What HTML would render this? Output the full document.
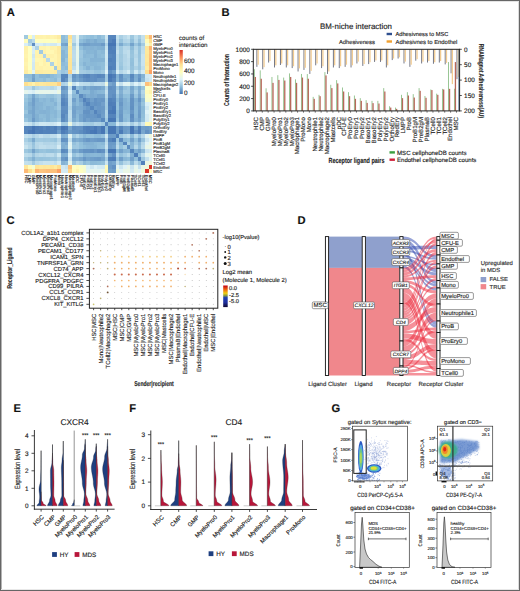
<!DOCTYPE html>
<html><head><meta charset="utf-8"><style>
html,body{margin:0;padding:0;background:#fff;}
svg{display:block;font-family:"Liberation Sans",sans-serif;text-rendering:geometricPrecision;}
text{stroke:#222;stroke-width:0.14px;}
</style></head><body>
<svg width="520" height="591" viewBox="0 0 520 591">
<rect x="0" y="0" width="520" height="591" fill="#fff"/>
<g shape-rendering="crispEdges">
<rect x="24.40" y="34.60" width="3.70" height="4.01" fill="#a0c9e0" />
<rect x="28.05" y="34.60" width="3.70" height="4.01" fill="#fffcba" />
<rect x="31.70" y="34.60" width="3.70" height="4.01" fill="#d8eef5" />
<rect x="35.35" y="34.60" width="3.70" height="4.01" fill="#fff1a9" />
<rect x="39.01" y="34.60" width="3.70" height="4.01" fill="#fff2ab" />
<rect x="42.66" y="34.60" width="3.70" height="4.01" fill="#fff4ae" />
<rect x="46.31" y="34.60" width="3.70" height="4.01" fill="#fff1aa" />
<rect x="49.96" y="34.60" width="3.70" height="4.01" fill="#fff4ae" />
<rect x="53.61" y="34.60" width="3.70" height="4.01" fill="#fff1ab" />
<rect x="57.26" y="34.60" width="3.70" height="4.01" fill="#feeca2" />
<rect x="60.91" y="34.60" width="3.70" height="4.01" fill="#8ebcda" />
<rect x="64.57" y="34.60" width="3.70" height="4.01" fill="#9ac5de" />
<rect x="68.22" y="34.60" width="3.70" height="4.01" fill="#fedf90" />
<rect x="71.87" y="34.60" width="3.70" height="4.01" fill="#beddec" />
<rect x="75.52" y="34.60" width="3.70" height="4.01" fill="#e6f5ed" />
<rect x="79.17" y="34.60" width="3.70" height="4.01" fill="#a3cbe2" />
<rect x="82.82" y="34.60" width="3.70" height="4.01" fill="#99c5de" />
<rect x="86.47" y="34.60" width="3.70" height="4.01" fill="#93c0dc" />
<rect x="90.13" y="34.60" width="3.70" height="4.01" fill="#90bedb" />
<rect x="93.78" y="34.60" width="3.70" height="4.01" fill="#9ac5de" />
<rect x="97.43" y="34.60" width="3.70" height="4.01" fill="#8bb9d8" />
<rect x="101.08" y="34.60" width="3.70" height="4.01" fill="#98c4de" />
<rect x="104.73" y="34.60" width="3.70" height="4.01" fill="#d0e8f2" />
<rect x="108.38" y="34.60" width="3.70" height="4.01" fill="#5686bd" />
<rect x="112.03" y="34.60" width="3.70" height="4.01" fill="#5685bd" />
<rect x="115.69" y="34.60" width="3.70" height="4.01" fill="#c4e1ee" />
<rect x="119.34" y="34.60" width="3.70" height="4.01" fill="#a9cfe4" />
<rect x="122.99" y="34.60" width="3.70" height="4.01" fill="#b9d9ea" />
<rect x="126.64" y="34.60" width="3.70" height="4.01" fill="#c6e2ee" />
<rect x="130.29" y="34.60" width="3.70" height="4.01" fill="#9dc7df" />
<rect x="133.94" y="34.60" width="3.70" height="4.01" fill="#bcdceb" />
<rect x="137.59" y="34.60" width="3.70" height="4.01" fill="#a5cce2" />
<rect x="141.25" y="34.60" width="3.70" height="4.01" fill="#c3e0ed" />
<rect x="144.90" y="34.60" width="3.70" height="4.01" fill="#fee79b" />
<rect x="148.55" y="34.60" width="3.70" height="4.01" fill="#fdb976" />
<rect x="24.40" y="38.56" width="3.70" height="4.01" fill="#fffcba" />
<rect x="28.05" y="38.56" width="3.70" height="4.01" fill="#a5cce2" />
<rect x="31.70" y="38.56" width="3.70" height="4.01" fill="#badaea" />
<rect x="35.35" y="38.56" width="3.70" height="4.01" fill="#fefec2" />
<rect x="39.01" y="38.56" width="3.70" height="4.01" fill="#fdfec4" />
<rect x="42.66" y="38.56" width="3.70" height="4.01" fill="#fffebe" />
<rect x="46.31" y="38.56" width="3.70" height="4.01" fill="#ffffbf" />
<rect x="49.96" y="38.56" width="3.70" height="4.01" fill="#fcfec4" />
<rect x="53.61" y="38.56" width="3.70" height="4.01" fill="#feffc0" />
<rect x="57.26" y="38.56" width="3.70" height="4.01" fill="#fff8b4" />
<rect x="60.91" y="38.56" width="3.70" height="4.01" fill="#8dbbd9" />
<rect x="64.57" y="38.56" width="3.70" height="4.01" fill="#90beda" />
<rect x="68.22" y="38.56" width="3.70" height="4.01" fill="#fee99e" />
<rect x="71.87" y="38.56" width="3.70" height="4.01" fill="#bedceb" />
<rect x="75.52" y="38.56" width="3.70" height="4.01" fill="#dff2f7" />
<rect x="79.17" y="38.56" width="3.70" height="4.01" fill="#91bfdb" />
<rect x="82.82" y="38.56" width="3.70" height="4.01" fill="#88b6d6" />
<rect x="86.47" y="38.56" width="3.70" height="4.01" fill="#7eadd1" />
<rect x="90.13" y="38.56" width="3.70" height="4.01" fill="#84b2d4" />
<rect x="93.78" y="38.56" width="3.70" height="4.01" fill="#7cabd0" />
<rect x="97.43" y="38.56" width="3.70" height="4.01" fill="#86b5d6" />
<rect x="101.08" y="38.56" width="3.70" height="4.01" fill="#88b6d6" />
<rect x="104.73" y="38.56" width="3.70" height="4.01" fill="#c6e2ee" />
<rect x="108.38" y="38.56" width="3.70" height="4.01" fill="#5483bb" />
<rect x="112.03" y="38.56" width="3.70" height="4.01" fill="#4b7ab7" />
<rect x="115.69" y="38.56" width="3.70" height="4.01" fill="#bcdbeb" />
<rect x="119.34" y="38.56" width="3.70" height="4.01" fill="#97c3dd" />
<rect x="122.99" y="38.56" width="3.70" height="4.01" fill="#b1d4e7" />
<rect x="126.64" y="38.56" width="3.70" height="4.01" fill="#b5d7e8" />
<rect x="130.29" y="38.56" width="3.70" height="4.01" fill="#92bfdb" />
<rect x="133.94" y="38.56" width="3.70" height="4.01" fill="#b7d8e9" />
<rect x="137.59" y="38.56" width="3.70" height="4.01" fill="#95c1dc" />
<rect x="141.25" y="38.56" width="3.70" height="4.01" fill="#beddec" />
<rect x="144.90" y="38.56" width="3.70" height="4.01" fill="#fffbb9" />
<rect x="148.55" y="38.56" width="3.70" height="4.01" fill="#fedf8f" />
<rect x="24.40" y="42.52" width="3.70" height="4.01" fill="#d8eef5" />
<rect x="28.05" y="42.52" width="3.70" height="4.01" fill="#badaea" />
<rect x="31.70" y="42.52" width="3.70" height="4.01" fill="#608fc2" />
<rect x="35.35" y="42.52" width="3.70" height="4.01" fill="#d4ebf4" />
<rect x="39.01" y="42.52" width="3.70" height="4.01" fill="#d9eef5" />
<rect x="42.66" y="42.52" width="3.70" height="4.01" fill="#cee7f1" />
<rect x="46.31" y="42.52" width="3.70" height="4.01" fill="#d5ecf4" />
<rect x="49.96" y="42.52" width="3.70" height="4.01" fill="#d1e9f2" />
<rect x="53.61" y="42.52" width="3.70" height="4.01" fill="#d0e8f2" />
<rect x="57.26" y="42.52" width="3.70" height="4.01" fill="#e1f4f5" />
<rect x="60.91" y="42.52" width="3.70" height="4.01" fill="#77a6ce" />
<rect x="64.57" y="42.52" width="3.70" height="4.01" fill="#72a1cb" />
<rect x="68.22" y="42.52" width="3.70" height="4.01" fill="#fff2ab" />
<rect x="71.87" y="42.52" width="3.70" height="4.01" fill="#9fc8e0" />
<rect x="75.52" y="42.52" width="3.70" height="4.01" fill="#d6edf4" />
<rect x="79.17" y="42.52" width="3.70" height="4.01" fill="#77a6ce" />
<rect x="82.82" y="42.52" width="3.70" height="4.01" fill="#6f9eca" />
<rect x="86.47" y="42.52" width="3.70" height="4.01" fill="#719fca" />
<rect x="90.13" y="42.52" width="3.70" height="4.01" fill="#76a5cd" />
<rect x="93.78" y="42.52" width="3.70" height="4.01" fill="#75a4cd" />
<rect x="97.43" y="42.52" width="3.70" height="4.01" fill="#76a4cd" />
<rect x="101.08" y="42.52" width="3.70" height="4.01" fill="#6c9bc8" />
<rect x="104.73" y="42.52" width="3.70" height="4.01" fill="#aed2e6" />
<rect x="108.38" y="42.52" width="3.70" height="4.01" fill="#4575b4" />
<rect x="112.03" y="42.52" width="3.70" height="4.01" fill="#4575b4" />
<rect x="115.69" y="42.52" width="3.70" height="4.01" fill="#abd0e5" />
<rect x="119.34" y="42.52" width="3.70" height="4.01" fill="#7baad0" />
<rect x="122.99" y="42.52" width="3.70" height="4.01" fill="#96c2dd" />
<rect x="126.64" y="42.52" width="3.70" height="4.01" fill="#9cc6df" />
<rect x="130.29" y="42.52" width="3.70" height="4.01" fill="#74a3cc" />
<rect x="133.94" y="42.52" width="3.70" height="4.01" fill="#9bc5df" />
<rect x="137.59" y="42.52" width="3.70" height="4.01" fill="#82b1d3" />
<rect x="141.25" y="42.52" width="3.70" height="4.01" fill="#a3cbe2" />
<rect x="144.90" y="42.52" width="3.70" height="4.01" fill="#f4fbd4" />
<rect x="148.55" y="42.52" width="3.70" height="4.01" fill="#fff3ac" />
<rect x="24.40" y="46.48" width="3.70" height="4.01" fill="#fff1a9" />
<rect x="28.05" y="46.48" width="3.70" height="4.01" fill="#fefec2" />
<rect x="31.70" y="46.48" width="3.70" height="4.01" fill="#d4ebf4" />
<rect x="35.35" y="46.48" width="3.70" height="4.01" fill="#aed2e6" />
<rect x="39.01" y="46.48" width="3.70" height="4.01" fill="#fff4ae" />
<rect x="42.66" y="46.48" width="3.70" height="4.01" fill="#fff3ad" />
<rect x="46.31" y="46.48" width="3.70" height="4.01" fill="#fff7b4" />
<rect x="49.96" y="46.48" width="3.70" height="4.01" fill="#fff2ab" />
<rect x="53.61" y="46.48" width="3.70" height="4.01" fill="#fff3ac" />
<rect x="57.26" y="46.48" width="3.70" height="4.01" fill="#feea9f" />
<rect x="60.91" y="46.48" width="3.70" height="4.01" fill="#91bfdb" />
<rect x="64.57" y="46.48" width="3.70" height="4.01" fill="#90bedb" />
<rect x="68.22" y="46.48" width="3.70" height="4.01" fill="#fee699" />
<rect x="71.87" y="46.48" width="3.70" height="4.01" fill="#b5d7e8" />
<rect x="75.52" y="46.48" width="3.70" height="4.01" fill="#e5f5ef" />
<rect x="79.17" y="46.48" width="3.70" height="4.01" fill="#91bfdb" />
<rect x="82.82" y="46.48" width="3.70" height="4.01" fill="#82b1d4" />
<rect x="86.47" y="46.48" width="3.70" height="4.01" fill="#85b3d5" />
<rect x="90.13" y="46.48" width="3.70" height="4.01" fill="#84b2d4" />
<rect x="93.78" y="46.48" width="3.70" height="4.01" fill="#87b5d6" />
<rect x="97.43" y="46.48" width="3.70" height="4.01" fill="#82b1d3" />
<rect x="101.08" y="46.48" width="3.70" height="4.01" fill="#81b0d3" />
<rect x="104.73" y="46.48" width="3.70" height="4.01" fill="#c4e1ee" />
<rect x="108.38" y="46.48" width="3.70" height="4.01" fill="#4d7db8" />
<rect x="112.03" y="46.48" width="3.70" height="4.01" fill="#5181ba" />
<rect x="115.69" y="46.48" width="3.70" height="4.01" fill="#b7d8e9" />
<rect x="119.34" y="46.48" width="3.70" height="4.01" fill="#a1cae1" />
<rect x="122.99" y="46.48" width="3.70" height="4.01" fill="#b7d8e9" />
<rect x="126.64" y="46.48" width="3.70" height="4.01" fill="#b6d7e8" />
<rect x="130.29" y="46.48" width="3.70" height="4.01" fill="#8ebcd9" />
<rect x="133.94" y="46.48" width="3.70" height="4.01" fill="#b3d5e7" />
<rect x="137.59" y="46.48" width="3.70" height="4.01" fill="#99c4de" />
<rect x="141.25" y="46.48" width="3.70" height="4.01" fill="#bbdbea" />
<rect x="144.90" y="46.48" width="3.70" height="4.01" fill="#fee598" />
<rect x="148.55" y="46.48" width="3.70" height="4.01" fill="#fdb473" />
<rect x="24.40" y="50.44" width="3.70" height="4.01" fill="#fff2ab" />
<rect x="28.05" y="50.44" width="3.70" height="4.01" fill="#fdfec4" />
<rect x="31.70" y="50.44" width="3.70" height="4.01" fill="#d9eef5" />
<rect x="35.35" y="50.44" width="3.70" height="4.01" fill="#fff4ae" />
<rect x="39.01" y="50.44" width="3.70" height="4.01" fill="#a2cae1" />
<rect x="42.66" y="50.44" width="3.70" height="4.01" fill="#fff2ac" />
<rect x="46.31" y="50.44" width="3.70" height="4.01" fill="#fff7b2" />
<rect x="49.96" y="50.44" width="3.70" height="4.01" fill="#fff8b4" />
<rect x="53.61" y="50.44" width="3.70" height="4.01" fill="#fff2ab" />
<rect x="57.26" y="50.44" width="3.70" height="4.01" fill="#feeca3" />
<rect x="60.91" y="50.44" width="3.70" height="4.01" fill="#87b5d6" />
<rect x="64.57" y="50.44" width="3.70" height="4.01" fill="#93c0dc" />
<rect x="68.22" y="50.44" width="3.70" height="4.01" fill="#fee99d" />
<rect x="71.87" y="50.44" width="3.70" height="4.01" fill="#bcdbeb" />
<rect x="75.52" y="50.44" width="3.70" height="4.01" fill="#e7f6ea" />
<rect x="79.17" y="50.44" width="3.70" height="4.01" fill="#9ec8e0" />
<rect x="82.82" y="50.44" width="3.70" height="4.01" fill="#8dbbd9" />
<rect x="86.47" y="50.44" width="3.70" height="4.01" fill="#86b4d5" />
<rect x="90.13" y="50.44" width="3.70" height="4.01" fill="#87b6d6" />
<rect x="93.78" y="50.44" width="3.70" height="4.01" fill="#84b2d4" />
<rect x="97.43" y="50.44" width="3.70" height="4.01" fill="#8ebcd9" />
<rect x="101.08" y="50.44" width="3.70" height="4.01" fill="#8ab8d7" />
<rect x="104.73" y="50.44" width="3.70" height="4.01" fill="#cfe8f2" />
<rect x="108.38" y="50.44" width="3.70" height="4.01" fill="#5180ba" />
<rect x="112.03" y="50.44" width="3.70" height="4.01" fill="#4f7fb9" />
<rect x="115.69" y="50.44" width="3.70" height="4.01" fill="#c4e0ee" />
<rect x="119.34" y="50.44" width="3.70" height="4.01" fill="#a3cbe2" />
<rect x="122.99" y="50.44" width="3.70" height="4.01" fill="#bbdbeb" />
<rect x="126.64" y="50.44" width="3.70" height="4.01" fill="#c1deec" />
<rect x="130.29" y="50.44" width="3.70" height="4.01" fill="#97c3dd" />
<rect x="133.94" y="50.44" width="3.70" height="4.01" fill="#badaea" />
<rect x="137.59" y="50.44" width="3.70" height="4.01" fill="#96c3dd" />
<rect x="141.25" y="50.44" width="3.70" height="4.01" fill="#c2dfed" />
<rect x="144.90" y="50.44" width="3.70" height="4.01" fill="#fee99d" />
<rect x="148.55" y="50.44" width="3.70" height="4.01" fill="#fdc57e" />
<rect x="24.40" y="54.40" width="3.70" height="4.01" fill="#fff4ae" />
<rect x="28.05" y="54.40" width="3.70" height="4.01" fill="#fffebe" />
<rect x="31.70" y="54.40" width="3.70" height="4.01" fill="#cee7f1" />
<rect x="35.35" y="54.40" width="3.70" height="4.01" fill="#fff3ad" />
<rect x="39.01" y="54.40" width="3.70" height="4.01" fill="#fff2ac" />
<rect x="42.66" y="54.40" width="3.70" height="4.01" fill="#b0d3e6" />
<rect x="46.31" y="54.40" width="3.70" height="4.01" fill="#fff1aa" />
<rect x="49.96" y="54.40" width="3.70" height="4.01" fill="#fff2ab" />
<rect x="53.61" y="54.40" width="3.70" height="4.01" fill="#fff5b0" />
<rect x="57.26" y="54.40" width="3.70" height="4.01" fill="#feeea6" />
<rect x="60.91" y="54.40" width="3.70" height="4.01" fill="#88b6d6" />
<rect x="64.57" y="54.40" width="3.70" height="4.01" fill="#8dbbd9" />
<rect x="68.22" y="54.40" width="3.70" height="4.01" fill="#fee79b" />
<rect x="71.87" y="54.40" width="3.70" height="4.01" fill="#bedceb" />
<rect x="75.52" y="54.40" width="3.70" height="4.01" fill="#e7f6eb" />
<rect x="79.17" y="54.40" width="3.70" height="4.01" fill="#9ec7e0" />
<rect x="82.82" y="54.40" width="3.70" height="4.01" fill="#89b7d7" />
<rect x="86.47" y="54.40" width="3.70" height="4.01" fill="#8cbad8" />
<rect x="90.13" y="54.40" width="3.70" height="4.01" fill="#8ebcda" />
<rect x="93.78" y="54.40" width="3.70" height="4.01" fill="#83b1d4" />
<rect x="97.43" y="54.40" width="3.70" height="4.01" fill="#8cbad8" />
<rect x="101.08" y="54.40" width="3.70" height="4.01" fill="#90beda" />
<rect x="104.73" y="54.40" width="3.70" height="4.01" fill="#cfe8f2" />
<rect x="108.38" y="54.40" width="3.70" height="4.01" fill="#5787bd" />
<rect x="112.03" y="54.40" width="3.70" height="4.01" fill="#5383bb" />
<rect x="115.69" y="54.40" width="3.70" height="4.01" fill="#b9d9ea" />
<rect x="119.34" y="54.40" width="3.70" height="4.01" fill="#a0c9e0" />
<rect x="122.99" y="54.40" width="3.70" height="4.01" fill="#b3d5e7" />
<rect x="126.64" y="54.40" width="3.70" height="4.01" fill="#c0deec" />
<rect x="130.29" y="54.40" width="3.70" height="4.01" fill="#9ac5de" />
<rect x="133.94" y="54.40" width="3.70" height="4.01" fill="#b4d6e8" />
<rect x="137.59" y="54.40" width="3.70" height="4.01" fill="#99c4de" />
<rect x="141.25" y="54.40" width="3.70" height="4.01" fill="#c9e4ef" />
<rect x="144.90" y="54.40" width="3.70" height="4.01" fill="#fee69a" />
<rect x="148.55" y="54.40" width="3.70" height="4.01" fill="#fdc27c" />
<rect x="24.40" y="58.36" width="3.70" height="4.01" fill="#fff1aa" />
<rect x="28.05" y="58.36" width="3.70" height="4.01" fill="#ffffbf" />
<rect x="31.70" y="58.36" width="3.70" height="4.01" fill="#d5ecf4" />
<rect x="35.35" y="58.36" width="3.70" height="4.01" fill="#fff7b4" />
<rect x="39.01" y="58.36" width="3.70" height="4.01" fill="#fff7b2" />
<rect x="42.66" y="58.36" width="3.70" height="4.01" fill="#fff1aa" />
<rect x="46.31" y="58.36" width="3.70" height="4.01" fill="#b8d8e9" />
<rect x="49.96" y="58.36" width="3.70" height="4.01" fill="#fff6b1" />
<rect x="53.61" y="58.36" width="3.70" height="4.01" fill="#fff4af" />
<rect x="57.26" y="58.36" width="3.70" height="4.01" fill="#feefa6" />
<rect x="60.91" y="58.36" width="3.70" height="4.01" fill="#84b3d5" />
<rect x="64.57" y="58.36" width="3.70" height="4.01" fill="#9ac5de" />
<rect x="68.22" y="58.36" width="3.70" height="4.01" fill="#fee497" />
<rect x="71.87" y="58.36" width="3.70" height="4.01" fill="#bcdbeb" />
<rect x="75.52" y="58.36" width="3.70" height="4.01" fill="#e7f6eb" />
<rect x="79.17" y="58.36" width="3.70" height="4.01" fill="#97c3dd" />
<rect x="82.82" y="58.36" width="3.70" height="4.01" fill="#8fbdda" />
<rect x="86.47" y="58.36" width="3.70" height="4.01" fill="#8fbdda" />
<rect x="90.13" y="58.36" width="3.70" height="4.01" fill="#85b3d5" />
<rect x="93.78" y="58.36" width="3.70" height="4.01" fill="#85b4d5" />
<rect x="97.43" y="58.36" width="3.70" height="4.01" fill="#86b4d5" />
<rect x="101.08" y="58.36" width="3.70" height="4.01" fill="#85b4d5" />
<rect x="104.73" y="58.36" width="3.70" height="4.01" fill="#cce6f1" />
<rect x="108.38" y="58.36" width="3.70" height="4.01" fill="#4f7fb9" />
<rect x="112.03" y="58.36" width="3.70" height="4.01" fill="#5282bb" />
<rect x="115.69" y="58.36" width="3.70" height="4.01" fill="#b8d9e9" />
<rect x="119.34" y="58.36" width="3.70" height="4.01" fill="#a2cae1" />
<rect x="122.99" y="58.36" width="3.70" height="4.01" fill="#b3d5e8" />
<rect x="126.64" y="58.36" width="3.70" height="4.01" fill="#bbdaea" />
<rect x="130.29" y="58.36" width="3.70" height="4.01" fill="#93c1dc" />
<rect x="133.94" y="58.36" width="3.70" height="4.01" fill="#bcdbeb" />
<rect x="137.59" y="58.36" width="3.70" height="4.01" fill="#9ac5de" />
<rect x="141.25" y="58.36" width="3.70" height="4.01" fill="#c8e3ef" />
<rect x="144.90" y="58.36" width="3.70" height="4.01" fill="#fee89c" />
<rect x="148.55" y="58.36" width="3.70" height="4.01" fill="#fdbc78" />
<rect x="24.40" y="62.32" width="3.70" height="4.01" fill="#fff4ae" />
<rect x="28.05" y="62.32" width="3.70" height="4.01" fill="#fcfec4" />
<rect x="31.70" y="62.32" width="3.70" height="4.01" fill="#d1e9f2" />
<rect x="35.35" y="62.32" width="3.70" height="4.01" fill="#fff2ab" />
<rect x="39.01" y="62.32" width="3.70" height="4.01" fill="#fff8b4" />
<rect x="42.66" y="62.32" width="3.70" height="4.01" fill="#fff2ab" />
<rect x="46.31" y="62.32" width="3.70" height="4.01" fill="#fff6b1" />
<rect x="49.96" y="62.32" width="3.70" height="4.01" fill="#add1e5" />
<rect x="53.61" y="62.32" width="3.70" height="4.01" fill="#fff4af" />
<rect x="57.26" y="62.32" width="3.70" height="4.01" fill="#feeea5" />
<rect x="60.91" y="62.32" width="3.70" height="4.01" fill="#8dbbd9" />
<rect x="64.57" y="62.32" width="3.70" height="4.01" fill="#93c0dc" />
<rect x="68.22" y="62.32" width="3.70" height="4.01" fill="#fee495" />
<rect x="71.87" y="62.32" width="3.70" height="4.01" fill="#b5d7e8" />
<rect x="75.52" y="62.32" width="3.70" height="4.01" fill="#e5f5ef" />
<rect x="79.17" y="62.32" width="3.70" height="4.01" fill="#94c1dc" />
<rect x="82.82" y="62.32" width="3.70" height="4.01" fill="#86b4d5" />
<rect x="86.47" y="62.32" width="3.70" height="4.01" fill="#8ebcd9" />
<rect x="90.13" y="62.32" width="3.70" height="4.01" fill="#8ab8d7" />
<rect x="93.78" y="62.32" width="3.70" height="4.01" fill="#8ab9d8" />
<rect x="97.43" y="62.32" width="3.70" height="4.01" fill="#8ebcd9" />
<rect x="101.08" y="62.32" width="3.70" height="4.01" fill="#90beda" />
<rect x="104.73" y="62.32" width="3.70" height="4.01" fill="#c9e4f0" />
<rect x="108.38" y="62.32" width="3.70" height="4.01" fill="#5585bc" />
<rect x="112.03" y="62.32" width="3.70" height="4.01" fill="#5383bb" />
<rect x="115.69" y="62.32" width="3.70" height="4.01" fill="#bfddec" />
<rect x="119.34" y="62.32" width="3.70" height="4.01" fill="#9ec8e0" />
<rect x="122.99" y="62.32" width="3.70" height="4.01" fill="#b5d7e8" />
<rect x="126.64" y="62.32" width="3.70" height="4.01" fill="#bcdbeb" />
<rect x="130.29" y="62.32" width="3.70" height="4.01" fill="#92bfdb" />
<rect x="133.94" y="62.32" width="3.70" height="4.01" fill="#bddceb" />
<rect x="137.59" y="62.32" width="3.70" height="4.01" fill="#9ec8e0" />
<rect x="141.25" y="62.32" width="3.70" height="4.01" fill="#c8e3ef" />
<rect x="144.90" y="62.32" width="3.70" height="4.01" fill="#fee597" />
<rect x="148.55" y="62.32" width="3.70" height="4.01" fill="#fdc17b" />
<rect x="24.40" y="66.28" width="3.70" height="4.01" fill="#fff1ab" />
<rect x="28.05" y="66.28" width="3.70" height="4.01" fill="#feffc0" />
<rect x="31.70" y="66.28" width="3.70" height="4.01" fill="#d0e8f2" />
<rect x="35.35" y="66.28" width="3.70" height="4.01" fill="#fff3ac" />
<rect x="39.01" y="66.28" width="3.70" height="4.01" fill="#fff2ab" />
<rect x="42.66" y="66.28" width="3.70" height="4.01" fill="#fff5b0" />
<rect x="46.31" y="66.28" width="3.70" height="4.01" fill="#fff4af" />
<rect x="49.96" y="66.28" width="3.70" height="4.01" fill="#fff4af" />
<rect x="53.61" y="66.28" width="3.70" height="4.01" fill="#a2cae1" />
<rect x="57.26" y="66.28" width="3.70" height="4.01" fill="#feeba0" />
<rect x="60.91" y="66.28" width="3.70" height="4.01" fill="#93c0dc" />
<rect x="64.57" y="66.28" width="3.70" height="4.01" fill="#8cbbd9" />
<rect x="68.22" y="66.28" width="3.70" height="4.01" fill="#fee496" />
<rect x="71.87" y="66.28" width="3.70" height="4.01" fill="#beddec" />
<rect x="75.52" y="66.28" width="3.70" height="4.01" fill="#e2f4f4" />
<rect x="79.17" y="66.28" width="3.70" height="4.01" fill="#9ec8e0" />
<rect x="82.82" y="66.28" width="3.70" height="4.01" fill="#91bfdb" />
<rect x="86.47" y="66.28" width="3.70" height="4.01" fill="#85b3d5" />
<rect x="90.13" y="66.28" width="3.70" height="4.01" fill="#91bfdb" />
<rect x="93.78" y="66.28" width="3.70" height="4.01" fill="#88b6d6" />
<rect x="97.43" y="66.28" width="3.70" height="4.01" fill="#89b7d7" />
<rect x="101.08" y="66.28" width="3.70" height="4.01" fill="#91bfdb" />
<rect x="104.73" y="66.28" width="3.70" height="4.01" fill="#d0e8f2" />
<rect x="108.38" y="66.28" width="3.70" height="4.01" fill="#4e7eb9" />
<rect x="112.03" y="66.28" width="3.70" height="4.01" fill="#5282bb" />
<rect x="115.69" y="66.28" width="3.70" height="4.01" fill="#bfddec" />
<rect x="119.34" y="66.28" width="3.70" height="4.01" fill="#98c4de" />
<rect x="122.99" y="66.28" width="3.70" height="4.01" fill="#b0d4e7" />
<rect x="126.64" y="66.28" width="3.70" height="4.01" fill="#b8d9e9" />
<rect x="130.29" y="66.28" width="3.70" height="4.01" fill="#96c2dd" />
<rect x="133.94" y="66.28" width="3.70" height="4.01" fill="#aed2e5" />
<rect x="137.59" y="66.28" width="3.70" height="4.01" fill="#9cc6df" />
<rect x="141.25" y="66.28" width="3.70" height="4.01" fill="#c0deec" />
<rect x="144.90" y="66.28" width="3.70" height="4.01" fill="#feeba1" />
<rect x="148.55" y="66.28" width="3.70" height="4.01" fill="#fdc07b" />
<rect x="24.40" y="70.24" width="3.70" height="4.01" fill="#feeca2" />
<rect x="28.05" y="70.24" width="3.70" height="4.01" fill="#fff8b4" />
<rect x="31.70" y="70.24" width="3.70" height="4.01" fill="#e1f4f5" />
<rect x="35.35" y="70.24" width="3.70" height="4.01" fill="#feea9f" />
<rect x="39.01" y="70.24" width="3.70" height="4.01" fill="#feeca3" />
<rect x="42.66" y="70.24" width="3.70" height="4.01" fill="#feeea6" />
<rect x="46.31" y="70.24" width="3.70" height="4.01" fill="#feefa6" />
<rect x="49.96" y="70.24" width="3.70" height="4.01" fill="#feeea5" />
<rect x="53.61" y="70.24" width="3.70" height="4.01" fill="#feeba0" />
<rect x="57.26" y="70.24" width="3.70" height="4.01" fill="#acd1e5" />
<rect x="60.91" y="70.24" width="3.70" height="4.01" fill="#9bc5df" />
<rect x="64.57" y="70.24" width="3.70" height="4.01" fill="#a5cce3" />
<rect x="68.22" y="70.24" width="3.70" height="4.01" fill="#fed286" />
<rect x="71.87" y="70.24" width="3.70" height="4.01" fill="#d5ecf4" />
<rect x="75.52" y="70.24" width="3.70" height="4.01" fill="#ebf7e4" />
<rect x="79.17" y="70.24" width="3.70" height="4.01" fill="#a7cde3" />
<rect x="82.82" y="70.24" width="3.70" height="4.01" fill="#a5cce2" />
<rect x="86.47" y="70.24" width="3.70" height="4.01" fill="#9fc8e0" />
<rect x="90.13" y="70.24" width="3.70" height="4.01" fill="#a1cae1" />
<rect x="93.78" y="70.24" width="3.70" height="4.01" fill="#97c3dd" />
<rect x="97.43" y="70.24" width="3.70" height="4.01" fill="#96c3dd" />
<rect x="101.08" y="70.24" width="3.70" height="4.01" fill="#a1cae1" />
<rect x="104.73" y="70.24" width="3.70" height="4.01" fill="#def2f7" />
<rect x="108.38" y="70.24" width="3.70" height="4.01" fill="#6090c2" />
<rect x="112.03" y="70.24" width="3.70" height="4.01" fill="#6e9dc9" />
<rect x="115.69" y="70.24" width="3.70" height="4.01" fill="#d5ecf4" />
<rect x="119.34" y="70.24" width="3.70" height="4.01" fill="#b5d6e8" />
<rect x="122.99" y="70.24" width="3.70" height="4.01" fill="#c3e0ed" />
<rect x="126.64" y="70.24" width="3.70" height="4.01" fill="#d6ecf4" />
<rect x="130.29" y="70.24" width="3.70" height="4.01" fill="#a0c9e0" />
<rect x="133.94" y="70.24" width="3.70" height="4.01" fill="#d0e9f2" />
<rect x="137.59" y="70.24" width="3.70" height="4.01" fill="#afd3e6" />
<rect x="141.25" y="70.24" width="3.70" height="4.01" fill="#d3ebf3" />
<rect x="144.90" y="70.24" width="3.70" height="4.01" fill="#fede8f" />
<rect x="148.55" y="70.24" width="3.70" height="4.01" fill="#fca065" />
<rect x="24.40" y="74.20" width="3.70" height="4.01" fill="#8ebcda" />
<rect x="28.05" y="74.20" width="3.70" height="4.01" fill="#8dbbd9" />
<rect x="31.70" y="74.20" width="3.70" height="4.01" fill="#77a6ce" />
<rect x="35.35" y="74.20" width="3.70" height="4.01" fill="#91bfdb" />
<rect x="39.01" y="74.20" width="3.70" height="4.01" fill="#87b5d6" />
<rect x="42.66" y="74.20" width="3.70" height="4.01" fill="#88b6d6" />
<rect x="46.31" y="74.20" width="3.70" height="4.01" fill="#84b3d5" />
<rect x="49.96" y="74.20" width="3.70" height="4.01" fill="#8dbbd9" />
<rect x="53.61" y="74.20" width="3.70" height="4.01" fill="#93c0dc" />
<rect x="57.26" y="74.20" width="3.70" height="4.01" fill="#9bc5df" />
<rect x="60.91" y="74.20" width="3.70" height="4.01" fill="#5787bd" />
<rect x="64.57" y="74.20" width="3.70" height="4.01" fill="#5685bd" />
<rect x="68.22" y="74.20" width="3.70" height="4.01" fill="#add1e5" />
<rect x="71.87" y="74.20" width="3.70" height="4.01" fill="#6594c4" />
<rect x="75.52" y="74.20" width="3.70" height="4.01" fill="#73a2cc" />
<rect x="79.17" y="74.20" width="3.70" height="4.01" fill="#6292c3" />
<rect x="82.82" y="74.20" width="3.70" height="4.01" fill="#5887be" />
<rect x="86.47" y="74.20" width="3.70" height="4.01" fill="#5484bc" />
<rect x="90.13" y="74.20" width="3.70" height="4.01" fill="#608fc2" />
<rect x="93.78" y="74.20" width="3.70" height="4.01" fill="#5d8cc0" />
<rect x="97.43" y="74.20" width="3.70" height="4.01" fill="#5786bd" />
<rect x="101.08" y="74.20" width="3.70" height="4.01" fill="#5b8bbf" />
<rect x="104.73" y="74.20" width="3.70" height="4.01" fill="#a2cae1" />
<rect x="108.38" y="74.20" width="3.70" height="4.01" fill="#4575b4" />
<rect x="112.03" y="74.20" width="3.70" height="4.01" fill="#4d7db8" />
<rect x="115.69" y="74.20" width="3.70" height="4.01" fill="#83b1d4" />
<rect x="119.34" y="74.20" width="3.70" height="4.01" fill="#6191c3" />
<rect x="122.99" y="74.20" width="3.70" height="4.01" fill="#80afd3" />
<rect x="126.64" y="74.20" width="3.70" height="4.01" fill="#7faed2" />
<rect x="130.29" y="74.20" width="3.70" height="4.01" fill="#5989be" />
<rect x="133.94" y="74.20" width="3.70" height="4.01" fill="#7eadd1" />
<rect x="137.59" y="74.20" width="3.70" height="4.01" fill="#6998c7" />
<rect x="141.25" y="74.20" width="3.70" height="4.01" fill="#84b2d4" />
<rect x="144.90" y="74.20" width="3.70" height="4.01" fill="#d0e8f2" />
<rect x="148.55" y="74.20" width="3.70" height="4.01" fill="#d4ebf3" />
<rect x="24.40" y="78.16" width="3.70" height="4.01" fill="#9ac5de" />
<rect x="28.05" y="78.16" width="3.70" height="4.01" fill="#90beda" />
<rect x="31.70" y="78.16" width="3.70" height="4.01" fill="#72a1cb" />
<rect x="35.35" y="78.16" width="3.70" height="4.01" fill="#90bedb" />
<rect x="39.01" y="78.16" width="3.70" height="4.01" fill="#93c0dc" />
<rect x="42.66" y="78.16" width="3.70" height="4.01" fill="#8dbbd9" />
<rect x="46.31" y="78.16" width="3.70" height="4.01" fill="#9ac5de" />
<rect x="49.96" y="78.16" width="3.70" height="4.01" fill="#93c0dc" />
<rect x="53.61" y="78.16" width="3.70" height="4.01" fill="#8cbbd9" />
<rect x="57.26" y="78.16" width="3.70" height="4.01" fill="#a5cce3" />
<rect x="60.91" y="78.16" width="3.70" height="4.01" fill="#5685bd" />
<rect x="64.57" y="78.16" width="3.70" height="4.01" fill="#6594c4" />
<rect x="68.22" y="78.16" width="3.70" height="4.01" fill="#b5d7e8" />
<rect x="71.87" y="78.16" width="3.70" height="4.01" fill="#6c9bc8" />
<rect x="75.52" y="78.16" width="3.70" height="4.01" fill="#77a6ce" />
<rect x="79.17" y="78.16" width="3.70" height="4.01" fill="#6c9bc8" />
<rect x="82.82" y="78.16" width="3.70" height="4.01" fill="#6190c2" />
<rect x="86.47" y="78.16" width="3.70" height="4.01" fill="#5c8bc0" />
<rect x="90.13" y="78.16" width="3.70" height="4.01" fill="#6190c2" />
<rect x="93.78" y="78.16" width="3.70" height="4.01" fill="#5e8dc1" />
<rect x="97.43" y="78.16" width="3.70" height="4.01" fill="#6998c6" />
<rect x="101.08" y="78.16" width="3.70" height="4.01" fill="#6998c6" />
<rect x="104.73" y="78.16" width="3.70" height="4.01" fill="#a2cae1" />
<rect x="108.38" y="78.16" width="3.70" height="4.01" fill="#4979b6" />
<rect x="112.03" y="78.16" width="3.70" height="4.01" fill="#5585bc" />
<rect x="115.69" y="78.16" width="3.70" height="4.01" fill="#86b5d6" />
<rect x="119.34" y="78.16" width="3.70" height="4.01" fill="#6594c4" />
<rect x="122.99" y="78.16" width="3.70" height="4.01" fill="#79a8cf" />
<rect x="126.64" y="78.16" width="3.70" height="4.01" fill="#85b3d5" />
<rect x="130.29" y="78.16" width="3.70" height="4.01" fill="#5e8ec1" />
<rect x="133.94" y="78.16" width="3.70" height="4.01" fill="#81afd3" />
<rect x="137.59" y="78.16" width="3.70" height="4.01" fill="#6292c3" />
<rect x="141.25" y="78.16" width="3.70" height="4.01" fill="#8cbad9" />
<rect x="144.90" y="78.16" width="3.70" height="4.01" fill="#c8e3ef" />
<rect x="148.55" y="78.16" width="3.70" height="4.01" fill="#d2eaf3" />
<rect x="24.40" y="82.12" width="3.70" height="4.01" fill="#fedf90" />
<rect x="28.05" y="82.12" width="3.70" height="4.01" fill="#fee99e" />
<rect x="31.70" y="82.12" width="3.70" height="4.01" fill="#fff2ab" />
<rect x="35.35" y="82.12" width="3.70" height="4.01" fill="#fee699" />
<rect x="39.01" y="82.12" width="3.70" height="4.01" fill="#fee99d" />
<rect x="42.66" y="82.12" width="3.70" height="4.01" fill="#fee79b" />
<rect x="46.31" y="82.12" width="3.70" height="4.01" fill="#fee497" />
<rect x="49.96" y="82.12" width="3.70" height="4.01" fill="#fee495" />
<rect x="53.61" y="82.12" width="3.70" height="4.01" fill="#fee496" />
<rect x="57.26" y="82.12" width="3.70" height="4.01" fill="#fed286" />
<rect x="60.91" y="82.12" width="3.70" height="4.01" fill="#add1e5" />
<rect x="64.57" y="82.12" width="3.70" height="4.01" fill="#b5d7e8" />
<rect x="68.22" y="82.12" width="3.70" height="4.01" fill="#eef8de" />
<rect x="71.87" y="82.12" width="3.70" height="4.01" fill="#c4e1ee" />
<rect x="75.52" y="82.12" width="3.70" height="4.01" fill="#dbf0f6" />
<rect x="79.17" y="82.12" width="3.70" height="4.01" fill="#c1dfed" />
<rect x="82.82" y="82.12" width="3.70" height="4.01" fill="#bcdbeb" />
<rect x="86.47" y="82.12" width="3.70" height="4.01" fill="#bbdbea" />
<rect x="90.13" y="82.12" width="3.70" height="4.01" fill="#b1d4e7" />
<rect x="93.78" y="82.12" width="3.70" height="4.01" fill="#beddec" />
<rect x="97.43" y="82.12" width="3.70" height="4.01" fill="#bfddec" />
<rect x="101.08" y="82.12" width="3.70" height="4.01" fill="#bbdaea" />
<rect x="104.73" y="82.12" width="3.70" height="4.01" fill="#ecf7e3" />
<rect x="108.38" y="82.12" width="3.70" height="4.01" fill="#78a6ce" />
<rect x="112.03" y="82.12" width="3.70" height="4.01" fill="#6d9cc8" />
<rect x="115.69" y="82.12" width="3.70" height="4.01" fill="#e3f4f2" />
<rect x="119.34" y="82.12" width="3.70" height="4.01" fill="#c4e1ee" />
<rect x="122.99" y="82.12" width="3.70" height="4.01" fill="#e2f4f5" />
<rect x="126.64" y="82.12" width="3.70" height="4.01" fill="#e4f5f1" />
<rect x="130.29" y="82.12" width="3.70" height="4.01" fill="#c1dfed" />
<rect x="133.94" y="82.12" width="3.70" height="4.01" fill="#e0f3f8" />
<rect x="137.59" y="82.12" width="3.70" height="4.01" fill="#cbe5f0" />
<rect x="141.25" y="82.12" width="3.70" height="4.01" fill="#e5f5ee" />
<rect x="144.90" y="82.12" width="3.70" height="4.01" fill="#fdc07b" />
<rect x="148.55" y="82.12" width="3.70" height="4.01" fill="#fed488" />
<rect x="24.40" y="86.08" width="3.70" height="4.01" fill="#beddec" />
<rect x="28.05" y="86.08" width="3.70" height="4.01" fill="#bedceb" />
<rect x="31.70" y="86.08" width="3.70" height="4.01" fill="#9fc8e0" />
<rect x="35.35" y="86.08" width="3.70" height="4.01" fill="#b5d7e8" />
<rect x="39.01" y="86.08" width="3.70" height="4.01" fill="#bcdbeb" />
<rect x="42.66" y="86.08" width="3.70" height="4.01" fill="#bedceb" />
<rect x="46.31" y="86.08" width="3.70" height="4.01" fill="#bcdbeb" />
<rect x="49.96" y="86.08" width="3.70" height="4.01" fill="#b5d7e8" />
<rect x="53.61" y="86.08" width="3.70" height="4.01" fill="#beddec" />
<rect x="57.26" y="86.08" width="3.70" height="4.01" fill="#d5ecf4" />
<rect x="60.91" y="86.08" width="3.70" height="4.01" fill="#6594c4" />
<rect x="64.57" y="86.08" width="3.70" height="4.01" fill="#6c9bc8" />
<rect x="68.22" y="86.08" width="3.70" height="4.01" fill="#c4e1ee" />
<rect x="71.87" y="86.08" width="3.70" height="4.01" fill="#5686bd" />
<rect x="75.52" y="86.08" width="3.70" height="4.01" fill="#93c0dc" />
<rect x="79.17" y="86.08" width="3.70" height="4.01" fill="#89b7d7" />
<rect x="82.82" y="86.08" width="3.70" height="4.01" fill="#71a0cb" />
<rect x="86.47" y="86.08" width="3.70" height="4.01" fill="#7cabd0" />
<rect x="90.13" y="86.08" width="3.70" height="4.01" fill="#74a3cc" />
<rect x="93.78" y="86.08" width="3.70" height="4.01" fill="#72a0cb" />
<rect x="97.43" y="86.08" width="3.70" height="4.01" fill="#75a3cc" />
<rect x="101.08" y="86.08" width="3.70" height="4.01" fill="#7cabd0" />
<rect x="104.73" y="86.08" width="3.70" height="4.01" fill="#b4d6e8" />
<rect x="108.38" y="86.08" width="3.70" height="4.01" fill="#608fc2" />
<rect x="112.03" y="86.08" width="3.70" height="4.01" fill="#6393c4" />
<rect x="115.69" y="86.08" width="3.70" height="4.01" fill="#9ec7e0" />
<rect x="119.34" y="86.08" width="3.70" height="4.01" fill="#79a8cf" />
<rect x="122.99" y="86.08" width="3.70" height="4.01" fill="#95c1dc" />
<rect x="126.64" y="86.08" width="3.70" height="4.01" fill="#9ec8e0" />
<rect x="130.29" y="86.08" width="3.70" height="4.01" fill="#77a6ce" />
<rect x="133.94" y="86.08" width="3.70" height="4.01" fill="#97c3dd" />
<rect x="137.59" y="86.08" width="3.70" height="4.01" fill="#7dacd1" />
<rect x="141.25" y="86.08" width="3.70" height="4.01" fill="#9ac5de" />
<rect x="144.90" y="86.08" width="3.70" height="4.01" fill="#fcfec5" />
<rect x="148.55" y="86.08" width="3.70" height="4.01" fill="#fffdbc" />
<rect x="24.40" y="90.04" width="3.70" height="4.01" fill="#e6f5ed" />
<rect x="28.05" y="90.04" width="3.70" height="4.01" fill="#dff2f7" />
<rect x="31.70" y="90.04" width="3.70" height="4.01" fill="#d6edf4" />
<rect x="35.35" y="90.04" width="3.70" height="4.01" fill="#e5f5ef" />
<rect x="39.01" y="90.04" width="3.70" height="4.01" fill="#e7f6ea" />
<rect x="42.66" y="90.04" width="3.70" height="4.01" fill="#e7f6eb" />
<rect x="46.31" y="90.04" width="3.70" height="4.01" fill="#e7f6eb" />
<rect x="49.96" y="90.04" width="3.70" height="4.01" fill="#e5f5ef" />
<rect x="53.61" y="90.04" width="3.70" height="4.01" fill="#e2f4f4" />
<rect x="57.26" y="90.04" width="3.70" height="4.01" fill="#ebf7e4" />
<rect x="60.91" y="90.04" width="3.70" height="4.01" fill="#73a2cc" />
<rect x="64.57" y="90.04" width="3.70" height="4.01" fill="#77a6ce" />
<rect x="68.22" y="90.04" width="3.70" height="4.01" fill="#dbf0f6" />
<rect x="71.87" y="90.04" width="3.70" height="4.01" fill="#93c0dc" />
<rect x="75.52" y="90.04" width="3.70" height="4.01" fill="#5c8cc0" />
<rect x="79.17" y="90.04" width="3.70" height="4.01" fill="#8dbbd9" />
<rect x="82.82" y="90.04" width="3.70" height="4.01" fill="#8bb9d8" />
<rect x="86.47" y="90.04" width="3.70" height="4.01" fill="#8bb9d8" />
<rect x="90.13" y="90.04" width="3.70" height="4.01" fill="#7cabd0" />
<rect x="93.78" y="90.04" width="3.70" height="4.01" fill="#83b1d4" />
<rect x="97.43" y="90.04" width="3.70" height="4.01" fill="#89b7d7" />
<rect x="101.08" y="90.04" width="3.70" height="4.01" fill="#8bb9d8" />
<rect x="104.73" y="90.04" width="3.70" height="4.01" fill="#c4e0ee" />
<rect x="108.38" y="90.04" width="3.70" height="4.01" fill="#6493c4" />
<rect x="112.03" y="90.04" width="3.70" height="4.01" fill="#6392c3" />
<rect x="115.69" y="90.04" width="3.70" height="4.01" fill="#b1d4e7" />
<rect x="119.34" y="90.04" width="3.70" height="4.01" fill="#82b0d3" />
<rect x="122.99" y="90.04" width="3.70" height="4.01" fill="#a2cae1" />
<rect x="126.64" y="90.04" width="3.70" height="4.01" fill="#a1c9e1" />
<rect x="130.29" y="90.04" width="3.70" height="4.01" fill="#7eadd1" />
<rect x="133.94" y="90.04" width="3.70" height="4.01" fill="#a8cee4" />
<rect x="137.59" y="90.04" width="3.70" height="4.01" fill="#81afd3" />
<rect x="141.25" y="90.04" width="3.70" height="4.01" fill="#b2d5e7" />
<rect x="144.90" y="90.04" width="3.70" height="4.01" fill="#fffbba" />
<rect x="148.55" y="90.04" width="3.70" height="4.01" fill="#fff4af" />
<rect x="24.40" y="94.00" width="3.70" height="4.01" fill="#a3cbe2" />
<rect x="28.05" y="94.00" width="3.70" height="4.01" fill="#91bfdb" />
<rect x="31.70" y="94.00" width="3.70" height="4.01" fill="#77a6ce" />
<rect x="35.35" y="94.00" width="3.70" height="4.01" fill="#91bfdb" />
<rect x="39.01" y="94.00" width="3.70" height="4.01" fill="#9ec8e0" />
<rect x="42.66" y="94.00" width="3.70" height="4.01" fill="#9ec7e0" />
<rect x="46.31" y="94.00" width="3.70" height="4.01" fill="#97c3dd" />
<rect x="49.96" y="94.00" width="3.70" height="4.01" fill="#94c1dc" />
<rect x="53.61" y="94.00" width="3.70" height="4.01" fill="#9ec8e0" />
<rect x="57.26" y="94.00" width="3.70" height="4.01" fill="#a7cde3" />
<rect x="60.91" y="94.00" width="3.70" height="4.01" fill="#6292c3" />
<rect x="64.57" y="94.00" width="3.70" height="4.01" fill="#6c9bc8" />
<rect x="68.22" y="94.00" width="3.70" height="4.01" fill="#c1dfed" />
<rect x="71.87" y="94.00" width="3.70" height="4.01" fill="#89b7d7" />
<rect x="75.52" y="94.00" width="3.70" height="4.01" fill="#8dbbd9" />
<rect x="79.17" y="94.00" width="3.70" height="4.01" fill="#5c8bc0" />
<rect x="82.82" y="94.00" width="3.70" height="4.01" fill="#72a1cb" />
<rect x="86.47" y="94.00" width="3.70" height="4.01" fill="#7faed2" />
<rect x="90.13" y="94.00" width="3.70" height="4.01" fill="#7caad0" />
<rect x="93.78" y="94.00" width="3.70" height="4.01" fill="#7fadd2" />
<rect x="97.43" y="94.00" width="3.70" height="4.01" fill="#75a4cd" />
<rect x="101.08" y="94.00" width="3.70" height="4.01" fill="#76a5cd" />
<rect x="104.73" y="94.00" width="3.70" height="4.01" fill="#b7d8e9" />
<rect x="108.38" y="94.00" width="3.70" height="4.01" fill="#6493c4" />
<rect x="112.03" y="94.00" width="3.70" height="4.01" fill="#5d8dc0" />
<rect x="115.69" y="94.00" width="3.70" height="4.01" fill="#9cc6df" />
<rect x="119.34" y="94.00" width="3.70" height="4.01" fill="#7aa9cf" />
<rect x="122.99" y="94.00" width="3.70" height="4.01" fill="#91bfdb" />
<rect x="126.64" y="94.00" width="3.70" height="4.01" fill="#93c1dc" />
<rect x="130.29" y="94.00" width="3.70" height="4.01" fill="#6c9bc8" />
<rect x="133.94" y="94.00" width="3.70" height="4.01" fill="#9bc5de" />
<rect x="137.59" y="94.00" width="3.70" height="4.01" fill="#78a6ce" />
<rect x="141.25" y="94.00" width="3.70" height="4.01" fill="#a8cee3" />
<rect x="144.90" y="94.00" width="3.70" height="4.01" fill="#fafdc8" />
<rect x="148.55" y="94.00" width="3.70" height="4.01" fill="#ffffc0" />
<rect x="24.40" y="97.96" width="3.70" height="4.01" fill="#99c5de" />
<rect x="28.05" y="97.96" width="3.70" height="4.01" fill="#88b6d6" />
<rect x="31.70" y="97.96" width="3.70" height="4.01" fill="#6f9eca" />
<rect x="35.35" y="97.96" width="3.70" height="4.01" fill="#82b1d4" />
<rect x="39.01" y="97.96" width="3.70" height="4.01" fill="#8dbbd9" />
<rect x="42.66" y="97.96" width="3.70" height="4.01" fill="#89b7d7" />
<rect x="46.31" y="97.96" width="3.70" height="4.01" fill="#8fbdda" />
<rect x="49.96" y="97.96" width="3.70" height="4.01" fill="#86b4d5" />
<rect x="53.61" y="97.96" width="3.70" height="4.01" fill="#91bfdb" />
<rect x="57.26" y="97.96" width="3.70" height="4.01" fill="#a5cce2" />
<rect x="60.91" y="97.96" width="3.70" height="4.01" fill="#5887be" />
<rect x="64.57" y="97.96" width="3.70" height="4.01" fill="#6190c2" />
<rect x="68.22" y="97.96" width="3.70" height="4.01" fill="#bcdbeb" />
<rect x="71.87" y="97.96" width="3.70" height="4.01" fill="#71a0cb" />
<rect x="75.52" y="97.96" width="3.70" height="4.01" fill="#8bb9d8" />
<rect x="79.17" y="97.96" width="3.70" height="4.01" fill="#72a1cb" />
<rect x="82.82" y="97.96" width="3.70" height="4.01" fill="#5382bb" />
<rect x="86.47" y="97.96" width="3.70" height="4.01" fill="#6392c3" />
<rect x="90.13" y="97.96" width="3.70" height="4.01" fill="#71a0cb" />
<rect x="93.78" y="97.96" width="3.70" height="4.01" fill="#6493c4" />
<rect x="97.43" y="97.96" width="3.70" height="4.01" fill="#6a99c7" />
<rect x="101.08" y="97.96" width="3.70" height="4.01" fill="#6897c6" />
<rect x="104.73" y="97.96" width="3.70" height="4.01" fill="#a6cde3" />
<rect x="108.38" y="97.96" width="3.70" height="4.01" fill="#5181ba" />
<rect x="112.03" y="97.96" width="3.70" height="4.01" fill="#5585bc" />
<rect x="115.69" y="97.96" width="3.70" height="4.01" fill="#8bb9d8" />
<rect x="119.34" y="97.96" width="3.70" height="4.01" fill="#6f9eca" />
<rect x="122.99" y="97.96" width="3.70" height="4.01" fill="#83b2d4" />
<rect x="126.64" y="97.96" width="3.70" height="4.01" fill="#8dbbd9" />
<rect x="130.29" y="97.96" width="3.70" height="4.01" fill="#6392c3" />
<rect x="133.94" y="97.96" width="3.70" height="4.01" fill="#81b0d3" />
<rect x="137.59" y="97.96" width="3.70" height="4.01" fill="#6897c6" />
<rect x="141.25" y="97.96" width="3.70" height="4.01" fill="#8dbbd9" />
<rect x="144.90" y="97.96" width="3.70" height="4.01" fill="#f6fcd0" />
<rect x="148.55" y="97.96" width="3.70" height="4.01" fill="#f8fccc" />
<rect x="24.40" y="101.92" width="3.70" height="4.01" fill="#93c0dc" />
<rect x="28.05" y="101.92" width="3.70" height="4.01" fill="#7eadd1" />
<rect x="31.70" y="101.92" width="3.70" height="4.01" fill="#719fca" />
<rect x="35.35" y="101.92" width="3.70" height="4.01" fill="#85b3d5" />
<rect x="39.01" y="101.92" width="3.70" height="4.01" fill="#86b4d5" />
<rect x="42.66" y="101.92" width="3.70" height="4.01" fill="#8cbad8" />
<rect x="46.31" y="101.92" width="3.70" height="4.01" fill="#8fbdda" />
<rect x="49.96" y="101.92" width="3.70" height="4.01" fill="#8ebcd9" />
<rect x="53.61" y="101.92" width="3.70" height="4.01" fill="#85b3d5" />
<rect x="57.26" y="101.92" width="3.70" height="4.01" fill="#9fc8e0" />
<rect x="60.91" y="101.92" width="3.70" height="4.01" fill="#5484bc" />
<rect x="64.57" y="101.92" width="3.70" height="4.01" fill="#5c8bc0" />
<rect x="68.22" y="101.92" width="3.70" height="4.01" fill="#bbdbea" />
<rect x="71.87" y="101.92" width="3.70" height="4.01" fill="#7cabd0" />
<rect x="75.52" y="101.92" width="3.70" height="4.01" fill="#8bb9d8" />
<rect x="79.17" y="101.92" width="3.70" height="4.01" fill="#7faed2" />
<rect x="82.82" y="101.92" width="3.70" height="4.01" fill="#6392c3" />
<rect x="86.47" y="101.92" width="3.70" height="4.01" fill="#5484bc" />
<rect x="90.13" y="101.92" width="3.70" height="4.01" fill="#6797c6" />
<rect x="93.78" y="101.92" width="3.70" height="4.01" fill="#6392c3" />
<rect x="97.43" y="101.92" width="3.70" height="4.01" fill="#6696c5" />
<rect x="101.08" y="101.92" width="3.70" height="4.01" fill="#72a0cb" />
<rect x="104.73" y="101.92" width="3.70" height="4.01" fill="#a3cbe2" />
<rect x="108.38" y="101.92" width="3.70" height="4.01" fill="#4e7db8" />
<rect x="112.03" y="101.92" width="3.70" height="4.01" fill="#507fb9" />
<rect x="115.69" y="101.92" width="3.70" height="4.01" fill="#95c2dc" />
<rect x="119.34" y="101.92" width="3.70" height="4.01" fill="#6897c6" />
<rect x="122.99" y="101.92" width="3.70" height="4.01" fill="#83b1d4" />
<rect x="126.64" y="101.92" width="3.70" height="4.01" fill="#88b6d7" />
<rect x="130.29" y="101.92" width="3.70" height="4.01" fill="#6392c3" />
<rect x="133.94" y="101.92" width="3.70" height="4.01" fill="#86b4d5" />
<rect x="137.59" y="101.92" width="3.70" height="4.01" fill="#74a3cc" />
<rect x="141.25" y="101.92" width="3.70" height="4.01" fill="#98c3dd" />
<rect x="144.90" y="101.92" width="3.70" height="4.01" fill="#dcf1f7" />
<rect x="148.55" y="101.92" width="3.70" height="4.01" fill="#e2f4f4" />
<rect x="24.40" y="105.88" width="3.70" height="4.01" fill="#90bedb" />
<rect x="28.05" y="105.88" width="3.70" height="4.01" fill="#84b2d4" />
<rect x="31.70" y="105.88" width="3.70" height="4.01" fill="#76a5cd" />
<rect x="35.35" y="105.88" width="3.70" height="4.01" fill="#84b2d4" />
<rect x="39.01" y="105.88" width="3.70" height="4.01" fill="#87b6d6" />
<rect x="42.66" y="105.88" width="3.70" height="4.01" fill="#8ebcda" />
<rect x="46.31" y="105.88" width="3.70" height="4.01" fill="#85b3d5" />
<rect x="49.96" y="105.88" width="3.70" height="4.01" fill="#8ab8d7" />
<rect x="53.61" y="105.88" width="3.70" height="4.01" fill="#91bfdb" />
<rect x="57.26" y="105.88" width="3.70" height="4.01" fill="#a1cae1" />
<rect x="60.91" y="105.88" width="3.70" height="4.01" fill="#608fc2" />
<rect x="64.57" y="105.88" width="3.70" height="4.01" fill="#6190c2" />
<rect x="68.22" y="105.88" width="3.70" height="4.01" fill="#b1d4e7" />
<rect x="71.87" y="105.88" width="3.70" height="4.01" fill="#74a3cc" />
<rect x="75.52" y="105.88" width="3.70" height="4.01" fill="#7cabd0" />
<rect x="79.17" y="105.88" width="3.70" height="4.01" fill="#7caad0" />
<rect x="82.82" y="105.88" width="3.70" height="4.01" fill="#71a0cb" />
<rect x="86.47" y="105.88" width="3.70" height="4.01" fill="#6797c6" />
<rect x="90.13" y="105.88" width="3.70" height="4.01" fill="#5888be" />
<rect x="93.78" y="105.88" width="3.70" height="4.01" fill="#6e9dc9" />
<rect x="97.43" y="105.88" width="3.70" height="4.01" fill="#6998c7" />
<rect x="101.08" y="105.88" width="3.70" height="4.01" fill="#6b9ac7" />
<rect x="104.73" y="105.88" width="3.70" height="4.01" fill="#a2cae1" />
<rect x="108.38" y="105.88" width="3.70" height="4.01" fill="#5282bb" />
<rect x="112.03" y="105.88" width="3.70" height="4.01" fill="#4979b6" />
<rect x="115.69" y="105.88" width="3.70" height="4.01" fill="#96c2dd" />
<rect x="119.34" y="105.88" width="3.70" height="4.01" fill="#6f9eca" />
<rect x="122.99" y="105.88" width="3.70" height="4.01" fill="#83b2d4" />
<rect x="126.64" y="105.88" width="3.70" height="4.01" fill="#86b5d6" />
<rect x="130.29" y="105.88" width="3.70" height="4.01" fill="#6090c2" />
<rect x="133.94" y="105.88" width="3.70" height="4.01" fill="#89b7d7" />
<rect x="137.59" y="105.88" width="3.70" height="4.01" fill="#709fca" />
<rect x="141.25" y="105.88" width="3.70" height="4.01" fill="#8cbad8" />
<rect x="144.90" y="105.88" width="3.70" height="4.01" fill="#cfe8f2" />
<rect x="148.55" y="105.88" width="3.70" height="4.01" fill="#e6f5ee" />
<rect x="24.40" y="109.84" width="3.70" height="4.01" fill="#9ac5de" />
<rect x="28.05" y="109.84" width="3.70" height="4.01" fill="#7cabd0" />
<rect x="31.70" y="109.84" width="3.70" height="4.01" fill="#75a4cd" />
<rect x="35.35" y="109.84" width="3.70" height="4.01" fill="#87b5d6" />
<rect x="39.01" y="109.84" width="3.70" height="4.01" fill="#84b2d4" />
<rect x="42.66" y="109.84" width="3.70" height="4.01" fill="#83b1d4" />
<rect x="46.31" y="109.84" width="3.70" height="4.01" fill="#85b4d5" />
<rect x="49.96" y="109.84" width="3.70" height="4.01" fill="#8ab9d8" />
<rect x="53.61" y="109.84" width="3.70" height="4.01" fill="#88b6d6" />
<rect x="57.26" y="109.84" width="3.70" height="4.01" fill="#97c3dd" />
<rect x="60.91" y="109.84" width="3.70" height="4.01" fill="#5d8cc0" />
<rect x="64.57" y="109.84" width="3.70" height="4.01" fill="#5e8dc1" />
<rect x="68.22" y="109.84" width="3.70" height="4.01" fill="#beddec" />
<rect x="71.87" y="109.84" width="3.70" height="4.01" fill="#72a0cb" />
<rect x="75.52" y="109.84" width="3.70" height="4.01" fill="#83b1d4" />
<rect x="79.17" y="109.84" width="3.70" height="4.01" fill="#7fadd2" />
<rect x="82.82" y="109.84" width="3.70" height="4.01" fill="#6493c4" />
<rect x="86.47" y="109.84" width="3.70" height="4.01" fill="#6392c3" />
<rect x="90.13" y="109.84" width="3.70" height="4.01" fill="#6e9dc9" />
<rect x="93.78" y="109.84" width="3.70" height="4.01" fill="#5584bc" />
<rect x="97.43" y="109.84" width="3.70" height="4.01" fill="#6695c5" />
<rect x="101.08" y="109.84" width="3.70" height="4.01" fill="#6d9cc8" />
<rect x="104.73" y="109.84" width="3.70" height="4.01" fill="#b1d4e7" />
<rect x="108.38" y="109.84" width="3.70" height="4.01" fill="#4979b6" />
<rect x="112.03" y="109.84" width="3.70" height="4.01" fill="#4676b5" />
<rect x="115.69" y="109.84" width="3.70" height="4.01" fill="#8dbbd9" />
<rect x="119.34" y="109.84" width="3.70" height="4.01" fill="#6c9bc8" />
<rect x="122.99" y="109.84" width="3.70" height="4.01" fill="#89b8d7" />
<rect x="126.64" y="109.84" width="3.70" height="4.01" fill="#87b6d6" />
<rect x="130.29" y="109.84" width="3.70" height="4.01" fill="#6998c7" />
<rect x="133.94" y="109.84" width="3.70" height="4.01" fill="#8ab9d8" />
<rect x="137.59" y="109.84" width="3.70" height="4.01" fill="#6d9cc9" />
<rect x="141.25" y="109.84" width="3.70" height="4.01" fill="#8dbbd9" />
<rect x="144.90" y="109.84" width="3.70" height="4.01" fill="#def2f7" />
<rect x="148.55" y="109.84" width="3.70" height="4.01" fill="#e4f5f0" />
<rect x="24.40" y="113.80" width="3.70" height="4.01" fill="#8bb9d8" />
<rect x="28.05" y="113.80" width="3.70" height="4.01" fill="#86b5d6" />
<rect x="31.70" y="113.80" width="3.70" height="4.01" fill="#76a4cd" />
<rect x="35.35" y="113.80" width="3.70" height="4.01" fill="#82b1d3" />
<rect x="39.01" y="113.80" width="3.70" height="4.01" fill="#8ebcd9" />
<rect x="42.66" y="113.80" width="3.70" height="4.01" fill="#8cbad8" />
<rect x="46.31" y="113.80" width="3.70" height="4.01" fill="#86b4d5" />
<rect x="49.96" y="113.80" width="3.70" height="4.01" fill="#8ebcd9" />
<rect x="53.61" y="113.80" width="3.70" height="4.01" fill="#89b7d7" />
<rect x="57.26" y="113.80" width="3.70" height="4.01" fill="#96c3dd" />
<rect x="60.91" y="113.80" width="3.70" height="4.01" fill="#5786bd" />
<rect x="64.57" y="113.80" width="3.70" height="4.01" fill="#6998c6" />
<rect x="68.22" y="113.80" width="3.70" height="4.01" fill="#bfddec" />
<rect x="71.87" y="113.80" width="3.70" height="4.01" fill="#75a3cc" />
<rect x="75.52" y="113.80" width="3.70" height="4.01" fill="#89b7d7" />
<rect x="79.17" y="113.80" width="3.70" height="4.01" fill="#75a4cd" />
<rect x="82.82" y="113.80" width="3.70" height="4.01" fill="#6a99c7" />
<rect x="86.47" y="113.80" width="3.70" height="4.01" fill="#6696c5" />
<rect x="90.13" y="113.80" width="3.70" height="4.01" fill="#6998c7" />
<rect x="93.78" y="113.80" width="3.70" height="4.01" fill="#6695c5" />
<rect x="97.43" y="113.80" width="3.70" height="4.01" fill="#5c8cc0" />
<rect x="101.08" y="113.80" width="3.70" height="4.01" fill="#709fca" />
<rect x="104.73" y="113.80" width="3.70" height="4.01" fill="#aed2e5" />
<rect x="108.38" y="113.80" width="3.70" height="4.01" fill="#5585bc" />
<rect x="112.03" y="113.80" width="3.70" height="4.01" fill="#5484bc" />
<rect x="115.69" y="113.80" width="3.70" height="4.01" fill="#8cbad9" />
<rect x="119.34" y="113.80" width="3.70" height="4.01" fill="#6897c6" />
<rect x="122.99" y="113.80" width="3.70" height="4.01" fill="#8ebcd9" />
<rect x="126.64" y="113.80" width="3.70" height="4.01" fill="#90bedb" />
<rect x="130.29" y="113.80" width="3.70" height="4.01" fill="#5d8cc0" />
<rect x="133.94" y="113.80" width="3.70" height="4.01" fill="#89b7d7" />
<rect x="137.59" y="113.80" width="3.70" height="4.01" fill="#6b9ac7" />
<rect x="141.25" y="113.80" width="3.70" height="4.01" fill="#90beda" />
<rect x="144.90" y="113.80" width="3.70" height="4.01" fill="#d3ebf3" />
<rect x="148.55" y="113.80" width="3.70" height="4.01" fill="#e3f4f2" />
<rect x="24.40" y="117.76" width="3.70" height="4.01" fill="#98c4de" />
<rect x="28.05" y="117.76" width="3.70" height="4.01" fill="#88b6d6" />
<rect x="31.70" y="117.76" width="3.70" height="4.01" fill="#6c9bc8" />
<rect x="35.35" y="117.76" width="3.70" height="4.01" fill="#81b0d3" />
<rect x="39.01" y="117.76" width="3.70" height="4.01" fill="#8ab8d7" />
<rect x="42.66" y="117.76" width="3.70" height="4.01" fill="#90beda" />
<rect x="46.31" y="117.76" width="3.70" height="4.01" fill="#85b4d5" />
<rect x="49.96" y="117.76" width="3.70" height="4.01" fill="#90beda" />
<rect x="53.61" y="117.76" width="3.70" height="4.01" fill="#91bfdb" />
<rect x="57.26" y="117.76" width="3.70" height="4.01" fill="#a1cae1" />
<rect x="60.91" y="117.76" width="3.70" height="4.01" fill="#5b8bbf" />
<rect x="64.57" y="117.76" width="3.70" height="4.01" fill="#6998c6" />
<rect x="68.22" y="117.76" width="3.70" height="4.01" fill="#bbdaea" />
<rect x="71.87" y="117.76" width="3.70" height="4.01" fill="#7cabd0" />
<rect x="75.52" y="117.76" width="3.70" height="4.01" fill="#8bb9d8" />
<rect x="79.17" y="117.76" width="3.70" height="4.01" fill="#76a5cd" />
<rect x="82.82" y="117.76" width="3.70" height="4.01" fill="#6897c6" />
<rect x="86.47" y="117.76" width="3.70" height="4.01" fill="#72a0cb" />
<rect x="90.13" y="117.76" width="3.70" height="4.01" fill="#6b9ac7" />
<rect x="93.78" y="117.76" width="3.70" height="4.01" fill="#6d9cc8" />
<rect x="97.43" y="117.76" width="3.70" height="4.01" fill="#709fca" />
<rect x="101.08" y="117.76" width="3.70" height="4.01" fill="#5a8abf" />
<rect x="104.73" y="117.76" width="3.70" height="4.01" fill="#a2cae1" />
<rect x="108.38" y="117.76" width="3.70" height="4.01" fill="#4676b5" />
<rect x="112.03" y="117.76" width="3.70" height="4.01" fill="#4777b5" />
<rect x="115.69" y="117.76" width="3.70" height="4.01" fill="#96c2dd" />
<rect x="119.34" y="117.76" width="3.70" height="4.01" fill="#6998c6" />
<rect x="122.99" y="117.76" width="3.70" height="4.01" fill="#8ab9d8" />
<rect x="126.64" y="117.76" width="3.70" height="4.01" fill="#93c0dc" />
<rect x="130.29" y="117.76" width="3.70" height="4.01" fill="#6291c3" />
<rect x="133.94" y="117.76" width="3.70" height="4.01" fill="#83b1d4" />
<rect x="137.59" y="117.76" width="3.70" height="4.01" fill="#74a3cc" />
<rect x="141.25" y="117.76" width="3.70" height="4.01" fill="#94c1dc" />
<rect x="144.90" y="117.76" width="3.70" height="4.01" fill="#d2eaf3" />
<rect x="148.55" y="117.76" width="3.70" height="4.01" fill="#e7f6eb" />
<rect x="24.40" y="121.72" width="3.70" height="4.01" fill="#d0e8f2" />
<rect x="28.05" y="121.72" width="3.70" height="4.01" fill="#c6e2ee" />
<rect x="31.70" y="121.72" width="3.70" height="4.01" fill="#aed2e6" />
<rect x="35.35" y="121.72" width="3.70" height="4.01" fill="#c4e1ee" />
<rect x="39.01" y="121.72" width="3.70" height="4.01" fill="#cfe8f2" />
<rect x="42.66" y="121.72" width="3.70" height="4.01" fill="#cfe8f2" />
<rect x="46.31" y="121.72" width="3.70" height="4.01" fill="#cce6f1" />
<rect x="49.96" y="121.72" width="3.70" height="4.01" fill="#c9e4f0" />
<rect x="53.61" y="121.72" width="3.70" height="4.01" fill="#d0e8f2" />
<rect x="57.26" y="121.72" width="3.70" height="4.01" fill="#def2f7" />
<rect x="60.91" y="121.72" width="3.70" height="4.01" fill="#a2cae1" />
<rect x="64.57" y="121.72" width="3.70" height="4.01" fill="#a2cae1" />
<rect x="68.22" y="121.72" width="3.70" height="4.01" fill="#ecf7e3" />
<rect x="71.87" y="121.72" width="3.70" height="4.01" fill="#b4d6e8" />
<rect x="75.52" y="121.72" width="3.70" height="4.01" fill="#c4e0ee" />
<rect x="79.17" y="121.72" width="3.70" height="4.01" fill="#b7d8e9" />
<rect x="82.82" y="121.72" width="3.70" height="4.01" fill="#a6cde3" />
<rect x="86.47" y="121.72" width="3.70" height="4.01" fill="#a3cbe2" />
<rect x="90.13" y="121.72" width="3.70" height="4.01" fill="#a2cae1" />
<rect x="93.78" y="121.72" width="3.70" height="4.01" fill="#b1d4e7" />
<rect x="97.43" y="121.72" width="3.70" height="4.01" fill="#aed2e5" />
<rect x="101.08" y="121.72" width="3.70" height="4.01" fill="#a2cae1" />
<rect x="104.73" y="121.72" width="3.70" height="4.01" fill="#5887be" />
<rect x="108.38" y="121.72" width="3.70" height="4.01" fill="#8ab8d7" />
<rect x="112.03" y="121.72" width="3.70" height="4.01" fill="#89b8d7" />
<rect x="115.69" y="121.72" width="3.70" height="4.01" fill="#cee7f1" />
<rect x="119.34" y="121.72" width="3.70" height="4.01" fill="#b1d4e7" />
<rect x="122.99" y="121.72" width="3.70" height="4.01" fill="#c0deec" />
<rect x="126.64" y="121.72" width="3.70" height="4.01" fill="#c8e3ef" />
<rect x="130.29" y="121.72" width="3.70" height="4.01" fill="#a8cee3" />
<rect x="133.94" y="121.72" width="3.70" height="4.01" fill="#c3e0ed" />
<rect x="137.59" y="121.72" width="3.70" height="4.01" fill="#a5cce2" />
<rect x="141.25" y="121.72" width="3.70" height="4.01" fill="#cbe5f0" />
<rect x="144.90" y="121.72" width="3.70" height="4.01" fill="#fffab7" />
<rect x="148.55" y="121.72" width="3.70" height="4.01" fill="#fff7b3" />
<rect x="24.40" y="125.68" width="3.70" height="4.01" fill="#5686bd" />
<rect x="28.05" y="125.68" width="3.70" height="4.01" fill="#5483bb" />
<rect x="31.70" y="125.68" width="3.70" height="4.01" fill="#4575b4" />
<rect x="35.35" y="125.68" width="3.70" height="4.01" fill="#4d7db8" />
<rect x="39.01" y="125.68" width="3.70" height="4.01" fill="#5180ba" />
<rect x="42.66" y="125.68" width="3.70" height="4.01" fill="#5787bd" />
<rect x="46.31" y="125.68" width="3.70" height="4.01" fill="#4f7fb9" />
<rect x="49.96" y="125.68" width="3.70" height="4.01" fill="#5585bc" />
<rect x="53.61" y="125.68" width="3.70" height="4.01" fill="#4e7eb9" />
<rect x="57.26" y="125.68" width="3.70" height="4.01" fill="#6090c2" />
<rect x="60.91" y="125.68" width="3.70" height="4.01" fill="#4575b4" />
<rect x="64.57" y="125.68" width="3.70" height="4.01" fill="#4979b6" />
<rect x="68.22" y="125.68" width="3.70" height="4.01" fill="#78a6ce" />
<rect x="71.87" y="125.68" width="3.70" height="4.01" fill="#608fc2" />
<rect x="75.52" y="125.68" width="3.70" height="4.01" fill="#6493c4" />
<rect x="79.17" y="125.68" width="3.70" height="4.01" fill="#6493c4" />
<rect x="82.82" y="125.68" width="3.70" height="4.01" fill="#5181ba" />
<rect x="86.47" y="125.68" width="3.70" height="4.01" fill="#4e7db8" />
<rect x="90.13" y="125.68" width="3.70" height="4.01" fill="#5282bb" />
<rect x="93.78" y="125.68" width="3.70" height="4.01" fill="#4979b6" />
<rect x="97.43" y="125.68" width="3.70" height="4.01" fill="#5585bc" />
<rect x="101.08" y="125.68" width="3.70" height="4.01" fill="#4676b5" />
<rect x="104.73" y="125.68" width="3.70" height="4.01" fill="#8ab8d7" />
<rect x="108.38" y="125.68" width="3.70" height="4.01" fill="#4676b4" />
<rect x="112.03" y="125.68" width="3.70" height="4.01" fill="#4575b4" />
<rect x="115.69" y="125.68" width="3.70" height="4.01" fill="#6c9bc8" />
<rect x="119.34" y="125.68" width="3.70" height="4.01" fill="#5585bc" />
<rect x="122.99" y="125.68" width="3.70" height="4.01" fill="#6a99c7" />
<rect x="126.64" y="125.68" width="3.70" height="4.01" fill="#6c9bc8" />
<rect x="130.29" y="125.68" width="3.70" height="4.01" fill="#4575b4" />
<rect x="133.94" y="125.68" width="3.70" height="4.01" fill="#71a0ca" />
<rect x="137.59" y="125.68" width="3.70" height="4.01" fill="#4f7fb9" />
<rect x="141.25" y="125.68" width="3.70" height="4.01" fill="#709fca" />
<rect x="144.90" y="125.68" width="3.70" height="4.01" fill="#6c9bc8" />
<rect x="148.55" y="125.68" width="3.70" height="4.01" fill="#72a1cb" />
<rect x="24.40" y="129.64" width="3.70" height="4.01" fill="#5685bd" />
<rect x="28.05" y="129.64" width="3.70" height="4.01" fill="#4b7ab7" />
<rect x="31.70" y="129.64" width="3.70" height="4.01" fill="#4575b4" />
<rect x="35.35" y="129.64" width="3.70" height="4.01" fill="#5181ba" />
<rect x="39.01" y="129.64" width="3.70" height="4.01" fill="#4f7fb9" />
<rect x="42.66" y="129.64" width="3.70" height="4.01" fill="#5383bb" />
<rect x="46.31" y="129.64" width="3.70" height="4.01" fill="#5282bb" />
<rect x="49.96" y="129.64" width="3.70" height="4.01" fill="#5383bb" />
<rect x="53.61" y="129.64" width="3.70" height="4.01" fill="#5282bb" />
<rect x="57.26" y="129.64" width="3.70" height="4.01" fill="#6e9dc9" />
<rect x="60.91" y="129.64" width="3.70" height="4.01" fill="#4d7db8" />
<rect x="64.57" y="129.64" width="3.70" height="4.01" fill="#5585bc" />
<rect x="68.22" y="129.64" width="3.70" height="4.01" fill="#6d9cc8" />
<rect x="71.87" y="129.64" width="3.70" height="4.01" fill="#6393c4" />
<rect x="75.52" y="129.64" width="3.70" height="4.01" fill="#6392c3" />
<rect x="79.17" y="129.64" width="3.70" height="4.01" fill="#5d8dc0" />
<rect x="82.82" y="129.64" width="3.70" height="4.01" fill="#5585bc" />
<rect x="86.47" y="129.64" width="3.70" height="4.01" fill="#507fb9" />
<rect x="90.13" y="129.64" width="3.70" height="4.01" fill="#4979b6" />
<rect x="93.78" y="129.64" width="3.70" height="4.01" fill="#4676b5" />
<rect x="97.43" y="129.64" width="3.70" height="4.01" fill="#5484bc" />
<rect x="101.08" y="129.64" width="3.70" height="4.01" fill="#4777b5" />
<rect x="104.73" y="129.64" width="3.70" height="4.01" fill="#89b8d7" />
<rect x="108.38" y="129.64" width="3.70" height="4.01" fill="#4575b4" />
<rect x="112.03" y="129.64" width="3.70" height="4.01" fill="#4575b4" />
<rect x="115.69" y="129.64" width="3.70" height="4.01" fill="#6d9cc8" />
<rect x="119.34" y="129.64" width="3.70" height="4.01" fill="#4b7bb7" />
<rect x="122.99" y="129.64" width="3.70" height="4.01" fill="#6a9ac7" />
<rect x="126.64" y="129.64" width="3.70" height="4.01" fill="#71a0cb" />
<rect x="130.29" y="129.64" width="3.70" height="4.01" fill="#4575b4" />
<rect x="133.94" y="129.64" width="3.70" height="4.01" fill="#6190c2" />
<rect x="137.59" y="129.64" width="3.70" height="4.01" fill="#4d7cb8" />
<rect x="141.25" y="129.64" width="3.70" height="4.01" fill="#77a6ce" />
<rect x="144.90" y="129.64" width="3.70" height="4.01" fill="#6291c3" />
<rect x="148.55" y="129.64" width="3.70" height="4.01" fill="#6d9cc8" />
<rect x="24.40" y="133.60" width="3.70" height="4.01" fill="#c4e1ee" />
<rect x="28.05" y="133.60" width="3.70" height="4.01" fill="#bcdbeb" />
<rect x="31.70" y="133.60" width="3.70" height="4.01" fill="#abd0e5" />
<rect x="35.35" y="133.60" width="3.70" height="4.01" fill="#b7d8e9" />
<rect x="39.01" y="133.60" width="3.70" height="4.01" fill="#c4e0ee" />
<rect x="42.66" y="133.60" width="3.70" height="4.01" fill="#b9d9ea" />
<rect x="46.31" y="133.60" width="3.70" height="4.01" fill="#b8d9e9" />
<rect x="49.96" y="133.60" width="3.70" height="4.01" fill="#bfddec" />
<rect x="53.61" y="133.60" width="3.70" height="4.01" fill="#bfddec" />
<rect x="57.26" y="133.60" width="3.70" height="4.01" fill="#d5ecf4" />
<rect x="60.91" y="133.60" width="3.70" height="4.01" fill="#83b1d4" />
<rect x="64.57" y="133.60" width="3.70" height="4.01" fill="#86b5d6" />
<rect x="68.22" y="133.60" width="3.70" height="4.01" fill="#e3f4f2" />
<rect x="71.87" y="133.60" width="3.70" height="4.01" fill="#9ec7e0" />
<rect x="75.52" y="133.60" width="3.70" height="4.01" fill="#b1d4e7" />
<rect x="79.17" y="133.60" width="3.70" height="4.01" fill="#9cc6df" />
<rect x="82.82" y="133.60" width="3.70" height="4.01" fill="#8bb9d8" />
<rect x="86.47" y="133.60" width="3.70" height="4.01" fill="#95c2dc" />
<rect x="90.13" y="133.60" width="3.70" height="4.01" fill="#96c2dd" />
<rect x="93.78" y="133.60" width="3.70" height="4.01" fill="#8dbbd9" />
<rect x="97.43" y="133.60" width="3.70" height="4.01" fill="#8cbad9" />
<rect x="101.08" y="133.60" width="3.70" height="4.01" fill="#96c2dd" />
<rect x="104.73" y="133.60" width="3.70" height="4.01" fill="#cee7f1" />
<rect x="108.38" y="133.60" width="3.70" height="4.01" fill="#6c9bc8" />
<rect x="112.03" y="133.60" width="3.70" height="4.01" fill="#6d9cc8" />
<rect x="115.69" y="133.60" width="3.70" height="4.01" fill="#4e7eb9" />
<rect x="119.34" y="133.60" width="3.70" height="4.01" fill="#9fc8e0" />
<rect x="122.99" y="133.60" width="3.70" height="4.01" fill="#b1d4e7" />
<rect x="126.64" y="133.60" width="3.70" height="4.01" fill="#bedceb" />
<rect x="130.29" y="133.60" width="3.70" height="4.01" fill="#8ebcd9" />
<rect x="133.94" y="133.60" width="3.70" height="4.01" fill="#b9d9ea" />
<rect x="137.59" y="133.60" width="3.70" height="4.01" fill="#97c3dd" />
<rect x="141.25" y="133.60" width="3.70" height="4.01" fill="#b9d9ea" />
<rect x="144.90" y="133.60" width="3.70" height="4.01" fill="#e3f4f2" />
<rect x="148.55" y="133.60" width="3.70" height="4.01" fill="#eef8de" />
<rect x="24.40" y="137.56" width="3.70" height="4.01" fill="#a9cfe4" />
<rect x="28.05" y="137.56" width="3.70" height="4.01" fill="#97c3dd" />
<rect x="31.70" y="137.56" width="3.70" height="4.01" fill="#7baad0" />
<rect x="35.35" y="137.56" width="3.70" height="4.01" fill="#a1cae1" />
<rect x="39.01" y="137.56" width="3.70" height="4.01" fill="#a3cbe2" />
<rect x="42.66" y="137.56" width="3.70" height="4.01" fill="#a0c9e0" />
<rect x="46.31" y="137.56" width="3.70" height="4.01" fill="#a2cae1" />
<rect x="49.96" y="137.56" width="3.70" height="4.01" fill="#9ec8e0" />
<rect x="53.61" y="137.56" width="3.70" height="4.01" fill="#98c4de" />
<rect x="57.26" y="137.56" width="3.70" height="4.01" fill="#b5d6e8" />
<rect x="60.91" y="137.56" width="3.70" height="4.01" fill="#6191c3" />
<rect x="64.57" y="137.56" width="3.70" height="4.01" fill="#6594c4" />
<rect x="68.22" y="137.56" width="3.70" height="4.01" fill="#c4e1ee" />
<rect x="71.87" y="137.56" width="3.70" height="4.01" fill="#79a8cf" />
<rect x="75.52" y="137.56" width="3.70" height="4.01" fill="#82b0d3" />
<rect x="79.17" y="137.56" width="3.70" height="4.01" fill="#7aa9cf" />
<rect x="82.82" y="137.56" width="3.70" height="4.01" fill="#6f9eca" />
<rect x="86.47" y="137.56" width="3.70" height="4.01" fill="#6897c6" />
<rect x="90.13" y="137.56" width="3.70" height="4.01" fill="#6f9eca" />
<rect x="93.78" y="137.56" width="3.70" height="4.01" fill="#6c9bc8" />
<rect x="97.43" y="137.56" width="3.70" height="4.01" fill="#6897c6" />
<rect x="101.08" y="137.56" width="3.70" height="4.01" fill="#6998c6" />
<rect x="104.73" y="137.56" width="3.70" height="4.01" fill="#b1d4e7" />
<rect x="108.38" y="137.56" width="3.70" height="4.01" fill="#5585bc" />
<rect x="112.03" y="137.56" width="3.70" height="4.01" fill="#4b7bb7" />
<rect x="115.69" y="137.56" width="3.70" height="4.01" fill="#9fc8e0" />
<rect x="119.34" y="137.56" width="3.70" height="4.01" fill="#5b8abf" />
<rect x="122.99" y="137.56" width="3.70" height="4.01" fill="#8bb9d8" />
<rect x="126.64" y="137.56" width="3.70" height="4.01" fill="#93c1dc" />
<rect x="130.29" y="137.56" width="3.70" height="4.01" fill="#72a1cb" />
<rect x="133.94" y="137.56" width="3.70" height="4.01" fill="#94c1dc" />
<rect x="137.59" y="137.56" width="3.70" height="4.01" fill="#709fca" />
<rect x="141.25" y="137.56" width="3.70" height="4.01" fill="#96c2dd" />
<rect x="144.90" y="137.56" width="3.70" height="4.01" fill="#cce6f1" />
<rect x="148.55" y="137.56" width="3.70" height="4.01" fill="#dff3f8" />
<rect x="24.40" y="141.52" width="3.70" height="4.01" fill="#b9d9ea" />
<rect x="28.05" y="141.52" width="3.70" height="4.01" fill="#b1d4e7" />
<rect x="31.70" y="141.52" width="3.70" height="4.01" fill="#96c2dd" />
<rect x="35.35" y="141.52" width="3.70" height="4.01" fill="#b7d8e9" />
<rect x="39.01" y="141.52" width="3.70" height="4.01" fill="#bbdbeb" />
<rect x="42.66" y="141.52" width="3.70" height="4.01" fill="#b3d5e7" />
<rect x="46.31" y="141.52" width="3.70" height="4.01" fill="#b3d5e8" />
<rect x="49.96" y="141.52" width="3.70" height="4.01" fill="#b5d7e8" />
<rect x="53.61" y="141.52" width="3.70" height="4.01" fill="#b0d4e7" />
<rect x="57.26" y="141.52" width="3.70" height="4.01" fill="#c3e0ed" />
<rect x="60.91" y="141.52" width="3.70" height="4.01" fill="#80afd3" />
<rect x="64.57" y="141.52" width="3.70" height="4.01" fill="#79a8cf" />
<rect x="68.22" y="141.52" width="3.70" height="4.01" fill="#e2f4f5" />
<rect x="71.87" y="141.52" width="3.70" height="4.01" fill="#95c1dc" />
<rect x="75.52" y="141.52" width="3.70" height="4.01" fill="#a2cae1" />
<rect x="79.17" y="141.52" width="3.70" height="4.01" fill="#91bfdb" />
<rect x="82.82" y="141.52" width="3.70" height="4.01" fill="#83b2d4" />
<rect x="86.47" y="141.52" width="3.70" height="4.01" fill="#83b1d4" />
<rect x="90.13" y="141.52" width="3.70" height="4.01" fill="#83b2d4" />
<rect x="93.78" y="141.52" width="3.70" height="4.01" fill="#89b8d7" />
<rect x="97.43" y="141.52" width="3.70" height="4.01" fill="#8ebcd9" />
<rect x="101.08" y="141.52" width="3.70" height="4.01" fill="#8ab9d8" />
<rect x="104.73" y="141.52" width="3.70" height="4.01" fill="#c0deec" />
<rect x="108.38" y="141.52" width="3.70" height="4.01" fill="#6a99c7" />
<rect x="112.03" y="141.52" width="3.70" height="4.01" fill="#6a9ac7" />
<rect x="115.69" y="141.52" width="3.70" height="4.01" fill="#b1d4e7" />
<rect x="119.34" y="141.52" width="3.70" height="4.01" fill="#8bb9d8" />
<rect x="122.99" y="141.52" width="3.70" height="4.01" fill="#5585bc" />
<rect x="126.64" y="141.52" width="3.70" height="4.01" fill="#aad0e4" />
<rect x="130.29" y="141.52" width="3.70" height="4.01" fill="#86b4d5" />
<rect x="133.94" y="141.52" width="3.70" height="4.01" fill="#a3cbe2" />
<rect x="137.59" y="141.52" width="3.70" height="4.01" fill="#89b7d7" />
<rect x="141.25" y="141.52" width="3.70" height="4.01" fill="#b4d6e8" />
<rect x="144.90" y="141.52" width="3.70" height="4.01" fill="#e0f3f7" />
<rect x="148.55" y="141.52" width="3.70" height="4.01" fill="#eaf7e6" />
<rect x="24.40" y="145.48" width="3.70" height="4.01" fill="#c6e2ee" />
<rect x="28.05" y="145.48" width="3.70" height="4.01" fill="#b5d7e8" />
<rect x="31.70" y="145.48" width="3.70" height="4.01" fill="#9cc6df" />
<rect x="35.35" y="145.48" width="3.70" height="4.01" fill="#b6d7e8" />
<rect x="39.01" y="145.48" width="3.70" height="4.01" fill="#c1deec" />
<rect x="42.66" y="145.48" width="3.70" height="4.01" fill="#c0deec" />
<rect x="46.31" y="145.48" width="3.70" height="4.01" fill="#bbdaea" />
<rect x="49.96" y="145.48" width="3.70" height="4.01" fill="#bcdbeb" />
<rect x="53.61" y="145.48" width="3.70" height="4.01" fill="#b8d9e9" />
<rect x="57.26" y="145.48" width="3.70" height="4.01" fill="#d6ecf4" />
<rect x="60.91" y="145.48" width="3.70" height="4.01" fill="#7faed2" />
<rect x="64.57" y="145.48" width="3.70" height="4.01" fill="#85b3d5" />
<rect x="68.22" y="145.48" width="3.70" height="4.01" fill="#e4f5f1" />
<rect x="71.87" y="145.48" width="3.70" height="4.01" fill="#9ec8e0" />
<rect x="75.52" y="145.48" width="3.70" height="4.01" fill="#a1c9e1" />
<rect x="79.17" y="145.48" width="3.70" height="4.01" fill="#93c1dc" />
<rect x="82.82" y="145.48" width="3.70" height="4.01" fill="#8dbbd9" />
<rect x="86.47" y="145.48" width="3.70" height="4.01" fill="#88b6d7" />
<rect x="90.13" y="145.48" width="3.70" height="4.01" fill="#86b5d6" />
<rect x="93.78" y="145.48" width="3.70" height="4.01" fill="#87b6d6" />
<rect x="97.43" y="145.48" width="3.70" height="4.01" fill="#90bedb" />
<rect x="101.08" y="145.48" width="3.70" height="4.01" fill="#93c0dc" />
<rect x="104.73" y="145.48" width="3.70" height="4.01" fill="#c8e3ef" />
<rect x="108.38" y="145.48" width="3.70" height="4.01" fill="#6c9bc8" />
<rect x="112.03" y="145.48" width="3.70" height="4.01" fill="#71a0cb" />
<rect x="115.69" y="145.48" width="3.70" height="4.01" fill="#bedceb" />
<rect x="119.34" y="145.48" width="3.70" height="4.01" fill="#93c1dc" />
<rect x="122.99" y="145.48" width="3.70" height="4.01" fill="#aad0e4" />
<rect x="126.64" y="145.48" width="3.70" height="4.01" fill="#5c8cc0" />
<rect x="130.29" y="145.48" width="3.70" height="4.01" fill="#89b7d7" />
<rect x="133.94" y="145.48" width="3.70" height="4.01" fill="#b5d7e8" />
<rect x="137.59" y="145.48" width="3.70" height="4.01" fill="#8fbdda" />
<rect x="141.25" y="145.48" width="3.70" height="4.01" fill="#bbdbeb" />
<rect x="144.90" y="145.48" width="3.70" height="4.01" fill="#e8f6e9" />
<rect x="148.55" y="145.48" width="3.70" height="4.01" fill="#ebf7e5" />
<rect x="24.40" y="149.44" width="3.70" height="4.01" fill="#9dc7df" />
<rect x="28.05" y="149.44" width="3.70" height="4.01" fill="#92bfdb" />
<rect x="31.70" y="149.44" width="3.70" height="4.01" fill="#74a3cc" />
<rect x="35.35" y="149.44" width="3.70" height="4.01" fill="#8ebcd9" />
<rect x="39.01" y="149.44" width="3.70" height="4.01" fill="#97c3dd" />
<rect x="42.66" y="149.44" width="3.70" height="4.01" fill="#9ac5de" />
<rect x="46.31" y="149.44" width="3.70" height="4.01" fill="#93c1dc" />
<rect x="49.96" y="149.44" width="3.70" height="4.01" fill="#92bfdb" />
<rect x="53.61" y="149.44" width="3.70" height="4.01" fill="#96c2dd" />
<rect x="57.26" y="149.44" width="3.70" height="4.01" fill="#a0c9e0" />
<rect x="60.91" y="149.44" width="3.70" height="4.01" fill="#5989be" />
<rect x="64.57" y="149.44" width="3.70" height="4.01" fill="#5e8ec1" />
<rect x="68.22" y="149.44" width="3.70" height="4.01" fill="#c1dfed" />
<rect x="71.87" y="149.44" width="3.70" height="4.01" fill="#77a6ce" />
<rect x="75.52" y="149.44" width="3.70" height="4.01" fill="#7eadd1" />
<rect x="79.17" y="149.44" width="3.70" height="4.01" fill="#6c9bc8" />
<rect x="82.82" y="149.44" width="3.70" height="4.01" fill="#6392c3" />
<rect x="86.47" y="149.44" width="3.70" height="4.01" fill="#6392c3" />
<rect x="90.13" y="149.44" width="3.70" height="4.01" fill="#6090c2" />
<rect x="93.78" y="149.44" width="3.70" height="4.01" fill="#6998c7" />
<rect x="97.43" y="149.44" width="3.70" height="4.01" fill="#5d8cc0" />
<rect x="101.08" y="149.44" width="3.70" height="4.01" fill="#6291c3" />
<rect x="104.73" y="149.44" width="3.70" height="4.01" fill="#a8cee3" />
<rect x="108.38" y="149.44" width="3.70" height="4.01" fill="#4575b4" />
<rect x="112.03" y="149.44" width="3.70" height="4.01" fill="#4575b4" />
<rect x="115.69" y="149.44" width="3.70" height="4.01" fill="#8ebcd9" />
<rect x="119.34" y="149.44" width="3.70" height="4.01" fill="#72a1cb" />
<rect x="122.99" y="149.44" width="3.70" height="4.01" fill="#86b4d5" />
<rect x="126.64" y="149.44" width="3.70" height="4.01" fill="#89b7d7" />
<rect x="130.29" y="149.44" width="3.70" height="4.01" fill="#5585bc" />
<rect x="133.94" y="149.44" width="3.70" height="4.01" fill="#81b0d3" />
<rect x="137.59" y="149.44" width="3.70" height="4.01" fill="#71a0ca" />
<rect x="141.25" y="149.44" width="3.70" height="4.01" fill="#8bb9d8" />
<rect x="144.90" y="149.44" width="3.70" height="4.01" fill="#cae4f0" />
<rect x="148.55" y="149.44" width="3.70" height="4.01" fill="#d2eaf3" />
<rect x="24.40" y="153.40" width="3.70" height="4.01" fill="#bcdceb" />
<rect x="28.05" y="153.40" width="3.70" height="4.01" fill="#b7d8e9" />
<rect x="31.70" y="153.40" width="3.70" height="4.01" fill="#9bc5df" />
<rect x="35.35" y="153.40" width="3.70" height="4.01" fill="#b3d5e7" />
<rect x="39.01" y="153.40" width="3.70" height="4.01" fill="#badaea" />
<rect x="42.66" y="153.40" width="3.70" height="4.01" fill="#b4d6e8" />
<rect x="46.31" y="153.40" width="3.70" height="4.01" fill="#bcdbeb" />
<rect x="49.96" y="153.40" width="3.70" height="4.01" fill="#bddceb" />
<rect x="53.61" y="153.40" width="3.70" height="4.01" fill="#aed2e5" />
<rect x="57.26" y="153.40" width="3.70" height="4.01" fill="#d0e9f2" />
<rect x="60.91" y="153.40" width="3.70" height="4.01" fill="#7eadd1" />
<rect x="64.57" y="153.40" width="3.70" height="4.01" fill="#81afd3" />
<rect x="68.22" y="153.40" width="3.70" height="4.01" fill="#e0f3f8" />
<rect x="71.87" y="153.40" width="3.70" height="4.01" fill="#97c3dd" />
<rect x="75.52" y="153.40" width="3.70" height="4.01" fill="#a8cee4" />
<rect x="79.17" y="153.40" width="3.70" height="4.01" fill="#9bc5de" />
<rect x="82.82" y="153.40" width="3.70" height="4.01" fill="#81b0d3" />
<rect x="86.47" y="153.40" width="3.70" height="4.01" fill="#86b4d5" />
<rect x="90.13" y="153.40" width="3.70" height="4.01" fill="#89b7d7" />
<rect x="93.78" y="153.40" width="3.70" height="4.01" fill="#8ab9d8" />
<rect x="97.43" y="153.40" width="3.70" height="4.01" fill="#89b7d7" />
<rect x="101.08" y="153.40" width="3.70" height="4.01" fill="#83b1d4" />
<rect x="104.73" y="153.40" width="3.70" height="4.01" fill="#c3e0ed" />
<rect x="108.38" y="153.40" width="3.70" height="4.01" fill="#71a0ca" />
<rect x="112.03" y="153.40" width="3.70" height="4.01" fill="#6190c2" />
<rect x="115.69" y="153.40" width="3.70" height="4.01" fill="#b9d9ea" />
<rect x="119.34" y="153.40" width="3.70" height="4.01" fill="#94c1dc" />
<rect x="122.99" y="153.40" width="3.70" height="4.01" fill="#a3cbe2" />
<rect x="126.64" y="153.40" width="3.70" height="4.01" fill="#b5d7e8" />
<rect x="130.29" y="153.40" width="3.70" height="4.01" fill="#81b0d3" />
<rect x="133.94" y="153.40" width="3.70" height="4.01" fill="#507fb9" />
<rect x="137.59" y="153.40" width="3.70" height="4.01" fill="#91bfdb" />
<rect x="141.25" y="153.40" width="3.70" height="4.01" fill="#bcdbeb" />
<rect x="144.90" y="153.40" width="3.70" height="4.01" fill="#e5f5ef" />
<rect x="148.55" y="153.40" width="3.70" height="4.01" fill="#e9f7e7" />
<rect x="24.40" y="157.36" width="3.70" height="4.01" fill="#a5cce2" />
<rect x="28.05" y="157.36" width="3.70" height="4.01" fill="#95c1dc" />
<rect x="31.70" y="157.36" width="3.70" height="4.01" fill="#82b1d3" />
<rect x="35.35" y="157.36" width="3.70" height="4.01" fill="#99c4de" />
<rect x="39.01" y="157.36" width="3.70" height="4.01" fill="#96c3dd" />
<rect x="42.66" y="157.36" width="3.70" height="4.01" fill="#99c4de" />
<rect x="46.31" y="157.36" width="3.70" height="4.01" fill="#9ac5de" />
<rect x="49.96" y="157.36" width="3.70" height="4.01" fill="#9ec8e0" />
<rect x="53.61" y="157.36" width="3.70" height="4.01" fill="#9cc6df" />
<rect x="57.26" y="157.36" width="3.70" height="4.01" fill="#afd3e6" />
<rect x="60.91" y="157.36" width="3.70" height="4.01" fill="#6998c7" />
<rect x="64.57" y="157.36" width="3.70" height="4.01" fill="#6292c3" />
<rect x="68.22" y="157.36" width="3.70" height="4.01" fill="#cbe5f0" />
<rect x="71.87" y="157.36" width="3.70" height="4.01" fill="#7dacd1" />
<rect x="75.52" y="157.36" width="3.70" height="4.01" fill="#81afd3" />
<rect x="79.17" y="157.36" width="3.70" height="4.01" fill="#78a6ce" />
<rect x="82.82" y="157.36" width="3.70" height="4.01" fill="#6897c6" />
<rect x="86.47" y="157.36" width="3.70" height="4.01" fill="#74a3cc" />
<rect x="90.13" y="157.36" width="3.70" height="4.01" fill="#709fca" />
<rect x="93.78" y="157.36" width="3.70" height="4.01" fill="#6d9cc9" />
<rect x="97.43" y="157.36" width="3.70" height="4.01" fill="#6b9ac7" />
<rect x="101.08" y="157.36" width="3.70" height="4.01" fill="#74a3cc" />
<rect x="104.73" y="157.36" width="3.70" height="4.01" fill="#a5cce2" />
<rect x="108.38" y="157.36" width="3.70" height="4.01" fill="#4f7fb9" />
<rect x="112.03" y="157.36" width="3.70" height="4.01" fill="#4d7cb8" />
<rect x="115.69" y="157.36" width="3.70" height="4.01" fill="#97c3dd" />
<rect x="119.34" y="157.36" width="3.70" height="4.01" fill="#709fca" />
<rect x="122.99" y="157.36" width="3.70" height="4.01" fill="#89b7d7" />
<rect x="126.64" y="157.36" width="3.70" height="4.01" fill="#8fbdda" />
<rect x="130.29" y="157.36" width="3.70" height="4.01" fill="#71a0ca" />
<rect x="133.94" y="157.36" width="3.70" height="4.01" fill="#91bfdb" />
<rect x="137.59" y="157.36" width="3.70" height="4.01" fill="#5b8abf" />
<rect x="141.25" y="157.36" width="3.70" height="4.01" fill="#9ec8e0" />
<rect x="144.90" y="157.36" width="3.70" height="4.01" fill="#c5e1ee" />
<rect x="148.55" y="157.36" width="3.70" height="4.01" fill="#e2f4f5" />
<rect x="24.40" y="161.32" width="3.70" height="4.01" fill="#c3e0ed" />
<rect x="28.05" y="161.32" width="3.70" height="4.01" fill="#beddec" />
<rect x="31.70" y="161.32" width="3.70" height="4.01" fill="#a3cbe2" />
<rect x="35.35" y="161.32" width="3.70" height="4.01" fill="#bbdbea" />
<rect x="39.01" y="161.32" width="3.70" height="4.01" fill="#c2dfed" />
<rect x="42.66" y="161.32" width="3.70" height="4.01" fill="#c9e4ef" />
<rect x="46.31" y="161.32" width="3.70" height="4.01" fill="#c8e3ef" />
<rect x="49.96" y="161.32" width="3.70" height="4.01" fill="#c8e3ef" />
<rect x="53.61" y="161.32" width="3.70" height="4.01" fill="#c0deec" />
<rect x="57.26" y="161.32" width="3.70" height="4.01" fill="#d3ebf3" />
<rect x="60.91" y="161.32" width="3.70" height="4.01" fill="#84b2d4" />
<rect x="64.57" y="161.32" width="3.70" height="4.01" fill="#8cbad9" />
<rect x="68.22" y="161.32" width="3.70" height="4.01" fill="#e5f5ee" />
<rect x="71.87" y="161.32" width="3.70" height="4.01" fill="#9ac5de" />
<rect x="75.52" y="161.32" width="3.70" height="4.01" fill="#b2d5e7" />
<rect x="79.17" y="161.32" width="3.70" height="4.01" fill="#a8cee3" />
<rect x="82.82" y="161.32" width="3.70" height="4.01" fill="#8dbbd9" />
<rect x="86.47" y="161.32" width="3.70" height="4.01" fill="#98c3dd" />
<rect x="90.13" y="161.32" width="3.70" height="4.01" fill="#8cbad8" />
<rect x="93.78" y="161.32" width="3.70" height="4.01" fill="#8dbbd9" />
<rect x="97.43" y="161.32" width="3.70" height="4.01" fill="#90beda" />
<rect x="101.08" y="161.32" width="3.70" height="4.01" fill="#94c1dc" />
<rect x="104.73" y="161.32" width="3.70" height="4.01" fill="#cbe5f0" />
<rect x="108.38" y="161.32" width="3.70" height="4.01" fill="#709fca" />
<rect x="112.03" y="161.32" width="3.70" height="4.01" fill="#77a6ce" />
<rect x="115.69" y="161.32" width="3.70" height="4.01" fill="#b9d9ea" />
<rect x="119.34" y="161.32" width="3.70" height="4.01" fill="#96c2dd" />
<rect x="122.99" y="161.32" width="3.70" height="4.01" fill="#b4d6e8" />
<rect x="126.64" y="161.32" width="3.70" height="4.01" fill="#bbdbeb" />
<rect x="130.29" y="161.32" width="3.70" height="4.01" fill="#8bb9d8" />
<rect x="133.94" y="161.32" width="3.70" height="4.01" fill="#bcdbeb" />
<rect x="137.59" y="161.32" width="3.70" height="4.01" fill="#9ec8e0" />
<rect x="141.25" y="161.32" width="3.70" height="4.01" fill="#5282bb" />
<rect x="144.90" y="161.32" width="3.70" height="4.01" fill="#eaf7e5" />
<rect x="148.55" y="161.32" width="3.70" height="4.01" fill="#f0f9db" />
<rect x="24.40" y="165.28" width="3.70" height="4.01" fill="#fee79b" />
<rect x="28.05" y="165.28" width="3.70" height="4.01" fill="#fffbb9" />
<rect x="31.70" y="165.28" width="3.70" height="4.01" fill="#f4fbd4" />
<rect x="35.35" y="165.28" width="3.70" height="4.01" fill="#fee598" />
<rect x="39.01" y="165.28" width="3.70" height="4.01" fill="#fee99d" />
<rect x="42.66" y="165.28" width="3.70" height="4.01" fill="#fee69a" />
<rect x="46.31" y="165.28" width="3.70" height="4.01" fill="#fee89c" />
<rect x="49.96" y="165.28" width="3.70" height="4.01" fill="#fee597" />
<rect x="53.61" y="165.28" width="3.70" height="4.01" fill="#feeba1" />
<rect x="57.26" y="165.28" width="3.70" height="4.01" fill="#fede8f" />
<rect x="60.91" y="165.28" width="3.70" height="4.01" fill="#d0e8f2" />
<rect x="64.57" y="165.28" width="3.70" height="4.01" fill="#c8e3ef" />
<rect x="68.22" y="165.28" width="3.70" height="4.01" fill="#fdc07b" />
<rect x="71.87" y="165.28" width="3.70" height="4.01" fill="#fcfec5" />
<rect x="75.52" y="165.28" width="3.70" height="4.01" fill="#fffbba" />
<rect x="79.17" y="165.28" width="3.70" height="4.01" fill="#fafdc8" />
<rect x="82.82" y="165.28" width="3.70" height="4.01" fill="#f6fcd0" />
<rect x="86.47" y="165.28" width="3.70" height="4.01" fill="#dcf1f7" />
<rect x="90.13" y="165.28" width="3.70" height="4.01" fill="#cfe8f2" />
<rect x="93.78" y="165.28" width="3.70" height="4.01" fill="#def2f7" />
<rect x="97.43" y="165.28" width="3.70" height="4.01" fill="#d3ebf3" />
<rect x="101.08" y="165.28" width="3.70" height="4.01" fill="#d2eaf3" />
<rect x="104.73" y="165.28" width="3.70" height="4.01" fill="#fffab7" />
<rect x="108.38" y="165.28" width="3.70" height="4.01" fill="#6c9bc8" />
<rect x="112.03" y="165.28" width="3.70" height="4.01" fill="#6291c3" />
<rect x="115.69" y="165.28" width="3.70" height="4.01" fill="#e3f4f2" />
<rect x="119.34" y="165.28" width="3.70" height="4.01" fill="#cce6f1" />
<rect x="122.99" y="165.28" width="3.70" height="4.01" fill="#e0f3f7" />
<rect x="126.64" y="165.28" width="3.70" height="4.01" fill="#e8f6e9" />
<rect x="130.29" y="165.28" width="3.70" height="4.01" fill="#cae4f0" />
<rect x="133.94" y="165.28" width="3.70" height="4.01" fill="#e5f5ef" />
<rect x="137.59" y="165.28" width="3.70" height="4.01" fill="#c5e1ee" />
<rect x="141.25" y="165.28" width="3.70" height="4.01" fill="#eaf7e5" />
<rect x="144.90" y="165.28" width="3.70" height="4.01" fill="#f1f9da" />
<rect x="148.55" y="165.28" width="3.70" height="4.01" fill="#da372b" />
<rect x="24.40" y="169.24" width="3.70" height="4.01" fill="#fdb976" />
<rect x="28.05" y="169.24" width="3.70" height="4.01" fill="#fedf8f" />
<rect x="31.70" y="169.24" width="3.70" height="4.01" fill="#fff3ac" />
<rect x="35.35" y="169.24" width="3.70" height="4.01" fill="#fdb473" />
<rect x="39.01" y="169.24" width="3.70" height="4.01" fill="#fdc57e" />
<rect x="42.66" y="169.24" width="3.70" height="4.01" fill="#fdc27c" />
<rect x="46.31" y="169.24" width="3.70" height="4.01" fill="#fdbc78" />
<rect x="49.96" y="169.24" width="3.70" height="4.01" fill="#fdc17b" />
<rect x="53.61" y="169.24" width="3.70" height="4.01" fill="#fdc07b" />
<rect x="57.26" y="169.24" width="3.70" height="4.01" fill="#fca065" />
<rect x="60.91" y="169.24" width="3.70" height="4.01" fill="#d4ebf3" />
<rect x="64.57" y="169.24" width="3.70" height="4.01" fill="#d2eaf3" />
<rect x="68.22" y="169.24" width="3.70" height="4.01" fill="#fed488" />
<rect x="71.87" y="169.24" width="3.70" height="4.01" fill="#fffdbc" />
<rect x="75.52" y="169.24" width="3.70" height="4.01" fill="#fff4af" />
<rect x="79.17" y="169.24" width="3.70" height="4.01" fill="#ffffc0" />
<rect x="82.82" y="169.24" width="3.70" height="4.01" fill="#f8fccc" />
<rect x="86.47" y="169.24" width="3.70" height="4.01" fill="#e2f4f4" />
<rect x="90.13" y="169.24" width="3.70" height="4.01" fill="#e6f5ee" />
<rect x="93.78" y="169.24" width="3.70" height="4.01" fill="#e4f5f0" />
<rect x="97.43" y="169.24" width="3.70" height="4.01" fill="#e3f4f2" />
<rect x="101.08" y="169.24" width="3.70" height="4.01" fill="#e7f6eb" />
<rect x="104.73" y="169.24" width="3.70" height="4.01" fill="#fff7b3" />
<rect x="108.38" y="169.24" width="3.70" height="4.01" fill="#72a1cb" />
<rect x="112.03" y="169.24" width="3.70" height="4.01" fill="#6d9cc8" />
<rect x="115.69" y="169.24" width="3.70" height="4.01" fill="#eef8de" />
<rect x="119.34" y="169.24" width="3.70" height="4.01" fill="#dff3f8" />
<rect x="122.99" y="169.24" width="3.70" height="4.01" fill="#eaf7e6" />
<rect x="126.64" y="169.24" width="3.70" height="4.01" fill="#ebf7e5" />
<rect x="130.29" y="169.24" width="3.70" height="4.01" fill="#d2eaf3" />
<rect x="133.94" y="169.24" width="3.70" height="4.01" fill="#e9f7e7" />
<rect x="137.59" y="169.24" width="3.70" height="4.01" fill="#e2f4f5" />
<rect x="141.25" y="169.24" width="3.70" height="4.01" fill="#f0f9db" />
<rect x="144.90" y="169.24" width="3.70" height="4.01" fill="#da372b" />
<rect x="148.55" y="169.24" width="3.70" height="4.01" fill="#fffab8" />
</g>
<text x="153.20" y="38.03" font-size="4.1" text-anchor="start" font-weight="normal" fill="#333" >HSC</text>
<text x="153.20" y="41.99" font-size="4.1" text-anchor="start" font-weight="normal" fill="#333" >CMP</text>
<text x="153.20" y="45.95" font-size="4.1" text-anchor="start" font-weight="normal" fill="#333" >GMP</text>
<text x="153.20" y="49.91" font-size="4.1" text-anchor="start" font-weight="normal" fill="#333" >MyeloPro0</text>
<text x="153.20" y="53.87" font-size="4.1" text-anchor="start" font-weight="normal" fill="#333" >MyeloPro1</text>
<text x="153.20" y="57.83" font-size="4.1" text-anchor="start" font-weight="normal" fill="#333" >MyeloPro2</text>
<text x="153.20" y="61.79" font-size="4.1" text-anchor="start" font-weight="normal" fill="#333" >MyeloPro3</text>
<text x="153.20" y="65.75" font-size="4.1" text-anchor="start" font-weight="normal" fill="#333" >Macrophage1</text>
<text x="153.20" y="69.71" font-size="4.1" text-anchor="start" font-weight="normal" fill="#333" >ProMono</text>
<text x="153.20" y="73.67" font-size="4.1" text-anchor="start" font-weight="normal" fill="#333" >Mono</text>
<text x="153.20" y="77.63" font-size="4.1" text-anchor="start" font-weight="normal" fill="#333" >Neutrophile1</text>
<text x="153.20" y="81.59" font-size="4.1" text-anchor="start" font-weight="normal" fill="#333" >Neutrophile2</text>
<text x="153.20" y="85.55" font-size="4.1" text-anchor="start" font-weight="normal" fill="#333" >Macrophage2</text>
<text x="153.20" y="89.51" font-size="4.1" text-anchor="start" font-weight="normal" fill="#333" >Mastcells</text>
<text x="153.20" y="93.47" font-size="4.1" text-anchor="start" font-weight="normal" fill="#333" >pDC</text>
<text x="153.20" y="97.43" font-size="4.1" text-anchor="start" font-weight="normal" fill="#333" >CFU-E</text>
<text x="153.20" y="101.39" font-size="4.1" text-anchor="start" font-weight="normal" fill="#333" >ProEry0</text>
<text x="153.20" y="105.35" font-size="4.1" text-anchor="start" font-weight="normal" fill="#333" >ProEry1</text>
<text x="153.20" y="109.31" font-size="4.1" text-anchor="start" font-weight="normal" fill="#333" >ProEry2</text>
<text x="153.20" y="113.27" font-size="4.1" text-anchor="start" font-weight="normal" fill="#333" >BasoEry1</text>
<text x="153.20" y="117.23" font-size="4.1" text-anchor="start" font-weight="normal" fill="#333" >BasoEry2</text>
<text x="153.20" y="121.19" font-size="4.1" text-anchor="start" font-weight="normal" fill="#333" >PolyEry1</text>
<text x="153.20" y="125.15" font-size="4.1" text-anchor="start" font-weight="normal" fill="#333" >PolyEry2</text>
<text x="153.20" y="129.11" font-size="4.1" text-anchor="start" font-weight="normal" fill="#333" >OrthoEry</text>
<text x="153.20" y="133.07" font-size="4.1" text-anchor="start" font-weight="normal" fill="#333" >RedEry</text>
<text x="153.20" y="137.03" font-size="4.1" text-anchor="start" font-weight="normal" fill="#333" >LMPP</text>
<text x="153.20" y="140.99" font-size="4.1" text-anchor="start" font-weight="normal" fill="#333" >ProB</text>
<text x="153.20" y="144.95" font-size="4.1" text-anchor="start" font-weight="normal" fill="#333" >ProB1gM</text>
<text x="153.20" y="148.91" font-size="4.1" text-anchor="start" font-weight="normal" fill="#333" >PreB2gM</text>
<text x="153.20" y="152.87" font-size="4.1" text-anchor="start" font-weight="normal" fill="#333" >PlasmaB</text>
<text x="153.20" y="156.83" font-size="4.1" text-anchor="start" font-weight="normal" fill="#333" >TCell0</text>
<text x="153.20" y="160.79" font-size="4.1" text-anchor="start" font-weight="normal" fill="#333" >TCell1</text>
<text x="153.20" y="164.75" font-size="4.1" text-anchor="start" font-weight="normal" fill="#333" >TCell2</text>
<text x="153.20" y="168.71" font-size="4.1" text-anchor="start" font-weight="normal" fill="#333" >Endothel</text>
<text x="153.20" y="172.67" font-size="4.1" text-anchor="start" font-weight="normal" fill="#333" >MSC</text>
<text x="0" y="0" font-size="4.1" text-anchor="start" fill="#333" transform="translate(24.73 174.70) rotate(90)">HSC</text>
<text x="0" y="0" font-size="4.1" text-anchor="start" fill="#333" transform="translate(28.38 174.70) rotate(90)">CMP</text>
<text x="0" y="0" font-size="4.1" text-anchor="start" fill="#333" transform="translate(32.03 174.70) rotate(90)">GMP</text>
<text x="0" y="0" font-size="4.1" text-anchor="start" fill="#333" transform="translate(35.68 174.70) rotate(90)">MyeloPro0</text>
<text x="0" y="0" font-size="4.1" text-anchor="start" fill="#333" transform="translate(39.33 174.70) rotate(90)">MyeloPro1</text>
<text x="0" y="0" font-size="4.1" text-anchor="start" fill="#333" transform="translate(42.98 174.70) rotate(90)">MyeloPro2</text>
<text x="0" y="0" font-size="4.1" text-anchor="start" fill="#333" transform="translate(46.63 174.70) rotate(90)">MyeloPro3</text>
<text x="0" y="0" font-size="4.1" text-anchor="start" fill="#333" transform="translate(50.29 174.70) rotate(90)">Macrophage1</text>
<text x="0" y="0" font-size="4.1" text-anchor="start" fill="#333" transform="translate(53.94 174.70) rotate(90)">ProMono</text>
<text x="0" y="0" font-size="4.1" text-anchor="start" fill="#333" transform="translate(57.59 174.70) rotate(90)">Mono</text>
<text x="0" y="0" font-size="4.1" text-anchor="start" fill="#333" transform="translate(61.24 174.70) rotate(90)">Neutrophile1</text>
<text x="0" y="0" font-size="4.1" text-anchor="start" fill="#333" transform="translate(64.89 174.70) rotate(90)">Neutrophile2</text>
<text x="0" y="0" font-size="4.1" text-anchor="start" fill="#333" transform="translate(68.54 174.70) rotate(90)">Macrophage2</text>
<text x="0" y="0" font-size="4.1" text-anchor="start" fill="#333" transform="translate(72.19 174.70) rotate(90)">Mastcells</text>
<text x="0" y="0" font-size="4.1" text-anchor="start" fill="#333" transform="translate(75.85 174.70) rotate(90)">pDC</text>
<text x="0" y="0" font-size="4.1" text-anchor="start" fill="#333" transform="translate(79.50 174.70) rotate(90)">CFU-E</text>
<text x="0" y="0" font-size="4.1" text-anchor="start" fill="#333" transform="translate(83.15 174.70) rotate(90)">ProEry0</text>
<text x="0" y="0" font-size="4.1" text-anchor="start" fill="#333" transform="translate(86.80 174.70) rotate(90)">ProEry1</text>
<text x="0" y="0" font-size="4.1" text-anchor="start" fill="#333" transform="translate(90.45 174.70) rotate(90)">ProEry2</text>
<text x="0" y="0" font-size="4.1" text-anchor="start" fill="#333" transform="translate(94.10 174.70) rotate(90)">BasoEry1</text>
<text x="0" y="0" font-size="4.1" text-anchor="start" fill="#333" transform="translate(97.75 174.70) rotate(90)">BasoEry2</text>
<text x="0" y="0" font-size="4.1" text-anchor="start" fill="#333" transform="translate(101.41 174.70) rotate(90)">PolyEry1</text>
<text x="0" y="0" font-size="4.1" text-anchor="start" fill="#333" transform="translate(105.06 174.70) rotate(90)">PolyEry2</text>
<text x="0" y="0" font-size="4.1" text-anchor="start" fill="#333" transform="translate(108.71 174.70) rotate(90)">OrthoEry</text>
<text x="0" y="0" font-size="4.1" text-anchor="start" fill="#333" transform="translate(112.36 174.70) rotate(90)">RedEry</text>
<text x="0" y="0" font-size="4.1" text-anchor="start" fill="#333" transform="translate(116.01 174.70) rotate(90)">LMPP</text>
<text x="0" y="0" font-size="4.1" text-anchor="start" fill="#333" transform="translate(119.66 174.70) rotate(90)">ProB</text>
<text x="0" y="0" font-size="4.1" text-anchor="start" fill="#333" transform="translate(123.31 174.70) rotate(90)">ProB1gM</text>
<text x="0" y="0" font-size="4.1" text-anchor="start" fill="#333" transform="translate(126.97 174.70) rotate(90)">PreB2gM</text>
<text x="0" y="0" font-size="4.1" text-anchor="start" fill="#333" transform="translate(130.62 174.70) rotate(90)">PlasmaB</text>
<text x="0" y="0" font-size="4.1" text-anchor="start" fill="#333" transform="translate(134.27 174.70) rotate(90)">TCell0</text>
<text x="0" y="0" font-size="4.1" text-anchor="start" fill="#333" transform="translate(137.92 174.70) rotate(90)">TCell1</text>
<text x="0" y="0" font-size="4.1" text-anchor="start" fill="#333" transform="translate(141.57 174.70) rotate(90)">TCell2</text>
<text x="0" y="0" font-size="4.1" text-anchor="start" fill="#333" transform="translate(145.22 174.70) rotate(90)">Endothel</text>
<text x="0" y="0" font-size="4.1" text-anchor="start" fill="#333" transform="translate(148.87 174.70) rotate(90)">MSC</text>
<defs><linearGradient id="cbA" x1="0" y1="1" x2="0" y2="0"><stop offset="0.000" stop-color="#4575B4"/><stop offset="0.167" stop-color="#91BFDB"/><stop offset="0.333" stop-color="#E0F3F8"/><stop offset="0.500" stop-color="#FFFFBF"/><stop offset="0.667" stop-color="#FEE090"/><stop offset="0.833" stop-color="#FC8D59"/><stop offset="1.000" stop-color="#D73027"/></linearGradient></defs>
<rect x="179.50" y="50.00" width="3.30" height="44.00" fill="url(#cbA)" />
<text x="179.00" y="40.00" font-size="6.2" text-anchor="start" font-weight="normal" fill="#333" >counts of</text>
<text x="179.00" y="47.30" font-size="6.2" text-anchor="start" font-weight="normal" fill="#333" >interaction</text>
<text x="184.00" y="62.70" font-size="6.4" text-anchor="start" font-weight="normal" fill="#333" >600</text>
<text x="184.00" y="73.20" font-size="6.4" text-anchor="start" font-weight="normal" fill="#333" >400</text>
<text x="184.00" y="84.50" font-size="6.4" text-anchor="start" font-weight="normal" fill="#333" >200</text>
<text x="184.00" y="94.50" font-size="6.4" text-anchor="start" font-weight="normal" fill="#333" >0</text>
<text x="6.80" y="15.80" font-size="11.2" text-anchor="start" font-weight="bold" fill="#111" >A</text>
<text x="221.60" y="15.90" font-size="11.2" text-anchor="start" font-weight="bold" fill="#111" >B</text>
<text x="6.60" y="223.60" font-size="11.2" text-anchor="start" font-weight="bold" fill="#111" >C</text>
<text x="297.60" y="223.70" font-size="11.2" text-anchor="start" font-weight="bold" fill="#111" >D</text>
<text x="13.50" y="412.00" font-size="11.2" text-anchor="start" font-weight="bold" fill="#111" >E</text>
<text x="129.30" y="412.00" font-size="11.2" text-anchor="start" font-weight="bold" fill="#111" >F</text>
<text x="331.50" y="412.20" font-size="11.2" text-anchor="start" font-weight="bold" fill="#111" >G</text>
<rect x="253.90" y="69.20" width="0.80" height="41.70" fill="#7fb87a" />
<rect x="254.70" y="76.96" width="1.30" height="33.94" fill="#b8685a" />
<rect x="256.40" y="49.30" width="0.95" height="17.56" fill="#6f7280" />
<rect x="257.55" y="49.30" width="1.25" height="15.40" fill="#f2cb90" />
<rect x="259.78" y="70.37" width="0.80" height="40.53" fill="#7fb87a" />
<rect x="260.58" y="78.74" width="1.30" height="32.16" fill="#b8685a" />
<rect x="262.28" y="49.30" width="0.95" height="20.02" fill="#6f7280" />
<rect x="263.43" y="49.30" width="1.25" height="17.86" fill="#f2cb90" />
<rect x="265.67" y="88.29" width="0.80" height="22.61" fill="#7fb87a" />
<rect x="266.47" y="92.42" width="1.30" height="18.48" fill="#b8685a" />
<rect x="268.17" y="49.30" width="0.95" height="13.24" fill="#6f7280" />
<rect x="269.32" y="49.30" width="1.25" height="11.70" fill="#f2cb90" />
<rect x="271.55" y="76.96" width="0.80" height="33.94" fill="#7fb87a" />
<rect x="272.35" y="82.87" width="1.30" height="28.03" fill="#b8685a" />
<rect x="274.05" y="49.30" width="0.95" height="18.17" fill="#6f7280" />
<rect x="275.20" y="49.30" width="1.25" height="16.02" fill="#f2cb90" />
<rect x="277.44" y="75.17" width="0.80" height="35.73" fill="#7fb87a" />
<rect x="278.24" y="79.92" width="1.30" height="30.98" fill="#b8685a" />
<rect x="279.94" y="49.30" width="0.95" height="15.71" fill="#6f7280" />
<rect x="281.09" y="49.30" width="1.25" height="14.17" fill="#f2cb90" />
<rect x="283.32" y="77.57" width="0.80" height="33.33" fill="#7fb87a" />
<rect x="284.12" y="80.53" width="1.30" height="30.37" fill="#b8685a" />
<rect x="285.82" y="49.30" width="0.95" height="18.17" fill="#6f7280" />
<rect x="286.97" y="49.30" width="1.25" height="16.02" fill="#f2cb90" />
<rect x="289.21" y="73.39" width="0.80" height="37.51" fill="#7fb87a" />
<rect x="290.01" y="76.96" width="1.30" height="33.94" fill="#b8685a" />
<rect x="291.71" y="49.30" width="0.95" height="18.79" fill="#6f7280" />
<rect x="292.86" y="49.30" width="1.25" height="16.94" fill="#f2cb90" />
<rect x="295.09" y="79.36" width="0.80" height="31.54" fill="#7fb87a" />
<rect x="295.89" y="82.87" width="1.30" height="28.03" fill="#b8685a" />
<rect x="297.59" y="49.30" width="0.95" height="22.18" fill="#6f7280" />
<rect x="298.74" y="49.30" width="1.25" height="19.10" fill="#f2cb90" />
<rect x="300.98" y="73.94" width="0.80" height="36.96" fill="#7fb87a" />
<rect x="301.78" y="77.57" width="1.30" height="33.33" fill="#b8685a" />
<rect x="303.48" y="49.30" width="0.95" height="20.64" fill="#6f7280" />
<rect x="304.63" y="49.30" width="1.25" height="18.48" fill="#f2cb90" />
<rect x="306.86" y="74.06" width="0.80" height="36.84" fill="#7fb87a" />
<rect x="307.66" y="78.74" width="1.30" height="32.16" fill="#b8685a" />
<rect x="309.36" y="49.30" width="0.95" height="24.64" fill="#6f7280" />
<rect x="310.51" y="49.30" width="1.25" height="21.56" fill="#f2cb90" />
<rect x="312.75" y="96.86" width="0.80" height="14.04" fill="#7fb87a" />
<rect x="313.55" y="98.83" width="1.30" height="12.07" fill="#b8685a" />
<rect x="315.25" y="49.30" width="0.95" height="16.02" fill="#6f7280" />
<rect x="316.40" y="49.30" width="1.25" height="14.17" fill="#f2cb90" />
<rect x="318.63" y="94.82" width="0.80" height="16.08" fill="#7fb87a" />
<rect x="319.44" y="96.18" width="1.30" height="14.72" fill="#b8685a" />
<rect x="321.13" y="49.30" width="0.95" height="18.79" fill="#6f7280" />
<rect x="322.28" y="49.30" width="1.25" height="16.94" fill="#f2cb90" />
<rect x="324.52" y="72.09" width="0.80" height="38.81" fill="#7fb87a" />
<rect x="325.32" y="75.42" width="1.30" height="35.48" fill="#b8685a" />
<rect x="327.02" y="49.30" width="0.95" height="24.64" fill="#6f7280" />
<rect x="328.17" y="49.30" width="1.25" height="22.18" fill="#f2cb90" />
<rect x="330.40" y="84.78" width="0.80" height="26.12" fill="#7fb87a" />
<rect x="331.20" y="88.11" width="1.30" height="22.79" fill="#b8685a" />
<rect x="332.90" y="49.30" width="0.95" height="18.17" fill="#6f7280" />
<rect x="334.05" y="49.30" width="1.25" height="16.02" fill="#f2cb90" />
<rect x="336.29" y="80.10" width="0.80" height="30.80" fill="#7fb87a" />
<rect x="337.09" y="83.43" width="1.30" height="27.47" fill="#b8685a" />
<rect x="338.79" y="49.30" width="0.95" height="18.79" fill="#6f7280" />
<rect x="339.94" y="49.30" width="1.25" height="16.94" fill="#f2cb90" />
<rect x="342.17" y="87.49" width="0.80" height="23.41" fill="#7fb87a" />
<rect x="342.97" y="91.50" width="1.30" height="19.40" fill="#b8685a" />
<rect x="344.67" y="49.30" width="0.95" height="17.56" fill="#6f7280" />
<rect x="345.82" y="49.30" width="1.25" height="15.40" fill="#f2cb90" />
<rect x="348.06" y="92.17" width="0.80" height="18.73" fill="#7fb87a" />
<rect x="348.86" y="96.18" width="1.30" height="14.72" fill="#b8685a" />
<rect x="350.56" y="49.30" width="0.95" height="18.17" fill="#6f7280" />
<rect x="351.71" y="49.30" width="1.25" height="16.02" fill="#f2cb90" />
<rect x="353.94" y="95.50" width="0.80" height="15.40" fill="#7fb87a" />
<rect x="354.75" y="98.83" width="1.30" height="12.07" fill="#b8685a" />
<rect x="356.44" y="49.30" width="0.95" height="14.17" fill="#6f7280" />
<rect x="357.59" y="49.30" width="1.25" height="12.32" fill="#f2cb90" />
<rect x="359.83" y="98.15" width="0.80" height="12.75" fill="#7fb87a" />
<rect x="360.63" y="100.86" width="1.30" height="10.04" fill="#b8685a" />
<rect x="362.33" y="49.30" width="0.95" height="16.63" fill="#6f7280" />
<rect x="363.48" y="49.30" width="1.25" height="14.78" fill="#f2cb90" />
<rect x="365.71" y="100.18" width="0.80" height="10.72" fill="#7fb87a" />
<rect x="366.51" y="102.89" width="1.30" height="8.01" fill="#b8685a" />
<rect x="368.21" y="49.30" width="0.95" height="14.78" fill="#6f7280" />
<rect x="369.36" y="49.30" width="1.25" height="12.94" fill="#f2cb90" />
<rect x="371.60" y="100.86" width="0.80" height="10.04" fill="#7fb87a" />
<rect x="372.40" y="103.14" width="1.30" height="7.76" fill="#b8685a" />
<rect x="374.10" y="49.30" width="0.95" height="12.63" fill="#6f7280" />
<rect x="375.25" y="49.30" width="1.25" height="11.09" fill="#f2cb90" />
<rect x="377.48" y="100.86" width="0.80" height="10.04" fill="#7fb87a" />
<rect x="378.28" y="103.51" width="1.30" height="7.39" fill="#b8685a" />
<rect x="379.98" y="49.30" width="0.95" height="12.63" fill="#6f7280" />
<rect x="381.13" y="49.30" width="1.25" height="11.09" fill="#f2cb90" />
<rect x="383.37" y="88.11" width="0.80" height="22.79" fill="#7fb87a" />
<rect x="384.17" y="91.50" width="1.30" height="19.40" fill="#b8685a" />
<rect x="385.87" y="49.30" width="0.95" height="18.17" fill="#6f7280" />
<rect x="387.02" y="49.30" width="1.25" height="16.02" fill="#f2cb90" />
<rect x="389.25" y="106.22" width="0.80" height="4.68" fill="#7fb87a" />
<rect x="390.06" y="107.57" width="1.30" height="3.33" fill="#b8685a" />
<rect x="391.75" y="49.30" width="0.95" height="10.78" fill="#6f7280" />
<rect x="392.90" y="49.30" width="1.25" height="9.24" fill="#f2cb90" />
<rect x="395.14" y="107.57" width="0.80" height="3.33" fill="#7fb87a" />
<rect x="395.94" y="108.87" width="1.30" height="2.03" fill="#b8685a" />
<rect x="397.64" y="49.30" width="0.95" height="9.24" fill="#6f7280" />
<rect x="398.79" y="49.30" width="1.25" height="8.01" fill="#f2cb90" />
<rect x="401.02" y="94.82" width="0.80" height="16.08" fill="#7fb87a" />
<rect x="401.82" y="98.15" width="1.30" height="12.75" fill="#b8685a" />
<rect x="403.52" y="49.30" width="0.95" height="14.17" fill="#6f7280" />
<rect x="404.67" y="49.30" width="1.25" height="12.32" fill="#f2cb90" />
<rect x="406.91" y="92.17" width="0.80" height="18.73" fill="#7fb87a" />
<rect x="407.71" y="95.50" width="1.30" height="15.40" fill="#b8685a" />
<rect x="409.41" y="49.30" width="0.95" height="17.56" fill="#6f7280" />
<rect x="410.56" y="49.30" width="1.25" height="15.40" fill="#f2cb90" />
<rect x="412.79" y="94.14" width="0.80" height="16.76" fill="#7fb87a" />
<rect x="413.59" y="97.53" width="1.30" height="13.37" fill="#b8685a" />
<rect x="415.29" y="49.30" width="0.95" height="11.40" fill="#6f7280" />
<rect x="416.44" y="49.30" width="1.25" height="9.86" fill="#f2cb90" />
<rect x="418.68" y="88.11" width="0.80" height="22.79" fill="#7fb87a" />
<rect x="419.48" y="90.82" width="1.30" height="20.08" fill="#b8685a" />
<rect x="421.18" y="49.30" width="0.95" height="14.17" fill="#6f7280" />
<rect x="422.33" y="49.30" width="1.25" height="12.32" fill="#f2cb90" />
<rect x="424.56" y="95.99" width="0.80" height="14.91" fill="#7fb87a" />
<rect x="425.36" y="97.78" width="1.30" height="13.12" fill="#b8685a" />
<rect x="427.06" y="49.30" width="0.95" height="13.24" fill="#6f7280" />
<rect x="428.21" y="49.30" width="1.25" height="11.70" fill="#f2cb90" />
<rect x="430.45" y="89.46" width="0.80" height="21.44" fill="#7fb87a" />
<rect x="431.25" y="90.08" width="1.30" height="20.82" fill="#b8685a" />
<rect x="432.95" y="49.30" width="0.95" height="14.48" fill="#6f7280" />
<rect x="434.10" y="49.30" width="1.25" height="12.94" fill="#f2cb90" />
<rect x="436.33" y="93.65" width="0.80" height="17.25" fill="#7fb87a" />
<rect x="437.13" y="94.82" width="1.30" height="16.08" fill="#b8685a" />
<rect x="438.83" y="49.30" width="0.95" height="13.24" fill="#6f7280" />
<rect x="439.98" y="49.30" width="1.25" height="11.70" fill="#f2cb90" />
<rect x="442.22" y="88.85" width="0.80" height="22.05" fill="#7fb87a" />
<rect x="443.02" y="89.46" width="1.30" height="21.44" fill="#b8685a" />
<rect x="444.72" y="49.30" width="0.95" height="15.09" fill="#6f7280" />
<rect x="445.87" y="49.30" width="1.25" height="13.55" fill="#f2cb90" />
<rect x="448.10" y="62.05" width="0.80" height="48.85" fill="#7fb87a" />
<rect x="448.90" y="88.85" width="1.30" height="22.05" fill="#b8685a" />
<rect x="450.60" y="49.30" width="0.95" height="24.02" fill="#6f7280" />
<rect x="451.75" y="49.30" width="1.25" height="34.80" fill="#f2cb90" />
<rect x="453.99" y="88.72" width="0.80" height="22.18" fill="#7fb87a" />
<rect x="454.79" y="62.05" width="1.30" height="48.85" fill="#b8685a" />
<rect x="456.49" y="49.30" width="0.95" height="29.88" fill="#6f7280" />
<rect x="457.64" y="49.30" width="1.25" height="27.72" fill="#f2cb90" />
<rect x="458.20" y="49.30" width="1.20" height="61.10" fill="#4a6a8a" opacity="0.7"/>
<line x1="253.30" y1="49.30" x2="459.60" y2="49.30" stroke="#222" stroke-width="1.0" />
<line x1="253.30" y1="110.90" x2="459.60" y2="110.90" stroke="#222" stroke-width="1.0" />
<line x1="253.30" y1="48.80" x2="253.30" y2="111.40" stroke="#222" stroke-width="1.0" />
<line x1="459.60" y1="48.80" x2="459.60" y2="111.40" stroke="#222" stroke-width="1.0" />
<line x1="251.10" y1="110.90" x2="253.30" y2="110.90" stroke="#222" stroke-width="0.8" />
<text x="249.80" y="113.20" font-size="6.4" text-anchor="end" font-weight="normal" fill="#222" >0</text>
<line x1="251.10" y1="98.58" x2="253.30" y2="98.58" stroke="#222" stroke-width="0.8" />
<text x="249.80" y="100.88" font-size="6.4" text-anchor="end" font-weight="normal" fill="#222" >200</text>
<line x1="251.10" y1="86.26" x2="253.30" y2="86.26" stroke="#222" stroke-width="0.8" />
<text x="249.80" y="88.56" font-size="6.4" text-anchor="end" font-weight="normal" fill="#222" >400</text>
<line x1="251.10" y1="73.94" x2="253.30" y2="73.94" stroke="#222" stroke-width="0.8" />
<text x="249.80" y="76.24" font-size="6.4" text-anchor="end" font-weight="normal" fill="#222" >600</text>
<line x1="251.10" y1="61.62" x2="253.30" y2="61.62" stroke="#222" stroke-width="0.8" />
<text x="249.80" y="63.92" font-size="6.4" text-anchor="end" font-weight="normal" fill="#222" >800</text>
<line x1="251.10" y1="49.30" x2="253.30" y2="49.30" stroke="#222" stroke-width="0.8" />
<text x="249.80" y="51.60" font-size="6.4" text-anchor="end" font-weight="normal" fill="#222" >1000</text>
<line x1="459.60" y1="49.30" x2="461.80" y2="49.30" stroke="#222" stroke-width="0.8" />
<text x="464.10" y="51.60" font-size="6.4" text-anchor="start" font-weight="normal" fill="#222" >0</text>
<line x1="459.60" y1="64.70" x2="461.80" y2="64.70" stroke="#222" stroke-width="0.8" />
<text x="464.10" y="67.00" font-size="6.4" text-anchor="start" font-weight="normal" fill="#222" >50</text>
<line x1="459.60" y1="80.10" x2="461.80" y2="80.10" stroke="#222" stroke-width="0.8" />
<text x="464.10" y="82.40" font-size="6.4" text-anchor="start" font-weight="normal" fill="#222" >100</text>
<line x1="459.60" y1="95.50" x2="461.80" y2="95.50" stroke="#222" stroke-width="0.8" />
<text x="464.10" y="97.80" font-size="6.4" text-anchor="start" font-weight="normal" fill="#222" >150</text>
<line x1="459.60" y1="110.90" x2="461.80" y2="110.90" stroke="#222" stroke-width="0.8" />
<text x="464.10" y="113.20" font-size="6.4" text-anchor="start" font-weight="normal" fill="#222" >200</text>
<line x1="256.40" y1="110.90" x2="256.40" y2="112.70" stroke="#222" stroke-width="0.6" />
<line x1="262.28" y1="110.90" x2="262.28" y2="112.70" stroke="#222" stroke-width="0.6" />
<line x1="268.17" y1="110.90" x2="268.17" y2="112.70" stroke="#222" stroke-width="0.6" />
<line x1="274.05" y1="110.90" x2="274.05" y2="112.70" stroke="#222" stroke-width="0.6" />
<line x1="279.94" y1="110.90" x2="279.94" y2="112.70" stroke="#222" stroke-width="0.6" />
<line x1="285.82" y1="110.90" x2="285.82" y2="112.70" stroke="#222" stroke-width="0.6" />
<line x1="291.71" y1="110.90" x2="291.71" y2="112.70" stroke="#222" stroke-width="0.6" />
<line x1="297.59" y1="110.90" x2="297.59" y2="112.70" stroke="#222" stroke-width="0.6" />
<line x1="303.48" y1="110.90" x2="303.48" y2="112.70" stroke="#222" stroke-width="0.6" />
<line x1="309.36" y1="110.90" x2="309.36" y2="112.70" stroke="#222" stroke-width="0.6" />
<line x1="315.25" y1="110.90" x2="315.25" y2="112.70" stroke="#222" stroke-width="0.6" />
<line x1="321.13" y1="110.90" x2="321.13" y2="112.70" stroke="#222" stroke-width="0.6" />
<line x1="327.02" y1="110.90" x2="327.02" y2="112.70" stroke="#222" stroke-width="0.6" />
<line x1="332.90" y1="110.90" x2="332.90" y2="112.70" stroke="#222" stroke-width="0.6" />
<line x1="338.79" y1="110.90" x2="338.79" y2="112.70" stroke="#222" stroke-width="0.6" />
<line x1="344.67" y1="110.90" x2="344.67" y2="112.70" stroke="#222" stroke-width="0.6" />
<line x1="350.56" y1="110.90" x2="350.56" y2="112.70" stroke="#222" stroke-width="0.6" />
<line x1="356.44" y1="110.90" x2="356.44" y2="112.70" stroke="#222" stroke-width="0.6" />
<line x1="362.33" y1="110.90" x2="362.33" y2="112.70" stroke="#222" stroke-width="0.6" />
<line x1="368.21" y1="110.90" x2="368.21" y2="112.70" stroke="#222" stroke-width="0.6" />
<line x1="374.10" y1="110.90" x2="374.10" y2="112.70" stroke="#222" stroke-width="0.6" />
<line x1="379.98" y1="110.90" x2="379.98" y2="112.70" stroke="#222" stroke-width="0.6" />
<line x1="385.87" y1="110.90" x2="385.87" y2="112.70" stroke="#222" stroke-width="0.6" />
<line x1="391.75" y1="110.90" x2="391.75" y2="112.70" stroke="#222" stroke-width="0.6" />
<line x1="397.64" y1="110.90" x2="397.64" y2="112.70" stroke="#222" stroke-width="0.6" />
<line x1="403.52" y1="110.90" x2="403.52" y2="112.70" stroke="#222" stroke-width="0.6" />
<line x1="409.41" y1="110.90" x2="409.41" y2="112.70" stroke="#222" stroke-width="0.6" />
<line x1="415.29" y1="110.90" x2="415.29" y2="112.70" stroke="#222" stroke-width="0.6" />
<line x1="421.18" y1="110.90" x2="421.18" y2="112.70" stroke="#222" stroke-width="0.6" />
<line x1="427.06" y1="110.90" x2="427.06" y2="112.70" stroke="#222" stroke-width="0.6" />
<line x1="432.95" y1="110.90" x2="432.95" y2="112.70" stroke="#222" stroke-width="0.6" />
<line x1="438.83" y1="110.90" x2="438.83" y2="112.70" stroke="#222" stroke-width="0.6" />
<line x1="444.72" y1="110.90" x2="444.72" y2="112.70" stroke="#222" stroke-width="0.6" />
<line x1="450.60" y1="110.90" x2="450.60" y2="112.70" stroke="#222" stroke-width="0.6" />
<line x1="456.49" y1="110.90" x2="456.49" y2="112.70" stroke="#222" stroke-width="0.6" />
<text x="0" y="0" font-size="6.1" text-anchor="end" fill="#333" transform="translate(258.20 117.0) rotate(-90)">HSC</text>
<text x="0" y="0" font-size="6.1" text-anchor="end" fill="#333" transform="translate(264.08 117.0) rotate(-90)">CMP</text>
<text x="0" y="0" font-size="6.1" text-anchor="end" fill="#333" transform="translate(269.97 117.0) rotate(-90)">GMP</text>
<text x="0" y="0" font-size="6.1" text-anchor="end" fill="#333" transform="translate(275.85 117.0) rotate(-90)">MyeloPro0</text>
<text x="0" y="0" font-size="6.1" text-anchor="end" fill="#333" transform="translate(281.74 117.0) rotate(-90)">MyeloPro1</text>
<text x="0" y="0" font-size="6.1" text-anchor="end" fill="#333" transform="translate(287.62 117.0) rotate(-90)">MyeloPro2</text>
<text x="0" y="0" font-size="6.1" text-anchor="end" fill="#333" transform="translate(293.51 117.0) rotate(-90)">MyeloPro3</text>
<text x="0" y="0" font-size="6.1" text-anchor="end" fill="#333" transform="translate(299.39 117.0) rotate(-90)">Macrophage1</text>
<text x="0" y="0" font-size="6.1" text-anchor="end" fill="#333" transform="translate(305.28 117.0) rotate(-90)">ProMono</text>
<text x="0" y="0" font-size="6.1" text-anchor="end" fill="#333" transform="translate(311.16 117.0) rotate(-90)">Mono</text>
<text x="0" y="0" font-size="6.1" text-anchor="end" fill="#333" transform="translate(317.05 117.0) rotate(-90)">Neutrophile1</text>
<text x="0" y="0" font-size="6.1" text-anchor="end" fill="#333" transform="translate(322.94 117.0) rotate(-90)">Neutrophile2</text>
<text x="0" y="0" font-size="6.1" text-anchor="end" fill="#333" transform="translate(328.82 117.0) rotate(-90)">Macrophage2</text>
<text x="0" y="0" font-size="6.1" text-anchor="end" fill="#333" transform="translate(334.70 117.0) rotate(-90)">Mastcells</text>
<text x="0" y="0" font-size="6.1" text-anchor="end" fill="#333" transform="translate(340.59 117.0) rotate(-90)">pDC</text>
<text x="0" y="0" font-size="6.1" text-anchor="end" fill="#333" transform="translate(346.47 117.0) rotate(-90)">CFU-E</text>
<text x="0" y="0" font-size="6.1" text-anchor="end" fill="#333" transform="translate(352.36 117.0) rotate(-90)">ProEry0</text>
<text x="0" y="0" font-size="6.1" text-anchor="end" fill="#333" transform="translate(358.25 117.0) rotate(-90)">ProEry1</text>
<text x="0" y="0" font-size="6.1" text-anchor="end" fill="#333" transform="translate(364.13 117.0) rotate(-90)">ProEry2</text>
<text x="0" y="0" font-size="6.1" text-anchor="end" fill="#333" transform="translate(370.01 117.0) rotate(-90)">BasoEry1</text>
<text x="0" y="0" font-size="6.1" text-anchor="end" fill="#333" transform="translate(375.90 117.0) rotate(-90)">BasoEry2</text>
<text x="0" y="0" font-size="6.1" text-anchor="end" fill="#333" transform="translate(381.78 117.0) rotate(-90)">PolyEry1</text>
<text x="0" y="0" font-size="6.1" text-anchor="end" fill="#333" transform="translate(387.67 117.0) rotate(-90)">PolyEry2</text>
<text x="0" y="0" font-size="6.1" text-anchor="end" fill="#333" transform="translate(393.56 117.0) rotate(-90)">OrthoEry</text>
<text x="0" y="0" font-size="6.1" text-anchor="end" fill="#333" transform="translate(399.44 117.0) rotate(-90)">RedEry</text>
<text x="0" y="0" font-size="6.1" text-anchor="end" fill="#333" transform="translate(405.32 117.0) rotate(-90)">LMPP</text>
<text x="0" y="0" font-size="6.1" text-anchor="end" fill="#333" transform="translate(411.21 117.0) rotate(-90)">ProB</text>
<text x="0" y="0" font-size="6.1" text-anchor="end" fill="#333" transform="translate(417.09 117.0) rotate(-90)">ProB1gM</text>
<text x="0" y="0" font-size="6.1" text-anchor="end" fill="#333" transform="translate(422.98 117.0) rotate(-90)">PreB2gM</text>
<text x="0" y="0" font-size="6.1" text-anchor="end" fill="#333" transform="translate(428.86 117.0) rotate(-90)">PlasmaB</text>
<text x="0" y="0" font-size="6.1" text-anchor="end" fill="#333" transform="translate(434.75 117.0) rotate(-90)">TCell0</text>
<text x="0" y="0" font-size="6.1" text-anchor="end" fill="#333" transform="translate(440.63 117.0) rotate(-90)">TCell1</text>
<text x="0" y="0" font-size="6.1" text-anchor="end" fill="#333" transform="translate(446.52 117.0) rotate(-90)">TCell2</text>
<text x="0" y="0" font-size="6.1" text-anchor="end" fill="#333" transform="translate(452.40 117.0) rotate(-90)">Endothel</text>
<text x="0" y="0" font-size="6.1" text-anchor="end" fill="#333" transform="translate(458.29 117.0) rotate(-90)">MSC</text>
<text x="0" y="0" font-size="7.2" font-weight="bold" text-anchor="middle" fill="#222" transform="translate(229 80) rotate(-90) scale(0.72 1)">Counts of Interaction</text>
<text x="0" y="0" font-size="7.0" font-weight="bold" text-anchor="middle" fill="#222" transform="translate(479.2 81) rotate(90) scale(0.72 1)">RNAMagnet Adhesiveness(AU)</text>
<text x="0" y="0" font-size="7.6" font-weight="bold" text-anchor="middle" fill="#222" transform="translate(356.5 163) scale(0.72 1)">Receptor ligand pairs</text>
<text x="356.00" y="29.20" font-size="7.9" text-anchor="middle" font-weight="normal" fill="#222" >BM-niche interaction</text>
<rect x="386.60" y="32.80" width="5.40" height="2.40" fill="#2f4f8f" />
<text x="395.50" y="36.20" font-size="5.7" text-anchor="start" font-weight="normal" fill="#222" >Adhesivness to MSC</text>
<rect x="386.60" y="40.30" width="5.40" height="2.40" fill="#f0a030" />
<text x="395.50" y="43.70" font-size="5.9" text-anchor="start" font-weight="normal" fill="#222" >Adhesivnes to Endothel</text>
<text x="339.00" y="43.70" font-size="5.75" text-anchor="start" font-weight="normal" fill="#222" >Adhesiveness</text>
<rect x="389.50" y="151.20" width="5.40" height="2.40" fill="#3aa040" />
<text x="397.00" y="154.60" font-size="6.1" text-anchor="start" font-weight="normal" fill="#222" >MSC cellphoneDB counts</text>
<rect x="389.50" y="158.50" width="5.40" height="2.40" fill="#d0203a" />
<text x="397.00" y="161.90" font-size="6.05" text-anchor="start" font-weight="normal" fill="#222" >Endothel cellphoneDB counts</text>
<circle cx="93.60" cy="232.90" r="0.45" fill="#999"/>
<circle cx="100.64" cy="232.90" r="0.45" fill="#999"/>
<circle cx="107.68" cy="232.90" r="0.45" fill="#999"/>
<circle cx="114.72" cy="232.90" r="0.45" fill="#999"/>
<circle cx="121.76" cy="232.90" r="0.45" fill="#999"/>
<circle cx="128.80" cy="232.90" r="0.45" fill="#999"/>
<circle cx="135.84" cy="232.90" r="0.45" fill="#999"/>
<circle cx="142.88" cy="232.90" r="0.45" fill="#999"/>
<circle cx="149.92" cy="232.90" r="0.45" fill="#999"/>
<circle cx="156.96" cy="232.90" r="0.45" fill="#999"/>
<circle cx="164.00" cy="232.90" r="0.45" fill="#999"/>
<circle cx="171.04" cy="232.90" r="0.45" fill="#999"/>
<circle cx="178.08" cy="232.90" r="0.45" fill="#999"/>
<circle cx="185.12" cy="232.90" r="0.45" fill="#999"/>
<circle cx="192.16" cy="232.90" r="0.45" fill="#999"/>
<circle cx="199.20" cy="232.90" r="0.45" fill="#999"/>
<circle cx="206.24" cy="232.90" r="0.45" fill="#999"/>
<circle cx="213.28" cy="232.90" r="0.94" fill="#a86048" opacity="0.9"/>
<circle cx="93.60" cy="238.85" r="0.45" fill="#999"/>
<circle cx="100.64" cy="238.85" r="0.45" fill="#999"/>
<circle cx="107.68" cy="238.85" r="0.45" fill="#999"/>
<circle cx="114.72" cy="238.85" r="0.45" fill="#999"/>
<circle cx="121.76" cy="238.85" r="0.45" fill="#999"/>
<circle cx="128.80" cy="238.85" r="0.45" fill="#999"/>
<circle cx="135.84" cy="238.85" r="0.45" fill="#999"/>
<circle cx="142.88" cy="238.85" r="0.45" fill="#999"/>
<circle cx="149.92" cy="238.85" r="0.45" fill="#999"/>
<circle cx="156.96" cy="238.85" r="0.45" fill="#999"/>
<circle cx="164.00" cy="238.85" r="0.45" fill="#999"/>
<circle cx="171.04" cy="238.85" r="0.45" fill="#999"/>
<circle cx="178.08" cy="238.85" r="0.45" fill="#999"/>
<circle cx="185.12" cy="238.85" r="0.45" fill="#999"/>
<circle cx="192.16" cy="238.85" r="0.45" fill="#999"/>
<circle cx="199.20" cy="238.85" r="0.45" fill="#999"/>
<circle cx="206.24" cy="238.85" r="0.94" fill="#a86048" opacity="0.9"/>
<circle cx="213.28" cy="238.85" r="0.45" fill="#999"/>
<circle cx="93.60" cy="244.80" r="0.45" fill="#999"/>
<circle cx="100.64" cy="244.80" r="0.45" fill="#999"/>
<circle cx="107.68" cy="244.80" r="0.45" fill="#999"/>
<circle cx="114.72" cy="244.80" r="0.45" fill="#999"/>
<circle cx="121.76" cy="244.80" r="0.45" fill="#999"/>
<circle cx="128.80" cy="244.80" r="0.45" fill="#999"/>
<circle cx="135.84" cy="244.80" r="0.45" fill="#999"/>
<circle cx="142.88" cy="244.80" r="0.45" fill="#999"/>
<circle cx="149.92" cy="244.80" r="0.45" fill="#999"/>
<circle cx="156.96" cy="244.80" r="0.45" fill="#999"/>
<circle cx="164.00" cy="244.80" r="0.45" fill="#999"/>
<circle cx="171.04" cy="244.80" r="0.45" fill="#999"/>
<circle cx="178.08" cy="244.80" r="0.45" fill="#999"/>
<circle cx="185.12" cy="244.80" r="0.45" fill="#999"/>
<circle cx="192.16" cy="244.80" r="0.85" fill="#a86048" opacity="0.9"/>
<circle cx="199.20" cy="244.80" r="0.45" fill="#999"/>
<circle cx="206.24" cy="244.80" r="0.45" fill="#999"/>
<circle cx="213.28" cy="244.80" r="0.45" fill="#999"/>
<circle cx="93.60" cy="250.75" r="0.45" fill="#999"/>
<circle cx="100.64" cy="250.75" r="0.77" fill="#b8a868" opacity="0.9"/>
<circle cx="107.68" cy="250.75" r="0.45" fill="#999"/>
<circle cx="114.72" cy="250.75" r="0.45" fill="#999"/>
<circle cx="121.76" cy="250.75" r="0.45" fill="#999"/>
<circle cx="128.80" cy="250.75" r="0.45" fill="#999"/>
<circle cx="135.84" cy="250.75" r="0.45" fill="#999"/>
<circle cx="142.88" cy="250.75" r="0.45" fill="#999"/>
<circle cx="149.92" cy="250.75" r="0.45" fill="#999"/>
<circle cx="156.96" cy="250.75" r="0.45" fill="#999"/>
<circle cx="164.00" cy="250.75" r="0.45" fill="#999"/>
<circle cx="171.04" cy="250.75" r="0.45" fill="#999"/>
<circle cx="178.08" cy="250.75" r="0.45" fill="#999"/>
<circle cx="185.12" cy="250.75" r="0.45" fill="#999"/>
<circle cx="192.16" cy="250.75" r="0.45" fill="#999"/>
<circle cx="199.20" cy="250.75" r="0.85" fill="#a86048" opacity="0.9"/>
<circle cx="206.24" cy="250.75" r="0.45" fill="#999"/>
<circle cx="213.28" cy="250.75" r="0.45" fill="#999"/>
<circle cx="93.60" cy="256.70" r="0.45" fill="#999"/>
<circle cx="100.64" cy="256.70" r="0.59" fill="#f2c870" opacity="0.9"/>
<circle cx="107.68" cy="256.70" r="0.68" fill="#f2c870" opacity="0.9"/>
<circle cx="114.72" cy="256.70" r="0.85" fill="#f2c870" opacity="0.9"/>
<circle cx="121.76" cy="256.70" r="0.85" fill="#f2c870" opacity="0.9"/>
<circle cx="128.80" cy="256.70" r="0.85" fill="#f2c870" opacity="0.9"/>
<circle cx="135.84" cy="256.70" r="0.85" fill="#f2c870" opacity="0.9"/>
<circle cx="142.88" cy="256.70" r="0.85" fill="#f2c870" opacity="0.9"/>
<circle cx="149.92" cy="256.70" r="0.85" fill="#f2c870" opacity="0.9"/>
<circle cx="156.96" cy="256.70" r="0.85" fill="#f2c870" opacity="0.9"/>
<circle cx="164.00" cy="256.70" r="0.85" fill="#f2c870" opacity="0.9"/>
<circle cx="171.04" cy="256.70" r="0.85" fill="#f2c870" opacity="0.9"/>
<circle cx="178.08" cy="256.70" r="0.45" fill="#999"/>
<circle cx="185.12" cy="256.70" r="0.85" fill="#eea558" opacity="0.9"/>
<circle cx="192.16" cy="256.70" r="0.85" fill="#eea558" opacity="0.9"/>
<circle cx="199.20" cy="256.70" r="0.85" fill="#eea558" opacity="0.9"/>
<circle cx="206.24" cy="256.70" r="0.85" fill="#eea558" opacity="0.9"/>
<circle cx="213.28" cy="256.70" r="0.45" fill="#999"/>
<circle cx="93.60" cy="262.65" r="0.68" fill="#b8a868" opacity="0.9"/>
<circle cx="100.64" cy="262.65" r="0.77" fill="#b8a868" opacity="0.9"/>
<circle cx="107.68" cy="262.65" r="0.77" fill="#b8a868" opacity="0.9"/>
<circle cx="114.72" cy="262.65" r="0.94" fill="#eea558" opacity="0.9"/>
<circle cx="121.76" cy="262.65" r="0.94" fill="#eea558" opacity="0.9"/>
<circle cx="128.80" cy="262.65" r="0.94" fill="#eea558" opacity="0.9"/>
<circle cx="135.84" cy="262.65" r="0.94" fill="#eea558" opacity="0.9"/>
<circle cx="142.88" cy="262.65" r="0.94" fill="#eea558" opacity="0.9"/>
<circle cx="149.92" cy="262.65" r="0.94" fill="#eea558" opacity="0.9"/>
<circle cx="156.96" cy="262.65" r="0.94" fill="#eea558" opacity="0.9"/>
<circle cx="164.00" cy="262.65" r="0.94" fill="#eea558" opacity="0.9"/>
<circle cx="171.04" cy="262.65" r="0.94" fill="#eea558" opacity="0.9"/>
<circle cx="178.08" cy="262.65" r="0.85" fill="#eea558" opacity="0.9"/>
<circle cx="185.12" cy="262.65" r="0.85" fill="#eea558" opacity="0.9"/>
<circle cx="192.16" cy="262.65" r="0.45" fill="#999"/>
<circle cx="199.20" cy="262.65" r="0.85" fill="#eea558" opacity="0.9"/>
<circle cx="206.24" cy="262.65" r="0.85" fill="#eea558" opacity="0.9"/>
<circle cx="213.28" cy="262.65" r="0.85" fill="#eea558" opacity="0.9"/>
<circle cx="93.60" cy="268.60" r="0.94" fill="#a86048" opacity="0.9"/>
<circle cx="100.64" cy="268.60" r="0.59" fill="#f5dcb0" opacity="0.9"/>
<circle cx="107.68" cy="268.60" r="0.85" fill="#b8a868" opacity="0.9"/>
<circle cx="114.72" cy="268.60" r="0.85" fill="#eea558" opacity="0.9"/>
<circle cx="121.76" cy="268.60" r="0.85" fill="#eea558" opacity="0.9"/>
<circle cx="128.80" cy="268.60" r="0.85" fill="#eea558" opacity="0.9"/>
<circle cx="135.84" cy="268.60" r="0.85" fill="#eea558" opacity="0.9"/>
<circle cx="142.88" cy="268.60" r="0.85" fill="#eea558" opacity="0.9"/>
<circle cx="149.92" cy="268.60" r="0.85" fill="#eea558" opacity="0.9"/>
<circle cx="156.96" cy="268.60" r="0.85" fill="#eea558" opacity="0.9"/>
<circle cx="164.00" cy="268.60" r="0.85" fill="#eea558" opacity="0.9"/>
<circle cx="171.04" cy="268.60" r="0.85" fill="#eea558" opacity="0.9"/>
<circle cx="178.08" cy="268.60" r="1.02" fill="#a83820" opacity="0.9"/>
<circle cx="185.12" cy="268.60" r="0.94" fill="#c86040" opacity="0.9"/>
<circle cx="192.16" cy="268.60" r="0.45" fill="#999"/>
<circle cx="199.20" cy="268.60" r="0.85" fill="#a86048" opacity="0.9"/>
<circle cx="206.24" cy="268.60" r="0.94" fill="#a86048" opacity="0.9"/>
<circle cx="213.28" cy="268.60" r="0.85" fill="#b8a868" opacity="0.9"/>
<circle cx="93.60" cy="274.55" r="0.45" fill="#999"/>
<circle cx="100.64" cy="274.55" r="0.45" fill="#999"/>
<circle cx="107.68" cy="274.55" r="0.45" fill="#999"/>
<circle cx="114.72" cy="274.55" r="1.02" fill="#c45c3c" opacity="0.9"/>
<circle cx="121.76" cy="274.55" r="1.02" fill="#c45c3c" opacity="0.9"/>
<circle cx="128.80" cy="274.55" r="1.02" fill="#c45c3c" opacity="0.9"/>
<circle cx="135.84" cy="274.55" r="1.02" fill="#c45c3c" opacity="0.9"/>
<circle cx="142.88" cy="274.55" r="1.02" fill="#c45c3c" opacity="0.9"/>
<circle cx="149.92" cy="274.55" r="1.02" fill="#c45c3c" opacity="0.9"/>
<circle cx="156.96" cy="274.55" r="1.02" fill="#c45c3c" opacity="0.9"/>
<circle cx="164.00" cy="274.55" r="1.02" fill="#c45c3c" opacity="0.9"/>
<circle cx="171.04" cy="274.55" r="1.02" fill="#c45c3c" opacity="0.9"/>
<circle cx="178.08" cy="274.55" r="0.45" fill="#999"/>
<circle cx="185.12" cy="274.55" r="0.77" fill="#f5dcb0" opacity="0.9"/>
<circle cx="192.16" cy="274.55" r="0.45" fill="#999"/>
<circle cx="199.20" cy="274.55" r="0.45" fill="#999"/>
<circle cx="206.24" cy="274.55" r="0.45" fill="#999"/>
<circle cx="213.28" cy="274.55" r="0.45" fill="#999"/>
<circle cx="93.60" cy="280.50" r="0.45" fill="#999"/>
<circle cx="100.64" cy="280.50" r="0.45" fill="#999"/>
<circle cx="107.68" cy="280.50" r="0.45" fill="#999"/>
<circle cx="114.72" cy="280.50" r="0.85" fill="#f5b060" opacity="0.9"/>
<circle cx="121.76" cy="280.50" r="0.85" fill="#f5b060" opacity="0.9"/>
<circle cx="128.80" cy="280.50" r="0.85" fill="#f5b060" opacity="0.9"/>
<circle cx="135.84" cy="280.50" r="0.85" fill="#f5b060" opacity="0.9"/>
<circle cx="142.88" cy="280.50" r="0.85" fill="#f5b060" opacity="0.9"/>
<circle cx="149.92" cy="280.50" r="0.85" fill="#f5b060" opacity="0.9"/>
<circle cx="156.96" cy="280.50" r="0.85" fill="#f5b060" opacity="0.9"/>
<circle cx="164.00" cy="280.50" r="0.85" fill="#f5b060" opacity="0.9"/>
<circle cx="171.04" cy="280.50" r="0.85" fill="#f5b060" opacity="0.9"/>
<circle cx="178.08" cy="280.50" r="0.45" fill="#999"/>
<circle cx="185.12" cy="280.50" r="0.45" fill="#999"/>
<circle cx="192.16" cy="280.50" r="0.45" fill="#999"/>
<circle cx="199.20" cy="280.50" r="0.45" fill="#999"/>
<circle cx="206.24" cy="280.50" r="0.45" fill="#999"/>
<circle cx="213.28" cy="280.50" r="0.45" fill="#999"/>
<circle cx="93.60" cy="286.45" r="0.45" fill="#999"/>
<circle cx="100.64" cy="286.45" r="0.45" fill="#999"/>
<circle cx="107.68" cy="286.45" r="0.85" fill="#a86048" opacity="0.9"/>
<circle cx="114.72" cy="286.45" r="0.77" fill="#f5dcb0" opacity="0.9"/>
<circle cx="121.76" cy="286.45" r="0.85" fill="#eea558" opacity="0.9"/>
<circle cx="128.80" cy="286.45" r="0.85" fill="#eea558" opacity="0.9"/>
<circle cx="135.84" cy="286.45" r="0.85" fill="#eea558" opacity="0.9"/>
<circle cx="142.88" cy="286.45" r="0.85" fill="#eea558" opacity="0.9"/>
<circle cx="149.92" cy="286.45" r="0.85" fill="#eea558" opacity="0.9"/>
<circle cx="156.96" cy="286.45" r="0.85" fill="#eea558" opacity="0.9"/>
<circle cx="164.00" cy="286.45" r="0.85" fill="#eea558" opacity="0.9"/>
<circle cx="171.04" cy="286.45" r="0.85" fill="#eea558" opacity="0.9"/>
<circle cx="178.08" cy="286.45" r="0.45" fill="#999"/>
<circle cx="185.12" cy="286.45" r="0.77" fill="#b8a868" opacity="0.9"/>
<circle cx="192.16" cy="286.45" r="0.45" fill="#999"/>
<circle cx="199.20" cy="286.45" r="0.45" fill="#999"/>
<circle cx="206.24" cy="286.45" r="0.45" fill="#999"/>
<circle cx="213.28" cy="286.45" r="0.45" fill="#999"/>
<circle cx="93.60" cy="292.40" r="0.45" fill="#999"/>
<circle cx="100.64" cy="292.40" r="0.45" fill="#999"/>
<circle cx="107.68" cy="292.40" r="0.94" fill="#604020" opacity="0.9"/>
<circle cx="114.72" cy="292.40" r="0.45" fill="#999"/>
<circle cx="121.76" cy="292.40" r="0.45" fill="#999"/>
<circle cx="128.80" cy="292.40" r="0.45" fill="#999"/>
<circle cx="135.84" cy="292.40" r="0.45" fill="#999"/>
<circle cx="142.88" cy="292.40" r="0.45" fill="#999"/>
<circle cx="149.92" cy="292.40" r="0.45" fill="#999"/>
<circle cx="156.96" cy="292.40" r="0.45" fill="#999"/>
<circle cx="164.00" cy="292.40" r="0.45" fill="#999"/>
<circle cx="171.04" cy="292.40" r="0.45" fill="#999"/>
<circle cx="178.08" cy="292.40" r="0.45" fill="#999"/>
<circle cx="185.12" cy="292.40" r="0.45" fill="#999"/>
<circle cx="192.16" cy="292.40" r="0.45" fill="#999"/>
<circle cx="199.20" cy="292.40" r="0.45" fill="#999"/>
<circle cx="206.24" cy="292.40" r="0.45" fill="#999"/>
<circle cx="213.28" cy="292.40" r="0.45" fill="#999"/>
<circle cx="93.60" cy="298.35" r="0.45" fill="#999"/>
<circle cx="100.64" cy="298.35" r="0.85" fill="#b8a868" opacity="0.9"/>
<circle cx="107.68" cy="298.35" r="0.45" fill="#999"/>
<circle cx="114.72" cy="298.35" r="0.45" fill="#999"/>
<circle cx="121.76" cy="298.35" r="0.45" fill="#999"/>
<circle cx="128.80" cy="298.35" r="0.45" fill="#999"/>
<circle cx="135.84" cy="298.35" r="0.45" fill="#999"/>
<circle cx="142.88" cy="298.35" r="0.45" fill="#999"/>
<circle cx="149.92" cy="298.35" r="0.45" fill="#999"/>
<circle cx="156.96" cy="298.35" r="0.45" fill="#999"/>
<circle cx="164.00" cy="298.35" r="0.45" fill="#999"/>
<circle cx="171.04" cy="298.35" r="0.45" fill="#999"/>
<circle cx="178.08" cy="298.35" r="0.45" fill="#999"/>
<circle cx="185.12" cy="298.35" r="0.45" fill="#999"/>
<circle cx="192.16" cy="298.35" r="0.45" fill="#999"/>
<circle cx="199.20" cy="298.35" r="0.45" fill="#999"/>
<circle cx="206.24" cy="298.35" r="0.45" fill="#999"/>
<circle cx="213.28" cy="298.35" r="0.45" fill="#999"/>
<circle cx="93.60" cy="304.30" r="0.85" fill="#c8c060" opacity="0.9"/>
<circle cx="100.64" cy="304.30" r="0.45" fill="#999"/>
<circle cx="107.68" cy="304.30" r="0.45" fill="#999"/>
<circle cx="114.72" cy="304.30" r="0.45" fill="#999"/>
<circle cx="121.76" cy="304.30" r="0.45" fill="#999"/>
<circle cx="128.80" cy="304.30" r="0.45" fill="#999"/>
<circle cx="135.84" cy="304.30" r="0.45" fill="#999"/>
<circle cx="142.88" cy="304.30" r="0.45" fill="#999"/>
<circle cx="149.92" cy="304.30" r="0.45" fill="#999"/>
<circle cx="156.96" cy="304.30" r="0.45" fill="#999"/>
<circle cx="164.00" cy="304.30" r="0.45" fill="#999"/>
<circle cx="171.04" cy="304.30" r="0.45" fill="#999"/>
<circle cx="178.08" cy="304.30" r="0.45" fill="#999"/>
<circle cx="185.12" cy="304.30" r="0.45" fill="#999"/>
<circle cx="192.16" cy="304.30" r="0.45" fill="#999"/>
<circle cx="199.20" cy="304.30" r="0.45" fill="#999"/>
<circle cx="206.24" cy="304.30" r="0.45" fill="#999"/>
<circle cx="213.28" cy="304.30" r="0.45" fill="#999"/>
<rect x="89.40" y="229.30" width="128.40" height="78.90" fill="none" stroke="#222" stroke-width="1"/>
<line x1="86.40" y1="232.90" x2="89.40" y2="232.90" stroke="#222" stroke-width="0.8" />
<text x="83.40" y="234.90" font-size="5.85" text-anchor="end" font-weight="normal" fill="#222" >COL1A2_a1b1 complex</text>
<line x1="86.40" y1="238.85" x2="89.40" y2="238.85" stroke="#222" stroke-width="0.8" />
<text x="83.40" y="240.85" font-size="5.85" text-anchor="end" font-weight="normal" fill="#222" >DPP4_CXCL12</text>
<line x1="86.40" y1="244.80" x2="89.40" y2="244.80" stroke="#222" stroke-width="0.8" />
<text x="83.40" y="246.80" font-size="5.85" text-anchor="end" font-weight="normal" fill="#222" >PECAM1_CD38</text>
<line x1="86.40" y1="250.75" x2="89.40" y2="250.75" stroke="#222" stroke-width="0.8" />
<text x="83.40" y="252.75" font-size="5.85" text-anchor="end" font-weight="normal" fill="#222" >PECAM1_CD177</text>
<line x1="86.40" y1="256.70" x2="89.40" y2="256.70" stroke="#222" stroke-width="0.8" />
<text x="83.40" y="258.70" font-size="5.85" text-anchor="end" font-weight="normal" fill="#222" >ICAM1_SPN</text>
<line x1="86.40" y1="262.65" x2="89.40" y2="262.65" stroke="#222" stroke-width="0.8" />
<text x="83.40" y="264.65" font-size="5.85" text-anchor="end" font-weight="normal" fill="#222" >TNFRSF1A_GRN</text>
<line x1="86.40" y1="268.60" x2="89.40" y2="268.60" stroke="#222" stroke-width="0.8" />
<text x="83.40" y="270.60" font-size="5.85" text-anchor="end" font-weight="normal" fill="#222" >CD74_APP</text>
<line x1="86.40" y1="274.55" x2="89.40" y2="274.55" stroke="#222" stroke-width="0.8" />
<text x="83.40" y="276.55" font-size="5.85" text-anchor="end" font-weight="normal" fill="#222" >CXCL12_CXCR4</text>
<line x1="86.40" y1="280.50" x2="89.40" y2="280.50" stroke="#222" stroke-width="0.8" />
<text x="83.40" y="282.50" font-size="5.85" text-anchor="end" font-weight="normal" fill="#222" >PDGFRA_PDGFC</text>
<line x1="86.40" y1="286.45" x2="89.40" y2="286.45" stroke="#222" stroke-width="0.8" />
<text x="83.40" y="288.45" font-size="5.85" text-anchor="end" font-weight="normal" fill="#222" >CD99_PILRA</text>
<line x1="86.40" y1="292.40" x2="89.40" y2="292.40" stroke="#222" stroke-width="0.8" />
<text x="83.40" y="294.40" font-size="5.85" text-anchor="end" font-weight="normal" fill="#222" >CCL5_CCR1</text>
<line x1="86.40" y1="298.35" x2="89.40" y2="298.35" stroke="#222" stroke-width="0.8" />
<text x="83.40" y="300.35" font-size="5.85" text-anchor="end" font-weight="normal" fill="#222" >CXCL8_CXCR1</text>
<line x1="86.40" y1="304.30" x2="89.40" y2="304.30" stroke="#222" stroke-width="0.8" />
<text x="83.40" y="306.30" font-size="5.85" text-anchor="end" font-weight="normal" fill="#222" >KIT_KITLG</text>
<line x1="93.60" y1="308.20" x2="93.60" y2="310.20" stroke="#222" stroke-width="0.8" />
<text x="0" y="0" font-size="5.9" text-anchor="end" fill="#333" transform="translate(95.70 313.8) rotate(-90)">HSC|MSC</text>
<line x1="100.64" y1="308.20" x2="100.64" y2="310.20" stroke="#222" stroke-width="0.8" />
<text x="0" y="0" font-size="5.9" text-anchor="end" fill="#333" transform="translate(102.74 313.8) rotate(-90)">Mono|Neutrophile2</text>
<line x1="107.68" y1="308.20" x2="107.68" y2="310.20" stroke="#222" stroke-width="0.8" />
<text x="0" y="0" font-size="5.9" text-anchor="end" fill="#333" transform="translate(109.78 313.8) rotate(-90)">TCell2|Macrophage2</text>
<line x1="114.72" y1="308.20" x2="114.72" y2="310.20" stroke="#222" stroke-width="0.8" />
<text x="0" y="0" font-size="5.9" text-anchor="end" fill="#333" transform="translate(116.82 313.8) rotate(-90)">MSC|HSC</text>
<line x1="121.76" y1="308.20" x2="121.76" y2="310.20" stroke="#222" stroke-width="0.8" />
<text x="0" y="0" font-size="5.9" text-anchor="end" fill="#333" transform="translate(123.86 313.8) rotate(-90)">MSC|CMP</text>
<line x1="128.80" y1="308.20" x2="128.80" y2="310.20" stroke="#222" stroke-width="0.8" />
<text x="0" y="0" font-size="5.9" text-anchor="end" fill="#333" transform="translate(130.90 313.8) rotate(-90)">MSC|GMP</text>
<line x1="135.84" y1="308.20" x2="135.84" y2="310.20" stroke="#222" stroke-width="0.8" />
<text x="0" y="0" font-size="5.9" text-anchor="end" fill="#333" transform="translate(137.94 313.8) rotate(-90)">MSC|MyeloPro0</text>
<line x1="142.88" y1="308.20" x2="142.88" y2="310.20" stroke="#222" stroke-width="0.8" />
<text x="0" y="0" font-size="5.9" text-anchor="end" fill="#333" transform="translate(144.98 313.8) rotate(-90)">MSC|MyeloPro1</text>
<line x1="149.92" y1="308.20" x2="149.92" y2="310.20" stroke="#222" stroke-width="0.8" />
<text x="0" y="0" font-size="5.9" text-anchor="end" fill="#333" transform="translate(152.02 313.8) rotate(-90)">MSC|MyeloPro2</text>
<line x1="156.96" y1="308.20" x2="156.96" y2="310.20" stroke="#222" stroke-width="0.8" />
<text x="0" y="0" font-size="5.9" text-anchor="end" fill="#333" transform="translate(159.06 313.8) rotate(-90)">MSC|MyeloPro3</text>
<line x1="164.00" y1="308.20" x2="164.00" y2="310.20" stroke="#222" stroke-width="0.8" />
<text x="0" y="0" font-size="5.9" text-anchor="end" fill="#333" transform="translate(166.10 313.8) rotate(-90)">MSC|Mastcells</text>
<line x1="171.04" y1="308.20" x2="171.04" y2="310.20" stroke="#222" stroke-width="0.8" />
<text x="0" y="0" font-size="5.9" text-anchor="end" fill="#333" transform="translate(173.14 313.8) rotate(-90)">MSC|Macrophage2</text>
<line x1="178.08" y1="308.20" x2="178.08" y2="310.20" stroke="#222" stroke-width="0.8" />
<text x="0" y="0" font-size="5.9" text-anchor="end" fill="#333" transform="translate(180.18 313.8) rotate(-90)">PlasmaB|Endothel</text>
<line x1="185.12" y1="308.20" x2="185.12" y2="310.20" stroke="#222" stroke-width="0.8" />
<text x="0" y="0" font-size="5.9" text-anchor="end" fill="#333" transform="translate(187.22 313.8) rotate(-90)">Endothel|Macrophage1</text>
<line x1="192.16" y1="308.20" x2="192.16" y2="310.20" stroke="#222" stroke-width="0.8" />
<text x="0" y="0" font-size="5.9" text-anchor="end" fill="#333" transform="translate(194.26 313.8) rotate(-90)">Endothel|CFU-E</text>
<line x1="199.20" y1="308.20" x2="199.20" y2="310.20" stroke="#222" stroke-width="0.8" />
<text x="0" y="0" font-size="5.9" text-anchor="end" fill="#333" transform="translate(201.30 313.8) rotate(-90)">Endothel|Neutrophile1</text>
<line x1="206.24" y1="308.20" x2="206.24" y2="310.20" stroke="#222" stroke-width="0.8" />
<text x="0" y="0" font-size="5.9" text-anchor="end" fill="#333" transform="translate(208.34 313.8) rotate(-90)">Endothel|MSC</text>
<line x1="213.28" y1="308.20" x2="213.28" y2="310.20" stroke="#222" stroke-width="0.8" />
<text x="0" y="0" font-size="5.9" text-anchor="end" fill="#333" transform="translate(215.38 313.8) rotate(-90)">MSC|Endothel</text>
<text x="0" y="0" font-size="7" font-weight="bold" text-anchor="middle" fill="#222" transform="translate(12.3 268) rotate(-90) scale(0.72 1)">Receptor_Ligand</text>
<text x="0" y="0" font-size="7" font-weight="bold" text-anchor="middle" fill="#222" transform="translate(154 386) scale(0.72 1)">Sender|recipient</text>
<text x="222.50" y="239.00" font-size="5.7" text-anchor="start" font-weight="normal" fill="#222" >-log10(Pvalue)</text>
<circle cx="225.2" cy="246.60" r="0.4" fill="#111"/>
<text x="227.50" y="248.70" font-size="5.9" text-anchor="start" font-weight="normal" fill="#222" >0</text>
<circle cx="225.2" cy="252.00" r="0.9" fill="#111"/>
<text x="227.50" y="254.10" font-size="5.9" text-anchor="start" font-weight="normal" fill="#222" >1</text>
<circle cx="225.2" cy="257.40" r="1.2" fill="#111"/>
<text x="227.50" y="259.50" font-size="5.9" text-anchor="start" font-weight="normal" fill="#222" >2</text>
<circle cx="225.2" cy="263.50" r="1.5" fill="#111"/>
<text x="227.50" y="265.60" font-size="5.9" text-anchor="start" font-weight="normal" fill="#222" >3</text>
<text x="222.50" y="274.20" font-size="5.9" text-anchor="start" font-weight="normal" fill="#222" >Log2 mean</text>
<text x="222.50" y="281.60" font-size="5.9" text-anchor="start" font-weight="normal" fill="#222" >(Molecule 1, Molecule 2)</text>
<defs><linearGradient id="cbC" x1="0" y1="0" x2="0" y2="1"><stop offset="0" stop-color="#c00010"/><stop offset="0.18" stop-color="#f06010"/><stop offset="0.36" stop-color="#f0d010"/><stop offset="0.46" stop-color="#90a040"/><stop offset="0.56" stop-color="#2040b0"/><stop offset="0.78" stop-color="#2030a0"/><stop offset="1" stop-color="#100830"/></linearGradient></defs>
<rect x="223.20" y="285.50" width="4.50" height="21.60" fill="url(#cbC)" />
<text x="229.00" y="290.10" font-size="5.8" text-anchor="start" font-weight="normal" fill="#222" >0.0</text>
<text x="229.00" y="296.50" font-size="5.8" text-anchor="start" font-weight="normal" fill="#222" >-2.5</text>
<text x="229.00" y="303.10" font-size="5.8" text-anchor="start" font-weight="normal" fill="#222" >-5.0</text>
<rect x="329" y="236.6" width="33" height="31.30" fill="#8fa0cd"/>
<rect x="329" y="267.9" width="33" height="107.60" fill="#f0878c"/>
<rect x="366" y="236.6" width="33.5" height="31.30" fill="#8fa0cd"/>
<rect x="366" y="267.9" width="33.5" height="107.60" fill="#f0878c"/>
<g>
<path d="M403.0,236.60 C419.80,236.60 419.80,255.00 436.6,255.00 L436.6,257.70 C419.80,257.70 419.80,239.30 403.0,239.30 Z" fill="#3048b0" fill-opacity="0.5"/>
<path d="M403.0,239.30 C419.80,239.30 419.80,268.30 436.6,268.30 L436.6,272.30 C419.80,272.30 419.80,243.30 403.0,243.30 Z" fill="#3048b0" fill-opacity="0.5"/>
<path d="M403.0,243.30 C419.80,243.30 419.80,280.60 436.6,280.60 L436.6,283.60 C419.80,283.60 419.80,246.30 403.0,246.30 Z" fill="#3048b0" fill-opacity="0.5"/>
<path d="M403.0,246.30 C419.80,246.30 419.80,245.60 436.6,245.60 L436.6,249.10 C419.80,249.10 419.80,249.80 403.0,249.80 Z" fill="#3048b0" fill-opacity="0.5"/>
<path d="M403.0,249.80 C419.80,249.80 419.80,257.70 436.6,257.70 L436.6,259.70 C419.80,259.70 419.80,251.80 403.0,251.80 Z" fill="#3048b0" fill-opacity="0.5"/>
<path d="M403.0,251.80 C419.80,251.80 419.80,321.00 436.6,321.00 L436.6,324.90 C419.80,324.90 419.80,255.70 403.0,255.70 Z" fill="#3048b0" fill-opacity="0.5"/>
<path d="M403.0,255.70 C419.80,255.70 419.80,263.90 436.6,263.90 L436.6,265.40 C419.80,265.40 419.80,257.20 403.0,257.20 Z" fill="#3048b0" fill-opacity="0.5"/>
<path d="M403.0,257.20 C419.80,257.20 419.80,272.30 436.6,272.30 L436.6,275.30 C419.80,275.30 419.80,260.20 403.0,260.20 Z" fill="#3048b0" fill-opacity="0.5"/>
<path d="M403.0,260.20 C419.80,260.20 419.80,283.60 436.6,283.60 L436.6,286.10 C419.80,286.10 419.80,262.70 403.0,262.70 Z" fill="#3048b0" fill-opacity="0.5"/>
<path d="M403.0,262.70 C419.80,262.70 419.80,288.00 436.6,288.00 L436.6,290.50 C419.80,290.50 419.80,265.20 403.0,265.20 Z" fill="#3048b0" fill-opacity="0.5"/>
<path d="M403.0,265.20 C419.80,265.20 419.80,324.90 436.6,324.90 L436.6,327.60 C419.80,327.60 419.80,267.90 403.0,267.90 Z" fill="#3048b0" fill-opacity="0.5"/>
<path d="M403.0,267.90 C419.80,267.90 419.80,236.60 436.6,236.60 L436.6,238.40 C419.80,238.40 419.80,269.70 403.0,269.70 Z" fill="#ec2436" fill-opacity="0.5"/>
<path d="M403.0,269.70 C419.80,269.70 419.80,240.20 436.6,240.20 L436.6,242.90 C419.80,242.90 419.80,272.40 403.0,272.40 Z" fill="#ec2436" fill-opacity="0.5"/>
<path d="M403.0,272.40 C419.80,272.40 419.80,249.10 436.6,249.10 L436.6,252.10 C419.80,252.10 419.80,275.40 403.0,275.40 Z" fill="#ec2436" fill-opacity="0.5"/>
<path d="M403.0,275.40 C419.80,275.40 419.80,259.70 436.6,259.70 L436.6,261.70 C419.80,261.70 419.80,277.40 403.0,277.40 Z" fill="#ec2436" fill-opacity="0.5"/>
<path d="M403.0,277.40 C419.80,277.40 419.80,275.30 436.6,275.30 L436.6,278.00 C419.80,278.00 419.80,280.10 403.0,280.10 Z" fill="#ec2436" fill-opacity="0.5"/>
<path d="M403.0,280.10 C419.80,280.10 419.80,290.50 436.6,290.50 L436.6,293.50 C419.80,293.50 419.80,283.10 403.0,283.10 Z" fill="#ec2436" fill-opacity="0.5"/>
<path d="M403.0,283.10 C419.80,283.10 419.80,304.00 436.6,304.00 L436.6,307.00 C419.80,307.00 419.80,286.10 403.0,286.10 Z" fill="#ec2436" fill-opacity="0.5"/>
<path d="M403.0,286.10 C419.80,286.10 419.80,332.50 436.6,332.50 L436.6,338.90 C419.80,338.90 419.80,292.50 403.0,292.50 Z" fill="#ec2436" fill-opacity="0.5"/>
<path d="M403.0,292.50 C419.80,292.50 419.80,350.50 436.6,350.50 L436.6,358.50 C419.80,358.50 419.80,300.50 403.0,300.50 Z" fill="#ec2436" fill-opacity="0.5"/>
<path d="M403.0,300.50 C419.80,300.50 419.80,368.50 436.6,368.50 L436.6,371.50 C419.80,371.50 419.80,303.50 403.0,303.50 Z" fill="#ec2436" fill-opacity="0.5"/>
<path d="M403.0,303.50 C419.80,303.50 419.80,238.40 436.6,238.40 L436.6,240.20 C419.80,240.20 419.80,305.30 403.0,305.30 Z" fill="#ec2436" fill-opacity="0.5"/>
<path d="M403.0,305.30 C419.80,305.30 419.80,242.90 436.6,242.90 L436.6,245.60 C419.80,245.60 419.80,308.00 403.0,308.00 Z" fill="#ec2436" fill-opacity="0.5"/>
<path d="M403.0,308.00 C419.80,308.00 419.80,252.10 436.6,252.10 L436.6,255.00 C419.80,255.00 419.80,310.90 403.0,310.90 Z" fill="#ec2436" fill-opacity="0.5"/>
<path d="M403.0,310.90 C419.80,310.90 419.80,261.70 436.6,261.70 L436.6,263.90 C419.80,263.90 419.80,313.10 403.0,313.10 Z" fill="#ec2436" fill-opacity="0.5"/>
<path d="M403.0,313.10 C419.80,313.10 419.80,265.40 436.6,265.40 L436.6,268.30 C419.80,268.30 419.80,316.00 403.0,316.00 Z" fill="#ec2436" fill-opacity="0.5"/>
<path d="M403.0,316.00 C419.80,316.00 419.80,278.00 436.6,278.00 L436.6,280.60 C419.80,280.60 419.80,318.60 403.0,318.60 Z" fill="#ec2436" fill-opacity="0.5"/>
<path d="M403.0,318.60 C419.80,318.60 419.80,286.10 436.6,286.10 L436.6,288.00 C419.80,288.00 419.80,320.50 403.0,320.50 Z" fill="#ec2436" fill-opacity="0.5"/>
<path d="M403.0,320.50 C419.80,320.50 419.80,293.50 436.6,293.50 L436.6,298.50 C419.80,298.50 419.80,325.50 403.0,325.50 Z" fill="#ec2436" fill-opacity="0.5"/>
<path d="M403.0,325.50 C419.80,325.50 419.80,307.00 436.6,307.00 L436.6,312.50 C419.80,312.50 419.80,331.00 403.0,331.00 Z" fill="#ec2436" fill-opacity="0.5"/>
<path d="M403.0,331.00 C419.80,331.00 419.80,327.60 436.6,327.60 L436.6,330.00 C419.80,330.00 419.80,333.40 403.0,333.40 Z" fill="#ec2436" fill-opacity="0.5"/>
<path d="M403.0,333.40 C419.80,333.40 419.80,338.90 436.6,338.90 L436.6,343.90 C419.80,343.90 419.80,338.40 403.0,338.40 Z" fill="#ec2436" fill-opacity="0.5"/>
<path d="M403.0,338.40 C419.80,338.40 419.80,358.50 436.6,358.50 L436.6,361.10 C419.80,361.10 419.80,341.00 403.0,341.00 Z" fill="#ec2436" fill-opacity="0.5"/>
<path d="M403.0,341.00 C419.80,341.00 419.80,298.50 436.6,298.50 L436.6,304.00 C419.80,304.00 419.80,346.50 403.0,346.50 Z" fill="#ec2436" fill-opacity="0.5"/>
<path d="M403.0,346.50 C419.80,346.50 419.80,312.50 436.6,312.50 L436.6,319.00 C419.80,319.00 419.80,353.00 403.0,353.00 Z" fill="#ec2436" fill-opacity="0.5"/>
<path d="M403.0,353.00 C419.80,353.00 419.80,330.00 436.6,330.00 L436.6,332.50 C419.80,332.50 419.80,355.50 403.0,355.50 Z" fill="#ec2436" fill-opacity="0.5"/>
<path d="M403.0,355.50 C419.80,355.50 419.80,343.90 436.6,343.90 L436.6,348.50 C419.80,348.50 419.80,360.10 403.0,360.10 Z" fill="#ec2436" fill-opacity="0.5"/>
<path d="M403.0,360.10 C419.80,360.10 419.80,361.10 436.6,361.10 L436.6,365.50 C419.80,365.50 419.80,364.50 403.0,364.50 Z" fill="#ec2436" fill-opacity="0.5"/>
<path d="M403.0,364.50 C419.80,364.50 419.80,371.50 436.6,371.50 L436.6,373.00 C419.80,373.00 419.80,366.00 403.0,366.00 Z" fill="#ec2436" fill-opacity="0.5"/>
<path d="M403.0,366.00 C419.80,366.00 419.80,319.00 436.6,319.00 L436.6,321.00 C419.80,321.00 419.80,368.00 403.0,368.00 Z" fill="#ec2436" fill-opacity="0.5"/>
<path d="M403.0,368.00 C419.80,368.00 419.80,348.50 436.6,348.50 L436.6,350.50 C419.80,350.50 419.80,370.00 403.0,370.00 Z" fill="#ec2436" fill-opacity="0.5"/>
<path d="M403.0,370.00 C419.80,370.00 419.80,365.50 436.6,365.50 L436.6,368.50 C419.80,368.50 419.80,373.00 403.0,373.00 Z" fill="#ec2436" fill-opacity="0.5"/>
<path d="M403.0,373.00 C419.80,373.00 419.80,373.00 436.6,373.00 L436.6,375.50 C419.80,375.50 419.80,375.50 403.0,375.50 Z" fill="#ec2436" fill-opacity="0.5"/>
</g>
<rect x="325.40" y="236.60" width="3.2" height="138.90" fill="#fff" stroke="#111" stroke-width="0.9"/>
<rect x="362.20" y="236.60" width="3.2" height="138.90" fill="#fff" stroke="#111" stroke-width="0.9"/>
<rect x="399.80" y="236.60" width="3.2" height="9.70" fill="#fff" stroke="#111" stroke-width="0.9"/>
<rect x="399.80" y="246.30" width="3.2" height="9.40" fill="#fff" stroke="#111" stroke-width="0.9"/>
<rect x="399.80" y="255.70" width="3.2" height="12.20" fill="#fff" stroke="#111" stroke-width="0.9"/>
<rect x="399.80" y="267.90" width="3.2" height="35.60" fill="#fff" stroke="#111" stroke-width="0.9"/>
<rect x="399.80" y="303.50" width="3.2" height="37.50" fill="#fff" stroke="#111" stroke-width="0.9"/>
<rect x="399.80" y="341.00" width="3.2" height="25.00" fill="#fff" stroke="#111" stroke-width="0.9"/>
<rect x="399.80" y="366.00" width="3.2" height="9.50" fill="#fff" stroke="#111" stroke-width="0.9"/>
<rect x="436.80" y="236.60" width="3.2" height="3.60" fill="#fff" stroke="#111" stroke-width="0.9"/>
<rect x="436.80" y="240.20" width="3.2" height="5.40" fill="#fff" stroke="#111" stroke-width="0.9"/>
<rect x="436.80" y="245.60" width="3.2" height="9.40" fill="#fff" stroke="#111" stroke-width="0.9"/>
<rect x="436.80" y="255.00" width="3.2" height="8.90" fill="#fff" stroke="#111" stroke-width="0.9"/>
<rect x="436.80" y="263.90" width="3.2" height="4.40" fill="#fff" stroke="#111" stroke-width="0.9"/>
<rect x="436.80" y="268.30" width="3.2" height="12.30" fill="#fff" stroke="#111" stroke-width="0.9"/>
<rect x="436.80" y="280.60" width="3.2" height="7.40" fill="#fff" stroke="#111" stroke-width="0.9"/>
<rect x="436.80" y="288.00" width="3.2" height="16.00" fill="#fff" stroke="#111" stroke-width="0.9"/>
<rect x="436.80" y="304.00" width="3.2" height="17.00" fill="#fff" stroke="#111" stroke-width="0.9"/>
<rect x="436.80" y="321.00" width="3.2" height="11.50" fill="#fff" stroke="#111" stroke-width="0.9"/>
<rect x="436.80" y="332.50" width="3.2" height="18.00" fill="#fff" stroke="#111" stroke-width="0.9"/>
<rect x="436.80" y="350.50" width="3.2" height="18.00" fill="#fff" stroke="#111" stroke-width="0.9"/>
<rect x="436.80" y="368.50" width="3.2" height="7.00" fill="#fff" stroke="#111" stroke-width="0.9"/>
<rect x="312.30" y="301.90" width="15.80" height="6.8" rx="1.3" fill="#fff" stroke="#555" stroke-width="0.6"/>
<text x="320.20" y="307.20" font-size="6.0" text-anchor="middle" fill="#222">MSC</text>
<rect x="353.55" y="302.00" width="20.90" height="6.8" rx="1.3" fill="#fff" stroke="#555" stroke-width="0.6"/>
<text x="364.00" y="307.30" font-size="5.0" text-anchor="middle" fill="#222" font-style="italic">CXCL12</text>
<rect x="391.85" y="239.60" width="17.90" height="6.8" rx="1.3" fill="#fff" stroke="#555" stroke-width="0.6"/>
<text x="400.80" y="244.90" font-size="4.8" text-anchor="middle" fill="#222" font-style="italic">ACKR3</text>
<rect x="391.85" y="248.60" width="17.90" height="6.8" rx="1.3" fill="#fff" stroke="#555" stroke-width="0.6"/>
<text x="400.80" y="253.90" font-size="4.8" text-anchor="middle" fill="#222" font-style="italic">CXCR3</text>
<rect x="391.85" y="258.60" width="17.90" height="6.8" rx="1.3" fill="#fff" stroke="#555" stroke-width="0.6"/>
<text x="400.80" y="263.90" font-size="4.8" text-anchor="middle" fill="#222" font-style="italic">CXCR4</text>
<rect x="392.35" y="281.90" width="16.90" height="6.8" rx="1.3" fill="#fff" stroke="#555" stroke-width="0.6"/>
<text x="400.80" y="287.20" font-size="4.8" text-anchor="middle" fill="#222" font-style="italic">ITGB1</text>
<rect x="393.35" y="318.60" width="14.90" height="6.8" rx="1.3" fill="#fff" stroke="#555" stroke-width="0.6"/>
<text x="400.80" y="323.90" font-size="4.8" text-anchor="middle" fill="#222" font-style="italic">CD4</text>
<rect x="390.85" y="351.00" width="19.90" height="6.8" rx="1.3" fill="#fff" stroke="#555" stroke-width="0.6"/>
<text x="400.80" y="356.30" font-size="4.8" text-anchor="middle" fill="#222" font-style="italic">CXCR7</text>
<rect x="393.35" y="367.40" width="14.90" height="6.8" rx="1.3" fill="#fff" stroke="#555" stroke-width="0.6"/>
<text x="400.80" y="372.70" font-size="4.8" text-anchor="middle" fill="#222" font-style="italic">DPP4</text>
<rect x="440.00" y="232.30" width="18.40" height="6.8" rx="1.3" fill="#fff" stroke="#555" stroke-width="0.6"/>
<text x="441.20" y="237.60" font-size="5.8" text-anchor="start" fill="#222">MSC</text>
<rect x="440.00" y="239.40" width="22.40" height="6.8" rx="1.3" fill="#fff" stroke="#555" stroke-width="0.6"/>
<text x="441.20" y="244.70" font-size="5.8" text-anchor="start" fill="#222">CFU-E</text>
<rect x="440.00" y="246.50" width="17.40" height="6.8" rx="1.3" fill="#fff" stroke="#555" stroke-width="0.6"/>
<text x="441.20" y="251.80" font-size="5.8" text-anchor="start" fill="#222">CMP</text>
<rect x="440.00" y="255.60" width="29.40" height="6.8" rx="1.3" fill="#fff" stroke="#555" stroke-width="0.6"/>
<text x="441.20" y="260.90" font-size="5.8" text-anchor="start" fill="#222">Endothel</text>
<rect x="440.00" y="262.40" width="17.40" height="6.8" rx="1.3" fill="#fff" stroke="#555" stroke-width="0.6"/>
<text x="441.20" y="267.70" font-size="5.8" text-anchor="start" fill="#222">GMP</text>
<rect x="440.00" y="272.60" width="16.40" height="6.8" rx="1.3" fill="#fff" stroke="#555" stroke-width="0.6"/>
<text x="441.20" y="277.90" font-size="5.8" text-anchor="start" fill="#222">HSC</text>
<rect x="440.00" y="281.40" width="18.40" height="6.8" rx="1.3" fill="#fff" stroke="#555" stroke-width="0.6"/>
<text x="441.20" y="286.70" font-size="5.8" text-anchor="start" fill="#222">Mono</text>
<rect x="440.00" y="292.60" width="33.40" height="6.8" rx="1.3" fill="#fff" stroke="#555" stroke-width="0.6"/>
<text x="441.20" y="297.90" font-size="5.8" text-anchor="start" fill="#222">MyeloPro0</text>
<rect x="440.00" y="309.60" width="36.40" height="6.8" rx="1.3" fill="#fff" stroke="#555" stroke-width="0.6"/>
<text x="441.20" y="314.90" font-size="5.8" text-anchor="start" fill="#222">Neutrophile1</text>
<rect x="440.00" y="323.00" width="18.40" height="6.8" rx="1.3" fill="#fff" stroke="#555" stroke-width="0.6"/>
<text x="441.20" y="328.30" font-size="5.8" text-anchor="start" fill="#222">ProB</text>
<rect x="440.00" y="337.60" width="27.40" height="6.8" rx="1.3" fill="#fff" stroke="#555" stroke-width="0.6"/>
<text x="441.20" y="342.90" font-size="5.8" text-anchor="start" fill="#222">ProEry0</text>
<rect x="440.00" y="357.60" width="30.40" height="6.8" rx="1.3" fill="#fff" stroke="#555" stroke-width="0.6"/>
<text x="441.20" y="362.90" font-size="5.8" text-anchor="start" fill="#222">ProMono</text>
<rect x="440.00" y="369.50" width="23.40" height="6.8" rx="1.3" fill="#fff" stroke="#555" stroke-width="0.6"/>
<text x="441.20" y="374.80" font-size="5.8" text-anchor="start" fill="#222">TCell0</text>
<text x="327.60" y="386.20" font-size="6.0" text-anchor="middle" font-weight="normal" fill="#333" >Ligand Cluster</text>
<text x="363.50" y="386.20" font-size="6.0" text-anchor="middle" font-weight="normal" fill="#333" >Ligand</text>
<text x="399.00" y="386.20" font-size="6.0" text-anchor="middle" font-weight="normal" fill="#333" >Receptor</text>
<text x="441.00" y="386.20" font-size="6.0" text-anchor="middle" font-weight="normal" fill="#333" >Receptor Cluster</text>
<text x="480.80" y="265.40" font-size="5.9" text-anchor="start" font-weight="normal" fill="#333" >Upregulated</text>
<text x="480.80" y="272.40" font-size="5.9" text-anchor="start" font-weight="normal" fill="#333" >in MDS</text>
<rect x="480.60" y="277.00" width="5.60" height="5.20" fill="#8fa0cd" />
<rect x="480.60" y="284.10" width="5.60" height="5.20" fill="#f0878c" />
<text x="489.60" y="281.40" font-size="5.9" text-anchor="start" font-weight="normal" fill="#333" >FALSE</text>
<text x="489.60" y="288.60" font-size="5.9" text-anchor="start" font-weight="normal" fill="#333" >TRUE</text>
<line x1="41.10" y1="450.68" x2="41.10" y2="505.80" stroke="#3a3a3a" stroke-width="0.55" />
<path d="M41.10,505.80 L36.90,505.80 L36.90,505.71 L36.91,505.62 L36.93,505.54 L36.95,505.45 L36.98,505.36 L37.02,505.28 L37.06,505.19 L37.11,505.10 L37.16,505.01 L37.22,504.93 L37.29,504.84 L37.35,504.75 L37.43,504.66 L37.50,504.57 L37.58,504.49 L37.66,504.40 L37.74,504.31 L37.83,504.23 L37.91,504.14 L38.00,504.05 L38.09,503.96 L38.17,503.88 L38.26,503.79 L38.34,503.70 L38.42,503.61 L38.50,503.53 L38.57,503.44 L38.65,503.35 L38.71,503.26 L38.78,503.18 L38.84,503.09 L38.89,503.00 L38.94,502.91 L38.98,502.82 L39.02,502.74 L39.05,502.65 L39.07,502.56 L39.09,502.48 L39.10,502.39 L39.10,502.30 L39.10,502.17 L39.10,502.04 L39.11,501.91 L39.11,501.78 L39.12,501.64 L39.13,501.51 L39.14,501.38 L39.15,501.25 L39.16,501.12 L39.17,500.99 L39.19,500.86 L39.20,500.73 L39.22,500.59 L39.24,500.46 L39.25,500.33 L39.27,500.20 L39.29,500.07 L39.31,499.94 L39.33,499.81 L39.35,499.68 L39.37,499.54 L39.39,499.41 L39.41,499.28 L39.43,499.15 L39.45,499.02 L39.46,498.89 L39.48,498.76 L39.50,498.62 L39.51,498.49 L39.53,498.36 L39.54,498.23 L39.55,498.10 L39.56,497.97 L39.57,497.84 L39.58,497.71 L39.59,497.57 L39.59,497.44 L39.60,497.31 L39.60,497.18 L39.60,497.05 L39.60,496.85 L39.60,496.66 L39.59,496.46 L39.59,496.26 L39.58,496.07 L39.57,495.87 L39.56,495.67 L39.54,495.48 L39.53,495.28 L39.51,495.08 L39.49,494.88 L39.48,494.69 L39.46,494.49 L39.44,494.29 L39.41,494.10 L39.39,493.90 L39.37,493.70 L39.35,493.51 L39.32,493.31 L39.30,493.11 L39.28,492.92 L39.25,492.72 L39.23,492.52 L39.21,492.32 L39.19,492.13 L39.16,491.93 L39.14,491.73 L39.12,491.54 L39.11,491.34 L39.09,491.14 L39.07,490.95 L39.06,490.75 L39.04,490.55 L39.03,490.36 L39.02,490.16 L39.01,489.96 L39.01,489.77 L39.00,489.57 L39.00,489.37 L39.00,489.18 L39.00,488.93 L39.01,488.69 L39.02,488.45 L39.04,488.21 L39.06,487.97 L39.09,487.73 L39.12,487.49 L39.15,487.25 L39.19,487.01 L39.23,486.77 L39.28,486.53 L39.33,486.29 L39.38,486.05 L39.44,485.81 L39.49,485.57 L39.55,485.32 L39.61,485.08 L39.67,484.84 L39.74,484.60 L39.80,484.36 L39.86,484.12 L39.93,483.88 L39.99,483.64 L40.05,483.40 L40.11,483.16 L40.16,482.92 L40.22,482.68 L40.27,482.44 L40.32,482.20 L40.37,481.96 L40.41,481.72 L40.45,481.48 L40.48,481.23 L40.51,480.99 L40.54,480.75 L40.56,480.51 L40.58,480.27 L40.59,480.03 L40.60,479.79 L40.60,479.55 L40.60,479.24 L40.60,478.94 L40.60,478.63 L40.61,478.32 L40.61,478.02 L40.62,477.71 L40.63,477.41 L40.63,477.10 L40.64,476.79 L40.65,476.49 L40.66,476.18 L40.67,475.88 L40.68,475.57 L40.70,475.26 L40.71,474.96 L40.72,474.65 L40.73,474.34 L40.75,474.04 L40.76,473.73 L40.77,473.43 L40.79,473.12 L40.80,472.81 L40.82,472.51 L40.83,472.20 L40.84,471.89 L40.85,471.59 L40.87,471.28 L40.88,470.98 L40.89,470.67 L40.90,470.36 L40.91,470.06 L40.92,469.75 L40.92,469.44 L40.93,469.14 L40.94,468.83 L40.94,468.52 L40.95,468.22 L40.95,467.91 L40.95,467.61 L40.95,467.30 L40.95,466.88 L40.95,466.47 L40.95,466.05 L40.95,465.64 L40.95,465.22 L40.96,464.81 L40.96,464.39 L40.96,463.98 L40.96,463.56 L40.96,463.14 L40.97,462.73 L40.97,462.31 L40.97,461.90 L40.98,461.48 L40.98,461.07 L40.98,460.65 L40.99,460.23 L40.99,459.82 L41.00,459.40 L41.00,458.99 L41.00,458.57 L41.01,458.16 L41.01,457.74 L41.02,457.32 L41.02,456.91 L41.02,456.49 L41.03,456.08 L41.03,455.66 L41.03,455.25 L41.04,454.83 L41.04,454.42 L41.04,454.00 L41.04,453.58 L41.04,453.17 L41.05,452.75 L41.05,452.34 L41.05,451.92 L41.05,451.51 L41.05,451.09 L41.05,450.68 L41.10,450.68 Z" fill="#1e3f80" stroke="#222" stroke-width="0.25"/>
<path d="M41.10,505.80 L46.10,505.80 L46.10,505.73 L46.08,505.67 L46.06,505.60 L46.03,505.54 L45.99,505.47 L45.94,505.41 L45.88,505.34 L45.81,505.28 L45.74,505.21 L45.66,505.14 L45.57,505.08 L45.48,505.01 L45.38,504.95 L45.28,504.88 L45.17,504.82 L45.06,504.75 L44.95,504.68 L44.83,504.62 L44.72,504.55 L44.60,504.49 L44.48,504.42 L44.37,504.36 L44.25,504.29 L44.14,504.23 L44.03,504.16 L43.92,504.09 L43.82,504.03 L43.72,503.96 L43.63,503.90 L43.54,503.83 L43.46,503.77 L43.39,503.70 L43.32,503.63 L43.26,503.57 L43.21,503.50 L43.17,503.44 L43.14,503.37 L43.12,503.31 L43.10,503.24 L43.10,503.18 L43.10,503.09 L43.09,503.00 L43.08,502.91 L43.06,502.82 L43.04,502.74 L43.01,502.65 L42.97,502.56 L42.94,502.48 L42.90,502.39 L42.85,502.30 L42.80,502.21 L42.75,502.12 L42.69,502.04 L42.64,501.95 L42.58,501.86 L42.51,501.78 L42.45,501.69 L42.38,501.60 L42.32,501.51 L42.25,501.43 L42.18,501.34 L42.12,501.25 L42.05,501.16 L41.99,501.07 L41.92,500.99 L41.86,500.90 L41.81,500.81 L41.75,500.73 L41.70,500.64 L41.65,500.55 L41.60,500.46 L41.56,500.38 L41.53,500.29 L41.49,500.20 L41.46,500.11 L41.44,500.03 L41.42,499.94 L41.41,499.85 L41.40,499.76 L41.40,499.68 L41.40,499.48 L41.40,499.28 L41.40,499.08 L41.39,498.89 L41.39,498.69 L41.39,498.49 L41.38,498.30 L41.38,498.10 L41.37,497.90 L41.36,497.71 L41.36,497.51 L41.35,497.31 L41.34,497.12 L41.33,496.92 L41.32,496.72 L41.31,496.53 L41.30,496.33 L41.29,496.13 L41.28,495.93 L41.27,495.74 L41.27,495.54 L41.26,495.34 L41.25,495.15 L41.24,494.95 L41.23,494.75 L41.22,494.56 L41.21,494.36 L41.20,494.16 L41.19,493.97 L41.19,493.77 L41.18,493.57 L41.17,493.38 L41.17,493.18 L41.16,492.98 L41.16,492.78 L41.16,492.59 L41.15,492.39 L41.15,492.19 L41.15,492.00 L41.15,491.80 L41.10,491.80 Z" fill="#b8163a" stroke="#222" stroke-width="0.25"/>
<line x1="52.50" y1="444.55" x2="52.50" y2="505.80" stroke="#3a3a3a" stroke-width="0.55" />
<path d="M52.50,505.80 L47.50,505.80 L47.50,505.67 L47.51,505.54 L47.53,505.41 L47.55,505.28 L47.58,505.14 L47.61,505.01 L47.65,504.88 L47.69,504.75 L47.74,504.62 L47.79,504.49 L47.85,504.36 L47.91,504.23 L47.98,504.09 L48.05,503.96 L48.12,503.83 L48.19,503.70 L48.27,503.57 L48.34,503.44 L48.42,503.31 L48.50,503.18 L48.58,503.04 L48.66,502.91 L48.73,502.78 L48.81,502.65 L48.88,502.52 L48.95,502.39 L49.02,502.26 L49.09,502.12 L49.15,501.99 L49.21,501.86 L49.26,501.73 L49.31,501.60 L49.35,501.47 L49.39,501.34 L49.42,501.21 L49.45,501.07 L49.47,500.94 L49.49,500.81 L49.50,500.68 L49.50,500.55 L49.50,500.42 L49.51,500.29 L49.52,500.16 L49.53,500.03 L49.55,499.89 L49.58,499.76 L49.60,499.63 L49.63,499.50 L49.67,499.37 L49.71,499.24 L49.75,499.11 L49.79,498.98 L49.83,498.84 L49.88,498.71 L49.93,498.58 L49.98,498.45 L50.04,498.32 L50.09,498.19 L50.15,498.06 L50.20,497.93 L50.25,497.79 L50.31,497.66 L50.36,497.53 L50.42,497.40 L50.47,497.27 L50.52,497.14 L50.57,497.01 L50.61,496.88 L50.65,496.74 L50.69,496.61 L50.73,496.48 L50.77,496.35 L50.80,496.22 L50.82,496.09 L50.85,495.96 L50.87,495.82 L50.88,495.69 L50.89,495.56 L50.90,495.43 L50.90,495.30 L50.90,495.04 L50.90,494.78 L50.89,494.51 L50.89,494.25 L50.88,493.99 L50.88,493.73 L50.87,493.46 L50.86,493.20 L50.85,492.94 L50.84,492.68 L50.83,492.41 L50.82,492.15 L50.80,491.89 L50.79,491.62 L50.78,491.36 L50.76,491.10 L50.75,490.84 L50.73,490.57 L50.72,490.31 L50.70,490.05 L50.68,489.79 L50.67,489.53 L50.65,489.26 L50.64,489.00 L50.62,488.74 L50.61,488.48 L50.60,488.21 L50.58,487.95 L50.57,487.69 L50.56,487.43 L50.55,487.16 L50.54,486.90 L50.53,486.64 L50.52,486.38 L50.52,486.11 L50.51,485.85 L50.51,485.59 L50.50,485.32 L50.50,485.06 L50.50,484.80 L50.50,484.45 L50.50,484.10 L50.50,483.75 L50.50,483.40 L50.50,483.05 L50.49,482.70 L50.49,482.35 L50.49,482.00 L50.49,481.65 L50.49,481.30 L50.48,480.95 L50.48,480.60 L50.48,480.25 L50.47,479.90 L50.47,479.55 L50.47,479.20 L50.46,478.85 L50.46,478.50 L50.45,478.15 L50.45,477.80 L50.45,477.45 L50.44,477.10 L50.44,476.75 L50.43,476.40 L50.43,476.05 L50.43,475.70 L50.42,475.35 L50.42,475.00 L50.42,474.65 L50.41,474.30 L50.41,473.95 L50.41,473.60 L50.41,473.25 L50.41,472.90 L50.40,472.55 L50.40,472.20 L50.40,471.85 L50.40,471.50 L50.40,471.15 L50.40,470.80 L50.40,470.58 L50.41,470.36 L50.42,470.14 L50.44,469.93 L50.46,469.71 L50.48,469.49 L50.51,469.27 L50.54,469.05 L50.58,468.83 L50.62,468.61 L50.66,468.39 L50.71,468.18 L50.76,467.96 L50.81,467.74 L50.86,467.52 L50.92,467.30 L50.97,467.08 L51.03,466.86 L51.09,466.64 L51.15,466.43 L51.21,466.21 L51.27,465.99 L51.33,465.77 L51.38,465.55 L51.44,465.33 L51.49,465.11 L51.54,464.89 L51.59,464.68 L51.64,464.46 L51.68,464.24 L51.72,464.02 L51.76,463.80 L51.79,463.58 L51.82,463.36 L51.84,463.14 L51.86,462.93 L51.88,462.71 L51.89,462.49 L51.90,462.27 L51.90,462.05 L51.90,461.83 L51.90,461.61 L51.91,461.39 L51.91,461.18 L51.92,460.96 L51.93,460.74 L51.94,460.52 L51.95,460.30 L51.96,460.08 L51.97,459.86 L51.99,459.64 L52.00,459.43 L52.02,459.21 L52.04,458.99 L52.05,458.77 L52.07,458.55 L52.09,458.33 L52.11,458.11 L52.13,457.89 L52.15,457.68 L52.17,457.46 L52.19,457.24 L52.21,457.02 L52.23,456.80 L52.25,456.58 L52.26,456.36 L52.28,456.14 L52.30,455.93 L52.31,455.71 L52.33,455.49 L52.34,455.27 L52.35,455.05 L52.36,454.83 L52.37,454.61 L52.38,454.39 L52.39,454.18 L52.39,453.96 L52.40,453.74 L52.40,453.52 L52.40,453.30 L52.40,453.08 L52.40,452.86 L52.40,452.64 L52.40,452.43 L52.40,452.21 L52.40,451.99 L52.40,451.77 L52.40,451.55 L52.41,451.33 L52.41,451.11 L52.41,450.89 L52.41,450.68 L52.41,450.46 L52.41,450.24 L52.42,450.02 L52.42,449.80 L52.42,449.58 L52.42,449.36 L52.42,449.14 L52.42,448.93 L52.43,448.71 L52.43,448.49 L52.43,448.27 L52.43,448.05 L52.43,447.83 L52.44,447.61 L52.44,447.39 L52.44,447.18 L52.44,446.96 L52.44,446.74 L52.44,446.52 L52.45,446.30 L52.45,446.08 L52.45,445.86 L52.45,445.64 L52.45,445.43 L52.45,445.21 L52.45,444.99 L52.45,444.77 L52.45,444.55 L52.50,444.55 Z" fill="#1e3f80" stroke="#222" stroke-width="0.25"/>
<path d="M52.50,505.80 L57.10,505.80 L57.10,505.67 L57.09,505.54 L57.07,505.41 L57.05,505.28 L57.02,505.14 L56.99,505.01 L56.95,504.88 L56.91,504.75 L56.86,504.62 L56.81,504.49 L56.75,504.36 L56.69,504.23 L56.62,504.09 L56.55,503.96 L56.48,503.83 L56.41,503.70 L56.33,503.57 L56.26,503.44 L56.18,503.31 L56.10,503.18 L56.02,503.04 L55.94,502.91 L55.87,502.78 L55.79,502.65 L55.72,502.52 L55.65,502.39 L55.58,502.26 L55.51,502.12 L55.45,501.99 L55.39,501.86 L55.34,501.73 L55.29,501.60 L55.25,501.47 L55.21,501.34 L55.18,501.21 L55.15,501.07 L55.13,500.94 L55.11,500.81 L55.10,500.68 L55.10,500.55 L55.10,500.42 L55.09,500.29 L55.08,500.16 L55.07,500.03 L55.05,499.89 L55.03,499.76 L55.00,499.63 L54.98,499.50 L54.94,499.37 L54.91,499.24 L54.87,499.11 L54.83,498.98 L54.79,498.84 L54.75,498.71 L54.70,498.58 L54.65,498.45 L54.60,498.32 L54.55,498.19 L54.50,498.06 L54.45,497.93 L54.40,497.79 L54.35,497.66 L54.30,497.53 L54.25,497.40 L54.20,497.27 L54.15,497.14 L54.11,497.01 L54.07,496.88 L54.03,496.74 L53.99,496.61 L53.96,496.48 L53.92,496.35 L53.90,496.22 L53.87,496.09 L53.85,495.96 L53.83,495.82 L53.82,495.69 L53.81,495.56 L53.80,495.43 L53.80,495.30 L53.80,494.99 L53.80,494.69 L53.80,494.38 L53.80,494.07 L53.81,493.77 L53.81,493.46 L53.81,493.16 L53.82,492.85 L53.82,492.54 L53.83,492.24 L53.84,491.93 L53.84,491.62 L53.85,491.32 L53.85,491.01 L53.86,490.71 L53.87,490.40 L53.88,490.09 L53.88,489.79 L53.89,489.48 L53.90,489.18 L53.91,488.87 L53.92,488.56 L53.92,488.26 L53.93,487.95 L53.94,487.64 L53.95,487.34 L53.95,487.03 L53.96,486.73 L53.96,486.42 L53.97,486.11 L53.98,485.81 L53.98,485.50 L53.99,485.19 L53.99,484.89 L53.99,484.58 L54.00,484.28 L54.00,483.97 L54.00,483.66 L54.00,483.36 L54.00,483.05 L54.00,482.74 L54.00,482.44 L54.00,482.13 L54.00,481.82 L53.99,481.52 L53.99,481.21 L53.99,480.91 L53.98,480.60 L53.98,480.29 L53.97,479.99 L53.96,479.68 L53.96,479.38 L53.95,479.07 L53.95,478.76 L53.94,478.46 L53.93,478.15 L53.92,477.84 L53.92,477.54 L53.91,477.23 L53.90,476.93 L53.89,476.62 L53.88,476.31 L53.88,476.01 L53.87,475.70 L53.86,475.39 L53.85,475.09 L53.85,474.78 L53.84,474.48 L53.84,474.17 L53.83,473.86 L53.82,473.56 L53.82,473.25 L53.81,472.94 L53.81,472.64 L53.81,472.33 L53.80,472.02 L53.80,471.72 L53.80,471.41 L53.80,471.11 L53.80,470.80 L53.80,470.58 L53.79,470.36 L53.79,470.14 L53.78,469.93 L53.76,469.71 L53.75,469.49 L53.73,469.27 L53.70,469.05 L53.68,468.83 L53.65,468.61 L53.62,468.39 L53.59,468.18 L53.56,467.96 L53.53,467.74 L53.49,467.52 L53.45,467.30 L53.42,467.08 L53.38,466.86 L53.34,466.64 L53.30,466.43 L53.26,466.21 L53.22,465.99 L53.18,465.77 L53.15,465.55 L53.11,465.33 L53.07,465.11 L53.04,464.89 L53.01,464.68 L52.98,464.46 L52.95,464.24 L52.92,464.02 L52.90,463.80 L52.87,463.58 L52.85,463.36 L52.84,463.14 L52.82,462.93 L52.81,462.71 L52.81,462.49 L52.80,462.27 L52.80,462.05 L52.80,461.83 L52.80,461.61 L52.80,461.39 L52.79,461.18 L52.79,460.96 L52.79,460.74 L52.78,460.52 L52.78,460.30 L52.77,460.08 L52.76,459.86 L52.76,459.64 L52.75,459.43 L52.74,459.21 L52.73,458.99 L52.72,458.77 L52.71,458.55 L52.70,458.33 L52.69,458.11 L52.68,457.89 L52.67,457.68 L52.67,457.46 L52.66,457.24 L52.65,457.02 L52.64,456.80 L52.63,456.58 L52.62,456.36 L52.61,456.14 L52.60,455.93 L52.59,455.71 L52.59,455.49 L52.58,455.27 L52.57,455.05 L52.57,454.83 L52.56,454.61 L52.56,454.39 L52.56,454.18 L52.55,453.96 L52.55,453.74 L52.55,453.52 L52.55,453.30 L52.50,453.30 Z" fill="#b8163a" stroke="#222" stroke-width="0.25"/>
<line x1="63.30" y1="441.05" x2="63.30" y2="505.80" stroke="#3a3a3a" stroke-width="0.55" />
<path d="M63.30,505.80 L58.30,505.80 L58.30,505.67 L58.31,505.54 L58.33,505.41 L58.35,505.28 L58.38,505.14 L58.41,505.01 L58.45,504.88 L58.49,504.75 L58.54,504.62 L58.59,504.49 L58.65,504.36 L58.71,504.23 L58.78,504.09 L58.85,503.96 L58.92,503.83 L58.99,503.70 L59.07,503.57 L59.14,503.44 L59.22,503.31 L59.30,503.18 L59.38,503.04 L59.46,502.91 L59.53,502.78 L59.61,502.65 L59.68,502.52 L59.75,502.39 L59.82,502.26 L59.89,502.12 L59.95,501.99 L60.01,501.86 L60.06,501.73 L60.11,501.60 L60.15,501.47 L60.19,501.34 L60.22,501.21 L60.25,501.07 L60.27,500.94 L60.29,500.81 L60.30,500.68 L60.30,500.55 L60.30,500.42 L60.31,500.29 L60.32,500.16 L60.34,500.03 L60.36,499.89 L60.38,499.76 L60.41,499.63 L60.44,499.50 L60.48,499.37 L60.52,499.24 L60.56,499.11 L60.61,498.98 L60.66,498.84 L60.71,498.71 L60.76,498.58 L60.82,498.45 L60.87,498.32 L60.93,498.19 L60.99,498.06 L61.05,497.93 L61.11,497.79 L61.17,497.66 L61.23,497.53 L61.28,497.40 L61.34,497.27 L61.39,497.14 L61.44,497.01 L61.49,496.88 L61.54,496.74 L61.58,496.61 L61.62,496.48 L61.66,496.35 L61.69,496.22 L61.72,496.09 L61.74,495.96 L61.76,495.82 L61.78,495.69 L61.79,495.56 L61.80,495.43 L61.80,495.30 L61.80,494.99 L61.80,494.69 L61.80,494.38 L61.80,494.07 L61.80,493.77 L61.79,493.46 L61.79,493.16 L61.79,492.85 L61.79,492.54 L61.79,492.24 L61.78,491.93 L61.78,491.62 L61.78,491.32 L61.77,491.01 L61.77,490.71 L61.77,490.40 L61.76,490.09 L61.76,489.79 L61.75,489.48 L61.75,489.18 L61.75,488.87 L61.74,488.56 L61.74,488.26 L61.73,487.95 L61.73,487.64 L61.73,487.34 L61.72,487.03 L61.72,486.73 L61.72,486.42 L61.71,486.11 L61.71,485.81 L61.71,485.50 L61.71,485.19 L61.71,484.89 L61.70,484.58 L61.70,484.28 L61.70,483.97 L61.70,483.66 L61.70,483.36 L61.70,483.05 L61.70,482.66 L61.70,482.26 L61.69,481.87 L61.69,481.48 L61.68,481.08 L61.68,480.69 L61.67,480.29 L61.66,479.90 L61.65,479.51 L61.64,479.11 L61.63,478.72 L61.62,478.32 L61.60,477.93 L61.59,477.54 L61.58,477.14 L61.56,476.75 L61.55,476.36 L61.53,475.96 L61.52,475.57 L61.50,475.18 L61.48,474.78 L61.47,474.39 L61.45,473.99 L61.44,473.60 L61.42,473.21 L61.41,472.81 L61.40,472.42 L61.38,472.02 L61.37,471.63 L61.36,471.24 L61.35,470.84 L61.34,470.45 L61.33,470.06 L61.32,469.66 L61.32,469.27 L61.31,468.88 L61.31,468.48 L61.30,468.09 L61.30,467.69 L61.30,467.30 L61.30,467.12 L61.30,466.95 L61.31,466.78 L61.32,466.60 L61.33,466.43 L61.34,466.25 L61.35,466.07 L61.37,465.90 L61.38,465.73 L61.40,465.55 L61.42,465.38 L61.44,465.20 L61.47,465.03 L61.49,464.85 L61.52,464.68 L61.54,464.50 L61.57,464.32 L61.60,464.15 L61.62,463.98 L61.65,463.80 L61.68,463.62 L61.70,463.45 L61.73,463.27 L61.76,463.10 L61.78,462.93 L61.81,462.75 L61.83,462.57 L61.86,462.40 L61.88,462.23 L61.90,462.05 L61.92,461.88 L61.93,461.70 L61.95,461.52 L61.96,461.35 L61.97,461.18 L61.98,461.00 L61.99,460.82 L62.00,460.65 L62.00,460.48 L62.00,460.30 L62.00,460.08 L62.01,459.86 L62.02,459.64 L62.03,459.43 L62.04,459.21 L62.06,458.99 L62.08,458.77 L62.11,458.55 L62.13,458.33 L62.16,458.11 L62.19,457.89 L62.23,457.68 L62.26,457.46 L62.30,457.24 L62.34,457.02 L62.38,456.80 L62.42,456.58 L62.46,456.36 L62.51,456.14 L62.55,455.93 L62.59,455.71 L62.64,455.49 L62.68,455.27 L62.72,455.05 L62.76,454.83 L62.80,454.61 L62.84,454.39 L62.87,454.18 L62.91,453.96 L62.94,453.74 L62.97,453.52 L62.99,453.30 L63.02,453.08 L63.04,452.86 L63.06,452.64 L63.07,452.43 L63.08,452.21 L63.09,451.99 L63.10,451.77 L63.10,451.55 L63.10,451.29 L63.10,451.03 L63.10,450.76 L63.10,450.50 L63.11,450.24 L63.11,449.98 L63.11,449.71 L63.11,449.45 L63.12,449.19 L63.12,448.93 L63.13,448.66 L63.13,448.40 L63.14,448.14 L63.14,447.88 L63.15,447.61 L63.15,447.35 L63.16,447.09 L63.16,446.82 L63.17,446.56 L63.17,446.30 L63.18,446.04 L63.19,445.77 L63.19,445.51 L63.20,445.25 L63.20,444.99 L63.21,444.73 L63.21,444.46 L63.22,444.20 L63.22,443.94 L63.23,443.68 L63.23,443.41 L63.24,443.15 L63.24,442.89 L63.24,442.62 L63.24,442.36 L63.25,442.10 L63.25,441.84 L63.25,441.58 L63.25,441.31 L63.25,441.05 L63.30,441.05 Z" fill="#1e3f80" stroke="#222" stroke-width="0.25"/>
<path d="M63.30,505.80 L67.80,505.80 L67.80,505.67 L67.79,505.54 L67.77,505.41 L67.75,505.28 L67.72,505.14 L67.69,505.01 L67.65,504.88 L67.60,504.75 L67.55,504.62 L67.49,504.49 L67.43,504.36 L67.37,504.23 L67.30,504.09 L67.23,503.96 L67.15,503.83 L67.07,503.70 L67.00,503.57 L66.91,503.44 L66.83,503.31 L66.75,503.18 L66.67,503.04 L66.59,502.91 L66.50,502.78 L66.43,502.65 L66.35,502.52 L66.27,502.39 L66.20,502.26 L66.13,502.12 L66.07,501.99 L66.01,501.86 L65.95,501.73 L65.90,501.60 L65.85,501.47 L65.81,501.34 L65.78,501.21 L65.75,501.07 L65.73,500.94 L65.71,500.81 L65.70,500.68 L65.70,500.55 L65.70,500.42 L65.69,500.29 L65.67,500.16 L65.65,500.03 L65.62,499.89 L65.59,499.76 L65.55,499.63 L65.51,499.50 L65.46,499.37 L65.41,499.24 L65.35,499.11 L65.29,498.98 L65.22,498.84 L65.15,498.71 L65.08,498.58 L65.01,498.45 L64.93,498.32 L64.86,498.19 L64.78,498.06 L64.70,497.93 L64.62,497.79 L64.54,497.66 L64.47,497.53 L64.39,497.40 L64.32,497.27 L64.25,497.14 L64.18,497.01 L64.11,496.88 L64.05,496.74 L63.99,496.61 L63.94,496.48 L63.89,496.35 L63.85,496.22 L63.81,496.09 L63.78,495.96 L63.75,495.82 L63.73,495.69 L63.71,495.56 L63.70,495.43 L63.70,495.30 L63.70,495.04 L63.70,494.78 L63.70,494.51 L63.70,494.25 L63.70,493.99 L63.69,493.73 L63.69,493.46 L63.69,493.20 L63.69,492.94 L63.69,492.68 L63.68,492.41 L63.68,492.15 L63.68,491.89 L63.67,491.62 L63.67,491.36 L63.67,491.10 L63.66,490.84 L63.66,490.57 L63.65,490.31 L63.65,490.05 L63.65,489.79 L63.64,489.53 L63.64,489.26 L63.63,489.00 L63.63,488.74 L63.63,488.48 L63.62,488.21 L63.62,487.95 L63.62,487.69 L63.61,487.43 L63.61,487.16 L63.61,486.90 L63.61,486.64 L63.61,486.38 L63.60,486.11 L63.60,485.85 L63.60,485.59 L63.60,485.32 L63.60,485.06 L63.60,484.80 L63.60,484.45 L63.60,484.10 L63.60,483.75 L63.60,483.40 L63.60,483.05 L63.59,482.70 L63.59,482.35 L63.59,482.00 L63.59,481.65 L63.59,481.30 L63.58,480.95 L63.58,480.60 L63.58,480.25 L63.57,479.90 L63.57,479.55 L63.57,479.20 L63.56,478.85 L63.56,478.50 L63.55,478.15 L63.55,477.80 L63.55,477.45 L63.54,477.10 L63.54,476.75 L63.53,476.40 L63.53,476.05 L63.53,475.70 L63.52,475.35 L63.52,475.00 L63.52,474.65 L63.51,474.30 L63.51,473.95 L63.51,473.60 L63.51,473.25 L63.51,472.90 L63.50,472.55 L63.50,472.20 L63.50,471.85 L63.50,471.50 L63.50,471.15 L63.50,470.80 L63.50,470.54 L63.50,470.28 L63.50,470.01 L63.50,469.75 L63.49,469.49 L63.49,469.23 L63.49,468.96 L63.49,468.70 L63.48,468.44 L63.48,468.18 L63.47,467.91 L63.47,467.65 L63.46,467.39 L63.46,467.12 L63.45,466.86 L63.45,466.60 L63.44,466.34 L63.44,466.07 L63.43,465.81 L63.42,465.55 L63.42,465.29 L63.41,465.03 L63.41,464.76 L63.40,464.50 L63.40,464.24 L63.39,463.98 L63.39,463.71 L63.38,463.45 L63.38,463.19 L63.37,462.93 L63.37,462.66 L63.36,462.40 L63.36,462.14 L63.36,461.88 L63.36,461.61 L63.35,461.35 L63.35,461.09 L63.35,460.82 L63.35,460.56 L63.35,460.30 L63.30,460.30 Z" fill="#b8163a" stroke="#222" stroke-width="0.25"/>
<line x1="74.20" y1="430.55" x2="74.20" y2="505.80" stroke="#3a3a3a" stroke-width="0.55" />
<path d="M74.20,505.80 L71.60,505.80 L71.60,505.76 L71.61,505.71 L71.61,505.67 L71.62,505.62 L71.64,505.58 L71.65,505.54 L71.67,505.49 L71.70,505.45 L71.72,505.41 L71.75,505.36 L71.78,505.32 L71.81,505.28 L71.84,505.23 L71.87,505.19 L71.91,505.14 L71.95,505.10 L71.98,505.06 L72.02,505.01 L72.06,504.97 L72.10,504.93 L72.14,504.88 L72.18,504.84 L72.22,504.79 L72.25,504.75 L72.29,504.71 L72.33,504.66 L72.36,504.62 L72.39,504.57 L72.42,504.53 L72.45,504.49 L72.48,504.44 L72.50,504.40 L72.53,504.36 L72.55,504.31 L72.56,504.27 L72.58,504.23 L72.59,504.18 L72.59,504.14 L72.60,504.09 L72.60,504.05 L72.60,504.00 L72.61,503.94 L72.62,503.89 L72.63,503.84 L72.65,503.79 L72.67,503.74 L72.69,503.68 L72.71,503.63 L72.74,503.58 L72.78,503.53 L72.81,503.47 L72.85,503.42 L72.89,503.37 L72.93,503.31 L72.97,503.26 L73.01,503.21 L73.06,503.16 L73.11,503.11 L73.15,503.05 L73.20,503.00 L73.25,502.95 L73.29,502.90 L73.34,502.84 L73.39,502.79 L73.43,502.74 L73.47,502.69 L73.51,502.63 L73.55,502.58 L73.59,502.53 L73.62,502.48 L73.66,502.42 L73.69,502.37 L73.71,502.32 L73.73,502.26 L73.75,502.21 L73.77,502.16 L73.78,502.11 L73.79,502.06 L73.80,502.00 L73.80,501.95 L73.80,501.89 L73.80,501.84 L73.81,501.78 L73.81,501.72 L73.81,501.67 L73.82,501.61 L73.83,501.55 L73.84,501.50 L73.85,501.44 L73.86,501.38 L73.87,501.32 L73.88,501.27 L73.89,501.21 L73.90,501.15 L73.92,501.10 L73.93,501.04 L73.95,500.98 L73.96,500.93 L73.98,500.87 L73.99,500.81 L74.00,500.76 L74.02,500.70 L74.03,500.64 L74.05,500.59 L74.06,500.53 L74.08,500.47 L74.09,500.41 L74.10,500.36 L74.11,500.30 L74.12,500.24 L74.13,500.19 L74.14,500.13 L74.15,500.07 L74.16,500.02 L74.17,499.96 L74.17,499.90 L74.17,499.85 L74.18,499.79 L74.18,499.73 L74.18,499.68 L74.20,499.68 Z" fill="#1e3f80" stroke="#222" stroke-width="0.25"/>
<line x1="74.20" y1="505.80" x2="80.20" y2="505.80" stroke="#aaa" stroke-width="0.6" />
<line x1="85.30" y1="439.30" x2="85.30" y2="505.80" stroke="#3a3a3a" stroke-width="0.55" />
<path d="M85.30,505.80 L82.90,505.80 L82.90,505.67 L82.91,505.54 L82.91,505.41 L82.92,505.28 L82.93,505.14 L82.95,505.01 L82.97,504.88 L82.99,504.75 L83.01,504.62 L83.03,504.49 L83.06,504.36 L83.09,504.23 L83.11,504.09 L83.15,503.96 L83.18,503.83 L83.21,503.70 L83.24,503.57 L83.28,503.44 L83.31,503.31 L83.35,503.18 L83.39,503.04 L83.42,502.91 L83.46,502.78 L83.49,502.65 L83.52,502.52 L83.55,502.39 L83.59,502.26 L83.61,502.12 L83.64,501.99 L83.67,501.86 L83.69,501.73 L83.71,501.60 L83.73,501.47 L83.75,501.34 L83.77,501.21 L83.78,501.07 L83.79,500.94 L83.79,500.81 L83.80,500.68 L83.80,500.55 L83.80,500.40 L83.80,500.24 L83.81,500.09 L83.81,499.94 L83.82,499.78 L83.83,499.63 L83.84,499.48 L83.86,499.32 L83.87,499.17 L83.89,499.02 L83.91,498.87 L83.92,498.71 L83.94,498.56 L83.96,498.41 L83.99,498.25 L84.01,498.10 L84.03,497.95 L84.05,497.79 L84.08,497.64 L84.10,497.49 L84.12,497.33 L84.15,497.18 L84.17,497.03 L84.19,496.88 L84.21,496.72 L84.24,496.57 L84.26,496.42 L84.28,496.26 L84.29,496.11 L84.31,495.96 L84.33,495.80 L84.34,495.65 L84.36,495.50 L84.37,495.34 L84.38,495.19 L84.39,495.04 L84.39,494.88 L84.40,494.73 L84.40,494.58 L84.40,494.43 L84.40,494.14 L84.39,493.86 L84.37,493.57 L84.35,493.29 L84.32,493.00 L84.29,492.72 L84.25,492.43 L84.20,492.15 L84.15,491.87 L84.09,491.58 L84.03,491.30 L83.97,491.01 L83.90,490.73 L83.83,490.44 L83.75,490.16 L83.67,489.88 L83.60,489.59 L83.51,489.31 L83.43,489.02 L83.35,488.74 L83.27,488.45 L83.19,488.17 L83.10,487.88 L83.03,487.60 L82.95,487.32 L82.87,487.03 L82.80,486.75 L82.73,486.46 L82.67,486.18 L82.61,485.89 L82.55,485.61 L82.50,485.32 L82.45,485.04 L82.41,484.76 L82.38,484.47 L82.35,484.19 L82.33,483.90 L82.31,483.62 L82.30,483.33 L82.30,483.05 L82.30,482.66 L82.29,482.26 L82.28,481.87 L82.26,481.48 L82.24,481.08 L82.21,480.69 L82.17,480.29 L82.14,479.90 L82.10,479.51 L82.05,479.11 L82.00,478.72 L81.95,478.32 L81.89,477.93 L81.84,477.54 L81.78,477.14 L81.71,476.75 L81.65,476.36 L81.58,475.96 L81.52,475.57 L81.45,475.18 L81.38,474.78 L81.32,474.39 L81.25,473.99 L81.19,473.60 L81.12,473.21 L81.06,472.81 L81.01,472.42 L80.95,472.02 L80.90,471.63 L80.85,471.24 L80.80,470.84 L80.76,470.45 L80.73,470.06 L80.69,469.66 L80.66,469.27 L80.64,468.88 L80.62,468.48 L80.61,468.09 L80.60,467.69 L80.60,467.30 L80.60,466.99 L80.61,466.69 L80.62,466.38 L80.64,466.07 L80.66,465.77 L80.69,465.46 L80.73,465.16 L80.76,464.85 L80.80,464.54 L80.85,464.24 L80.90,463.93 L80.95,463.62 L81.01,463.32 L81.06,463.01 L81.12,462.71 L81.19,462.40 L81.25,462.09 L81.32,461.79 L81.38,461.48 L81.45,461.18 L81.52,460.87 L81.58,460.56 L81.65,460.26 L81.71,459.95 L81.78,459.64 L81.84,459.34 L81.89,459.03 L81.95,458.73 L82.00,458.42 L82.05,458.11 L82.10,457.81 L82.14,457.50 L82.17,457.19 L82.21,456.89 L82.24,456.58 L82.26,456.28 L82.28,455.97 L82.29,455.66 L82.30,455.36 L82.30,455.05 L82.30,454.88 L82.31,454.70 L82.33,454.53 L82.35,454.35 L82.38,454.18 L82.42,454.00 L82.46,453.83 L82.51,453.65 L82.56,453.48 L82.62,453.30 L82.69,453.12 L82.75,452.95 L82.83,452.78 L82.90,452.60 L82.98,452.43 L83.06,452.25 L83.14,452.08 L83.23,451.90 L83.31,451.73 L83.40,451.55 L83.49,451.38 L83.57,451.20 L83.66,451.03 L83.74,450.85 L83.82,450.68 L83.90,450.50 L83.97,450.32 L84.05,450.15 L84.11,449.98 L84.18,449.80 L84.24,449.62 L84.29,449.45 L84.34,449.28 L84.38,449.10 L84.42,448.93 L84.45,448.75 L84.47,448.57 L84.49,448.40 L84.50,448.23 L84.50,448.05 L84.50,447.83 L84.50,447.61 L84.51,447.39 L84.52,447.18 L84.53,446.96 L84.54,446.74 L84.56,446.52 L84.57,446.30 L84.59,446.08 L84.61,445.86 L84.63,445.64 L84.65,445.43 L84.68,445.21 L84.70,444.99 L84.73,444.77 L84.76,444.55 L84.79,444.33 L84.82,444.11 L84.85,443.89 L84.88,443.68 L84.90,443.46 L84.93,443.24 L84.96,443.02 L84.99,442.80 L85.02,442.58 L85.05,442.36 L85.07,442.14 L85.10,441.93 L85.12,441.71 L85.14,441.49 L85.16,441.27 L85.18,441.05 L85.19,440.83 L85.21,440.61 L85.22,440.39 L85.23,440.18 L85.24,439.96 L85.25,439.74 L85.25,439.52 L85.25,439.30 L85.30,439.30 Z" fill="#1e3f80" stroke="#222" stroke-width="0.25"/>
<path d="M85.30,505.80 L89.90,505.80 L89.90,505.67 L89.89,505.54 L89.87,505.41 L89.85,505.28 L89.82,505.14 L89.79,505.01 L89.75,504.88 L89.70,504.75 L89.65,504.62 L89.59,504.49 L89.53,504.36 L89.47,504.23 L89.40,504.09 L89.33,503.96 L89.25,503.83 L89.17,503.70 L89.10,503.57 L89.01,503.44 L88.93,503.31 L88.85,503.18 L88.77,503.04 L88.69,502.91 L88.60,502.78 L88.53,502.65 L88.45,502.52 L88.37,502.39 L88.30,502.26 L88.23,502.12 L88.17,501.99 L88.11,501.86 L88.05,501.73 L88.00,501.60 L87.95,501.47 L87.91,501.34 L87.88,501.21 L87.85,501.07 L87.83,500.94 L87.81,500.81 L87.80,500.68 L87.80,500.55 L87.80,500.38 L87.79,500.20 L87.77,500.03 L87.75,499.85 L87.73,499.68 L87.70,499.50 L87.66,499.32 L87.62,499.15 L87.57,498.98 L87.52,498.80 L87.47,498.62 L87.41,498.45 L87.35,498.28 L87.28,498.10 L87.21,497.93 L87.14,497.75 L87.07,497.57 L87.00,497.40 L86.92,497.23 L86.85,497.05 L86.78,496.88 L86.70,496.70 L86.63,496.53 L86.56,496.35 L86.49,496.18 L86.42,496.00 L86.35,495.82 L86.29,495.65 L86.23,495.48 L86.18,495.30 L86.13,495.12 L86.08,494.95 L86.04,494.78 L86.00,494.60 L85.97,494.43 L85.95,494.25 L85.93,494.07 L85.91,493.90 L85.90,493.73 L85.90,493.55 L85.90,493.24 L85.90,492.94 L85.91,492.63 L85.91,492.32 L85.92,492.02 L85.92,491.71 L85.93,491.41 L85.94,491.10 L85.95,490.79 L85.96,490.49 L85.97,490.18 L85.98,489.88 L86.00,489.57 L86.01,489.26 L86.02,488.96 L86.04,488.65 L86.05,488.34 L86.07,488.04 L86.08,487.73 L86.10,487.43 L86.12,487.12 L86.13,486.81 L86.15,486.51 L86.16,486.20 L86.18,485.89 L86.19,485.59 L86.20,485.28 L86.22,484.98 L86.23,484.67 L86.24,484.36 L86.25,484.06 L86.26,483.75 L86.27,483.44 L86.28,483.14 L86.28,482.83 L86.29,482.53 L86.29,482.22 L86.30,481.91 L86.30,481.61 L86.30,481.30 L86.30,481.04 L86.30,480.78 L86.31,480.51 L86.31,480.25 L86.32,479.99 L86.33,479.73 L86.34,479.46 L86.35,479.20 L86.36,478.94 L86.37,478.68 L86.39,478.41 L86.40,478.15 L86.42,477.89 L86.44,477.62 L86.45,477.36 L86.47,477.10 L86.49,476.84 L86.51,476.57 L86.53,476.31 L86.55,476.05 L86.57,475.79 L86.59,475.53 L86.61,475.26 L86.63,475.00 L86.65,474.74 L86.66,474.48 L86.68,474.21 L86.70,473.95 L86.71,473.69 L86.73,473.43 L86.74,473.16 L86.75,472.90 L86.76,472.64 L86.77,472.38 L86.78,472.11 L86.79,471.85 L86.79,471.59 L86.80,471.32 L86.80,471.06 L86.80,470.80 L86.80,470.54 L86.80,470.28 L86.79,470.01 L86.78,469.75 L86.77,469.49 L86.76,469.23 L86.75,468.96 L86.73,468.70 L86.72,468.44 L86.70,468.18 L86.68,467.91 L86.66,467.65 L86.63,467.39 L86.61,467.12 L86.58,466.86 L86.56,466.60 L86.53,466.34 L86.50,466.07 L86.48,465.81 L86.45,465.55 L86.42,465.29 L86.40,465.03 L86.37,464.76 L86.34,464.50 L86.32,464.24 L86.29,463.98 L86.27,463.71 L86.24,463.45 L86.22,463.19 L86.20,462.93 L86.18,462.66 L86.17,462.40 L86.15,462.14 L86.14,461.88 L86.13,461.61 L86.12,461.35 L86.11,461.09 L86.10,460.82 L86.10,460.56 L86.10,460.30 L86.10,460.12 L86.10,459.95 L86.09,459.78 L86.09,459.60 L86.08,459.43 L86.07,459.25 L86.06,459.07 L86.04,458.90 L86.03,458.73 L86.01,458.55 L85.99,458.38 L85.98,458.20 L85.96,458.03 L85.94,457.85 L85.91,457.68 L85.89,457.50 L85.87,457.32 L85.85,457.15 L85.82,456.98 L85.80,456.80 L85.78,456.62 L85.75,456.45 L85.73,456.28 L85.71,456.10 L85.69,455.93 L85.66,455.75 L85.64,455.57 L85.62,455.40 L85.61,455.23 L85.59,455.05 L85.57,454.88 L85.56,454.70 L85.54,454.52 L85.53,454.35 L85.52,454.18 L85.51,454.00 L85.51,453.82 L85.50,453.65 L85.50,453.48 L85.50,453.30 L85.50,453.08 L85.50,452.86 L85.50,452.64 L85.50,452.43 L85.49,452.21 L85.49,451.99 L85.49,451.77 L85.49,451.55 L85.48,451.33 L85.48,451.11 L85.47,450.89 L85.47,450.68 L85.46,450.46 L85.46,450.24 L85.45,450.02 L85.45,449.80 L85.44,449.58 L85.44,449.36 L85.43,449.14 L85.42,448.93 L85.42,448.71 L85.41,448.49 L85.41,448.27 L85.40,448.05 L85.40,447.83 L85.39,447.61 L85.39,447.39 L85.38,447.18 L85.38,446.96 L85.37,446.74 L85.37,446.52 L85.36,446.30 L85.36,446.08 L85.36,445.86 L85.36,445.64 L85.35,445.43 L85.35,445.21 L85.35,444.99 L85.35,444.77 L85.35,444.55 L85.30,444.55 Z" fill="#b8163a" stroke="#222" stroke-width="0.25"/>
<line x1="96.30" y1="443.68" x2="96.30" y2="505.80" stroke="#3a3a3a" stroke-width="0.55" />
<path d="M96.30,505.80 L93.90,505.80 L93.90,505.67 L93.91,505.54 L93.91,505.41 L93.92,505.28 L93.93,505.14 L93.95,505.01 L93.97,504.88 L93.99,504.75 L94.01,504.62 L94.03,504.49 L94.06,504.36 L94.09,504.23 L94.11,504.09 L94.15,503.96 L94.18,503.83 L94.21,503.70 L94.24,503.57 L94.28,503.44 L94.31,503.31 L94.35,503.18 L94.39,503.04 L94.42,502.91 L94.46,502.78 L94.49,502.65 L94.52,502.52 L94.55,502.39 L94.59,502.26 L94.61,502.12 L94.64,501.99 L94.67,501.86 L94.69,501.73 L94.71,501.60 L94.73,501.47 L94.75,501.34 L94.77,501.21 L94.78,501.07 L94.79,500.94 L94.79,500.81 L94.80,500.68 L94.80,500.55 L94.80,500.40 L94.80,500.24 L94.81,500.09 L94.81,499.94 L94.82,499.78 L94.83,499.63 L94.84,499.48 L94.86,499.32 L94.87,499.17 L94.89,499.02 L94.91,498.87 L94.92,498.71 L94.94,498.56 L94.96,498.41 L94.99,498.25 L95.01,498.10 L95.03,497.95 L95.05,497.79 L95.08,497.64 L95.10,497.49 L95.12,497.33 L95.15,497.18 L95.17,497.03 L95.19,496.88 L95.21,496.72 L95.24,496.57 L95.26,496.42 L95.28,496.26 L95.29,496.11 L95.31,495.96 L95.33,495.80 L95.34,495.65 L95.36,495.50 L95.37,495.34 L95.38,495.19 L95.39,495.04 L95.39,494.88 L95.40,494.73 L95.40,494.58 L95.40,494.43 L95.40,494.14 L95.39,493.86 L95.37,493.57 L95.35,493.29 L95.32,493.00 L95.29,492.72 L95.25,492.43 L95.20,492.15 L95.15,491.87 L95.09,491.58 L95.03,491.30 L94.97,491.01 L94.90,490.73 L94.83,490.44 L94.75,490.16 L94.67,489.88 L94.60,489.59 L94.51,489.31 L94.43,489.02 L94.35,488.74 L94.27,488.45 L94.19,488.17 L94.10,487.88 L94.03,487.60 L93.95,487.32 L93.87,487.03 L93.80,486.75 L93.73,486.46 L93.67,486.18 L93.61,485.89 L93.55,485.61 L93.50,485.32 L93.45,485.04 L93.41,484.76 L93.38,484.47 L93.35,484.19 L93.33,483.90 L93.31,483.62 L93.30,483.33 L93.30,483.05 L93.30,482.66 L93.29,482.26 L93.27,481.87 L93.25,481.48 L93.22,481.08 L93.19,480.69 L93.15,480.29 L93.11,479.90 L93.06,479.51 L93.01,479.11 L92.95,478.72 L92.89,478.32 L92.82,477.93 L92.75,477.54 L92.68,477.14 L92.61,476.75 L92.53,476.36 L92.46,475.96 L92.38,475.57 L92.30,475.18 L92.22,474.78 L92.14,474.39 L92.07,473.99 L91.99,473.60 L91.92,473.21 L91.85,472.81 L91.78,472.42 L91.71,472.02 L91.65,471.63 L91.59,471.24 L91.54,470.84 L91.49,470.45 L91.45,470.06 L91.41,469.66 L91.38,469.27 L91.35,468.88 L91.33,468.48 L91.31,468.09 L91.30,467.69 L91.30,467.30 L91.30,467.04 L91.31,466.78 L91.33,466.51 L91.35,466.25 L91.38,465.99 L91.42,465.73 L91.46,465.46 L91.51,465.20 L91.56,464.94 L91.62,464.68 L91.69,464.41 L91.75,464.15 L91.83,463.89 L91.90,463.62 L91.98,463.36 L92.06,463.10 L92.14,462.84 L92.23,462.57 L92.31,462.31 L92.40,462.05 L92.49,461.79 L92.57,461.52 L92.66,461.26 L92.74,461.00 L92.82,460.74 L92.90,460.48 L92.97,460.21 L93.05,459.95 L93.11,459.69 L93.18,459.43 L93.24,459.16 L93.29,458.90 L93.34,458.64 L93.38,458.38 L93.42,458.11 L93.45,457.85 L93.47,457.59 L93.49,457.33 L93.50,457.06 L93.50,456.80 L93.50,456.62 L93.51,456.45 L93.53,456.28 L93.55,456.10 L93.58,455.93 L93.62,455.75 L93.66,455.57 L93.71,455.40 L93.76,455.23 L93.82,455.05 L93.89,454.88 L93.95,454.70 L94.03,454.53 L94.10,454.35 L94.18,454.18 L94.26,454.00 L94.34,453.83 L94.43,453.65 L94.51,453.48 L94.60,453.30 L94.69,453.12 L94.77,452.95 L94.86,452.78 L94.94,452.60 L95.02,452.43 L95.10,452.25 L95.17,452.07 L95.25,451.90 L95.31,451.73 L95.38,451.55 L95.44,451.38 L95.49,451.20 L95.54,451.03 L95.58,450.85 L95.62,450.68 L95.65,450.50 L95.67,450.32 L95.69,450.15 L95.70,449.98 L95.70,449.80 L95.70,449.65 L95.70,449.49 L95.71,449.34 L95.71,449.19 L95.72,449.03 L95.73,448.88 L95.74,448.73 L95.75,448.57 L95.77,448.42 L95.78,448.27 L95.80,448.12 L95.81,447.96 L95.83,447.81 L95.85,447.66 L95.87,447.50 L95.89,447.35 L95.91,447.20 L95.93,447.04 L95.95,446.89 L95.97,446.74 L96.00,446.58 L96.02,446.43 L96.04,446.28 L96.06,446.12 L96.08,445.97 L96.10,445.82 L96.12,445.67 L96.14,445.51 L96.15,445.36 L96.17,445.21 L96.18,445.05 L96.20,444.90 L96.21,444.75 L96.22,444.59 L96.23,444.44 L96.24,444.29 L96.24,444.13 L96.25,443.98 L96.25,443.83 L96.25,443.68 L96.30,443.68 Z" fill="#1e3f80" stroke="#222" stroke-width="0.25"/>
<path d="M96.30,505.80 L100.90,505.80 L100.90,505.67 L100.89,505.54 L100.87,505.41 L100.85,505.28 L100.82,505.14 L100.79,505.01 L100.75,504.88 L100.70,504.75 L100.65,504.62 L100.59,504.49 L100.53,504.36 L100.47,504.23 L100.40,504.09 L100.33,503.96 L100.25,503.83 L100.17,503.70 L100.10,503.57 L100.01,503.44 L99.93,503.31 L99.85,503.18 L99.77,503.04 L99.69,502.91 L99.60,502.78 L99.53,502.65 L99.45,502.52 L99.37,502.39 L99.30,502.26 L99.23,502.12 L99.17,501.99 L99.11,501.86 L99.05,501.73 L99.00,501.60 L98.95,501.47 L98.91,501.34 L98.88,501.21 L98.85,501.07 L98.83,500.94 L98.81,500.81 L98.80,500.68 L98.80,500.55 L98.80,500.38 L98.79,500.20 L98.77,500.03 L98.75,499.85 L98.73,499.68 L98.70,499.50 L98.66,499.32 L98.62,499.15 L98.57,498.98 L98.52,498.80 L98.47,498.62 L98.41,498.45 L98.35,498.28 L98.28,498.10 L98.21,497.93 L98.14,497.75 L98.07,497.57 L98.00,497.40 L97.92,497.23 L97.85,497.05 L97.78,496.88 L97.70,496.70 L97.63,496.53 L97.56,496.35 L97.49,496.18 L97.42,496.00 L97.35,495.82 L97.29,495.65 L97.23,495.48 L97.18,495.30 L97.13,495.12 L97.08,494.95 L97.04,494.78 L97.00,494.60 L96.97,494.43 L96.95,494.25 L96.93,494.07 L96.91,493.90 L96.90,493.73 L96.90,493.55 L96.90,493.24 L96.90,492.94 L96.91,492.63 L96.91,492.32 L96.92,492.02 L96.93,491.71 L96.94,491.41 L96.96,491.10 L96.97,490.79 L96.99,490.49 L97.01,490.18 L97.02,489.88 L97.04,489.57 L97.06,489.26 L97.09,488.96 L97.11,488.65 L97.13,488.34 L97.15,488.04 L97.18,487.73 L97.20,487.43 L97.22,487.12 L97.25,486.81 L97.27,486.51 L97.29,486.20 L97.31,485.89 L97.34,485.59 L97.36,485.28 L97.38,484.98 L97.39,484.67 L97.41,484.36 L97.43,484.06 L97.44,483.75 L97.46,483.44 L97.47,483.14 L97.48,482.83 L97.49,482.53 L97.49,482.22 L97.50,481.91 L97.50,481.61 L97.50,481.30 L97.50,481.04 L97.50,480.78 L97.51,480.51 L97.51,480.25 L97.52,479.99 L97.52,479.73 L97.53,479.46 L97.54,479.20 L97.55,478.94 L97.56,478.68 L97.57,478.41 L97.58,478.15 L97.60,477.89 L97.61,477.62 L97.62,477.36 L97.64,477.10 L97.65,476.84 L97.67,476.57 L97.68,476.31 L97.70,476.05 L97.72,475.79 L97.73,475.53 L97.75,475.26 L97.76,475.00 L97.78,474.74 L97.79,474.48 L97.80,474.21 L97.82,473.95 L97.83,473.69 L97.84,473.43 L97.85,473.16 L97.86,472.90 L97.87,472.64 L97.88,472.38 L97.88,472.11 L97.89,471.85 L97.89,471.59 L97.90,471.32 L97.90,471.06 L97.90,470.80 L97.90,470.54 L97.90,470.28 L97.89,470.01 L97.88,469.75 L97.87,469.49 L97.86,469.23 L97.84,468.96 L97.82,468.70 L97.80,468.44 L97.78,468.18 L97.76,467.91 L97.74,467.65 L97.71,467.39 L97.68,467.12 L97.65,466.86 L97.62,466.60 L97.59,466.34 L97.56,466.07 L97.53,465.81 L97.50,465.55 L97.47,465.29 L97.44,465.03 L97.41,464.76 L97.38,464.50 L97.35,464.24 L97.32,463.98 L97.29,463.71 L97.26,463.45 L97.24,463.19 L97.22,462.93 L97.20,462.66 L97.18,462.40 L97.16,462.14 L97.14,461.88 L97.13,461.61 L97.12,461.35 L97.11,461.09 L97.10,460.82 L97.10,460.56 L97.10,460.30 L97.10,460.12 L97.10,459.95 L97.09,459.78 L97.09,459.60 L97.08,459.43 L97.07,459.25 L97.06,459.07 L97.04,458.90 L97.03,458.73 L97.01,458.55 L96.99,458.38 L96.98,458.20 L96.96,458.03 L96.94,457.85 L96.91,457.68 L96.89,457.50 L96.87,457.32 L96.85,457.15 L96.82,456.98 L96.80,456.80 L96.78,456.62 L96.75,456.45 L96.73,456.28 L96.71,456.10 L96.69,455.93 L96.66,455.75 L96.64,455.57 L96.62,455.40 L96.61,455.23 L96.59,455.05 L96.57,454.88 L96.56,454.70 L96.54,454.52 L96.53,454.35 L96.52,454.18 L96.51,454.00 L96.51,453.82 L96.50,453.65 L96.50,453.48 L96.50,453.30 L96.50,453.12 L96.50,452.95 L96.50,452.78 L96.50,452.60 L96.49,452.43 L96.49,452.25 L96.49,452.08 L96.49,451.90 L96.48,451.73 L96.48,451.55 L96.47,451.38 L96.47,451.20 L96.46,451.03 L96.46,450.85 L96.45,450.68 L96.45,450.50 L96.44,450.32 L96.44,450.15 L96.43,449.98 L96.42,449.80 L96.42,449.62 L96.41,449.45 L96.41,449.28 L96.40,449.10 L96.40,448.93 L96.39,448.75 L96.39,448.57 L96.38,448.40 L96.38,448.23 L96.37,448.05 L96.37,447.88 L96.36,447.70 L96.36,447.53 L96.36,447.35 L96.36,447.18 L96.35,447.00 L96.35,446.82 L96.35,446.65 L96.35,446.48 L96.35,446.30 L96.30,446.30 Z" fill="#b8163a" stroke="#222" stroke-width="0.25"/>
<line x1="107.60" y1="439.30" x2="107.60" y2="505.80" stroke="#3a3a3a" stroke-width="0.55" />
<path d="M107.60,505.80 L105.20,505.80 L105.20,505.67 L105.21,505.54 L105.21,505.41 L105.22,505.28 L105.23,505.14 L105.25,505.01 L105.27,504.88 L105.29,504.75 L105.31,504.62 L105.33,504.49 L105.36,504.36 L105.39,504.23 L105.41,504.09 L105.45,503.96 L105.48,503.83 L105.51,503.70 L105.54,503.57 L105.58,503.44 L105.61,503.31 L105.65,503.18 L105.69,503.04 L105.72,502.91 L105.76,502.78 L105.79,502.65 L105.82,502.52 L105.85,502.39 L105.89,502.26 L105.91,502.12 L105.94,501.99 L105.97,501.86 L105.99,501.73 L106.01,501.60 L106.03,501.47 L106.05,501.34 L106.07,501.21 L106.08,501.07 L106.09,500.94 L106.09,500.81 L106.10,500.68 L106.10,500.55 L106.10,500.40 L106.10,500.24 L106.11,500.09 L106.11,499.94 L106.12,499.78 L106.13,499.63 L106.14,499.48 L106.16,499.32 L106.17,499.17 L106.19,499.02 L106.21,498.87 L106.22,498.71 L106.24,498.56 L106.26,498.41 L106.29,498.25 L106.31,498.10 L106.33,497.95 L106.35,497.79 L106.38,497.64 L106.40,497.49 L106.42,497.33 L106.45,497.18 L106.47,497.03 L106.49,496.88 L106.51,496.72 L106.54,496.57 L106.56,496.42 L106.58,496.26 L106.59,496.11 L106.61,495.96 L106.63,495.80 L106.64,495.65 L106.66,495.50 L106.67,495.34 L106.68,495.19 L106.69,495.04 L106.69,494.88 L106.70,494.73 L106.70,494.58 L106.70,494.43 L106.70,494.14 L106.69,493.86 L106.67,493.57 L106.64,493.29 L106.61,493.00 L106.57,492.72 L106.53,492.43 L106.48,492.15 L106.42,491.87 L106.36,491.58 L106.30,491.30 L106.23,491.01 L106.15,490.73 L106.07,490.44 L105.99,490.16 L105.91,489.88 L105.82,489.59 L105.73,489.31 L105.64,489.02 L105.55,488.74 L105.46,488.45 L105.37,488.17 L105.28,487.88 L105.19,487.60 L105.11,487.32 L105.03,487.03 L104.95,486.75 L104.87,486.46 L104.80,486.18 L104.74,485.89 L104.68,485.61 L104.62,485.32 L104.57,485.04 L104.53,484.76 L104.49,484.47 L104.46,484.19 L104.43,483.90 L104.41,483.62 L104.40,483.33 L104.40,483.05 L104.40,482.70 L104.39,482.35 L104.38,482.00 L104.36,481.65 L104.33,481.30 L104.30,480.95 L104.27,480.60 L104.23,480.25 L104.18,479.90 L104.14,479.55 L104.08,479.20 L104.03,478.85 L103.97,478.50 L103.91,478.15 L103.84,477.80 L103.78,477.45 L103.71,477.10 L103.64,476.75 L103.57,476.40 L103.50,476.05 L103.43,475.70 L103.36,475.35 L103.29,475.00 L103.22,474.65 L103.16,474.30 L103.09,473.95 L103.03,473.60 L102.97,473.25 L102.92,472.90 L102.86,472.55 L102.82,472.20 L102.77,471.85 L102.73,471.50 L102.70,471.15 L102.67,470.80 L102.64,470.45 L102.62,470.10 L102.61,469.75 L102.60,469.40 L102.60,469.05 L102.60,468.74 L102.61,468.44 L102.63,468.13 L102.65,467.82 L102.68,467.52 L102.71,467.21 L102.75,466.91 L102.79,466.60 L102.84,466.29 L102.89,465.99 L102.95,465.68 L103.01,465.38 L103.08,465.07 L103.15,464.76 L103.22,464.46 L103.29,464.15 L103.37,463.84 L103.44,463.54 L103.52,463.23 L103.60,462.93 L103.68,462.62 L103.76,462.31 L103.83,462.01 L103.91,461.70 L103.98,461.39 L104.05,461.09 L104.12,460.78 L104.19,460.48 L104.25,460.17 L104.31,459.86 L104.36,459.56 L104.41,459.25 L104.45,458.94 L104.49,458.64 L104.52,458.33 L104.55,458.03 L104.57,457.72 L104.59,457.41 L104.60,457.11 L104.60,456.80 L104.60,456.58 L104.61,456.36 L104.63,456.14 L104.66,455.93 L104.69,455.71 L104.73,455.49 L104.77,455.27 L104.82,455.05 L104.88,454.83 L104.94,454.61 L105.00,454.39 L105.07,454.18 L105.15,453.96 L105.23,453.74 L105.31,453.52 L105.39,453.30 L105.48,453.08 L105.57,452.86 L105.66,452.64 L105.75,452.43 L105.84,452.21 L105.93,451.99 L106.02,451.77 L106.11,451.55 L106.19,451.33 L106.27,451.11 L106.35,450.89 L106.43,450.68 L106.50,450.46 L106.56,450.24 L106.62,450.02 L106.68,449.80 L106.73,449.58 L106.77,449.36 L106.81,449.14 L106.84,448.93 L106.87,448.71 L106.89,448.49 L106.90,448.27 L106.90,448.05 L106.90,447.83 L106.90,447.61 L106.91,447.39 L106.92,447.18 L106.92,446.96 L106.94,446.74 L106.95,446.52 L106.96,446.30 L106.98,446.08 L107.00,445.86 L107.01,445.64 L107.03,445.43 L107.06,445.21 L107.08,444.99 L107.10,444.77 L107.12,444.55 L107.15,444.33 L107.17,444.11 L107.20,443.89 L107.22,443.68 L107.25,443.46 L107.28,443.24 L107.30,443.02 L107.33,442.80 L107.35,442.58 L107.37,442.36 L107.39,442.14 L107.42,441.93 L107.44,441.71 L107.45,441.49 L107.47,441.27 L107.49,441.05 L107.50,440.83 L107.51,440.61 L107.53,440.39 L107.53,440.18 L107.54,439.96 L107.55,439.74 L107.55,439.52 L107.55,439.30 L107.60,439.30 Z" fill="#1e3f80" stroke="#222" stroke-width="0.25"/>
<path d="M107.60,505.80 L112.20,505.80 L112.20,505.67 L112.19,505.54 L112.17,505.41 L112.15,505.28 L112.12,505.14 L112.09,505.01 L112.05,504.88 L112.00,504.75 L111.95,504.62 L111.89,504.49 L111.83,504.36 L111.77,504.23 L111.70,504.09 L111.63,503.96 L111.55,503.83 L111.47,503.70 L111.40,503.57 L111.31,503.44 L111.23,503.31 L111.15,503.18 L111.07,503.04 L110.99,502.91 L110.90,502.78 L110.83,502.65 L110.75,502.52 L110.67,502.39 L110.60,502.26 L110.53,502.12 L110.47,501.99 L110.41,501.86 L110.35,501.73 L110.30,501.60 L110.25,501.47 L110.21,501.34 L110.18,501.21 L110.15,501.07 L110.13,500.94 L110.11,500.81 L110.10,500.68 L110.10,500.55 L110.10,500.38 L110.09,500.20 L110.07,500.03 L110.05,499.85 L110.03,499.68 L110.00,499.50 L109.96,499.32 L109.92,499.15 L109.87,498.98 L109.82,498.80 L109.77,498.62 L109.71,498.45 L109.65,498.28 L109.58,498.10 L109.51,497.93 L109.44,497.75 L109.37,497.57 L109.30,497.40 L109.22,497.23 L109.15,497.05 L109.08,496.88 L109.00,496.70 L108.93,496.53 L108.86,496.35 L108.79,496.18 L108.72,496.00 L108.65,495.82 L108.59,495.65 L108.53,495.48 L108.48,495.30 L108.43,495.12 L108.38,494.95 L108.34,494.78 L108.30,494.60 L108.27,494.43 L108.25,494.25 L108.23,494.07 L108.21,493.90 L108.20,493.73 L108.20,493.55 L108.20,493.24 L108.20,492.94 L108.21,492.63 L108.21,492.32 L108.22,492.02 L108.23,491.71 L108.24,491.41 L108.26,491.10 L108.27,490.79 L108.29,490.49 L108.31,490.18 L108.32,489.88 L108.34,489.57 L108.36,489.26 L108.39,488.96 L108.41,488.65 L108.43,488.34 L108.45,488.04 L108.48,487.73 L108.50,487.43 L108.52,487.12 L108.55,486.81 L108.57,486.51 L108.59,486.20 L108.61,485.89 L108.64,485.59 L108.66,485.28 L108.68,484.98 L108.69,484.67 L108.71,484.36 L108.73,484.06 L108.74,483.75 L108.76,483.44 L108.77,483.14 L108.78,482.83 L108.79,482.53 L108.79,482.22 L108.80,481.91 L108.80,481.61 L108.80,481.30 L108.80,481.04 L108.80,480.78 L108.81,480.51 L108.81,480.25 L108.82,479.99 L108.83,479.73 L108.84,479.46 L108.85,479.20 L108.86,478.94 L108.87,478.68 L108.89,478.41 L108.90,478.15 L108.92,477.89 L108.94,477.62 L108.95,477.36 L108.97,477.10 L108.99,476.84 L109.01,476.57 L109.03,476.31 L109.05,476.05 L109.07,475.79 L109.09,475.53 L109.11,475.26 L109.13,475.00 L109.15,474.74 L109.16,474.48 L109.18,474.21 L109.20,473.95 L109.21,473.69 L109.23,473.43 L109.24,473.16 L109.25,472.90 L109.26,472.64 L109.27,472.38 L109.28,472.11 L109.29,471.85 L109.29,471.59 L109.30,471.32 L109.30,471.06 L109.30,470.80 L109.30,470.54 L109.29,470.28 L109.29,470.01 L109.28,469.75 L109.27,469.49 L109.25,469.23 L109.23,468.96 L109.21,468.70 L109.19,468.44 L109.17,468.18 L109.14,467.91 L109.11,467.65 L109.09,467.39 L109.05,467.12 L109.02,466.86 L108.99,466.60 L108.96,466.34 L108.92,466.07 L108.89,465.81 L108.85,465.55 L108.81,465.29 L108.78,465.03 L108.74,464.76 L108.71,464.50 L108.68,464.24 L108.65,463.98 L108.61,463.71 L108.59,463.45 L108.56,463.19 L108.53,462.93 L108.51,462.66 L108.49,462.40 L108.47,462.14 L108.45,461.88 L108.43,461.61 L108.42,461.35 L108.41,461.09 L108.41,460.82 L108.40,460.56 L108.40,460.30 L108.40,460.12 L108.40,459.95 L108.39,459.78 L108.39,459.60 L108.38,459.43 L108.37,459.25 L108.36,459.07 L108.34,458.90 L108.33,458.73 L108.31,458.55 L108.29,458.38 L108.28,458.20 L108.26,458.03 L108.24,457.85 L108.21,457.68 L108.19,457.50 L108.17,457.32 L108.15,457.15 L108.12,456.98 L108.10,456.80 L108.08,456.62 L108.05,456.45 L108.03,456.28 L108.01,456.10 L107.99,455.93 L107.96,455.75 L107.94,455.57 L107.92,455.40 L107.91,455.23 L107.89,455.05 L107.87,454.88 L107.86,454.70 L107.84,454.52 L107.83,454.35 L107.82,454.18 L107.81,454.00 L107.81,453.82 L107.80,453.65 L107.80,453.48 L107.80,453.30 L107.80,453.12 L107.80,452.95 L107.80,452.78 L107.80,452.60 L107.79,452.43 L107.79,452.25 L107.79,452.08 L107.79,451.90 L107.78,451.73 L107.78,451.55 L107.77,451.38 L107.77,451.20 L107.76,451.03 L107.76,450.85 L107.75,450.68 L107.75,450.50 L107.74,450.32 L107.74,450.15 L107.73,449.98 L107.72,449.80 L107.72,449.62 L107.71,449.45 L107.71,449.28 L107.70,449.10 L107.70,448.93 L107.69,448.75 L107.69,448.57 L107.68,448.40 L107.68,448.23 L107.67,448.05 L107.67,447.88 L107.66,447.70 L107.66,447.53 L107.66,447.35 L107.66,447.18 L107.65,447.00 L107.65,446.82 L107.65,446.65 L107.65,446.48 L107.65,446.30 L107.60,446.30 Z" fill="#b8163a" stroke="#222" stroke-width="0.25"/>
<line x1="34.40" y1="430.00" x2="34.40" y2="509.70" stroke="#222" stroke-width="0.9" />
<line x1="33.90" y1="509.20" x2="114.60" y2="509.20" stroke="#222" stroke-width="0.9" />
<line x1="31.50" y1="505.80" x2="34.40" y2="505.80" stroke="#222" stroke-width="0.8" />
<text x="28.60" y="508.10" font-size="6.4" text-anchor="end" font-weight="normal" fill="#222" >0</text>
<line x1="31.50" y1="488.30" x2="34.40" y2="488.30" stroke="#222" stroke-width="0.8" />
<text x="28.60" y="490.60" font-size="6.4" text-anchor="end" font-weight="normal" fill="#222" >1</text>
<line x1="31.50" y1="470.80" x2="34.40" y2="470.80" stroke="#222" stroke-width="0.8" />
<text x="28.60" y="473.10" font-size="6.4" text-anchor="end" font-weight="normal" fill="#222" >2</text>
<line x1="31.50" y1="453.30" x2="34.40" y2="453.30" stroke="#222" stroke-width="0.8" />
<text x="28.60" y="455.60" font-size="6.4" text-anchor="end" font-weight="normal" fill="#222" >3</text>
<line x1="31.50" y1="435.80" x2="34.40" y2="435.80" stroke="#222" stroke-width="0.8" />
<text x="28.60" y="438.10" font-size="6.4" text-anchor="end" font-weight="normal" fill="#222" >4</text>
<line x1="41.10" y1="509.20" x2="41.10" y2="511.60" stroke="#222" stroke-width="0.8" />
<line x1="52.50" y1="509.20" x2="52.50" y2="511.60" stroke="#222" stroke-width="0.8" />
<line x1="63.30" y1="509.20" x2="63.30" y2="511.60" stroke="#222" stroke-width="0.8" />
<line x1="74.20" y1="509.20" x2="74.20" y2="511.60" stroke="#222" stroke-width="0.8" />
<line x1="85.30" y1="509.20" x2="85.30" y2="511.60" stroke="#222" stroke-width="0.8" />
<line x1="96.30" y1="509.20" x2="96.30" y2="511.60" stroke="#222" stroke-width="0.8" />
<line x1="107.60" y1="509.20" x2="107.60" y2="511.60" stroke="#222" stroke-width="0.8" />
<text x="85.30" y="436.60" font-size="5.5" text-anchor="middle" font-weight="normal" fill="#222" >***</text>
<text x="96.30" y="436.60" font-size="5.5" text-anchor="middle" font-weight="normal" fill="#222" >***</text>
<text x="107.60" y="436.60" font-size="5.5" text-anchor="middle" font-weight="normal" fill="#222" >***</text>
<text x="0" y="0" font-size="6.0" text-anchor="end" fill="#222" transform="translate(44.40 517.40) rotate(-45)">HSC</text>
<text x="0" y="0" font-size="6.0" text-anchor="end" fill="#222" transform="translate(55.80 517.40) rotate(-45)">CMP</text>
<text x="0" y="0" font-size="6.0" text-anchor="end" fill="#222" transform="translate(66.60 517.40) rotate(-45)">GMP</text>
<text x="0" y="0" font-size="6.0" text-anchor="end" fill="#222" transform="translate(77.50 517.40) rotate(-45)">MyeloPro0</text>
<text x="0" y="0" font-size="6.0" text-anchor="end" fill="#222" transform="translate(88.60 517.40) rotate(-45)">MyeloPro1</text>
<text x="0" y="0" font-size="6.0" text-anchor="end" fill="#222" transform="translate(99.60 517.40) rotate(-45)">MyeloPro2</text>
<text x="0" y="0" font-size="6.0" text-anchor="end" fill="#222" transform="translate(110.90 517.40) rotate(-45)">MyeloPro3</text>
<text x="74.60" y="425.30" font-size="8.4" text-anchor="middle" font-weight="normal" fill="#222" >CXCR4</text>
<text x="0" y="0" font-size="7.6" text-anchor="middle" fill="#222" transform="translate(20 469) rotate(-90) scale(0.72 1)">Expression level</text>
<rect x="52.10" y="552.10" width="4.80" height="4.80" fill="#1e3f80" />
<text x="59.80" y="556.60" font-size="6.3" text-anchor="start" font-weight="normal" fill="#222" >HY</text>
<rect x="74.60" y="552.10" width="4.80" height="4.80" fill="#b8163a" />
<text x="82.30" y="556.60" font-size="6.3" text-anchor="start" font-weight="normal" fill="#222" >MDS</text>
<line x1="160.90" y1="450.11" x2="160.90" y2="505.80" stroke="#3a3a3a" stroke-width="0.55" />
<line x1="154.90" y1="505.80" x2="160.90" y2="505.80" stroke="#aaa" stroke-width="0.6" />
<path d="M160.90,505.80 L168.90,505.80 L168.89,505.68 L168.87,505.56 L168.82,505.44 L168.77,505.33 L168.69,505.21 L168.60,505.09 L168.49,504.97 L168.37,504.85 L168.24,504.73 L168.09,504.62 L167.94,504.50 L167.77,504.38 L167.59,504.26 L167.40,504.14 L167.20,504.02 L167.00,503.90 L166.79,503.79 L166.58,503.67 L166.37,503.55 L166.15,503.43 L165.93,503.31 L165.72,503.19 L165.51,503.07 L165.30,502.96 L165.10,502.84 L164.90,502.72 L164.71,502.60 L164.53,502.48 L164.36,502.36 L164.21,502.25 L164.06,502.13 L163.93,502.01 L163.81,501.89 L163.70,501.77 L163.61,501.65 L163.53,501.53 L163.48,501.42 L163.43,501.30 L163.41,501.18 L163.40,501.06 L163.40,500.91 L163.39,500.76 L163.38,500.62 L163.36,500.47 L163.34,500.32 L163.32,500.17 L163.29,500.02 L163.26,499.88 L163.22,499.73 L163.18,499.58 L163.14,499.43 L163.09,499.28 L163.04,499.13 L162.99,498.99 L162.94,498.84 L162.88,498.69 L162.83,498.54 L162.77,498.39 L162.71,498.25 L162.65,498.10 L162.59,497.95 L162.53,497.80 L162.47,497.65 L162.42,497.50 L162.36,497.36 L162.31,497.21 L162.26,497.06 L162.21,496.91 L162.16,496.76 L162.12,496.62 L162.08,496.47 L162.04,496.32 L162.01,496.17 L161.98,496.02 L161.96,495.88 L161.94,495.73 L161.92,495.58 L161.91,495.43 L161.90,495.28 L161.90,495.13 L161.90,494.81 L161.90,494.48 L161.91,494.16 L161.91,493.83 L161.92,493.51 L161.93,493.18 L161.94,492.85 L161.95,492.53 L161.96,492.20 L161.97,491.88 L161.99,491.55 L162.00,491.22 L162.02,490.90 L162.04,490.57 L162.05,490.25 L162.07,489.92 L162.09,489.60 L162.11,489.27 L162.13,488.94 L162.15,488.62 L162.17,488.29 L162.19,487.97 L162.21,487.64 L162.23,487.31 L162.25,486.99 L162.26,486.66 L162.28,486.34 L162.30,486.01 L162.31,485.68 L162.33,485.36 L162.34,485.03 L162.35,484.71 L162.36,484.38 L162.37,484.06 L162.38,483.73 L162.39,483.40 L162.39,483.08 L162.40,482.75 L162.40,482.43 L162.40,482.10 L162.40,481.74 L162.40,481.39 L162.39,481.03 L162.38,480.68 L162.37,480.32 L162.36,479.97 L162.34,479.61 L162.32,479.26 L162.30,478.90 L162.28,478.55 L162.26,478.19 L162.24,477.83 L162.21,477.48 L162.18,477.12 L162.15,476.77 L162.12,476.41 L162.09,476.06 L162.06,475.70 L162.03,475.35 L162.00,474.99 L161.97,474.63 L161.94,474.28 L161.91,473.92 L161.88,473.57 L161.85,473.21 L161.82,472.86 L161.79,472.50 L161.76,472.15 L161.74,471.79 L161.72,471.44 L161.70,471.08 L161.68,470.72 L161.66,470.37 L161.64,470.01 L161.63,469.66 L161.62,469.30 L161.61,468.95 L161.60,468.59 L161.60,468.24 L161.60,467.88 L161.60,467.64 L161.60,467.41 L161.59,467.17 L161.59,466.93 L161.58,466.69 L161.57,466.46 L161.56,466.22 L161.55,465.98 L161.54,465.75 L161.53,465.51 L161.51,465.27 L161.50,465.04 L161.48,464.80 L161.46,464.56 L161.45,464.32 L161.43,464.09 L161.41,463.85 L161.39,463.61 L161.37,463.38 L161.35,463.14 L161.33,462.90 L161.31,462.67 L161.29,462.43 L161.27,462.19 L161.25,461.96 L161.24,461.72 L161.22,461.48 L161.20,461.24 L161.19,461.01 L161.17,460.77 L161.16,460.53 L161.15,460.30 L161.14,460.06 L161.13,459.82 L161.12,459.59 L161.11,459.35 L161.11,459.11 L161.10,458.87 L161.10,458.64 L161.10,458.40 L161.10,458.19 L161.10,457.99 L161.10,457.78 L161.10,457.57 L161.09,457.36 L161.09,457.16 L161.09,456.95 L161.09,456.74 L161.08,456.53 L161.08,456.33 L161.07,456.12 L161.07,455.91 L161.06,455.70 L161.06,455.50 L161.05,455.29 L161.05,455.08 L161.04,454.87 L161.04,454.67 L161.03,454.46 L161.03,454.25 L161.02,454.05 L161.01,453.84 L161.01,453.63 L161.00,453.42 L161.00,453.22 L160.99,453.01 L160.99,452.80 L160.98,452.59 L160.98,452.39 L160.97,452.18 L160.97,451.97 L160.96,451.76 L160.96,451.56 L160.96,451.35 L160.96,451.14 L160.95,450.93 L160.95,450.73 L160.95,450.52 L160.95,450.31 L160.95,450.11 L160.90,450.11 Z" fill="#b8163a" stroke="#222" stroke-width="0.25"/>
<line x1="178.70" y1="440.62" x2="178.70" y2="505.80" stroke="#3a3a3a" stroke-width="0.55" />
<path d="M178.70,505.80 L170.70,505.80 L170.71,505.65 L170.72,505.50 L170.76,505.36 L170.80,505.21 L170.85,505.06 L170.92,504.91 L170.99,504.76 L171.08,504.62 L171.18,504.47 L171.29,504.32 L171.40,504.17 L171.52,504.02 L171.66,503.87 L171.79,503.73 L171.93,503.58 L172.08,503.43 L172.23,503.28 L172.39,503.13 L172.54,502.99 L172.70,502.84 L172.86,502.69 L173.01,502.54 L173.17,502.39 L173.32,502.25 L173.47,502.10 L173.61,501.95 L173.74,501.80 L173.88,501.65 L174.00,501.50 L174.11,501.36 L174.22,501.21 L174.32,501.06 L174.41,500.91 L174.48,500.76 L174.55,500.62 L174.60,500.47 L174.64,500.32 L174.68,500.17 L174.69,500.02 L174.70,499.88 L174.70,499.67 L174.71,499.46 L174.71,499.25 L174.72,499.05 L174.74,498.84 L174.75,498.63 L174.77,498.42 L174.80,498.22 L174.82,498.01 L174.85,497.80 L174.88,497.59 L174.91,497.39 L174.94,497.18 L174.97,496.97 L175.01,496.76 L175.05,496.56 L175.08,496.35 L175.12,496.14 L175.16,495.93 L175.20,495.73 L175.24,495.52 L175.28,495.31 L175.32,495.11 L175.35,494.90 L175.39,494.69 L175.43,494.48 L175.46,494.28 L175.49,494.07 L175.52,493.86 L175.55,493.65 L175.58,493.45 L175.60,493.24 L175.63,493.03 L175.65,492.82 L175.66,492.62 L175.68,492.41 L175.69,492.20 L175.69,491.99 L175.70,491.79 L175.70,491.58 L175.70,491.34 L175.70,491.11 L175.71,490.87 L175.71,490.63 L175.72,490.40 L175.72,490.16 L175.73,489.92 L175.74,489.68 L175.75,489.45 L175.76,489.21 L175.77,488.97 L175.78,488.74 L175.80,488.50 L175.81,488.26 L175.82,488.03 L175.84,487.79 L175.85,487.55 L175.87,487.31 L175.88,487.08 L175.90,486.84 L175.92,486.60 L175.93,486.37 L175.95,486.13 L175.96,485.89 L175.98,485.66 L175.99,485.42 L176.00,485.18 L176.02,484.94 L176.03,484.71 L176.04,484.47 L176.05,484.23 L176.06,484.00 L176.07,483.76 L176.08,483.52 L176.08,483.29 L176.09,483.05 L176.09,482.81 L176.10,482.57 L176.10,482.34 L176.10,482.10 L176.10,481.80 L176.11,481.51 L176.12,481.21 L176.13,480.92 L176.14,480.62 L176.16,480.32 L176.18,480.03 L176.21,479.73 L176.23,479.43 L176.26,479.14 L176.29,478.84 L176.33,478.55 L176.36,478.25 L176.40,477.95 L176.44,477.66 L176.48,477.36 L176.52,477.06 L176.56,476.77 L176.61,476.47 L176.65,476.18 L176.69,475.88 L176.74,475.58 L176.78,475.29 L176.82,474.99 L176.86,474.69 L176.90,474.40 L176.94,474.10 L176.97,473.81 L177.01,473.51 L177.04,473.21 L177.07,472.92 L177.09,472.62 L177.12,472.32 L177.14,472.03 L177.16,471.73 L177.17,471.44 L177.18,471.14 L177.19,470.84 L177.20,470.55 L177.20,470.25 L177.20,470.10 L177.21,469.95 L177.21,469.81 L177.22,469.66 L177.24,469.51 L177.25,469.36 L177.27,469.21 L177.30,469.06 L177.32,468.92 L177.35,468.77 L177.38,468.62 L177.41,468.47 L177.44,468.32 L177.47,468.18 L177.51,468.03 L177.55,467.88 L177.58,467.73 L177.62,467.58 L177.66,467.44 L177.70,467.29 L177.74,467.14 L177.78,466.99 L177.82,466.84 L177.85,466.69 L177.89,466.55 L177.93,466.40 L177.96,466.25 L177.99,466.10 L178.02,465.95 L178.05,465.81 L178.08,465.66 L178.10,465.51 L178.13,465.36 L178.15,465.21 L178.16,465.07 L178.18,464.92 L178.19,464.77 L178.19,464.62 L178.20,464.47 L178.20,464.32 L178.20,464.06 L178.20,463.79 L178.21,463.53 L178.21,463.26 L178.22,462.99 L178.22,462.73 L178.23,462.46 L178.24,462.19 L178.25,461.93 L178.26,461.66 L178.27,461.39 L178.28,461.13 L178.30,460.86 L178.31,460.59 L178.32,460.33 L178.34,460.06 L178.35,459.79 L178.37,459.53 L178.38,459.26 L178.40,458.99 L178.42,458.73 L178.43,458.46 L178.45,458.19 L178.46,457.93 L178.48,457.66 L178.49,457.39 L178.50,457.13 L178.52,456.86 L178.53,456.59 L178.54,456.33 L178.55,456.06 L178.56,455.79 L178.57,455.53 L178.58,455.26 L178.58,454.99 L178.59,454.73 L178.59,454.46 L178.60,454.19 L178.60,453.93 L178.60,453.66 L178.60,453.33 L178.60,453.01 L178.60,452.68 L178.60,452.36 L178.60,452.03 L178.60,451.70 L178.60,451.38 L178.60,451.05 L178.61,450.73 L178.61,450.40 L178.61,450.08 L178.61,449.75 L178.61,449.42 L178.61,449.10 L178.62,448.77 L178.62,448.45 L178.62,448.12 L178.62,447.79 L178.62,447.47 L178.62,447.14 L178.63,446.82 L178.63,446.49 L178.63,446.16 L178.63,445.84 L178.63,445.51 L178.64,445.19 L178.64,444.86 L178.64,444.54 L178.64,444.21 L178.64,443.88 L178.64,443.56 L178.65,443.23 L178.65,442.91 L178.65,442.58 L178.65,442.25 L178.65,441.93 L178.65,441.60 L178.65,441.28 L178.65,440.95 L178.65,440.62 L178.70,440.62 Z" fill="#1e3f80" stroke="#222" stroke-width="0.25"/>
<path d="M178.70,505.80 L186.70,505.80 L186.69,505.65 L186.67,505.50 L186.64,505.36 L186.59,505.21 L186.53,505.06 L186.45,504.91 L186.37,504.76 L186.27,504.62 L186.16,504.47 L186.04,504.32 L185.91,504.17 L185.77,504.02 L185.63,503.87 L185.47,503.73 L185.31,503.58 L185.15,503.43 L184.98,503.28 L184.80,503.13 L184.63,502.99 L184.45,502.84 L184.27,502.69 L184.10,502.54 L183.92,502.39 L183.75,502.25 L183.59,502.10 L183.43,501.95 L183.27,501.80 L183.13,501.65 L182.99,501.50 L182.86,501.36 L182.74,501.21 L182.63,501.06 L182.53,500.91 L182.45,500.76 L182.37,500.62 L182.31,500.47 L182.26,500.32 L182.23,500.17 L182.21,500.02 L182.20,499.88 L182.20,499.67 L182.19,499.46 L182.18,499.25 L182.16,499.05 L182.14,498.84 L182.12,498.63 L182.09,498.42 L182.06,498.22 L182.02,498.01 L181.98,497.80 L181.94,497.59 L181.89,497.39 L181.84,497.18 L181.79,496.97 L181.74,496.76 L181.68,496.56 L181.63,496.35 L181.57,496.14 L181.51,495.93 L181.45,495.73 L181.39,495.52 L181.33,495.31 L181.27,495.11 L181.22,494.90 L181.16,494.69 L181.11,494.48 L181.06,494.28 L181.01,494.07 L180.96,493.86 L180.92,493.65 L180.88,493.45 L180.84,493.24 L180.81,493.03 L180.78,492.82 L180.76,492.62 L180.74,492.41 L180.72,492.20 L180.71,491.99 L180.70,491.79 L180.70,491.58 L180.70,491.34 L180.70,491.11 L180.70,490.87 L180.70,490.63 L180.71,490.40 L180.71,490.16 L180.71,489.92 L180.72,489.68 L180.72,489.45 L180.73,489.21 L180.74,488.97 L180.74,488.74 L180.75,488.50 L180.75,488.26 L180.76,488.03 L180.77,487.79 L180.78,487.55 L180.78,487.31 L180.79,487.08 L180.80,486.84 L180.81,486.60 L180.82,486.37 L180.82,486.13 L180.83,485.89 L180.84,485.66 L180.85,485.42 L180.85,485.18 L180.86,484.94 L180.86,484.71 L180.87,484.47 L180.88,484.23 L180.88,484.00 L180.89,483.76 L180.89,483.52 L180.89,483.29 L180.90,483.05 L180.90,482.81 L180.90,482.57 L180.90,482.34 L180.90,482.10 L180.90,481.80 L180.90,481.51 L180.89,481.21 L180.88,480.92 L180.87,480.62 L180.86,480.32 L180.84,480.03 L180.82,479.73 L180.80,479.43 L180.78,479.14 L180.76,478.84 L180.74,478.55 L180.71,478.25 L180.68,477.95 L180.65,477.66 L180.62,477.36 L180.59,477.06 L180.56,476.77 L180.53,476.47 L180.50,476.18 L180.47,475.88 L180.44,475.58 L180.41,475.29 L180.38,474.99 L180.35,474.69 L180.32,474.40 L180.29,474.10 L180.26,473.81 L180.24,473.51 L180.22,473.21 L180.20,472.92 L180.18,472.62 L180.16,472.32 L180.14,472.03 L180.13,471.73 L180.12,471.44 L180.11,471.14 L180.10,470.84 L180.10,470.55 L180.10,470.25 L180.10,470.07 L180.09,469.89 L180.09,469.72 L180.08,469.54 L180.06,469.36 L180.05,469.18 L180.03,469.01 L180.00,468.83 L179.98,468.65 L179.95,468.47 L179.92,468.29 L179.89,468.12 L179.86,467.94 L179.83,467.76 L179.79,467.58 L179.75,467.41 L179.72,467.23 L179.68,467.05 L179.64,466.87 L179.60,466.69 L179.56,466.52 L179.52,466.34 L179.48,466.16 L179.45,465.98 L179.41,465.81 L179.37,465.63 L179.34,465.45 L179.31,465.27 L179.28,465.10 L179.25,464.92 L179.22,464.74 L179.20,464.56 L179.17,464.38 L179.15,464.21 L179.14,464.03 L179.12,463.85 L179.11,463.67 L179.11,463.50 L179.10,463.32 L179.10,463.14 L179.10,462.90 L179.10,462.67 L179.10,462.43 L179.09,462.19 L179.09,461.96 L179.08,461.72 L179.07,461.48 L179.07,461.24 L179.06,461.01 L179.05,460.77 L179.04,460.53 L179.03,460.30 L179.02,460.06 L179.00,459.82 L178.99,459.59 L178.98,459.35 L178.97,459.11 L178.95,458.87 L178.94,458.64 L178.92,458.40 L178.91,458.16 L178.90,457.93 L178.88,457.69 L178.87,457.45 L178.86,457.22 L178.85,456.98 L178.83,456.74 L178.82,456.50 L178.81,456.27 L178.80,456.03 L178.79,455.79 L178.78,455.56 L178.78,455.32 L178.77,455.08 L178.76,454.85 L178.76,454.61 L178.75,454.37 L178.75,454.13 L178.75,453.90 L178.75,453.66 L178.70,453.66 Z" fill="#b8163a" stroke="#222" stroke-width="0.25"/>
<line x1="196.30" y1="445.37" x2="196.30" y2="505.80" stroke="#3a3a3a" stroke-width="0.55" />
<line x1="190.30" y1="505.80" x2="196.30" y2="505.80" stroke="#aaa" stroke-width="0.6" />
<path d="M196.30,505.80 L202.80,505.80 L202.79,505.71 L202.78,505.62 L202.74,505.53 L202.70,505.44 L202.65,505.36 L202.58,505.27 L202.51,505.18 L202.42,505.09 L202.32,505.00 L202.21,504.91 L202.10,504.82 L201.98,504.73 L201.84,504.64 L201.71,504.56 L201.57,504.47 L201.42,504.38 L201.27,504.29 L201.11,504.20 L200.96,504.11 L200.80,504.02 L200.64,503.93 L200.49,503.84 L200.33,503.76 L200.18,503.67 L200.03,503.58 L199.89,503.49 L199.76,503.40 L199.62,503.31 L199.50,503.22 L199.39,503.13 L199.28,503.04 L199.18,502.96 L199.09,502.87 L199.02,502.78 L198.95,502.69 L198.90,502.60 L198.86,502.51 L198.82,502.42 L198.81,502.33 L198.80,502.25 L198.80,502.13 L198.79,502.01 L198.77,501.89 L198.75,501.77 L198.72,501.65 L198.69,501.53 L198.65,501.42 L198.60,501.30 L198.55,501.18 L198.49,501.06 L198.43,500.94 L198.37,500.82 L198.30,500.70 L198.23,500.59 L198.15,500.47 L198.07,500.35 L198.00,500.23 L197.91,500.11 L197.83,499.99 L197.75,499.88 L197.67,499.76 L197.59,499.64 L197.50,499.52 L197.43,499.40 L197.35,499.28 L197.27,499.16 L197.20,499.05 L197.13,498.93 L197.07,498.81 L197.01,498.69 L196.95,498.57 L196.90,498.45 L196.85,498.33 L196.81,498.22 L196.78,498.10 L196.75,497.98 L196.73,497.86 L196.71,497.74 L196.70,497.62 L196.70,497.50 L196.70,497.12 L196.70,496.73 L196.70,496.35 L196.70,495.96 L196.69,495.58 L196.69,495.19 L196.69,494.81 L196.68,494.42 L196.68,494.04 L196.67,493.65 L196.66,493.27 L196.66,492.88 L196.65,492.50 L196.65,492.11 L196.64,491.73 L196.63,491.34 L196.62,490.96 L196.62,490.57 L196.61,490.19 L196.60,489.80 L196.59,489.42 L196.58,489.03 L196.58,488.65 L196.57,488.26 L196.56,487.88 L196.55,487.49 L196.55,487.11 L196.54,486.72 L196.54,486.34 L196.53,485.95 L196.52,485.57 L196.52,485.18 L196.51,484.80 L196.51,484.41 L196.51,484.03 L196.50,483.64 L196.50,483.26 L196.50,482.87 L196.50,482.49 L196.50,482.10 L196.50,481.18 L196.50,480.26 L196.50,479.34 L196.50,478.43 L196.49,477.51 L196.49,476.59 L196.49,475.67 L196.49,474.75 L196.48,473.83 L196.48,472.92 L196.47,472.00 L196.47,471.08 L196.46,470.16 L196.46,469.24 L196.45,468.32 L196.45,467.41 L196.44,466.49 L196.44,465.57 L196.43,464.65 L196.43,463.73 L196.42,462.81 L196.41,461.90 L196.41,460.98 L196.40,460.06 L196.40,459.14 L196.39,458.22 L196.39,457.30 L196.38,456.39 L196.38,455.47 L196.37,454.55 L196.37,453.63 L196.36,452.71 L196.36,451.79 L196.36,450.88 L196.36,449.96 L196.35,449.04 L196.35,448.12 L196.35,447.20 L196.35,446.28 L196.35,445.37 L196.30,445.37 Z" fill="#b8163a" stroke="#222" stroke-width="0.25"/>
<line x1="214.30" y1="441.81" x2="214.30" y2="505.80" stroke="#3a3a3a" stroke-width="0.55" />
<line x1="208.30" y1="505.80" x2="214.30" y2="505.80" stroke="#aaa" stroke-width="0.6" />
<path d="M214.30,505.80 L221.80,505.80 L221.79,505.68 L221.77,505.56 L221.73,505.44 L221.68,505.33 L221.61,505.21 L221.53,505.09 L221.43,504.97 L221.32,504.85 L221.20,504.73 L221.07,504.62 L220.92,504.50 L220.77,504.38 L220.61,504.26 L220.43,504.14 L220.26,504.02 L220.07,503.90 L219.88,503.79 L219.69,503.67 L219.50,503.55 L219.30,503.43 L219.10,503.31 L218.91,503.19 L218.72,503.07 L218.53,502.96 L218.34,502.84 L218.17,502.72 L217.99,502.60 L217.83,502.48 L217.68,502.36 L217.53,502.25 L217.40,502.13 L217.28,502.01 L217.17,501.89 L217.07,501.77 L216.99,501.65 L216.92,501.53 L216.87,501.42 L216.83,501.30 L216.81,501.18 L216.80,501.06 L216.80,500.91 L216.79,500.76 L216.78,500.62 L216.76,500.47 L216.74,500.32 L216.72,500.17 L216.69,500.02 L216.66,499.88 L216.62,499.73 L216.58,499.58 L216.54,499.43 L216.49,499.28 L216.44,499.13 L216.39,498.99 L216.34,498.84 L216.28,498.69 L216.23,498.54 L216.17,498.39 L216.11,498.25 L216.05,498.10 L215.99,497.95 L215.93,497.80 L215.87,497.65 L215.82,497.50 L215.76,497.36 L215.71,497.21 L215.66,497.06 L215.61,496.91 L215.56,496.76 L215.52,496.62 L215.48,496.47 L215.44,496.32 L215.41,496.17 L215.38,496.02 L215.36,495.88 L215.34,495.73 L215.32,495.58 L215.31,495.43 L215.30,495.28 L215.30,495.13 L215.30,494.75 L215.30,494.36 L215.31,493.98 L215.32,493.59 L215.33,493.21 L215.34,492.82 L215.36,492.44 L215.38,492.05 L215.40,491.67 L215.42,491.28 L215.44,490.90 L215.46,490.51 L215.49,490.13 L215.52,489.74 L215.55,489.36 L215.58,488.97 L215.61,488.59 L215.64,488.20 L215.67,487.82 L215.70,487.43 L215.73,487.05 L215.76,486.66 L215.79,486.28 L215.82,485.89 L215.85,485.51 L215.88,485.12 L215.91,484.74 L215.94,484.35 L215.96,483.97 L215.98,483.58 L216.00,483.20 L216.02,482.81 L216.04,482.43 L216.06,482.04 L216.07,481.66 L216.08,481.27 L216.09,480.89 L216.10,480.50 L216.10,480.12 L216.10,479.73 L216.10,479.37 L216.09,479.02 L216.08,478.66 L216.07,478.31 L216.05,477.95 L216.03,477.60 L216.00,477.24 L215.98,476.89 L215.94,476.53 L215.91,476.18 L215.87,475.82 L215.83,475.46 L215.79,475.11 L215.75,474.75 L215.70,474.40 L215.65,474.04 L215.60,473.69 L215.55,473.33 L215.50,472.98 L215.45,472.62 L215.40,472.26 L215.35,471.91 L215.30,471.55 L215.25,471.20 L215.20,470.84 L215.15,470.49 L215.11,470.13 L215.07,469.78 L215.03,469.42 L214.99,469.06 L214.96,468.71 L214.92,468.35 L214.90,468.00 L214.87,467.64 L214.85,467.29 L214.83,466.93 L214.82,466.58 L214.81,466.22 L214.80,465.87 L214.80,465.51 L214.80,465.21 L214.80,464.92 L214.79,464.62 L214.79,464.32 L214.78,464.03 L214.78,463.73 L214.77,463.44 L214.76,463.14 L214.75,462.84 L214.74,462.55 L214.73,462.25 L214.72,461.96 L214.70,461.66 L214.69,461.36 L214.68,461.07 L214.66,460.77 L214.65,460.47 L214.63,460.18 L214.62,459.88 L214.60,459.59 L214.58,459.29 L214.57,458.99 L214.55,458.70 L214.54,458.40 L214.52,458.10 L214.51,457.81 L214.50,457.51 L214.48,457.22 L214.47,456.92 L214.46,456.62 L214.45,456.33 L214.44,456.03 L214.43,455.73 L214.42,455.44 L214.42,455.14 L214.41,454.85 L214.41,454.55 L214.40,454.25 L214.40,453.96 L214.40,453.66 L214.40,453.36 L214.40,453.07 L214.40,452.77 L214.40,452.48 L214.40,452.18 L214.40,451.88 L214.40,451.59 L214.40,451.29 L214.39,450.99 L214.39,450.70 L214.39,450.40 L214.39,450.11 L214.39,449.81 L214.39,449.51 L214.38,449.22 L214.38,448.92 L214.38,448.62 L214.38,448.33 L214.38,448.03 L214.38,447.74 L214.37,447.44 L214.37,447.14 L214.37,446.85 L214.37,446.55 L214.37,446.25 L214.36,445.96 L214.36,445.66 L214.36,445.37 L214.36,445.07 L214.36,444.77 L214.36,444.48 L214.35,444.18 L214.35,443.88 L214.35,443.59 L214.35,443.29 L214.35,443.00 L214.35,442.70 L214.35,442.40 L214.35,442.11 L214.35,441.81 L214.30,441.81 Z" fill="#b8163a" stroke="#222" stroke-width="0.25"/>
<line x1="231.90" y1="452.71" x2="231.90" y2="505.80" stroke="#3a3a3a" stroke-width="0.55" />
<path d="M231.90,505.80 L224.90,505.80 L224.91,505.65 L224.92,505.50 L224.95,505.36 L224.99,505.21 L225.03,505.06 L225.09,504.91 L225.16,504.76 L225.23,504.62 L225.32,504.47 L225.41,504.32 L225.51,504.17 L225.62,504.02 L225.74,503.87 L225.86,503.73 L225.98,503.58 L226.11,503.43 L226.24,503.28 L226.38,503.13 L226.51,502.99 L226.65,502.84 L226.79,502.69 L226.92,502.54 L227.06,502.39 L227.19,502.25 L227.32,502.10 L227.44,501.95 L227.56,501.80 L227.68,501.65 L227.79,501.50 L227.89,501.36 L227.98,501.21 L228.07,501.06 L228.14,500.91 L228.21,500.76 L228.27,500.62 L228.31,500.47 L228.35,500.32 L228.38,500.17 L228.39,500.02 L228.40,499.88 L228.40,499.67 L228.41,499.46 L228.42,499.25 L228.44,499.05 L228.46,498.84 L228.49,498.63 L228.53,498.42 L228.56,498.22 L228.60,498.01 L228.65,497.80 L228.70,497.59 L228.75,497.39 L228.81,497.18 L228.86,496.97 L228.92,496.76 L228.99,496.56 L229.05,496.35 L229.12,496.14 L229.18,495.93 L229.25,495.73 L229.32,495.52 L229.38,495.31 L229.45,495.11 L229.51,494.90 L229.58,494.69 L229.64,494.48 L229.69,494.28 L229.75,494.07 L229.80,493.86 L229.85,493.65 L229.90,493.45 L229.94,493.24 L229.97,493.03 L230.01,492.82 L230.04,492.62 L230.06,492.41 L230.08,492.20 L230.09,491.99 L230.10,491.79 L230.10,491.58 L230.10,491.22 L230.10,490.87 L230.10,490.51 L230.10,490.16 L230.09,489.80 L230.09,489.45 L230.09,489.09 L230.08,488.74 L230.08,488.38 L230.07,488.03 L230.06,487.67 L230.06,487.31 L230.05,486.96 L230.05,486.60 L230.04,486.25 L230.03,485.89 L230.02,485.54 L230.02,485.18 L230.01,484.83 L230.00,484.47 L229.99,484.11 L229.98,483.76 L229.98,483.40 L229.97,483.05 L229.96,482.69 L229.95,482.34 L229.95,481.98 L229.94,481.63 L229.94,481.27 L229.93,480.92 L229.92,480.56 L229.92,480.20 L229.91,479.85 L229.91,479.49 L229.91,479.14 L229.90,478.78 L229.90,478.43 L229.90,478.07 L229.90,477.72 L229.90,477.36 L229.90,477.06 L229.90,476.77 L229.91,476.47 L229.92,476.18 L229.93,475.88 L229.94,475.58 L229.96,475.29 L229.98,474.99 L230.00,474.69 L230.02,474.40 L230.04,474.10 L230.06,473.81 L230.09,473.51 L230.12,473.21 L230.15,472.92 L230.18,472.62 L230.21,472.32 L230.24,472.03 L230.27,471.73 L230.30,471.44 L230.33,471.14 L230.36,470.84 L230.39,470.55 L230.42,470.25 L230.45,469.95 L230.48,469.66 L230.51,469.36 L230.54,469.06 L230.56,468.77 L230.58,468.47 L230.60,468.18 L230.62,467.88 L230.64,467.58 L230.66,467.29 L230.67,466.99 L230.68,466.69 L230.69,466.40 L230.70,466.10 L230.70,465.81 L230.70,465.51 L230.70,465.33 L230.71,465.15 L230.71,464.98 L230.72,464.80 L230.74,464.62 L230.75,464.44 L230.77,464.27 L230.80,464.09 L230.82,463.91 L230.85,463.73 L230.88,463.55 L230.91,463.38 L230.94,463.20 L230.97,463.02 L231.01,462.84 L231.05,462.67 L231.08,462.49 L231.12,462.31 L231.16,462.13 L231.20,461.96 L231.24,461.78 L231.28,461.60 L231.32,461.42 L231.35,461.24 L231.39,461.07 L231.43,460.89 L231.46,460.71 L231.49,460.53 L231.52,460.36 L231.55,460.18 L231.58,460.00 L231.60,459.82 L231.63,459.64 L231.65,459.47 L231.66,459.29 L231.68,459.11 L231.69,458.93 L231.69,458.76 L231.70,458.58 L231.70,458.40 L231.70,458.26 L231.70,458.12 L231.70,457.97 L231.70,457.83 L231.71,457.69 L231.71,457.55 L231.71,457.40 L231.71,457.26 L231.72,457.12 L231.72,456.98 L231.73,456.84 L231.73,456.69 L231.74,456.55 L231.74,456.41 L231.75,456.27 L231.75,456.12 L231.76,455.98 L231.76,455.84 L231.77,455.70 L231.78,455.56 L231.78,455.41 L231.79,455.27 L231.79,455.13 L231.80,454.99 L231.80,454.85 L231.81,454.70 L231.81,454.56 L231.82,454.42 L231.82,454.28 L231.83,454.13 L231.83,453.99 L231.84,453.85 L231.84,453.71 L231.84,453.57 L231.84,453.42 L231.85,453.28 L231.85,453.14 L231.85,453.00 L231.85,452.85 L231.85,452.71 L231.90,452.71 Z" fill="#1e3f80" stroke="#222" stroke-width="0.25"/>
<path d="M231.90,505.80 L238.90,505.80 L238.89,505.65 L238.88,505.50 L238.84,505.36 L238.80,505.21 L238.75,505.06 L238.68,504.91 L238.61,504.76 L238.52,504.62 L238.42,504.47 L238.31,504.32 L238.20,504.17 L238.08,504.02 L237.94,503.87 L237.81,503.73 L237.67,503.58 L237.52,503.43 L237.37,503.28 L237.21,503.13 L237.06,502.99 L236.90,502.84 L236.74,502.69 L236.59,502.54 L236.43,502.39 L236.28,502.25 L236.13,502.10 L235.99,501.95 L235.86,501.80 L235.72,501.65 L235.60,501.50 L235.49,501.36 L235.38,501.21 L235.28,501.06 L235.19,500.91 L235.12,500.76 L235.05,500.62 L235.00,500.47 L234.96,500.32 L234.92,500.17 L234.91,500.02 L234.90,499.88 L234.90,499.67 L234.89,499.46 L234.87,499.25 L234.84,499.05 L234.81,498.84 L234.77,498.63 L234.72,498.42 L234.67,498.22 L234.61,498.01 L234.55,497.80 L234.48,497.59 L234.41,497.39 L234.33,497.18 L234.24,496.97 L234.16,496.76 L234.07,496.56 L233.98,496.35 L233.89,496.14 L233.79,495.93 L233.70,495.73 L233.61,495.52 L233.51,495.31 L233.42,495.11 L233.33,494.90 L233.24,494.69 L233.16,494.48 L233.07,494.28 L232.99,494.07 L232.92,493.86 L232.85,493.65 L232.79,493.45 L232.73,493.24 L232.68,493.03 L232.63,492.82 L232.59,492.62 L232.56,492.41 L232.53,492.20 L232.51,491.99 L232.50,491.79 L232.50,491.58 L232.50,491.22 L232.50,490.87 L232.50,490.51 L232.50,490.16 L232.50,489.80 L232.49,489.45 L232.49,489.09 L232.49,488.74 L232.49,488.38 L232.49,488.03 L232.48,487.67 L232.48,487.31 L232.48,486.96 L232.47,486.60 L232.47,486.25 L232.47,485.89 L232.46,485.54 L232.46,485.18 L232.45,484.83 L232.45,484.47 L232.45,484.11 L232.44,483.76 L232.44,483.40 L232.43,483.05 L232.43,482.69 L232.43,482.34 L232.42,481.98 L232.42,481.63 L232.42,481.27 L232.41,480.92 L232.41,480.56 L232.41,480.20 L232.41,479.85 L232.41,479.49 L232.40,479.14 L232.40,478.78 L232.40,478.43 L232.40,478.07 L232.40,477.72 L232.40,477.36 L232.40,477.06 L232.40,476.77 L232.40,476.47 L232.39,476.18 L232.39,475.88 L232.38,475.58 L232.38,475.29 L232.37,474.99 L232.36,474.69 L232.36,474.40 L232.35,474.10 L232.34,473.81 L232.33,473.51 L232.32,473.21 L232.31,472.92 L232.30,472.62 L232.29,472.32 L232.27,472.03 L232.26,471.73 L232.25,471.44 L232.24,471.14 L232.23,470.84 L232.21,470.55 L232.20,470.25 L232.19,469.95 L232.18,469.66 L232.17,469.36 L232.16,469.06 L232.15,468.77 L232.14,468.47 L232.14,468.18 L232.13,467.88 L232.12,467.58 L232.12,467.29 L232.11,466.99 L232.11,466.69 L232.10,466.40 L232.10,466.10 L232.10,465.81 L232.10,465.51 L232.10,465.19 L232.10,464.87 L232.10,464.55 L232.10,464.23 L232.09,463.91 L232.09,463.59 L232.09,463.27 L232.09,462.95 L232.08,462.63 L232.08,462.31 L232.07,461.99 L232.07,461.67 L232.06,461.35 L232.06,461.03 L232.05,460.71 L232.05,460.39 L232.04,460.07 L232.04,459.75 L232.03,459.43 L232.03,459.11 L232.02,458.79 L232.01,458.47 L232.01,458.15 L232.00,457.83 L232.00,457.51 L231.99,457.19 L231.99,456.87 L231.98,456.55 L231.98,456.23 L231.97,455.91 L231.97,455.59 L231.96,455.27 L231.96,454.95 L231.96,454.63 L231.96,454.31 L231.95,453.99 L231.95,453.67 L231.95,453.35 L231.95,453.03 L231.95,452.71 L231.90,452.71 Z" fill="#b8163a" stroke="#222" stroke-width="0.25"/>
<line x1="249.60" y1="444.18" x2="249.60" y2="505.80" stroke="#3a3a3a" stroke-width="0.55" />
<line x1="243.60" y1="505.80" x2="249.60" y2="505.80" stroke="#aaa" stroke-width="0.6" />
<path d="M249.60,505.80 L257.60,505.80 L257.59,505.68 L257.57,505.56 L257.53,505.44 L257.48,505.33 L257.41,505.21 L257.33,505.09 L257.23,504.97 L257.12,504.85 L257.00,504.73 L256.87,504.62 L256.72,504.50 L256.57,504.38 L256.41,504.26 L256.23,504.14 L256.06,504.02 L255.87,503.90 L255.68,503.79 L255.49,503.67 L255.30,503.55 L255.10,503.43 L254.90,503.31 L254.71,503.19 L254.52,503.07 L254.33,502.96 L254.14,502.84 L253.97,502.72 L253.79,502.60 L253.63,502.48 L253.48,502.36 L253.33,502.25 L253.20,502.13 L253.08,502.01 L252.97,501.89 L252.87,501.77 L252.79,501.65 L252.72,501.53 L252.67,501.42 L252.63,501.30 L252.61,501.18 L252.60,501.06 L252.60,500.88 L252.59,500.70 L252.58,500.53 L252.56,500.35 L252.54,500.17 L252.52,499.99 L252.49,499.82 L252.46,499.64 L252.42,499.46 L252.38,499.28 L252.34,499.10 L252.29,498.93 L252.24,498.75 L252.19,498.57 L252.14,498.39 L252.08,498.22 L252.03,498.04 L251.97,497.86 L251.91,497.68 L251.85,497.50 L251.79,497.33 L251.73,497.15 L251.67,496.97 L251.62,496.79 L251.56,496.62 L251.51,496.44 L251.46,496.26 L251.41,496.08 L251.36,495.91 L251.32,495.73 L251.28,495.55 L251.24,495.37 L251.21,495.19 L251.18,495.02 L251.16,494.84 L251.14,494.66 L251.12,494.48 L251.11,494.31 L251.10,494.13 L251.10,493.95 L251.10,493.65 L251.11,493.36 L251.12,493.06 L251.14,492.76 L251.16,492.47 L251.18,492.17 L251.21,491.88 L251.24,491.58 L251.28,491.28 L251.32,490.99 L251.36,490.69 L251.41,490.40 L251.46,490.10 L251.51,489.80 L251.56,489.51 L251.62,489.21 L251.67,488.91 L251.73,488.62 L251.79,488.32 L251.85,488.03 L251.91,487.73 L251.97,487.43 L252.03,487.14 L252.08,486.84 L252.14,486.54 L252.19,486.25 L252.24,485.95 L252.29,485.66 L252.34,485.36 L252.38,485.06 L252.42,484.77 L252.46,484.47 L252.49,484.17 L252.52,483.88 L252.54,483.58 L252.56,483.29 L252.58,482.99 L252.59,482.69 L252.60,482.40 L252.60,482.10 L252.60,481.74 L252.59,481.39 L252.58,481.03 L252.56,480.68 L252.53,480.32 L252.50,479.97 L252.47,479.61 L252.43,479.26 L252.38,478.90 L252.34,478.55 L252.28,478.19 L252.23,477.83 L252.17,477.48 L252.11,477.12 L252.04,476.77 L251.98,476.41 L251.91,476.06 L251.84,475.70 L251.77,475.35 L251.70,474.99 L251.63,474.63 L251.56,474.28 L251.49,473.92 L251.42,473.57 L251.36,473.21 L251.29,472.86 L251.23,472.50 L251.17,472.15 L251.12,471.79 L251.06,471.44 L251.02,471.08 L250.97,470.72 L250.93,470.37 L250.90,470.01 L250.87,469.66 L250.84,469.30 L250.82,468.95 L250.81,468.59 L250.80,468.24 L250.80,467.88 L250.80,467.58 L250.79,467.29 L250.79,466.99 L250.78,466.69 L250.76,466.40 L250.75,466.10 L250.73,465.81 L250.70,465.51 L250.68,465.21 L250.65,464.92 L250.62,464.62 L250.59,464.32 L250.56,464.03 L250.53,463.73 L250.49,463.44 L250.45,463.14 L250.42,462.84 L250.38,462.55 L250.34,462.25 L250.30,461.96 L250.26,461.66 L250.22,461.36 L250.18,461.07 L250.15,460.77 L250.11,460.47 L250.07,460.18 L250.04,459.88 L250.01,459.59 L249.98,459.29 L249.95,458.99 L249.92,458.70 L249.90,458.40 L249.87,458.10 L249.85,457.81 L249.84,457.51 L249.82,457.22 L249.81,456.92 L249.81,456.62 L249.80,456.33 L249.80,456.03 L249.80,455.73 L249.80,455.44 L249.80,455.14 L249.80,454.85 L249.79,454.55 L249.79,454.25 L249.79,453.96 L249.79,453.66 L249.78,453.36 L249.78,453.07 L249.77,452.77 L249.77,452.48 L249.76,452.18 L249.76,451.88 L249.75,451.59 L249.75,451.29 L249.74,450.99 L249.74,450.70 L249.73,450.40 L249.72,450.11 L249.72,449.81 L249.71,449.51 L249.71,449.22 L249.70,448.92 L249.70,448.62 L249.69,448.33 L249.69,448.03 L249.68,447.74 L249.68,447.44 L249.67,447.14 L249.67,446.85 L249.66,446.55 L249.66,446.25 L249.66,445.96 L249.66,445.66 L249.65,445.37 L249.65,445.07 L249.65,444.77 L249.65,444.48 L249.65,444.18 L249.60,444.18 Z" fill="#b8163a" stroke="#222" stroke-width="0.25"/>
<line x1="267.40" y1="446.55" x2="267.40" y2="505.80" stroke="#3a3a3a" stroke-width="0.55" />
<line x1="261.40" y1="505.80" x2="267.40" y2="505.80" stroke="#aaa" stroke-width="0.6" />
<path d="M267.40,505.80 L275.40,505.80 L275.39,505.68 L275.37,505.56 L275.33,505.44 L275.28,505.33 L275.21,505.21 L275.13,505.09 L275.03,504.97 L274.92,504.85 L274.80,504.73 L274.67,504.62 L274.52,504.50 L274.37,504.38 L274.21,504.26 L274.03,504.14 L273.86,504.02 L273.67,503.90 L273.48,503.79 L273.29,503.67 L273.10,503.55 L272.90,503.43 L272.70,503.31 L272.51,503.19 L272.32,503.07 L272.13,502.96 L271.94,502.84 L271.77,502.72 L271.59,502.60 L271.43,502.48 L271.28,502.36 L271.13,502.25 L271.00,502.13 L270.88,502.01 L270.77,501.89 L270.67,501.77 L270.59,501.65 L270.52,501.53 L270.47,501.42 L270.43,501.30 L270.41,501.18 L270.40,501.06 L270.40,500.88 L270.39,500.70 L270.38,500.53 L270.36,500.35 L270.34,500.17 L270.31,499.99 L270.28,499.82 L270.25,499.64 L270.21,499.46 L270.17,499.28 L270.12,499.10 L270.07,498.93 L270.02,498.75 L269.96,498.57 L269.91,498.39 L269.85,498.22 L269.79,498.04 L269.73,497.86 L269.66,497.68 L269.60,497.50 L269.54,497.33 L269.47,497.15 L269.41,496.97 L269.35,496.79 L269.29,496.62 L269.24,496.44 L269.18,496.26 L269.13,496.08 L269.08,495.91 L269.03,495.73 L268.99,495.55 L268.95,495.37 L268.92,495.19 L268.89,495.02 L268.86,494.84 L268.84,494.66 L268.82,494.48 L268.81,494.31 L268.80,494.13 L268.80,493.95 L268.80,493.65 L268.81,493.36 L268.82,493.06 L268.83,492.76 L268.85,492.47 L268.87,492.17 L268.89,491.88 L268.91,491.58 L268.94,491.28 L268.98,490.99 L269.01,490.69 L269.05,490.40 L269.09,490.10 L269.13,489.80 L269.17,489.51 L269.21,489.21 L269.26,488.91 L269.31,488.62 L269.35,488.32 L269.40,488.03 L269.45,487.73 L269.49,487.43 L269.54,487.14 L269.59,486.84 L269.63,486.54 L269.67,486.25 L269.71,485.95 L269.75,485.66 L269.79,485.36 L269.82,485.06 L269.86,484.77 L269.89,484.47 L269.91,484.17 L269.93,483.88 L269.95,483.58 L269.97,483.29 L269.98,482.99 L269.99,482.69 L270.00,482.40 L270.00,482.10 L270.00,481.74 L269.99,481.39 L269.98,481.03 L269.96,480.68 L269.94,480.32 L269.91,479.97 L269.88,479.61 L269.85,479.26 L269.81,478.90 L269.77,478.55 L269.72,478.19 L269.67,477.83 L269.62,477.48 L269.56,477.12 L269.51,476.77 L269.45,476.41 L269.39,476.06 L269.33,475.70 L269.26,475.35 L269.20,474.99 L269.14,474.63 L269.07,474.28 L269.01,473.92 L268.95,473.57 L268.89,473.21 L268.84,472.86 L268.78,472.50 L268.73,472.15 L268.68,471.79 L268.63,471.44 L268.59,471.08 L268.55,470.72 L268.52,470.37 L268.49,470.01 L268.46,469.66 L268.44,469.30 L268.42,468.95 L268.41,468.59 L268.40,468.24 L268.40,467.88 L268.40,467.58 L268.40,467.29 L268.39,466.99 L268.38,466.69 L268.37,466.40 L268.36,466.10 L268.34,465.81 L268.32,465.51 L268.30,465.21 L268.28,464.92 L268.26,464.62 L268.24,464.32 L268.21,464.03 L268.18,463.73 L268.15,463.44 L268.12,463.14 L268.09,462.84 L268.06,462.55 L268.03,462.25 L268.00,461.96 L267.97,461.66 L267.94,461.36 L267.91,461.07 L267.88,460.77 L267.85,460.47 L267.82,460.18 L267.79,459.88 L267.76,459.59 L267.74,459.29 L267.72,458.99 L267.70,458.70 L267.68,458.40 L267.66,458.10 L267.64,457.81 L267.63,457.51 L267.62,457.22 L267.61,456.92 L267.60,456.62 L267.60,456.33 L267.60,456.03 L267.60,455.79 L267.60,455.56 L267.60,455.32 L267.60,455.08 L267.59,454.85 L267.59,454.61 L267.59,454.37 L267.59,454.13 L267.58,453.90 L267.58,453.66 L267.57,453.42 L267.57,453.19 L267.56,452.95 L267.56,452.71 L267.55,452.48 L267.55,452.24 L267.54,452.00 L267.54,451.76 L267.53,451.53 L267.52,451.29 L267.52,451.05 L267.51,450.82 L267.51,450.58 L267.50,450.34 L267.50,450.11 L267.49,449.87 L267.49,449.63 L267.48,449.39 L267.48,449.16 L267.47,448.92 L267.47,448.68 L267.46,448.45 L267.46,448.21 L267.46,447.97 L267.46,447.74 L267.45,447.50 L267.45,447.26 L267.45,447.02 L267.45,446.79 L267.45,446.55 L267.40,446.55 Z" fill="#b8163a" stroke="#222" stroke-width="0.25"/>
<line x1="285.20" y1="444.18" x2="285.20" y2="505.80" stroke="#3a3a3a" stroke-width="0.55" />
<path d="M285.20,505.80 L278.20,505.80 L278.21,505.65 L278.22,505.50 L278.25,505.36 L278.29,505.21 L278.33,505.06 L278.39,504.91 L278.46,504.76 L278.53,504.62 L278.62,504.47 L278.71,504.32 L278.81,504.17 L278.92,504.02 L279.04,503.87 L279.16,503.73 L279.28,503.58 L279.41,503.43 L279.54,503.28 L279.68,503.13 L279.81,502.99 L279.95,502.84 L280.09,502.69 L280.22,502.54 L280.36,502.39 L280.49,502.25 L280.62,502.10 L280.74,501.95 L280.86,501.80 L280.98,501.65 L281.09,501.50 L281.19,501.36 L281.28,501.21 L281.37,501.06 L281.44,500.91 L281.51,500.76 L281.57,500.62 L281.61,500.47 L281.65,500.32 L281.68,500.17 L281.69,500.02 L281.70,499.88 L281.70,499.67 L281.71,499.46 L281.73,499.25 L281.75,499.05 L281.77,498.84 L281.80,498.63 L281.84,498.42 L281.88,498.22 L281.93,498.01 L281.98,497.80 L282.03,497.59 L282.09,497.39 L282.15,497.18 L282.22,496.97 L282.29,496.76 L282.36,496.56 L282.43,496.35 L282.50,496.14 L282.58,495.93 L282.65,495.73 L282.72,495.52 L282.80,495.31 L282.87,495.11 L282.94,494.90 L283.01,494.69 L283.08,494.48 L283.15,494.28 L283.21,494.07 L283.27,493.86 L283.32,493.65 L283.37,493.45 L283.42,493.24 L283.46,493.03 L283.50,492.82 L283.53,492.62 L283.55,492.41 L283.57,492.20 L283.59,491.99 L283.60,491.79 L283.60,491.58 L283.60,491.22 L283.60,490.87 L283.60,490.51 L283.60,490.16 L283.60,489.80 L283.61,489.45 L283.61,489.09 L283.61,488.74 L283.61,488.38 L283.61,488.03 L283.62,487.67 L283.62,487.31 L283.62,486.96 L283.63,486.60 L283.63,486.25 L283.63,485.89 L283.64,485.54 L283.64,485.18 L283.65,484.83 L283.65,484.47 L283.65,484.11 L283.66,483.76 L283.66,483.40 L283.67,483.05 L283.67,482.69 L283.67,482.34 L283.68,481.98 L283.68,481.63 L283.68,481.27 L283.69,480.92 L283.69,480.56 L283.69,480.20 L283.69,479.85 L283.69,479.49 L283.70,479.14 L283.70,478.78 L283.70,478.43 L283.70,478.07 L283.70,477.72 L283.70,477.36 L283.70,476.95 L283.69,476.53 L283.68,476.12 L283.67,475.70 L283.66,475.29 L283.64,474.87 L283.62,474.46 L283.59,474.04 L283.57,473.63 L283.54,473.21 L283.51,472.80 L283.47,472.38 L283.44,471.97 L283.40,471.55 L283.36,471.14 L283.32,470.72 L283.28,470.31 L283.24,469.89 L283.19,469.48 L283.15,469.06 L283.11,468.65 L283.06,468.24 L283.02,467.82 L282.98,467.41 L282.94,466.99 L282.90,466.58 L282.86,466.16 L282.83,465.75 L282.79,465.33 L282.76,464.92 L282.73,464.50 L282.71,464.09 L282.68,463.67 L282.66,463.26 L282.64,462.84 L282.63,462.43 L282.62,462.01 L282.61,461.60 L282.60,461.18 L282.60,460.77 L282.60,460.53 L282.61,460.30 L282.62,460.06 L282.64,459.82 L282.66,459.59 L282.69,459.35 L282.72,459.11 L282.75,458.87 L282.79,458.64 L282.83,458.40 L282.88,458.16 L282.93,457.93 L282.98,457.69 L283.04,457.45 L283.09,457.22 L283.15,456.98 L283.21,456.74 L283.27,456.50 L283.34,456.27 L283.40,456.03 L283.46,455.79 L283.53,455.56 L283.59,455.32 L283.65,455.08 L283.71,454.85 L283.76,454.61 L283.82,454.37 L283.87,454.13 L283.92,453.90 L283.97,453.66 L284.01,453.42 L284.05,453.19 L284.08,452.95 L284.11,452.71 L284.14,452.48 L284.16,452.24 L284.18,452.00 L284.19,451.76 L284.20,451.53 L284.20,451.29 L284.20,451.11 L284.21,450.93 L284.21,450.76 L284.22,450.58 L284.24,450.40 L284.25,450.22 L284.27,450.05 L284.29,449.87 L284.31,449.69 L284.34,449.51 L284.37,449.33 L284.40,449.16 L284.43,448.98 L284.46,448.80 L284.49,448.62 L284.53,448.45 L284.56,448.27 L284.60,448.09 L284.64,447.91 L284.68,447.74 L284.71,447.56 L284.75,447.38 L284.79,447.20 L284.82,447.02 L284.86,446.85 L284.89,446.67 L284.92,446.49 L284.95,446.31 L284.98,446.14 L285.01,445.96 L285.04,445.78 L285.06,445.60 L285.08,445.42 L285.10,445.25 L285.11,445.07 L285.13,444.89 L285.14,444.71 L285.14,444.54 L285.15,444.36 L285.15,444.18 L285.20,444.18 Z" fill="#1e3f80" stroke="#222" stroke-width="0.25"/>
<path d="M285.20,505.80 L292.20,505.80 L292.19,505.65 L292.18,505.50 L292.15,505.36 L292.11,505.21 L292.07,505.06 L292.01,504.91 L291.94,504.76 L291.87,504.62 L291.78,504.47 L291.69,504.32 L291.59,504.17 L291.48,504.02 L291.36,503.87 L291.24,503.73 L291.12,503.58 L290.99,503.43 L290.86,503.28 L290.72,503.13 L290.59,502.99 L290.45,502.84 L290.31,502.69 L290.18,502.54 L290.04,502.39 L289.91,502.25 L289.78,502.10 L289.66,501.95 L289.54,501.80 L289.42,501.65 L289.31,501.50 L289.21,501.36 L289.12,501.21 L289.03,501.06 L288.96,500.91 L288.89,500.76 L288.83,500.62 L288.79,500.47 L288.75,500.32 L288.72,500.17 L288.71,500.02 L288.70,499.88 L288.70,499.67 L288.69,499.46 L288.67,499.25 L288.65,499.05 L288.63,498.84 L288.60,498.63 L288.56,498.42 L288.52,498.22 L288.47,498.01 L288.42,497.80 L288.37,497.59 L288.31,497.39 L288.25,497.18 L288.18,496.97 L288.11,496.76 L288.04,496.56 L287.97,496.35 L287.90,496.14 L287.82,495.93 L287.75,495.73 L287.68,495.52 L287.60,495.31 L287.53,495.11 L287.46,494.90 L287.39,494.69 L287.32,494.48 L287.25,494.28 L287.19,494.07 L287.13,493.86 L287.08,493.65 L287.03,493.45 L286.98,493.24 L286.94,493.03 L286.90,492.82 L286.87,492.62 L286.85,492.41 L286.83,492.20 L286.81,491.99 L286.80,491.79 L286.80,491.58 L286.80,491.22 L286.81,490.87 L286.82,490.51 L286.83,490.16 L286.85,489.80 L286.88,489.45 L286.90,489.09 L286.93,488.74 L286.97,488.38 L287.01,488.03 L287.05,487.67 L287.09,487.31 L287.13,486.96 L287.18,486.60 L287.23,486.25 L287.28,485.89 L287.34,485.54 L287.39,485.18 L287.45,484.83 L287.50,484.47 L287.55,484.11 L287.61,483.76 L287.66,483.40 L287.72,483.05 L287.77,482.69 L287.82,482.34 L287.87,481.98 L287.91,481.63 L287.95,481.27 L287.99,480.92 L288.03,480.56 L288.07,480.20 L288.10,479.85 L288.12,479.49 L288.15,479.14 L288.17,478.78 L288.18,478.43 L288.19,478.07 L288.20,477.72 L288.20,477.36 L288.20,477.00 L288.19,476.65 L288.18,476.29 L288.16,475.94 L288.14,475.58 L288.12,475.23 L288.09,474.87 L288.06,474.52 L288.02,474.16 L287.98,473.81 L287.94,473.45 L287.89,473.09 L287.84,472.74 L287.79,472.38 L287.74,472.03 L287.68,471.67 L287.63,471.32 L287.57,470.96 L287.51,470.61 L287.45,470.25 L287.39,469.89 L287.33,469.54 L287.27,469.18 L287.22,468.83 L287.16,468.47 L287.11,468.12 L287.06,467.76 L287.01,467.41 L286.96,467.05 L286.92,466.69 L286.88,466.34 L286.84,465.98 L286.81,465.63 L286.78,465.27 L286.76,464.92 L286.74,464.56 L286.72,464.21 L286.71,463.85 L286.70,463.50 L286.70,463.14 L286.70,462.84 L286.69,462.55 L286.68,462.25 L286.67,461.96 L286.65,461.66 L286.63,461.36 L286.61,461.07 L286.59,460.77 L286.56,460.47 L286.52,460.18 L286.49,459.88 L286.45,459.59 L286.41,459.29 L286.37,458.99 L286.33,458.70 L286.29,458.40 L286.24,458.10 L286.19,457.81 L286.15,457.51 L286.10,457.22 L286.05,456.92 L286.01,456.62 L285.96,456.33 L285.91,456.03 L285.87,455.73 L285.83,455.44 L285.79,455.14 L285.75,454.85 L285.71,454.55 L285.68,454.25 L285.64,453.96 L285.61,453.66 L285.59,453.36 L285.57,453.07 L285.55,452.77 L285.53,452.48 L285.52,452.18 L285.51,451.88 L285.50,451.59 L285.50,451.29 L285.50,451.11 L285.50,450.93 L285.50,450.76 L285.49,450.58 L285.49,450.40 L285.49,450.22 L285.48,450.05 L285.48,449.87 L285.47,449.69 L285.46,449.51 L285.46,449.33 L285.45,449.16 L285.44,448.98 L285.43,448.80 L285.42,448.62 L285.41,448.45 L285.40,448.27 L285.39,448.09 L285.38,447.91 L285.38,447.74 L285.37,447.56 L285.36,447.38 L285.35,447.20 L285.34,447.02 L285.33,446.85 L285.32,446.67 L285.31,446.49 L285.30,446.31 L285.29,446.14 L285.29,445.96 L285.28,445.78 L285.27,445.60 L285.27,445.42 L285.26,445.25 L285.26,445.07 L285.26,444.89 L285.25,444.71 L285.25,444.54 L285.25,444.36 L285.25,444.18 L285.20,444.18 Z" fill="#b8163a" stroke="#222" stroke-width="0.25"/>
<line x1="302.50" y1="440.15" x2="302.50" y2="505.80" stroke="#3a3a3a" stroke-width="0.55" />
<line x1="296.50" y1="505.80" x2="302.50" y2="505.80" stroke="#aaa" stroke-width="0.6" />
<path d="M302.50,505.80 L309.50,505.80 L309.49,505.68 L309.47,505.56 L309.44,505.44 L309.39,505.33 L309.33,505.21 L309.25,505.09 L309.17,504.97 L309.07,504.85 L308.96,504.73 L308.84,504.62 L308.71,504.50 L308.57,504.38 L308.43,504.26 L308.27,504.14 L308.11,504.02 L307.95,503.90 L307.78,503.79 L307.60,503.67 L307.43,503.55 L307.25,503.43 L307.07,503.31 L306.90,503.19 L306.72,503.07 L306.55,502.96 L306.39,502.84 L306.23,502.72 L306.07,502.60 L305.93,502.48 L305.79,502.36 L305.66,502.25 L305.54,502.13 L305.43,502.01 L305.33,501.89 L305.25,501.77 L305.17,501.65 L305.11,501.53 L305.06,501.42 L305.03,501.30 L305.01,501.18 L305.00,501.06 L305.00,500.91 L304.99,500.76 L304.98,500.62 L304.96,500.47 L304.94,500.32 L304.91,500.17 L304.88,500.02 L304.85,499.88 L304.81,499.73 L304.77,499.58 L304.72,499.43 L304.67,499.28 L304.62,499.13 L304.56,498.99 L304.51,498.84 L304.45,498.69 L304.39,498.54 L304.33,498.39 L304.26,498.25 L304.20,498.10 L304.14,497.95 L304.07,497.80 L304.01,497.65 L303.95,497.50 L303.89,497.36 L303.84,497.21 L303.78,497.06 L303.73,496.91 L303.68,496.76 L303.63,496.62 L303.59,496.47 L303.55,496.32 L303.52,496.17 L303.49,496.02 L303.46,495.88 L303.44,495.73 L303.42,495.58 L303.41,495.43 L303.40,495.28 L303.40,495.13 L303.40,494.81 L303.40,494.48 L303.40,494.16 L303.40,493.83 L303.40,493.51 L303.39,493.18 L303.39,492.85 L303.39,492.53 L303.39,492.20 L303.39,491.88 L303.38,491.55 L303.38,491.22 L303.38,490.90 L303.37,490.57 L303.37,490.25 L303.37,489.92 L303.36,489.60 L303.36,489.27 L303.35,488.94 L303.35,488.62 L303.35,488.29 L303.34,487.97 L303.34,487.64 L303.33,487.31 L303.33,486.99 L303.33,486.66 L303.32,486.34 L303.32,486.01 L303.32,485.68 L303.31,485.36 L303.31,485.03 L303.31,484.71 L303.31,484.38 L303.31,484.06 L303.30,483.73 L303.30,483.40 L303.30,483.08 L303.30,482.75 L303.30,482.43 L303.30,482.10 L303.30,481.74 L303.30,481.39 L303.29,481.03 L303.29,480.68 L303.28,480.32 L303.28,479.97 L303.27,479.61 L303.26,479.26 L303.25,478.90 L303.24,478.55 L303.23,478.19 L303.22,477.83 L303.20,477.48 L303.19,477.12 L303.18,476.77 L303.16,476.41 L303.15,476.06 L303.13,475.70 L303.12,475.35 L303.10,474.99 L303.08,474.63 L303.07,474.28 L303.05,473.92 L303.04,473.57 L303.02,473.21 L303.01,472.86 L303.00,472.50 L302.98,472.15 L302.97,471.79 L302.96,471.44 L302.95,471.08 L302.94,470.72 L302.93,470.37 L302.92,470.01 L302.92,469.66 L302.91,469.30 L302.91,468.95 L302.90,468.59 L302.90,468.24 L302.90,467.88 L302.90,467.52 L302.90,467.17 L302.90,466.81 L302.89,466.46 L302.89,466.10 L302.88,465.75 L302.88,465.39 L302.87,465.04 L302.86,464.68 L302.86,464.32 L302.85,463.97 L302.84,463.61 L302.83,463.26 L302.82,462.90 L302.81,462.55 L302.80,462.19 L302.79,461.84 L302.77,461.48 L302.76,461.13 L302.75,460.77 L302.74,460.41 L302.73,460.06 L302.71,459.70 L302.70,459.35 L302.69,458.99 L302.68,458.64 L302.67,458.28 L302.66,457.93 L302.65,457.57 L302.64,457.22 L302.64,456.86 L302.63,456.50 L302.62,456.15 L302.62,455.79 L302.61,455.44 L302.61,455.08 L302.60,454.73 L302.60,454.37 L302.60,454.02 L302.60,453.66 L302.60,453.32 L302.60,452.98 L302.60,452.65 L302.60,452.31 L302.60,451.97 L302.60,451.63 L302.60,451.30 L302.60,450.96 L302.59,450.62 L302.59,450.28 L302.59,449.95 L302.59,449.61 L302.59,449.27 L302.59,448.93 L302.58,448.59 L302.58,448.26 L302.58,447.92 L302.58,447.58 L302.58,447.24 L302.57,446.91 L302.57,446.57 L302.57,446.23 L302.57,445.89 L302.57,445.55 L302.57,445.22 L302.56,444.88 L302.56,444.54 L302.56,444.20 L302.56,443.87 L302.56,443.53 L302.56,443.19 L302.55,442.85 L302.55,442.52 L302.55,442.18 L302.55,441.84 L302.55,441.50 L302.55,441.16 L302.55,440.83 L302.55,440.49 L302.55,440.15 L302.50,440.15 Z" fill="#b8163a" stroke="#222" stroke-width="0.25"/>
<line x1="150.80" y1="430.50" x2="150.80" y2="510.00" stroke="#222" stroke-width="0.9" />
<line x1="150.30" y1="509.50" x2="317.00" y2="509.50" stroke="#222" stroke-width="0.9" />
<line x1="147.90" y1="505.80" x2="150.80" y2="505.80" stroke="#222" stroke-width="0.8" />
<text x="145.00" y="508.10" font-size="6.4" text-anchor="end" font-weight="normal" fill="#222" >0</text>
<line x1="147.90" y1="482.10" x2="150.80" y2="482.10" stroke="#222" stroke-width="0.8" />
<text x="145.00" y="484.40" font-size="6.4" text-anchor="end" font-weight="normal" fill="#222" >1</text>
<line x1="147.90" y1="458.40" x2="150.80" y2="458.40" stroke="#222" stroke-width="0.8" />
<text x="145.00" y="460.70" font-size="6.4" text-anchor="end" font-weight="normal" fill="#222" >2</text>
<line x1="147.90" y1="434.70" x2="150.80" y2="434.70" stroke="#222" stroke-width="0.8" />
<text x="145.00" y="437.00" font-size="6.4" text-anchor="end" font-weight="normal" fill="#222" >3</text>
<line x1="160.90" y1="509.50" x2="160.90" y2="511.90" stroke="#222" stroke-width="0.8" />
<line x1="178.70" y1="509.50" x2="178.70" y2="511.90" stroke="#222" stroke-width="0.8" />
<line x1="196.30" y1="509.50" x2="196.30" y2="511.90" stroke="#222" stroke-width="0.8" />
<line x1="214.30" y1="509.50" x2="214.30" y2="511.90" stroke="#222" stroke-width="0.8" />
<line x1="231.90" y1="509.50" x2="231.90" y2="511.90" stroke="#222" stroke-width="0.8" />
<line x1="249.60" y1="509.50" x2="249.60" y2="511.90" stroke="#222" stroke-width="0.8" />
<line x1="267.40" y1="509.50" x2="267.40" y2="511.90" stroke="#222" stroke-width="0.8" />
<line x1="285.20" y1="509.50" x2="285.20" y2="511.90" stroke="#222" stroke-width="0.8" />
<line x1="302.50" y1="509.50" x2="302.50" y2="511.90" stroke="#222" stroke-width="0.8" />
<text x="160.90" y="445.50" font-size="5.5" text-anchor="middle" font-weight="normal" fill="#222" >***</text>
<text x="214.30" y="439.30" font-size="5.5" text-anchor="middle" font-weight="normal" fill="#222" >***</text>
<text x="249.60" y="441.60" font-size="5.5" text-anchor="middle" font-weight="normal" fill="#222" >***</text>
<text x="267.40" y="440.20" font-size="5.5" text-anchor="middle" font-weight="normal" fill="#222" >***</text>
<text x="0" y="0" font-size="6.0" text-anchor="end" fill="#222" transform="translate(164.20 517.70) rotate(-45)">HSC</text>
<text x="0" y="0" font-size="6.0" text-anchor="end" fill="#222" transform="translate(182.00 517.70) rotate(-45)">CMP</text>
<text x="0" y="0" font-size="6.0" text-anchor="end" fill="#222" transform="translate(199.60 517.70) rotate(-45)">GMP</text>
<text x="0" y="0" font-size="6.0" text-anchor="end" fill="#222" transform="translate(217.60 517.70) rotate(-45)">MyeloPro0</text>
<text x="0" y="0" font-size="6.0" text-anchor="end" fill="#222" transform="translate(235.20 517.70) rotate(-45)">MyeloPro1</text>
<text x="0" y="0" font-size="6.0" text-anchor="end" fill="#222" transform="translate(252.90 517.70) rotate(-45)">MyeloPro2</text>
<text x="0" y="0" font-size="6.0" text-anchor="end" fill="#222" transform="translate(270.70 517.70) rotate(-45)">MyeloPro3</text>
<text x="0" y="0" font-size="6.0" text-anchor="end" fill="#222" transform="translate(288.50 517.70) rotate(-45)">Macrophage1</text>
<text x="0" y="0" font-size="6.0" text-anchor="end" fill="#222" transform="translate(305.80 517.70) rotate(-45)">ProMono</text>
<text x="233.80" y="425.30" font-size="8.4" text-anchor="middle" font-weight="normal" fill="#222" >CD4</text>
<text x="0" y="0" font-size="7.6" text-anchor="middle" fill="#222" transform="translate(134.5 469) rotate(-90) scale(0.72 1)">Expression level</text>
<rect x="208.60" y="551.30" width="4.80" height="4.80" fill="#1e3f80" />
<text x="216.30" y="555.80" font-size="6.3" text-anchor="start" font-weight="normal" fill="#222" >HY</text>
<rect x="231.90" y="551.30" width="4.80" height="4.80" fill="#b8163a" />
<text x="239.60" y="555.80" font-size="6.3" text-anchor="start" font-weight="normal" fill="#222" >MDS</text>
<defs><filter id="bl1" x="-50%" y="-50%" width="200%" height="200%"><feGaussianBlur stdDeviation="0.7"/></filter><filter id="bl2" x="-50%" y="-50%" width="200%" height="200%"><feGaussianBlur stdDeviation="1.3"/></filter><clipPath id="cpG1"><rect x="352.6" y="426.2" width="54.9" height="54.7"/></clipPath><clipPath id="cpG2"><rect x="437.5" y="426.2" width="55.2" height="54.7"/></clipPath></defs>
<g clip-path="url(#cpG1)">
<rect x="365.49" y="449.58" width="0.75" height="0.75" fill="#7f98d4" opacity="0.5"/>
<rect x="369.02" y="454.57" width="0.75" height="0.75" fill="#7f98d4" opacity="0.5"/>
<rect x="368.67" y="454.31" width="0.75" height="0.75" fill="#7f98d4" opacity="0.5"/>
<rect x="366.71" y="448.50" width="0.75" height="0.75" fill="#7f98d4" opacity="0.5"/>
<rect x="377.53" y="445.70" width="0.75" height="0.75" fill="#7f98d4" opacity="0.5"/>
<rect x="386.57" y="453.12" width="0.75" height="0.75" fill="#7f98d4" opacity="0.5"/>
<rect x="378.97" y="444.41" width="0.75" height="0.75" fill="#7f98d4" opacity="0.5"/>
<rect x="373.45" y="454.60" width="0.75" height="0.75" fill="#7f98d4" opacity="0.5"/>
<rect x="375.06" y="456.60" width="0.75" height="0.75" fill="#7f98d4" opacity="0.5"/>
<rect x="366.95" y="459.56" width="0.75" height="0.75" fill="#7f98d4" opacity="0.5"/>
<rect x="371.63" y="449.10" width="0.75" height="0.75" fill="#7f98d4" opacity="0.5"/>
<rect x="375.25" y="447.79" width="0.75" height="0.75" fill="#7f98d4" opacity="0.5"/>
<rect x="387.90" y="463.53" width="0.75" height="0.75" fill="#7f98d4" opacity="0.5"/>
<rect x="371.91" y="446.43" width="0.75" height="0.75" fill="#7f98d4" opacity="0.5"/>
<rect x="381.94" y="459.73" width="0.75" height="0.75" fill="#7f98d4" opacity="0.5"/>
<rect x="377.54" y="449.72" width="0.75" height="0.75" fill="#7f98d4" opacity="0.5"/>
<rect x="384.41" y="440.02" width="0.75" height="0.75" fill="#7f98d4" opacity="0.5"/>
<rect x="379.29" y="451.09" width="0.75" height="0.75" fill="#7f98d4" opacity="0.5"/>
<rect x="373.84" y="442.05" width="0.75" height="0.75" fill="#7f98d4" opacity="0.5"/>
<rect x="382.80" y="447.55" width="0.75" height="0.75" fill="#7f98d4" opacity="0.5"/>
<rect x="369.24" y="469.56" width="0.75" height="0.75" fill="#7f98d4" opacity="0.5"/>
<rect x="367.27" y="446.90" width="0.75" height="0.75" fill="#7f98d4" opacity="0.5"/>
<rect x="382.47" y="459.27" width="0.75" height="0.75" fill="#7f98d4" opacity="0.5"/>
<rect x="370.43" y="452.42" width="0.75" height="0.75" fill="#7f98d4" opacity="0.5"/>
<rect x="374.73" y="451.58" width="0.75" height="0.75" fill="#7f98d4" opacity="0.5"/>
<rect x="367.24" y="451.78" width="0.75" height="0.75" fill="#7f98d4" opacity="0.5"/>
<rect x="373.52" y="472.16" width="0.75" height="0.75" fill="#7f98d4" opacity="0.5"/>
<rect x="371.65" y="464.78" width="0.75" height="0.75" fill="#7f98d4" opacity="0.5"/>
<rect x="368.04" y="462.87" width="0.75" height="0.75" fill="#7f98d4" opacity="0.5"/>
<rect x="366.86" y="467.70" width="0.75" height="0.75" fill="#7f98d4" opacity="0.5"/>
<rect x="374.60" y="466.17" width="0.75" height="0.75" fill="#7f98d4" opacity="0.5"/>
<rect x="374.50" y="457.43" width="0.75" height="0.75" fill="#7f98d4" opacity="0.5"/>
<rect x="372.09" y="452.59" width="0.75" height="0.75" fill="#7f98d4" opacity="0.5"/>
<rect x="373.24" y="452.69" width="0.75" height="0.75" fill="#7f98d4" opacity="0.5"/>
<rect x="375.87" y="456.09" width="0.75" height="0.75" fill="#7f98d4" opacity="0.5"/>
<rect x="368.80" y="444.32" width="0.75" height="0.75" fill="#7f98d4" opacity="0.5"/>
<rect x="383.72" y="446.99" width="0.75" height="0.75" fill="#7f98d4" opacity="0.5"/>
<rect x="374.29" y="439.60" width="0.75" height="0.75" fill="#7f98d4" opacity="0.5"/>
<rect x="383.85" y="450.86" width="0.75" height="0.75" fill="#7f98d4" opacity="0.5"/>
<rect x="374.40" y="442.91" width="0.75" height="0.75" fill="#7f98d4" opacity="0.5"/>
<rect x="378.23" y="453.89" width="0.75" height="0.75" fill="#7f98d4" opacity="0.5"/>
<rect x="370.54" y="463.06" width="0.75" height="0.75" fill="#7f98d4" opacity="0.5"/>
<rect x="374.25" y="458.89" width="0.75" height="0.75" fill="#7f98d4" opacity="0.5"/>
<rect x="366.12" y="446.40" width="0.75" height="0.75" fill="#7f98d4" opacity="0.5"/>
<rect x="378.73" y="447.82" width="0.75" height="0.75" fill="#7f98d4" opacity="0.5"/>
<rect x="377.64" y="452.82" width="0.75" height="0.75" fill="#7f98d4" opacity="0.5"/>
<rect x="374.41" y="462.01" width="0.75" height="0.75" fill="#7f98d4" opacity="0.5"/>
<rect x="376.93" y="460.58" width="0.75" height="0.75" fill="#7f98d4" opacity="0.5"/>
<rect x="377.89" y="459.53" width="0.75" height="0.75" fill="#7f98d4" opacity="0.5"/>
<rect x="387.54" y="458.39" width="0.75" height="0.75" fill="#7f98d4" opacity="0.5"/>
<rect x="378.23" y="443.93" width="0.75" height="0.75" fill="#7f98d4" opacity="0.5"/>
<rect x="384.82" y="456.60" width="0.75" height="0.75" fill="#7f98d4" opacity="0.5"/>
<rect x="387.13" y="440.60" width="0.75" height="0.75" fill="#7f98d4" opacity="0.5"/>
<rect x="375.83" y="460.45" width="0.75" height="0.75" fill="#7f98d4" opacity="0.5"/>
<rect x="376.78" y="454.99" width="0.75" height="0.75" fill="#7f98d4" opacity="0.5"/>
<rect x="374.21" y="441.09" width="0.75" height="0.75" fill="#7f98d4" opacity="0.5"/>
<rect x="381.04" y="462.21" width="0.75" height="0.75" fill="#7f98d4" opacity="0.5"/>
<rect x="372.77" y="459.18" width="0.75" height="0.75" fill="#7f98d4" opacity="0.5"/>
<rect x="384.97" y="451.68" width="0.75" height="0.75" fill="#7f98d4" opacity="0.5"/>
<rect x="384.79" y="456.04" width="0.75" height="0.75" fill="#7f98d4" opacity="0.5"/>
<rect x="373.48" y="456.32" width="0.75" height="0.75" fill="#7f98d4" opacity="0.5"/>
<rect x="366.38" y="457.90" width="0.75" height="0.75" fill="#7f98d4" opacity="0.5"/>
<rect x="385.18" y="460.39" width="0.75" height="0.75" fill="#7f98d4" opacity="0.5"/>
<rect x="374.44" y="446.46" width="0.75" height="0.75" fill="#7f98d4" opacity="0.5"/>
<rect x="375.99" y="452.69" width="0.75" height="0.75" fill="#7f98d4" opacity="0.5"/>
<rect x="365.20" y="456.84" width="0.75" height="0.75" fill="#7f98d4" opacity="0.5"/>
<rect x="375.86" y="464.99" width="0.75" height="0.75" fill="#7f98d4" opacity="0.5"/>
<rect x="367.38" y="445.36" width="0.75" height="0.75" fill="#7f98d4" opacity="0.5"/>
<rect x="378.80" y="455.39" width="0.75" height="0.75" fill="#7f98d4" opacity="0.5"/>
<rect x="369.26" y="444.75" width="0.75" height="0.75" fill="#7f98d4" opacity="0.5"/>
<rect x="380.01" y="452.37" width="0.75" height="0.75" fill="#7f98d4" opacity="0.5"/>
<rect x="372.18" y="458.65" width="0.75" height="0.75" fill="#7f98d4" opacity="0.5"/>
<rect x="367.61" y="459.95" width="0.75" height="0.75" fill="#7f98d4" opacity="0.5"/>
<rect x="385.19" y="450.76" width="0.75" height="0.75" fill="#7f98d4" opacity="0.5"/>
<rect x="374.01" y="458.21" width="0.75" height="0.75" fill="#7f98d4" opacity="0.5"/>
<rect x="379.55" y="444.21" width="0.75" height="0.75" fill="#7f98d4" opacity="0.5"/>
<rect x="386.83" y="447.75" width="0.75" height="0.75" fill="#7f98d4" opacity="0.5"/>
<rect x="371.56" y="456.59" width="0.75" height="0.75" fill="#7f98d4" opacity="0.5"/>
<rect x="369.59" y="459.69" width="0.75" height="0.75" fill="#7f98d4" opacity="0.5"/>
<rect x="371.57" y="466.39" width="0.75" height="0.75" fill="#7f98d4" opacity="0.5"/>
<rect x="375.13" y="442.09" width="0.75" height="0.75" fill="#7f98d4" opacity="0.5"/>
<rect x="375.91" y="453.64" width="0.75" height="0.75" fill="#7f98d4" opacity="0.5"/>
<rect x="377.91" y="448.65" width="0.75" height="0.75" fill="#7f98d4" opacity="0.5"/>
<rect x="364.95" y="443.80" width="0.75" height="0.75" fill="#7f98d4" opacity="0.5"/>
<rect x="383.36" y="456.89" width="0.75" height="0.75" fill="#7f98d4" opacity="0.5"/>
<rect x="375.88" y="456.56" width="0.75" height="0.75" fill="#7f98d4" opacity="0.5"/>
<rect x="374.99" y="457.64" width="0.75" height="0.75" fill="#7f98d4" opacity="0.5"/>
<rect x="383.47" y="466.84" width="0.75" height="0.75" fill="#7f98d4" opacity="0.5"/>
<rect x="369.18" y="453.30" width="0.75" height="0.75" fill="#7f98d4" opacity="0.5"/>
<rect x="380.08" y="455.50" width="0.75" height="0.75" fill="#7f98d4" opacity="0.5"/>
<rect x="368.71" y="447.63" width="0.75" height="0.75" fill="#7f98d4" opacity="0.5"/>
<rect x="373.23" y="447.55" width="0.75" height="0.75" fill="#7f98d4" opacity="0.5"/>
<rect x="382.27" y="451.02" width="0.75" height="0.75" fill="#7f98d4" opacity="0.5"/>
<rect x="385.80" y="442.44" width="0.75" height="0.75" fill="#7f98d4" opacity="0.5"/>
<rect x="381.48" y="443.64" width="0.75" height="0.75" fill="#7f98d4" opacity="0.5"/>
<rect x="368.04" y="444.88" width="0.75" height="0.75" fill="#7f98d4" opacity="0.5"/>
<rect x="366.60" y="449.40" width="0.75" height="0.75" fill="#7f98d4" opacity="0.5"/>
<rect x="386.69" y="452.98" width="0.75" height="0.75" fill="#7f98d4" opacity="0.5"/>
<rect x="369.32" y="460.21" width="0.75" height="0.75" fill="#7f98d4" opacity="0.5"/>
<rect x="379.58" y="460.09" width="0.75" height="0.75" fill="#7f98d4" opacity="0.5"/>
<rect x="385.21" y="444.28" width="0.75" height="0.75" fill="#7f98d4" opacity="0.5"/>
<rect x="377.12" y="462.14" width="0.75" height="0.75" fill="#7f98d4" opacity="0.5"/>
<rect x="382.48" y="448.15" width="0.75" height="0.75" fill="#7f98d4" opacity="0.5"/>
<rect x="379.21" y="458.48" width="0.75" height="0.75" fill="#7f98d4" opacity="0.5"/>
<rect x="375.59" y="447.53" width="0.75" height="0.75" fill="#7f98d4" opacity="0.5"/>
<rect x="375.59" y="452.80" width="0.75" height="0.75" fill="#7f98d4" opacity="0.5"/>
<rect x="368.56" y="449.38" width="0.75" height="0.75" fill="#7f98d4" opacity="0.5"/>
<rect x="367.80" y="444.16" width="0.75" height="0.75" fill="#7f98d4" opacity="0.5"/>
<rect x="373.58" y="442.73" width="0.75" height="0.75" fill="#7f98d4" opacity="0.5"/>
<rect x="386.73" y="453.79" width="0.75" height="0.75" fill="#7f98d4" opacity="0.5"/>
<rect x="366.52" y="446.20" width="0.75" height="0.75" fill="#7f98d4" opacity="0.5"/>
<rect x="373.18" y="465.17" width="0.75" height="0.75" fill="#7f98d4" opacity="0.5"/>
<rect x="376.79" y="463.62" width="0.75" height="0.75" fill="#7f98d4" opacity="0.5"/>
<rect x="373.33" y="460.90" width="0.75" height="0.75" fill="#7f98d4" opacity="0.5"/>
<rect x="385.66" y="445.83" width="0.75" height="0.75" fill="#7f98d4" opacity="0.5"/>
<rect x="387.26" y="454.68" width="0.75" height="0.75" fill="#7f98d4" opacity="0.5"/>
<rect x="376.69" y="462.67" width="0.75" height="0.75" fill="#7f98d4" opacity="0.5"/>
<rect x="374.16" y="454.05" width="0.75" height="0.75" fill="#7f98d4" opacity="0.5"/>
<rect x="376.63" y="451.22" width="0.75" height="0.75" fill="#7f98d4" opacity="0.5"/>
<rect x="377.73" y="453.75" width="0.75" height="0.75" fill="#7f98d4" opacity="0.5"/>
<rect x="366.05" y="455.08" width="0.75" height="0.75" fill="#7f98d4" opacity="0.5"/>
<rect x="384.83" y="451.06" width="0.75" height="0.75" fill="#7f98d4" opacity="0.5"/>
<rect x="372.69" y="455.57" width="0.75" height="0.75" fill="#7f98d4" opacity="0.5"/>
<rect x="378.88" y="442.21" width="0.75" height="0.75" fill="#7f98d4" opacity="0.5"/>
<rect x="373.80" y="458.87" width="0.75" height="0.75" fill="#7f98d4" opacity="0.5"/>
<rect x="386.24" y="443.62" width="0.75" height="0.75" fill="#7f98d4" opacity="0.5"/>
<rect x="365.04" y="445.43" width="0.75" height="0.75" fill="#7f98d4" opacity="0.5"/>
<rect x="373.47" y="449.71" width="0.75" height="0.75" fill="#7f98d4" opacity="0.5"/>
<rect x="373.45" y="452.91" width="0.75" height="0.75" fill="#7f98d4" opacity="0.5"/>
<rect x="367.39" y="454.29" width="0.75" height="0.75" fill="#7f98d4" opacity="0.5"/>
<rect x="376.78" y="462.56" width="0.75" height="0.75" fill="#7f98d4" opacity="0.5"/>
<rect x="371.70" y="459.73" width="0.75" height="0.75" fill="#7f98d4" opacity="0.5"/>
<rect x="376.63" y="458.71" width="0.75" height="0.75" fill="#7f98d4" opacity="0.5"/>
<rect x="379.50" y="454.83" width="0.75" height="0.75" fill="#7f98d4" opacity="0.5"/>
<rect x="378.88" y="463.99" width="0.75" height="0.75" fill="#7f98d4" opacity="0.5"/>
<rect x="374.52" y="443.16" width="0.75" height="0.75" fill="#7f98d4" opacity="0.5"/>
<rect x="371.92" y="448.82" width="0.75" height="0.75" fill="#7f98d4" opacity="0.5"/>
<rect x="369.63" y="467.95" width="0.75" height="0.75" fill="#7f98d4" opacity="0.5"/>
<rect x="367.65" y="446.70" width="0.75" height="0.75" fill="#7f98d4" opacity="0.5"/>
<rect x="370.60" y="442.72" width="0.75" height="0.75" fill="#7f98d4" opacity="0.5"/>
<rect x="374.41" y="462.12" width="0.75" height="0.75" fill="#7f98d4" opacity="0.5"/>
<rect x="369.40" y="460.67" width="0.75" height="0.75" fill="#7f98d4" opacity="0.5"/>
<rect x="377.07" y="464.38" width="0.75" height="0.75" fill="#7f98d4" opacity="0.5"/>
<rect x="387.26" y="443.23" width="0.75" height="0.75" fill="#7f98d4" opacity="0.5"/>
<rect x="375.27" y="447.33" width="0.75" height="0.75" fill="#7f98d4" opacity="0.5"/>
<rect x="368.94" y="441.98" width="0.75" height="0.75" fill="#7f98d4" opacity="0.5"/>
<rect x="380.54" y="456.92" width="0.75" height="0.75" fill="#7f98d4" opacity="0.5"/>
<rect x="372.70" y="453.47" width="0.75" height="0.75" fill="#7f98d4" opacity="0.5"/>
<rect x="377.46" y="466.93" width="0.75" height="0.75" fill="#7f98d4" opacity="0.5"/>
<rect x="386.28" y="442.67" width="0.75" height="0.75" fill="#7f98d4" opacity="0.5"/>
<rect x="379.78" y="452.83" width="0.75" height="0.75" fill="#7f98d4" opacity="0.5"/>
<rect x="372.18" y="453.07" width="0.75" height="0.75" fill="#7f98d4" opacity="0.5"/>
<rect x="369.48" y="458.75" width="0.75" height="0.75" fill="#7f98d4" opacity="0.5"/>
<rect x="372.37" y="443.05" width="0.75" height="0.75" fill="#7f98d4" opacity="0.5"/>
<rect x="367.93" y="458.04" width="0.75" height="0.75" fill="#7f98d4" opacity="0.5"/>
<rect x="375.91" y="458.67" width="0.75" height="0.75" fill="#7f98d4" opacity="0.5"/>
<rect x="384.47" y="456.33" width="0.75" height="0.75" fill="#7f98d4" opacity="0.5"/>
<rect x="381.06" y="464.10" width="0.75" height="0.75" fill="#7f98d4" opacity="0.5"/>
<rect x="374.01" y="456.79" width="0.75" height="0.75" fill="#7f98d4" opacity="0.5"/>
<rect x="383.09" y="453.72" width="0.75" height="0.75" fill="#7f98d4" opacity="0.5"/>
<rect x="381.31" y="449.32" width="0.75" height="0.75" fill="#7f98d4" opacity="0.5"/>
<rect x="383.64" y="451.36" width="0.75" height="0.75" fill="#7f98d4" opacity="0.5"/>
<rect x="385.18" y="459.45" width="0.75" height="0.75" fill="#7f98d4" opacity="0.5"/>
<rect x="382.48" y="451.36" width="0.75" height="0.75" fill="#7f98d4" opacity="0.5"/>
<rect x="366.16" y="449.57" width="0.75" height="0.75" fill="#7f98d4" opacity="0.5"/>
<rect x="379.21" y="455.41" width="0.75" height="0.75" fill="#7f98d4" opacity="0.5"/>
<rect x="379.16" y="446.50" width="0.75" height="0.75" fill="#7f98d4" opacity="0.5"/>
<rect x="380.15" y="449.46" width="0.75" height="0.75" fill="#7f98d4" opacity="0.5"/>
<rect x="377.89" y="454.93" width="0.75" height="0.75" fill="#7f98d4" opacity="0.5"/>
<rect x="381.45" y="454.99" width="0.75" height="0.75" fill="#7f98d4" opacity="0.5"/>
<rect x="382.40" y="467.44" width="0.75" height="0.75" fill="#7f98d4" opacity="0.5"/>
<rect x="369.48" y="447.94" width="0.75" height="0.75" fill="#7f98d4" opacity="0.5"/>
<rect x="373.82" y="456.21" width="0.75" height="0.75" fill="#7f98d4" opacity="0.5"/>
<rect x="373.55" y="457.08" width="0.75" height="0.75" fill="#7f98d4" opacity="0.5"/>
<rect x="379.72" y="450.41" width="0.75" height="0.75" fill="#7f98d4" opacity="0.5"/>
<rect x="380.71" y="453.27" width="0.75" height="0.75" fill="#7f98d4" opacity="0.5"/>
<rect x="379.49" y="462.67" width="0.75" height="0.75" fill="#7f98d4" opacity="0.5"/>
<rect x="368.79" y="448.69" width="0.75" height="0.75" fill="#7f98d4" opacity="0.5"/>
<rect x="377.40" y="453.37" width="0.75" height="0.75" fill="#7f98d4" opacity="0.5"/>
<rect x="377.56" y="461.64" width="0.75" height="0.75" fill="#7f98d4" opacity="0.5"/>
<rect x="365.88" y="466.47" width="0.75" height="0.75" fill="#7f98d4" opacity="0.5"/>
<rect x="369.01" y="453.53" width="0.75" height="0.75" fill="#7f98d4" opacity="0.5"/>
<rect x="373.54" y="464.25" width="0.75" height="0.75" fill="#7f98d4" opacity="0.5"/>
<rect x="373.51" y="465.09" width="0.75" height="0.75" fill="#7f98d4" opacity="0.5"/>
<rect x="378.36" y="455.43" width="0.75" height="0.75" fill="#7f98d4" opacity="0.5"/>
<rect x="379.18" y="464.07" width="0.75" height="0.75" fill="#7f98d4" opacity="0.5"/>
<rect x="380.98" y="448.52" width="0.75" height="0.75" fill="#7f98d4" opacity="0.5"/>
<rect x="385.79" y="453.90" width="0.75" height="0.75" fill="#7f98d4" opacity="0.5"/>
<rect x="378.95" y="451.15" width="0.75" height="0.75" fill="#7f98d4" opacity="0.5"/>
<rect x="378.32" y="454.18" width="0.75" height="0.75" fill="#7f98d4" opacity="0.5"/>
<rect x="381.66" y="451.00" width="0.75" height="0.75" fill="#7f98d4" opacity="0.5"/>
<rect x="383.22" y="453.41" width="0.75" height="0.75" fill="#7f98d4" opacity="0.5"/>
<rect x="367.20" y="457.48" width="0.75" height="0.75" fill="#7f98d4" opacity="0.5"/>
<rect x="375.42" y="457.04" width="0.75" height="0.75" fill="#7f98d4" opacity="0.5"/>
<rect x="378.46" y="459.95" width="0.75" height="0.75" fill="#7f98d4" opacity="0.5"/>
<rect x="375.21" y="447.34" width="0.75" height="0.75" fill="#7f98d4" opacity="0.5"/>
<rect x="368.17" y="460.46" width="0.75" height="0.75" fill="#7f98d4" opacity="0.5"/>
<rect x="386.11" y="454.76" width="0.75" height="0.75" fill="#7f98d4" opacity="0.5"/>
<rect x="370.10" y="443.19" width="0.75" height="0.75" fill="#7f98d4" opacity="0.5"/>
<rect x="382.93" y="457.50" width="0.75" height="0.75" fill="#7f98d4" opacity="0.5"/>
<rect x="374.08" y="464.79" width="0.75" height="0.75" fill="#7f98d4" opacity="0.5"/>
<rect x="369.66" y="449.99" width="0.75" height="0.75" fill="#7f98d4" opacity="0.5"/>
<rect x="368.96" y="446.97" width="0.75" height="0.75" fill="#7f98d4" opacity="0.5"/>
<rect x="386.02" y="464.61" width="0.75" height="0.75" fill="#7f98d4" opacity="0.5"/>
<rect x="378.32" y="456.93" width="0.75" height="0.75" fill="#7f98d4" opacity="0.5"/>
<rect x="373.51" y="452.89" width="0.75" height="0.75" fill="#7f98d4" opacity="0.5"/>
<rect x="376.72" y="456.22" width="0.75" height="0.75" fill="#7f98d4" opacity="0.5"/>
<rect x="377.44" y="457.67" width="0.75" height="0.75" fill="#7f98d4" opacity="0.5"/>
<rect x="371.93" y="455.60" width="0.75" height="0.75" fill="#7f98d4" opacity="0.5"/>
<rect x="374.72" y="442.59" width="0.75" height="0.75" fill="#7f98d4" opacity="0.5"/>
<rect x="380.98" y="463.09" width="0.75" height="0.75" fill="#7f98d4" opacity="0.5"/>
<rect x="382.57" y="445.97" width="0.75" height="0.75" fill="#7f98d4" opacity="0.5"/>
<rect x="374.58" y="466.83" width="0.75" height="0.75" fill="#7f98d4" opacity="0.5"/>
<rect x="367.30" y="438.92" width="0.75" height="0.75" fill="#7f98d4" opacity="0.5"/>
<rect x="367.89" y="451.76" width="0.75" height="0.75" fill="#7f98d4" opacity="0.5"/>
<rect x="374.55" y="450.34" width="0.75" height="0.75" fill="#7f98d4" opacity="0.5"/>
<rect x="376.29" y="453.14" width="0.75" height="0.75" fill="#7f98d4" opacity="0.5"/>
<rect x="370.23" y="452.06" width="0.75" height="0.75" fill="#7f98d4" opacity="0.5"/>
<rect x="371.52" y="461.71" width="0.75" height="0.75" fill="#7f98d4" opacity="0.5"/>
<rect x="376.52" y="464.32" width="0.75" height="0.75" fill="#7f98d4" opacity="0.5"/>
<rect x="372.60" y="464.85" width="0.75" height="0.75" fill="#7f98d4" opacity="0.5"/>
<rect x="371.15" y="444.00" width="0.75" height="0.75" fill="#7f98d4" opacity="0.5"/>
<rect x="374.35" y="448.86" width="0.75" height="0.75" fill="#7f98d4" opacity="0.5"/>
<rect x="373.52" y="446.84" width="0.75" height="0.75" fill="#7f98d4" opacity="0.5"/>
<rect x="386.59" y="465.57" width="0.75" height="0.75" fill="#7f98d4" opacity="0.5"/>
<rect x="376.26" y="449.76" width="0.75" height="0.75" fill="#7f98d4" opacity="0.5"/>
<rect x="366.51" y="463.96" width="0.75" height="0.75" fill="#7f98d4" opacity="0.5"/>
<rect x="370.34" y="450.13" width="0.75" height="0.75" fill="#7f98d4" opacity="0.5"/>
<rect x="372.05" y="459.94" width="0.75" height="0.75" fill="#7f98d4" opacity="0.5"/>
<rect x="376.96" y="462.88" width="0.75" height="0.75" fill="#7f98d4" opacity="0.5"/>
<rect x="377.20" y="463.42" width="0.75" height="0.75" fill="#7f98d4" opacity="0.5"/>
<rect x="378.38" y="464.82" width="0.75" height="0.75" fill="#7f98d4" opacity="0.5"/>
<rect x="371.11" y="440.62" width="0.75" height="0.75" fill="#7f98d4" opacity="0.5"/>
<rect x="369.40" y="452.70" width="0.75" height="0.75" fill="#7f98d4" opacity="0.5"/>
<rect x="379.80" y="462.52" width="0.75" height="0.75" fill="#7f98d4" opacity="0.5"/>
<rect x="367.41" y="451.68" width="0.75" height="0.75" fill="#7f98d4" opacity="0.5"/>
<rect x="381.41" y="460.22" width="0.75" height="0.75" fill="#7f98d4" opacity="0.5"/>
<rect x="366.49" y="457.76" width="0.75" height="0.75" fill="#7f98d4" opacity="0.5"/>
<rect x="374.83" y="445.60" width="0.75" height="0.75" fill="#7f98d4" opacity="0.5"/>
<rect x="376.41" y="465.88" width="0.75" height="0.75" fill="#7f98d4" opacity="0.5"/>
<rect x="375.42" y="448.52" width="0.75" height="0.75" fill="#7f98d4" opacity="0.5"/>
<rect x="381.59" y="453.08" width="0.75" height="0.75" fill="#7f98d4" opacity="0.5"/>
<rect x="368.01" y="452.59" width="0.75" height="0.75" fill="#7f98d4" opacity="0.5"/>
<rect x="386.00" y="451.50" width="0.75" height="0.75" fill="#7f98d4" opacity="0.5"/>
<rect x="380.17" y="463.90" width="0.75" height="0.75" fill="#7f98d4" opacity="0.5"/>
<rect x="384.09" y="464.88" width="0.75" height="0.75" fill="#7f98d4" opacity="0.5"/>
<rect x="379.55" y="454.67" width="0.75" height="0.75" fill="#7f98d4" opacity="0.5"/>
<rect x="383.35" y="451.81" width="0.75" height="0.75" fill="#7f98d4" opacity="0.5"/>
<rect x="379.49" y="463.49" width="0.75" height="0.75" fill="#7f98d4" opacity="0.5"/>
<rect x="373.32" y="444.69" width="0.75" height="0.75" fill="#7f98d4" opacity="0.5"/>
<rect x="371.67" y="457.45" width="0.75" height="0.75" fill="#7f98d4" opacity="0.5"/>
<rect x="365.89" y="448.64" width="0.75" height="0.75" fill="#7f98d4" opacity="0.5"/>
<rect x="370.35" y="445.99" width="0.75" height="0.75" fill="#7f98d4" opacity="0.5"/>
<rect x="379.61" y="457.75" width="0.75" height="0.75" fill="#7f98d4" opacity="0.5"/>
<rect x="376.03" y="454.05" width="0.75" height="0.75" fill="#7f98d4" opacity="0.5"/>
<rect x="376.26" y="459.17" width="0.75" height="0.75" fill="#7f98d4" opacity="0.5"/>
<rect x="373.76" y="446.45" width="0.75" height="0.75" fill="#7f98d4" opacity="0.5"/>
<rect x="376.45" y="459.85" width="0.75" height="0.75" fill="#7f98d4" opacity="0.5"/>
<rect x="375.18" y="449.39" width="0.75" height="0.75" fill="#7f98d4" opacity="0.5"/>
<rect x="377.11" y="448.22" width="0.75" height="0.75" fill="#7f98d4" opacity="0.5"/>
<rect x="382.58" y="445.64" width="0.75" height="0.75" fill="#7f98d4" opacity="0.5"/>
<rect x="364.21" y="450.22" width="0.75" height="0.75" fill="#7f98d4" opacity="0.5"/>
<rect x="375.26" y="457.04" width="0.75" height="0.75" fill="#7f98d4" opacity="0.5"/>
<rect x="383.33" y="450.78" width="0.75" height="0.75" fill="#7f98d4" opacity="0.5"/>
<rect x="371.41" y="454.48" width="0.75" height="0.75" fill="#7f98d4" opacity="0.5"/>
<rect x="379.95" y="446.65" width="0.75" height="0.75" fill="#7f98d4" opacity="0.5"/>
<rect x="370.73" y="456.07" width="0.75" height="0.75" fill="#7f98d4" opacity="0.5"/>
<rect x="381.26" y="456.97" width="0.75" height="0.75" fill="#7f98d4" opacity="0.5"/>
<rect x="377.19" y="459.78" width="0.75" height="0.75" fill="#7f98d4" opacity="0.5"/>
<rect x="378.69" y="449.27" width="0.75" height="0.75" fill="#7f98d4" opacity="0.5"/>
<rect x="387.84" y="447.46" width="0.75" height="0.75" fill="#7f98d4" opacity="0.5"/>
<rect x="379.51" y="464.05" width="0.75" height="0.75" fill="#7f98d4" opacity="0.5"/>
<rect x="378.78" y="443.67" width="0.75" height="0.75" fill="#7f98d4" opacity="0.5"/>
<rect x="366.44" y="447.56" width="0.75" height="0.75" fill="#7f98d4" opacity="0.5"/>
<rect x="366.78" y="453.44" width="0.75" height="0.75" fill="#7f98d4" opacity="0.5"/>
<rect x="380.75" y="452.62" width="0.75" height="0.75" fill="#7f98d4" opacity="0.5"/>
<rect x="371.63" y="462.10" width="0.75" height="0.75" fill="#7f98d4" opacity="0.5"/>
<rect x="376.70" y="453.58" width="0.75" height="0.75" fill="#7f98d4" opacity="0.5"/>
<rect x="369.40" y="455.21" width="0.75" height="0.75" fill="#7f98d4" opacity="0.5"/>
<rect x="379.66" y="465.26" width="0.75" height="0.75" fill="#7f98d4" opacity="0.5"/>
<rect x="374.33" y="457.40" width="0.75" height="0.75" fill="#7f98d4" opacity="0.5"/>
<rect x="368.02" y="457.11" width="0.75" height="0.75" fill="#7f98d4" opacity="0.5"/>
<rect x="374.18" y="452.16" width="0.75" height="0.75" fill="#7f98d4" opacity="0.5"/>
<rect x="363.59" y="459.04" width="0.75" height="0.75" fill="#7f98d4" opacity="0.5"/>
<rect x="379.87" y="440.35" width="0.75" height="0.75" fill="#7f98d4" opacity="0.5"/>
<rect x="374.18" y="450.36" width="0.75" height="0.75" fill="#7f98d4" opacity="0.5"/>
<rect x="374.37" y="455.25" width="0.75" height="0.75" fill="#7f98d4" opacity="0.5"/>
<rect x="383.29" y="445.79" width="0.75" height="0.75" fill="#7f98d4" opacity="0.5"/>
<rect x="371.32" y="450.53" width="0.75" height="0.75" fill="#7f98d4" opacity="0.5"/>
<rect x="373.78" y="460.63" width="0.75" height="0.75" fill="#7f98d4" opacity="0.5"/>
<rect x="373.27" y="450.67" width="0.75" height="0.75" fill="#7f98d4" opacity="0.5"/>
<rect x="374.53" y="449.23" width="0.75" height="0.75" fill="#7f98d4" opacity="0.5"/>
<rect x="377.73" y="460.27" width="0.75" height="0.75" fill="#7f98d4" opacity="0.5"/>
<rect x="375.92" y="452.47" width="0.75" height="0.75" fill="#7f98d4" opacity="0.5"/>
<rect x="380.62" y="460.47" width="0.75" height="0.75" fill="#7f98d4" opacity="0.5"/>
<rect x="368.73" y="451.26" width="0.75" height="0.75" fill="#7f98d4" opacity="0.5"/>
<rect x="378.43" y="442.52" width="0.75" height="0.75" fill="#7f98d4" opacity="0.5"/>
<rect x="376.28" y="457.79" width="0.75" height="0.75" fill="#7f98d4" opacity="0.5"/>
<rect x="384.09" y="461.45" width="0.75" height="0.75" fill="#7f98d4" opacity="0.5"/>
<rect x="368.52" y="454.32" width="0.75" height="0.75" fill="#7f98d4" opacity="0.5"/>
<rect x="383.80" y="450.81" width="0.75" height="0.75" fill="#7f98d4" opacity="0.5"/>
<rect x="374.32" y="455.60" width="0.75" height="0.75" fill="#7f98d4" opacity="0.5"/>
<rect x="371.05" y="437.49" width="0.75" height="0.75" fill="#7f98d4" opacity="0.5"/>
<rect x="380.02" y="457.04" width="0.75" height="0.75" fill="#7f98d4" opacity="0.5"/>
<rect x="372.99" y="460.20" width="0.75" height="0.75" fill="#7f98d4" opacity="0.5"/>
<rect x="367.00" y="450.57" width="0.75" height="0.75" fill="#7f98d4" opacity="0.5"/>
<rect x="377.02" y="443.21" width="0.75" height="0.75" fill="#7f98d4" opacity="0.5"/>
<rect x="368.22" y="461.46" width="0.75" height="0.75" fill="#7f98d4" opacity="0.5"/>
<rect x="377.38" y="449.87" width="0.75" height="0.75" fill="#7f98d4" opacity="0.5"/>
<rect x="379.47" y="462.99" width="0.75" height="0.75" fill="#7f98d4" opacity="0.5"/>
<rect x="376.63" y="460.03" width="0.75" height="0.75" fill="#7f98d4" opacity="0.5"/>
<rect x="369.13" y="466.46" width="0.75" height="0.75" fill="#7f98d4" opacity="0.5"/>
<rect x="369.15" y="442.33" width="0.75" height="0.75" fill="#7f98d4" opacity="0.5"/>
<rect x="368.83" y="450.36" width="0.75" height="0.75" fill="#7f98d4" opacity="0.5"/>
<rect x="378.84" y="452.35" width="0.75" height="0.75" fill="#7f98d4" opacity="0.5"/>
<rect x="383.63" y="467.31" width="0.75" height="0.75" fill="#7f98d4" opacity="0.5"/>
<rect x="379.64" y="450.39" width="0.75" height="0.75" fill="#7f98d4" opacity="0.5"/>
<rect x="371.72" y="453.11" width="0.75" height="0.75" fill="#7f98d4" opacity="0.5"/>
<rect x="387.82" y="462.89" width="0.75" height="0.75" fill="#7f98d4" opacity="0.5"/>
<rect x="367.38" y="463.09" width="0.75" height="0.75" fill="#7f98d4" opacity="0.5"/>
<rect x="377.67" y="452.09" width="0.75" height="0.75" fill="#7f98d4" opacity="0.5"/>
<rect x="376.40" y="451.36" width="0.75" height="0.75" fill="#7f98d4" opacity="0.5"/>
<rect x="376.02" y="455.76" width="0.75" height="0.75" fill="#7f98d4" opacity="0.5"/>
<rect x="385.62" y="453.74" width="0.75" height="0.75" fill="#7f98d4" opacity="0.5"/>
<rect x="371.73" y="458.79" width="0.75" height="0.75" fill="#7f98d4" opacity="0.5"/>
<rect x="373.47" y="456.57" width="0.75" height="0.75" fill="#7f98d4" opacity="0.5"/>
<rect x="364.88" y="445.59" width="0.75" height="0.75" fill="#7f98d4" opacity="0.5"/>
<rect x="377.77" y="460.03" width="0.75" height="0.75" fill="#7f98d4" opacity="0.5"/>
<rect x="377.51" y="461.98" width="0.75" height="0.75" fill="#7f98d4" opacity="0.5"/>
<rect x="371.32" y="452.58" width="0.75" height="0.75" fill="#7f98d4" opacity="0.5"/>
<rect x="365.39" y="458.79" width="0.75" height="0.75" fill="#7f98d4" opacity="0.5"/>
<rect x="380.89" y="452.78" width="0.75" height="0.75" fill="#7f98d4" opacity="0.5"/>
<rect x="369.66" y="459.80" width="0.75" height="0.75" fill="#7f98d4" opacity="0.5"/>
<rect x="382.31" y="461.05" width="0.75" height="0.75" fill="#7f98d4" opacity="0.5"/>
<rect x="383.58" y="454.58" width="0.75" height="0.75" fill="#7f98d4" opacity="0.5"/>
<rect x="374.11" y="452.15" width="0.75" height="0.75" fill="#7f98d4" opacity="0.5"/>
<rect x="379.55" y="450.55" width="0.75" height="0.75" fill="#7f98d4" opacity="0.5"/>
<rect x="366.12" y="460.82" width="0.75" height="0.75" fill="#7f98d4" opacity="0.5"/>
<rect x="381.81" y="458.52" width="0.75" height="0.75" fill="#7f98d4" opacity="0.5"/>
<rect x="381.70" y="456.73" width="0.75" height="0.75" fill="#7f98d4" opacity="0.5"/>
<rect x="371.66" y="456.62" width="0.75" height="0.75" fill="#7f98d4" opacity="0.5"/>
<rect x="378.48" y="459.99" width="0.75" height="0.75" fill="#7f98d4" opacity="0.5"/>
<rect x="373.83" y="456.28" width="0.75" height="0.75" fill="#7f98d4" opacity="0.5"/>
<rect x="376.87" y="446.70" width="0.75" height="0.75" fill="#7f98d4" opacity="0.5"/>
<rect x="372.39" y="457.91" width="0.75" height="0.75" fill="#7f98d4" opacity="0.5"/>
<rect x="384.95" y="446.04" width="0.75" height="0.75" fill="#7f98d4" opacity="0.5"/>
<rect x="384.86" y="451.80" width="0.75" height="0.75" fill="#7f98d4" opacity="0.5"/>
<rect x="369.71" y="460.91" width="0.75" height="0.75" fill="#7f98d4" opacity="0.5"/>
<rect x="376.68" y="453.31" width="0.75" height="0.75" fill="#7f98d4" opacity="0.5"/>
<rect x="367.41" y="455.05" width="0.75" height="0.75" fill="#7f98d4" opacity="0.5"/>
<rect x="364.51" y="446.83" width="0.75" height="0.75" fill="#7f98d4" opacity="0.5"/>
<rect x="374.27" y="457.08" width="0.75" height="0.75" fill="#7f98d4" opacity="0.5"/>
<rect x="383.66" y="451.12" width="0.75" height="0.75" fill="#7f98d4" opacity="0.5"/>
<rect x="373.82" y="453.98" width="0.75" height="0.75" fill="#7f98d4" opacity="0.5"/>
<rect x="378.10" y="451.68" width="0.75" height="0.75" fill="#7f98d4" opacity="0.5"/>
<rect x="386.33" y="447.79" width="0.75" height="0.75" fill="#7f98d4" opacity="0.5"/>
<rect x="376.02" y="460.24" width="0.75" height="0.75" fill="#7f98d4" opacity="0.5"/>
<rect x="385.57" y="445.47" width="0.75" height="0.75" fill="#7f98d4" opacity="0.5"/>
<rect x="372.82" y="453.23" width="0.75" height="0.75" fill="#7f98d4" opacity="0.5"/>
<rect x="385.75" y="440.37" width="0.75" height="0.75" fill="#7f98d4" opacity="0.5"/>
<rect x="373.02" y="451.87" width="0.75" height="0.75" fill="#7f98d4" opacity="0.5"/>
<rect x="365.68" y="442.97" width="0.75" height="0.75" fill="#7f98d4" opacity="0.5"/>
<rect x="371.86" y="465.21" width="0.75" height="0.75" fill="#7f98d4" opacity="0.5"/>
<rect x="381.26" y="443.78" width="0.75" height="0.75" fill="#7f98d4" opacity="0.5"/>
<rect x="386.54" y="452.46" width="0.75" height="0.75" fill="#7f98d4" opacity="0.5"/>
<rect x="375.65" y="460.49" width="0.75" height="0.75" fill="#7f98d4" opacity="0.5"/>
<rect x="369.12" y="445.07" width="0.75" height="0.75" fill="#7f98d4" opacity="0.5"/>
<rect x="370.93" y="445.12" width="0.75" height="0.75" fill="#7f98d4" opacity="0.5"/>
<rect x="370.09" y="443.51" width="0.75" height="0.75" fill="#7f98d4" opacity="0.5"/>
<rect x="375.50" y="460.45" width="0.75" height="0.75" fill="#7f98d4" opacity="0.5"/>
<rect x="380.18" y="447.75" width="0.75" height="0.75" fill="#7f98d4" opacity="0.5"/>
<rect x="366.61" y="467.52" width="0.75" height="0.75" fill="#7f98d4" opacity="0.5"/>
<rect x="369.55" y="453.59" width="0.75" height="0.75" fill="#7f98d4" opacity="0.5"/>
<rect x="372.02" y="451.88" width="0.75" height="0.75" fill="#7f98d4" opacity="0.5"/>
<rect x="375.63" y="452.38" width="0.75" height="0.75" fill="#7f98d4" opacity="0.5"/>
<rect x="375.12" y="450.12" width="0.75" height="0.75" fill="#7f98d4" opacity="0.5"/>
<rect x="372.24" y="453.76" width="0.75" height="0.75" fill="#7f98d4" opacity="0.5"/>
<rect x="387.71" y="440.94" width="0.75" height="0.75" fill="#7f98d4" opacity="0.5"/>
<rect x="375.02" y="448.59" width="0.75" height="0.75" fill="#7f98d4" opacity="0.5"/>
<rect x="376.25" y="445.04" width="0.75" height="0.75" fill="#7f98d4" opacity="0.5"/>
<rect x="372.40" y="450.15" width="0.75" height="0.75" fill="#7f98d4" opacity="0.5"/>
<rect x="382.90" y="454.47" width="0.75" height="0.75" fill="#7f98d4" opacity="0.5"/>
<rect x="378.85" y="446.85" width="0.75" height="0.75" fill="#7f98d4" opacity="0.5"/>
<rect x="377.65" y="453.80" width="0.75" height="0.75" fill="#7f98d4" opacity="0.5"/>
<rect x="368.38" y="457.03" width="0.75" height="0.75" fill="#7f98d4" opacity="0.5"/>
<rect x="367.79" y="459.09" width="0.75" height="0.75" fill="#7f98d4" opacity="0.5"/>
<rect x="383.09" y="446.61" width="0.75" height="0.75" fill="#7f98d4" opacity="0.5"/>
<rect x="376.07" y="463.42" width="0.75" height="0.75" fill="#7f98d4" opacity="0.5"/>
<rect x="380.92" y="456.93" width="0.75" height="0.75" fill="#7f98d4" opacity="0.5"/>
<rect x="377.96" y="464.44" width="0.75" height="0.75" fill="#7f98d4" opacity="0.5"/>
<rect x="375.49" y="456.00" width="0.75" height="0.75" fill="#7f98d4" opacity="0.5"/>
<rect x="370.55" y="457.80" width="0.75" height="0.75" fill="#7f98d4" opacity="0.5"/>
<rect x="375.52" y="452.59" width="0.75" height="0.75" fill="#7f98d4" opacity="0.5"/>
<rect x="377.87" y="455.21" width="0.75" height="0.75" fill="#7f98d4" opacity="0.5"/>
<rect x="370.09" y="444.09" width="0.75" height="0.75" fill="#7f98d4" opacity="0.5"/>
<rect x="378.77" y="456.48" width="0.75" height="0.75" fill="#7f98d4" opacity="0.5"/>
<rect x="376.85" y="447.41" width="0.75" height="0.75" fill="#7f98d4" opacity="0.5"/>
<rect x="382.09" y="461.36" width="0.75" height="0.75" fill="#7f98d4" opacity="0.5"/>
<rect x="374.92" y="458.83" width="0.75" height="0.75" fill="#7f98d4" opacity="0.5"/>
<rect x="384.03" y="462.03" width="0.75" height="0.75" fill="#7f98d4" opacity="0.5"/>
<rect x="371.37" y="458.30" width="0.75" height="0.75" fill="#7f98d4" opacity="0.5"/>
<rect x="376.30" y="454.65" width="0.75" height="0.75" fill="#7f98d4" opacity="0.5"/>
<rect x="375.93" y="436.03" width="0.75" height="0.75" fill="#7f98d4" opacity="0.5"/>
<rect x="367.85" y="457.98" width="0.75" height="0.75" fill="#7f98d4" opacity="0.5"/>
<rect x="375.56" y="468.64" width="0.75" height="0.75" fill="#7f98d4" opacity="0.5"/>
<rect x="372.04" y="458.41" width="0.75" height="0.75" fill="#7f98d4" opacity="0.5"/>
<rect x="376.05" y="455.79" width="0.75" height="0.75" fill="#7f98d4" opacity="0.5"/>
<rect x="382.44" y="460.55" width="0.75" height="0.75" fill="#7f98d4" opacity="0.5"/>
<rect x="374.89" y="463.23" width="0.75" height="0.75" fill="#7f98d4" opacity="0.5"/>
<rect x="364.86" y="458.61" width="0.75" height="0.75" fill="#7f98d4" opacity="0.5"/>
<rect x="368.40" y="470.66" width="0.75" height="0.75" fill="#7f98d4" opacity="0.5"/>
<rect x="365.43" y="451.29" width="0.75" height="0.75" fill="#7f98d4" opacity="0.5"/>
<rect x="365.88" y="449.61" width="0.75" height="0.75" fill="#7f98d4" opacity="0.5"/>
<rect x="384.81" y="456.54" width="0.75" height="0.75" fill="#7f98d4" opacity="0.5"/>
<rect x="375.37" y="451.00" width="0.75" height="0.75" fill="#7f98d4" opacity="0.5"/>
<rect x="373.46" y="461.88" width="0.75" height="0.75" fill="#7f98d4" opacity="0.5"/>
<rect x="373.35" y="458.39" width="0.75" height="0.75" fill="#7f98d4" opacity="0.5"/>
<rect x="376.56" y="458.76" width="0.75" height="0.75" fill="#7f98d4" opacity="0.5"/>
<rect x="371.21" y="456.13" width="0.75" height="0.75" fill="#7f98d4" opacity="0.5"/>
<rect x="381.78" y="454.59" width="0.75" height="0.75" fill="#7f98d4" opacity="0.5"/>
<rect x="357.75" y="477.72" width="0.8" height="0.8" fill="#3a68c8" opacity="0.6"/>
<rect x="362.59" y="471.67" width="0.8" height="0.8" fill="#3a68c8" opacity="0.6"/>
<rect x="373.16" y="473.92" width="0.8" height="0.8" fill="#3a68c8" opacity="0.6"/>
<rect x="359.68" y="479.93" width="0.8" height="0.8" fill="#3a68c8" opacity="0.6"/>
<rect x="356.49" y="474.40" width="0.8" height="0.8" fill="#3a68c8" opacity="0.6"/>
<rect x="358.00" y="479.44" width="0.8" height="0.8" fill="#3a68c8" opacity="0.6"/>
<rect x="374.50" y="476.17" width="0.8" height="0.8" fill="#3a68c8" opacity="0.6"/>
<rect x="365.46" y="473.64" width="0.8" height="0.8" fill="#3a68c8" opacity="0.6"/>
<rect x="359.62" y="476.86" width="0.8" height="0.8" fill="#3a68c8" opacity="0.6"/>
<rect x="363.49" y="475.32" width="0.8" height="0.8" fill="#3a68c8" opacity="0.6"/>
<rect x="359.26" y="477.86" width="0.8" height="0.8" fill="#3a68c8" opacity="0.6"/>
<rect x="373.41" y="477.50" width="0.8" height="0.8" fill="#3a68c8" opacity="0.6"/>
<rect x="360.92" y="474.02" width="0.8" height="0.8" fill="#3a68c8" opacity="0.6"/>
<rect x="361.43" y="474.13" width="0.8" height="0.8" fill="#3a68c8" opacity="0.6"/>
<rect x="361.18" y="471.87" width="0.8" height="0.8" fill="#3a68c8" opacity="0.6"/>
<rect x="361.63" y="477.19" width="0.8" height="0.8" fill="#3a68c8" opacity="0.6"/>
<rect x="366.26" y="475.03" width="0.8" height="0.8" fill="#3a68c8" opacity="0.6"/>
<rect x="365.20" y="474.45" width="0.8" height="0.8" fill="#3a68c8" opacity="0.6"/>
<rect x="362.72" y="472.93" width="0.8" height="0.8" fill="#3a68c8" opacity="0.6"/>
<rect x="361.76" y="472.34" width="0.8" height="0.8" fill="#3a68c8" opacity="0.6"/>
<rect x="366.14" y="472.86" width="0.8" height="0.8" fill="#3a68c8" opacity="0.6"/>
<rect x="356.55" y="475.02" width="0.8" height="0.8" fill="#3a68c8" opacity="0.6"/>
<rect x="357.51" y="475.14" width="0.8" height="0.8" fill="#3a68c8" opacity="0.6"/>
<rect x="367.89" y="476.77" width="0.8" height="0.8" fill="#3a68c8" opacity="0.6"/>
<rect x="363.81" y="473.78" width="0.8" height="0.8" fill="#3a68c8" opacity="0.6"/>
<rect x="364.33" y="479.53" width="0.8" height="0.8" fill="#3a68c8" opacity="0.6"/>
<rect x="362.29" y="477.51" width="0.8" height="0.8" fill="#3a68c8" opacity="0.6"/>
<rect x="365.86" y="475.24" width="0.8" height="0.8" fill="#3a68c8" opacity="0.6"/>
<rect x="377.83" y="471.84" width="0.8" height="0.8" fill="#3a68c8" opacity="0.6"/>
<rect x="368.17" y="474.28" width="0.8" height="0.8" fill="#3a68c8" opacity="0.6"/>
<rect x="379.45" y="472.85" width="0.8" height="0.8" fill="#3a68c8" opacity="0.6"/>
<rect x="361.48" y="477.62" width="0.8" height="0.8" fill="#3a68c8" opacity="0.6"/>
<rect x="356.02" y="476.39" width="0.8" height="0.8" fill="#3a68c8" opacity="0.6"/>
<rect x="361.74" y="475.94" width="0.8" height="0.8" fill="#3a68c8" opacity="0.6"/>
<rect x="375.95" y="480.22" width="0.8" height="0.8" fill="#3a68c8" opacity="0.6"/>
<rect x="364.32" y="479.48" width="0.8" height="0.8" fill="#3a68c8" opacity="0.6"/>
<rect x="379.13" y="478.92" width="0.8" height="0.8" fill="#3a68c8" opacity="0.6"/>
<rect x="368.82" y="473.63" width="0.8" height="0.8" fill="#3a68c8" opacity="0.6"/>
<rect x="363.80" y="473.10" width="0.8" height="0.8" fill="#3a68c8" opacity="0.6"/>
<rect x="359.02" y="472.07" width="0.8" height="0.8" fill="#3a68c8" opacity="0.6"/>
<rect x="358.45" y="477.84" width="0.8" height="0.8" fill="#3a68c8" opacity="0.6"/>
<rect x="366.84" y="478.45" width="0.8" height="0.8" fill="#3a68c8" opacity="0.6"/>
<rect x="357.28" y="473.79" width="0.8" height="0.8" fill="#3a68c8" opacity="0.6"/>
<rect x="362.04" y="477.94" width="0.8" height="0.8" fill="#3a68c8" opacity="0.6"/>
<rect x="372.06" y="473.58" width="0.8" height="0.8" fill="#3a68c8" opacity="0.6"/>
<rect x="366.06" y="477.18" width="0.8" height="0.8" fill="#3a68c8" opacity="0.6"/>
<rect x="378.40" y="480.40" width="0.8" height="0.8" fill="#3a68c8" opacity="0.6"/>
<rect x="373.12" y="472.57" width="0.8" height="0.8" fill="#3a68c8" opacity="0.6"/>
<rect x="358.88" y="474.47" width="0.8" height="0.8" fill="#3a68c8" opacity="0.6"/>
<rect x="369.02" y="475.85" width="0.8" height="0.8" fill="#3a68c8" opacity="0.6"/>
<rect x="362.81" y="475.03" width="0.8" height="0.8" fill="#3a68c8" opacity="0.6"/>
<rect x="374.37" y="480.33" width="0.8" height="0.8" fill="#3a68c8" opacity="0.6"/>
<rect x="359.53" y="473.08" width="0.8" height="0.8" fill="#3a68c8" opacity="0.6"/>
<rect x="358.89" y="474.41" width="0.8" height="0.8" fill="#3a68c8" opacity="0.6"/>
<rect x="362.58" y="473.55" width="0.8" height="0.8" fill="#3a68c8" opacity="0.6"/>
<rect x="364.78" y="473.84" width="0.8" height="0.8" fill="#3a68c8" opacity="0.6"/>
<rect x="357.55" y="479.53" width="0.8" height="0.8" fill="#3a68c8" opacity="0.6"/>
<rect x="357.88" y="473.14" width="0.8" height="0.8" fill="#3a68c8" opacity="0.6"/>
<rect x="365.50" y="472.02" width="0.8" height="0.8" fill="#3a68c8" opacity="0.6"/>
<rect x="371.77" y="477.11" width="0.8" height="0.8" fill="#3a68c8" opacity="0.6"/>
<rect x="360.22" y="471.74" width="0.8" height="0.8" fill="#3a68c8" opacity="0.6"/>
<rect x="358.85" y="472.17" width="0.8" height="0.8" fill="#3a68c8" opacity="0.6"/>
<rect x="356.26" y="476.25" width="0.8" height="0.8" fill="#3a68c8" opacity="0.6"/>
<rect x="365.65" y="477.85" width="0.8" height="0.8" fill="#3a68c8" opacity="0.6"/>
<rect x="361.45" y="475.00" width="0.8" height="0.8" fill="#3a68c8" opacity="0.6"/>
<rect x="371.77" y="478.80" width="0.8" height="0.8" fill="#3a68c8" opacity="0.6"/>
<rect x="371.31" y="474.69" width="0.8" height="0.8" fill="#3a68c8" opacity="0.6"/>
<rect x="377.72" y="474.39" width="0.8" height="0.8" fill="#3a68c8" opacity="0.6"/>
<rect x="364.04" y="478.17" width="0.8" height="0.8" fill="#3a68c8" opacity="0.6"/>
<rect x="360.26" y="472.45" width="0.8" height="0.8" fill="#3a68c8" opacity="0.6"/>
<rect x="364.41" y="475.38" width="0.8" height="0.8" fill="#3a68c8" opacity="0.6"/>
<rect x="368.06" y="475.13" width="0.8" height="0.8" fill="#3a68c8" opacity="0.6"/>
<rect x="368.89" y="480.07" width="0.8" height="0.8" fill="#3a68c8" opacity="0.6"/>
<rect x="358.60" y="480.39" width="0.8" height="0.8" fill="#3a68c8" opacity="0.6"/>
<rect x="372.95" y="473.10" width="0.8" height="0.8" fill="#3a68c8" opacity="0.6"/>
<rect x="372.25" y="480.03" width="0.8" height="0.8" fill="#3a68c8" opacity="0.6"/>
<rect x="359.56" y="477.21" width="0.8" height="0.8" fill="#3a68c8" opacity="0.6"/>
<rect x="368.12" y="476.61" width="0.8" height="0.8" fill="#3a68c8" opacity="0.6"/>
<rect x="371.97" y="475.27" width="0.8" height="0.8" fill="#3a68c8" opacity="0.6"/>
<rect x="361.52" y="476.91" width="0.8" height="0.8" fill="#3a68c8" opacity="0.6"/>
<rect x="373.68" y="480.40" width="0.8" height="0.8" fill="#3a68c8" opacity="0.6"/>
<rect x="357.56" y="479.33" width="0.8" height="0.8" fill="#3a68c8" opacity="0.6"/>
<rect x="362.02" y="478.76" width="0.8" height="0.8" fill="#3a68c8" opacity="0.6"/>
<rect x="368.87" y="479.29" width="0.8" height="0.8" fill="#3a68c8" opacity="0.6"/>
<rect x="362.71" y="477.29" width="0.8" height="0.8" fill="#3a68c8" opacity="0.6"/>
<rect x="369.32" y="478.58" width="0.8" height="0.8" fill="#3a68c8" opacity="0.6"/>
<rect x="375.12" y="472.87" width="0.8" height="0.8" fill="#3a68c8" opacity="0.6"/>
<rect x="358.41" y="471.83" width="0.8" height="0.8" fill="#3a68c8" opacity="0.6"/>
<rect x="376.76" y="479.00" width="0.8" height="0.8" fill="#3a68c8" opacity="0.6"/>
<rect x="370.81" y="479.62" width="0.8" height="0.8" fill="#3a68c8" opacity="0.6"/>
<rect x="377.04" y="478.05" width="0.8" height="0.8" fill="#3a68c8" opacity="0.6"/>
<rect x="372.04" y="475.38" width="0.8" height="0.8" fill="#3a68c8" opacity="0.6"/>
<rect x="364.15" y="474.34" width="0.8" height="0.8" fill="#3a68c8" opacity="0.6"/>
<rect x="360.34" y="472.65" width="0.8" height="0.8" fill="#3a68c8" opacity="0.6"/>
<rect x="367.20" y="472.66" width="0.8" height="0.8" fill="#3a68c8" opacity="0.6"/>
<rect x="360.71" y="480.45" width="0.8" height="0.8" fill="#3a68c8" opacity="0.6"/>
<rect x="373.67" y="474.74" width="0.8" height="0.8" fill="#3a68c8" opacity="0.6"/>
<rect x="366.19" y="478.88" width="0.8" height="0.8" fill="#3a68c8" opacity="0.6"/>
<rect x="364.31" y="477.83" width="0.8" height="0.8" fill="#3a68c8" opacity="0.6"/>
<rect x="362.88" y="479.19" width="0.8" height="0.8" fill="#3a68c8" opacity="0.6"/>
<rect x="366.92" y="479.90" width="0.8" height="0.8" fill="#3a68c8" opacity="0.6"/>
<rect x="357.54" y="475.27" width="0.8" height="0.8" fill="#3a68c8" opacity="0.6"/>
<rect x="366.58" y="480.09" width="0.8" height="0.8" fill="#3a68c8" opacity="0.6"/>
<rect x="372.68" y="477.55" width="0.8" height="0.8" fill="#3a68c8" opacity="0.6"/>
<rect x="362.04" y="475.29" width="0.8" height="0.8" fill="#3a68c8" opacity="0.6"/>
<rect x="358.12" y="474.77" width="0.8" height="0.8" fill="#3a68c8" opacity="0.6"/>
<rect x="373.35" y="477.52" width="0.8" height="0.8" fill="#3a68c8" opacity="0.6"/>
<rect x="377.55" y="480.05" width="0.8" height="0.8" fill="#3a68c8" opacity="0.6"/>
<rect x="371.19" y="475.72" width="0.8" height="0.8" fill="#3a68c8" opacity="0.6"/>
<rect x="357.60" y="475.66" width="0.8" height="0.8" fill="#3a68c8" opacity="0.6"/>
<rect x="361.03" y="474.83" width="0.8" height="0.8" fill="#3a68c8" opacity="0.6"/>
<rect x="365.47" y="478.18" width="0.8" height="0.8" fill="#3a68c8" opacity="0.6"/>
<rect x="360.00" y="477.34" width="0.8" height="0.8" fill="#3a68c8" opacity="0.6"/>
<rect x="373.54" y="478.48" width="0.8" height="0.8" fill="#3a68c8" opacity="0.6"/>
<rect x="378.67" y="479.56" width="0.8" height="0.8" fill="#3a68c8" opacity="0.6"/>
<rect x="364.43" y="476.32" width="0.8" height="0.8" fill="#3a68c8" opacity="0.6"/>
<rect x="358.67" y="478.60" width="0.8" height="0.8" fill="#3a68c8" opacity="0.6"/>
<rect x="359.11" y="472.30" width="0.8" height="0.8" fill="#3a68c8" opacity="0.6"/>
<rect x="363.06" y="478.50" width="0.8" height="0.8" fill="#3a68c8" opacity="0.6"/>
<rect x="365.93" y="471.99" width="0.8" height="0.8" fill="#3a68c8" opacity="0.6"/>
<rect x="366.84" y="476.52" width="0.8" height="0.8" fill="#3a68c8" opacity="0.6"/>
<rect x="359.72" y="480.23" width="0.8" height="0.8" fill="#3a68c8" opacity="0.6"/>
<rect x="379.13" y="475.22" width="0.8" height="0.8" fill="#3a68c8" opacity="0.6"/>
<rect x="359.69" y="478.87" width="0.8" height="0.8" fill="#3a68c8" opacity="0.6"/>
<rect x="356.68" y="472.49" width="0.8" height="0.8" fill="#3a68c8" opacity="0.6"/>
<rect x="357.11" y="475.25" width="0.8" height="0.8" fill="#3a68c8" opacity="0.6"/>
<rect x="368.02" y="479.63" width="0.8" height="0.8" fill="#3a68c8" opacity="0.6"/>
<rect x="363.18" y="478.15" width="0.8" height="0.8" fill="#3a68c8" opacity="0.6"/>
<rect x="364.83" y="475.36" width="0.8" height="0.8" fill="#3a68c8" opacity="0.6"/>
<rect x="364.60" y="475.37" width="0.8" height="0.8" fill="#3a68c8" opacity="0.6"/>
<rect x="357.19" y="479.02" width="0.8" height="0.8" fill="#3a68c8" opacity="0.6"/>
<rect x="368.67" y="476.43" width="0.8" height="0.8" fill="#3a68c8" opacity="0.6"/>
<rect x="361.34" y="472.39" width="0.8" height="0.8" fill="#3a68c8" opacity="0.6"/>
<rect x="363.55" y="475.86" width="0.8" height="0.8" fill="#3a68c8" opacity="0.6"/>
<rect x="373.99" y="475.89" width="0.8" height="0.8" fill="#3a68c8" opacity="0.6"/>
<rect x="365.76" y="480.20" width="0.8" height="0.8" fill="#3a68c8" opacity="0.6"/>
<g filter="url(#bl1)">
<ellipse cx="364" cy="476.5" rx="7.5" ry="3" fill="#3a68c8" opacity="0.6"/>
<ellipse cx="360.8" cy="457" rx="2.8" ry="16" fill="#2a58c4"/>
<ellipse cx="360.8" cy="457.5" rx="2.2" ry="13" fill="#52a8e0"/>
<ellipse cx="360.8" cy="458" rx="1.6" ry="9.5" fill="#6cc48a"/>
<ellipse cx="360.8" cy="458" rx="1.0" ry="5.5" fill="#b0d858"/>
<ellipse cx="374.2" cy="468.5" rx="7.2" ry="4.2" fill="#2a58c4"/>
<ellipse cx="374.2" cy="468.4" rx="5.8" ry="3.2" fill="#4cb0e0"/>
<ellipse cx="374.0" cy="468.3" rx="4.4" ry="2.4" fill="#6cc48a"/>
<ellipse cx="373.8" cy="468.2" rx="3.0" ry="1.6" fill="#e0e030"/>
</g></g>
<rect x="352.6" y="426.2" width="54.9" height="54.7" fill="none" stroke="#333" stroke-width="0.7"/>
<rect x="353.8" y="429.9" width="12.4" height="43.5" fill="none" stroke="#222" stroke-width="1"/>
<line x1="351.20" y1="428.50" x2="352.60" y2="428.50" stroke="#333" stroke-width="0.6" />
<text x="350.60" y="430.00" font-size="4.3" text-anchor="end" font-weight="normal" fill="#333" >250K</text>
<line x1="351.20" y1="439.70" x2="352.60" y2="439.70" stroke="#333" stroke-width="0.6" />
<text x="350.60" y="441.20" font-size="4.3" text-anchor="end" font-weight="normal" fill="#333" >200K</text>
<line x1="351.20" y1="449.60" x2="352.60" y2="449.60" stroke="#333" stroke-width="0.6" />
<text x="350.60" y="451.10" font-size="4.3" text-anchor="end" font-weight="normal" fill="#333" >150K</text>
<line x1="351.20" y1="460.30" x2="352.60" y2="460.30" stroke="#333" stroke-width="0.6" />
<text x="350.60" y="461.80" font-size="4.3" text-anchor="end" font-weight="normal" fill="#333" >100K</text>
<line x1="351.20" y1="470.50" x2="352.60" y2="470.50" stroke="#333" stroke-width="0.6" />
<text x="350.60" y="472.00" font-size="4.3" text-anchor="end" font-weight="normal" fill="#333" >50K</text>
<line x1="351.20" y1="480.60" x2="352.60" y2="480.60" stroke="#333" stroke-width="0.6" />
<text x="350.60" y="482.10" font-size="4.3" text-anchor="end" font-weight="normal" fill="#333" >0</text>
<text x="0" y="0" font-size="5" text-anchor="middle" fill="#333" transform="translate(337 455) rotate(-90)">FSC-A</text>
<text x="360.20" y="487.50" font-size="4.3" text-anchor="middle" font-weight="normal" fill="#333" >0</text>
<text x="377.40" y="487.50" font-size="4.3" text-anchor="middle" font-weight="normal" fill="#333" >10<tspan dy="-1.4" font-size="3.01">4</tspan></text>
<text x="390.80" y="487.50" font-size="4.3" text-anchor="middle" font-weight="normal" fill="#333" >10<tspan dy="-1.4" font-size="3.01">5</tspan></text>
<text x="402.50" y="487.50" font-size="4.3" text-anchor="middle" font-weight="normal" fill="#333" >10<tspan dy="-1.4" font-size="3.01">6</tspan></text>
<line x1="354.50" y1="481.00" x2="354.50" y2="482.60" stroke="#111" stroke-width="0.5" />
<line x1="355.25" y1="481.00" x2="355.25" y2="482.60" stroke="#111" stroke-width="0.5" />
<line x1="356.00" y1="481.00" x2="356.00" y2="482.60" stroke="#111" stroke-width="0.5" />
<line x1="356.75" y1="481.00" x2="356.75" y2="482.60" stroke="#111" stroke-width="0.5" />
<line x1="357.50" y1="481.00" x2="357.50" y2="482.60" stroke="#111" stroke-width="0.5" />
<line x1="358.25" y1="481.00" x2="358.25" y2="482.60" stroke="#111" stroke-width="0.5" />
<line x1="359.00" y1="481.00" x2="359.00" y2="482.60" stroke="#111" stroke-width="0.5" />
<line x1="359.75" y1="481.00" x2="359.75" y2="482.60" stroke="#111" stroke-width="0.5" />
<line x1="360.50" y1="481.00" x2="360.50" y2="482.60" stroke="#111" stroke-width="0.5" />
<line x1="361.25" y1="481.00" x2="361.25" y2="482.60" stroke="#111" stroke-width="0.5" />
<line x1="362.00" y1="481.00" x2="362.00" y2="482.60" stroke="#111" stroke-width="0.5" />
<line x1="362.75" y1="481.00" x2="362.75" y2="482.60" stroke="#111" stroke-width="0.5" />
<line x1="363.50" y1="481.00" x2="363.50" y2="482.60" stroke="#111" stroke-width="0.5" />
<line x1="364.25" y1="481.00" x2="364.25" y2="482.60" stroke="#111" stroke-width="0.5" />
<line x1="370.00" y1="481.00" x2="370.00" y2="482.30" stroke="#333" stroke-width="0.4" />
<line x1="377.40" y1="481.00" x2="377.40" y2="482.30" stroke="#333" stroke-width="0.4" />
<line x1="384.00" y1="481.00" x2="384.00" y2="482.30" stroke="#333" stroke-width="0.4" />
<line x1="390.80" y1="481.00" x2="390.80" y2="482.30" stroke="#333" stroke-width="0.4" />
<line x1="397.00" y1="481.00" x2="397.00" y2="482.30" stroke="#333" stroke-width="0.4" />
<line x1="402.50" y1="481.00" x2="402.50" y2="482.30" stroke="#333" stroke-width="0.4" />
<text x="0" y="0" font-size="6.2" text-anchor="middle" fill="#222" transform="translate(380 497.2) scale(0.8 1)">CD3 PerCP-Cy5.5-A</text>
<text x="379.70" y="423.80" font-size="5.8" text-anchor="middle" font-weight="normal" fill="#222" >gated on Sytox negative:</text>
<g clip-path="url(#cpG2)">
<rect x="463.14" y="462.06" width="0.8" height="0.8" fill="#5a80c8" opacity="0.5"/>
<rect x="454.26" y="453.35" width="0.8" height="0.8" fill="#5a80c8" opacity="0.5"/>
<rect x="454.39" y="446.23" width="0.8" height="0.8" fill="#5a80c8" opacity="0.5"/>
<rect x="463.76" y="453.15" width="0.8" height="0.8" fill="#5a80c8" opacity="0.5"/>
<rect x="452.29" y="450.94" width="0.8" height="0.8" fill="#5a80c8" opacity="0.5"/>
<rect x="460.13" y="457.09" width="0.8" height="0.8" fill="#5a80c8" opacity="0.5"/>
<rect x="442.07" y="441.23" width="0.8" height="0.8" fill="#5a80c8" opacity="0.5"/>
<rect x="449.83" y="445.48" width="0.8" height="0.8" fill="#5a80c8" opacity="0.5"/>
<rect x="471.03" y="449.21" width="0.8" height="0.8" fill="#5a80c8" opacity="0.5"/>
<rect x="473.54" y="448.65" width="0.8" height="0.8" fill="#5a80c8" opacity="0.5"/>
<rect x="451.15" y="455.32" width="0.8" height="0.8" fill="#5a80c8" opacity="0.5"/>
<rect x="443.33" y="462.62" width="0.8" height="0.8" fill="#5a80c8" opacity="0.5"/>
<rect x="472.43" y="446.88" width="0.8" height="0.8" fill="#5a80c8" opacity="0.5"/>
<rect x="452.38" y="458.66" width="0.8" height="0.8" fill="#5a80c8" opacity="0.5"/>
<rect x="470.74" y="454.41" width="0.8" height="0.8" fill="#5a80c8" opacity="0.5"/>
<rect x="442.21" y="457.33" width="0.8" height="0.8" fill="#5a80c8" opacity="0.5"/>
<rect x="441.87" y="453.99" width="0.8" height="0.8" fill="#5a80c8" opacity="0.5"/>
<rect x="461.53" y="461.26" width="0.8" height="0.8" fill="#5a80c8" opacity="0.5"/>
<rect x="468.74" y="449.04" width="0.8" height="0.8" fill="#5a80c8" opacity="0.5"/>
<rect x="466.51" y="462.61" width="0.8" height="0.8" fill="#5a80c8" opacity="0.5"/>
<rect x="475.75" y="440.80" width="0.8" height="0.8" fill="#5a80c8" opacity="0.5"/>
<rect x="470.47" y="449.57" width="0.8" height="0.8" fill="#5a80c8" opacity="0.5"/>
<rect x="469.31" y="448.07" width="0.8" height="0.8" fill="#5a80c8" opacity="0.5"/>
<rect x="457.46" y="449.49" width="0.8" height="0.8" fill="#5a80c8" opacity="0.5"/>
<rect x="444.60" y="446.68" width="0.8" height="0.8" fill="#5a80c8" opacity="0.5"/>
<rect x="468.65" y="440.71" width="0.8" height="0.8" fill="#5a80c8" opacity="0.5"/>
<rect x="444.52" y="459.02" width="0.8" height="0.8" fill="#5a80c8" opacity="0.5"/>
<rect x="465.98" y="452.15" width="0.8" height="0.8" fill="#5a80c8" opacity="0.5"/>
<rect x="444.42" y="441.84" width="0.8" height="0.8" fill="#5a80c8" opacity="0.5"/>
<rect x="452.09" y="461.89" width="0.8" height="0.8" fill="#5a80c8" opacity="0.5"/>
<rect x="461.85" y="461.13" width="0.8" height="0.8" fill="#5a80c8" opacity="0.5"/>
<rect x="448.23" y="448.96" width="0.8" height="0.8" fill="#5a80c8" opacity="0.5"/>
<rect x="460.92" y="459.14" width="0.8" height="0.8" fill="#5a80c8" opacity="0.5"/>
<rect x="444.81" y="459.97" width="0.8" height="0.8" fill="#5a80c8" opacity="0.5"/>
<rect x="456.85" y="448.06" width="0.8" height="0.8" fill="#5a80c8" opacity="0.5"/>
<rect x="466.30" y="461.28" width="0.8" height="0.8" fill="#5a80c8" opacity="0.5"/>
<rect x="459.25" y="455.55" width="0.8" height="0.8" fill="#5a80c8" opacity="0.5"/>
<rect x="455.13" y="457.69" width="0.8" height="0.8" fill="#5a80c8" opacity="0.5"/>
<rect x="444.10" y="456.82" width="0.8" height="0.8" fill="#5a80c8" opacity="0.5"/>
<rect x="446.49" y="453.06" width="0.8" height="0.8" fill="#5a80c8" opacity="0.5"/>
<rect x="447.88" y="447.31" width="0.8" height="0.8" fill="#5a80c8" opacity="0.5"/>
<rect x="446.39" y="447.39" width="0.8" height="0.8" fill="#5a80c8" opacity="0.5"/>
<rect x="463.06" y="451.48" width="0.8" height="0.8" fill="#5a80c8" opacity="0.5"/>
<rect x="455.15" y="452.78" width="0.8" height="0.8" fill="#5a80c8" opacity="0.5"/>
<rect x="472.85" y="447.60" width="0.8" height="0.8" fill="#5a80c8" opacity="0.5"/>
<rect x="462.77" y="450.53" width="0.8" height="0.8" fill="#5a80c8" opacity="0.5"/>
<rect x="478.24" y="446.87" width="0.8" height="0.8" fill="#5a80c8" opacity="0.5"/>
<rect x="467.20" y="444.61" width="0.8" height="0.8" fill="#5a80c8" opacity="0.5"/>
<rect x="450.19" y="456.53" width="0.8" height="0.8" fill="#5a80c8" opacity="0.5"/>
<rect x="462.42" y="445.17" width="0.8" height="0.8" fill="#5a80c8" opacity="0.5"/>
<rect x="442.50" y="458.80" width="0.8" height="0.8" fill="#5a80c8" opacity="0.5"/>
<rect x="454.73" y="456.20" width="0.8" height="0.8" fill="#5a80c8" opacity="0.5"/>
<rect x="456.88" y="453.82" width="0.8" height="0.8" fill="#5a80c8" opacity="0.5"/>
<rect x="461.82" y="462.42" width="0.8" height="0.8" fill="#5a80c8" opacity="0.5"/>
<rect x="475.48" y="449.94" width="0.8" height="0.8" fill="#5a80c8" opacity="0.5"/>
<rect x="458.99" y="444.55" width="0.8" height="0.8" fill="#5a80c8" opacity="0.5"/>
<rect x="469.37" y="441.46" width="0.8" height="0.8" fill="#5a80c8" opacity="0.5"/>
<rect x="451.96" y="459.34" width="0.8" height="0.8" fill="#5a80c8" opacity="0.5"/>
<rect x="441.37" y="455.76" width="0.8" height="0.8" fill="#5a80c8" opacity="0.5"/>
<rect x="462.16" y="452.24" width="0.8" height="0.8" fill="#5a80c8" opacity="0.5"/>
<rect x="452.99" y="442.64" width="0.8" height="0.8" fill="#5a80c8" opacity="0.5"/>
<rect x="471.42" y="441.34" width="0.8" height="0.8" fill="#5a80c8" opacity="0.5"/>
<rect x="470.58" y="444.24" width="0.8" height="0.8" fill="#5a80c8" opacity="0.5"/>
<rect x="447.77" y="451.84" width="0.8" height="0.8" fill="#5a80c8" opacity="0.5"/>
<rect x="463.78" y="441.90" width="0.8" height="0.8" fill="#5a80c8" opacity="0.5"/>
<rect x="469.83" y="452.98" width="0.8" height="0.8" fill="#5a80c8" opacity="0.5"/>
<rect x="466.88" y="447.74" width="0.8" height="0.8" fill="#5a80c8" opacity="0.5"/>
<rect x="451.34" y="459.58" width="0.8" height="0.8" fill="#5a80c8" opacity="0.5"/>
<rect x="468.35" y="445.35" width="0.8" height="0.8" fill="#5a80c8" opacity="0.5"/>
<rect x="449.72" y="439.49" width="0.8" height="0.8" fill="#5a80c8" opacity="0.5"/>
<rect x="460.95" y="445.09" width="0.8" height="0.8" fill="#5a80c8" opacity="0.5"/>
<rect x="451.43" y="445.07" width="0.8" height="0.8" fill="#5a80c8" opacity="0.5"/>
<rect x="445.13" y="450.64" width="0.8" height="0.8" fill="#5a80c8" opacity="0.5"/>
<rect x="450.63" y="445.84" width="0.8" height="0.8" fill="#5a80c8" opacity="0.5"/>
<rect x="450.83" y="451.22" width="0.8" height="0.8" fill="#5a80c8" opacity="0.5"/>
<rect x="474.08" y="442.84" width="0.8" height="0.8" fill="#5a80c8" opacity="0.5"/>
<rect x="463.77" y="452.05" width="0.8" height="0.8" fill="#5a80c8" opacity="0.5"/>
<rect x="468.62" y="451.83" width="0.8" height="0.8" fill="#5a80c8" opacity="0.5"/>
<rect x="465.74" y="461.06" width="0.8" height="0.8" fill="#5a80c8" opacity="0.5"/>
<rect x="470.23" y="445.24" width="0.8" height="0.8" fill="#5a80c8" opacity="0.5"/>
<rect x="442.12" y="461.48" width="0.8" height="0.8" fill="#5a80c8" opacity="0.5"/>
<rect x="454.14" y="457.89" width="0.8" height="0.8" fill="#5a80c8" opacity="0.5"/>
<rect x="449.10" y="449.87" width="0.8" height="0.8" fill="#5a80c8" opacity="0.5"/>
<rect x="454.45" y="456.50" width="0.8" height="0.8" fill="#5a80c8" opacity="0.5"/>
<rect x="476.80" y="451.14" width="0.8" height="0.8" fill="#5a80c8" opacity="0.5"/>
<rect x="462.07" y="447.37" width="0.8" height="0.8" fill="#5a80c8" opacity="0.5"/>
<rect x="449.06" y="461.80" width="0.8" height="0.8" fill="#5a80c8" opacity="0.5"/>
<rect x="444.30" y="461.57" width="0.8" height="0.8" fill="#5a80c8" opacity="0.5"/>
<rect x="465.63" y="440.72" width="0.8" height="0.8" fill="#5a80c8" opacity="0.5"/>
<rect x="475.17" y="441.45" width="0.8" height="0.8" fill="#5a80c8" opacity="0.5"/>
<rect x="462.05" y="441.87" width="0.8" height="0.8" fill="#5a80c8" opacity="0.5"/>
<rect x="478.56" y="446.42" width="0.8" height="0.8" fill="#5a80c8" opacity="0.5"/>
<rect x="465.99" y="440.63" width="0.8" height="0.8" fill="#5a80c8" opacity="0.5"/>
<rect x="441.16" y="452.70" width="0.8" height="0.8" fill="#5a80c8" opacity="0.5"/>
<rect x="460.33" y="440.85" width="0.8" height="0.8" fill="#5a80c8" opacity="0.5"/>
<rect x="460.55" y="443.43" width="0.8" height="0.8" fill="#5a80c8" opacity="0.5"/>
<rect x="460.54" y="447.50" width="0.8" height="0.8" fill="#5a80c8" opacity="0.5"/>
<rect x="459.46" y="443.74" width="0.8" height="0.8" fill="#5a80c8" opacity="0.5"/>
<rect x="467.50" y="449.01" width="0.8" height="0.8" fill="#5a80c8" opacity="0.5"/>
<rect x="458.95" y="440.89" width="0.8" height="0.8" fill="#5a80c8" opacity="0.5"/>
<rect x="458.99" y="452.38" width="0.8" height="0.8" fill="#5a80c8" opacity="0.5"/>
<rect x="477.93" y="452.47" width="0.8" height="0.8" fill="#5a80c8" opacity="0.5"/>
<rect x="445.26" y="446.21" width="0.8" height="0.8" fill="#5a80c8" opacity="0.5"/>
<rect x="453.09" y="455.85" width="0.8" height="0.8" fill="#5a80c8" opacity="0.5"/>
<rect x="440.79" y="450.75" width="0.8" height="0.8" fill="#5a80c8" opacity="0.5"/>
<rect x="463.04" y="455.46" width="0.8" height="0.8" fill="#5a80c8" opacity="0.5"/>
<rect x="463.90" y="453.72" width="0.8" height="0.8" fill="#5a80c8" opacity="0.5"/>
<rect x="476.40" y="441.07" width="0.8" height="0.8" fill="#5a80c8" opacity="0.5"/>
<rect x="460.25" y="462.03" width="0.8" height="0.8" fill="#5a80c8" opacity="0.5"/>
<rect x="441.24" y="441.68" width="0.8" height="0.8" fill="#5a80c8" opacity="0.5"/>
<rect x="440.94" y="439.77" width="0.8" height="0.8" fill="#5a80c8" opacity="0.5"/>
<rect x="460.27" y="452.92" width="0.8" height="0.8" fill="#5a80c8" opacity="0.5"/>
<rect x="469.54" y="458.39" width="0.8" height="0.8" fill="#5a80c8" opacity="0.5"/>
<rect x="440.03" y="440.63" width="0.8" height="0.8" fill="#5a80c8" opacity="0.5"/>
<rect x="472.50" y="448.78" width="0.8" height="0.8" fill="#5a80c8" opacity="0.5"/>
<rect x="453.09" y="447.32" width="0.8" height="0.8" fill="#5a80c8" opacity="0.5"/>
<rect x="440.58" y="457.48" width="0.8" height="0.8" fill="#5a80c8" opacity="0.5"/>
<rect x="450.23" y="453.06" width="0.8" height="0.8" fill="#5a80c8" opacity="0.5"/>
<rect x="460.52" y="447.05" width="0.8" height="0.8" fill="#5a80c8" opacity="0.5"/>
<rect x="466.32" y="449.92" width="0.8" height="0.8" fill="#5a80c8" opacity="0.5"/>
<rect x="449.14" y="460.16" width="0.8" height="0.8" fill="#5a80c8" opacity="0.5"/>
<rect x="446.85" y="442.60" width="0.8" height="0.8" fill="#5a80c8" opacity="0.5"/>
<rect x="449.88" y="450.50" width="0.8" height="0.8" fill="#5a80c8" opacity="0.5"/>
<rect x="470.56" y="446.99" width="0.8" height="0.8" fill="#5a80c8" opacity="0.5"/>
<rect x="449.29" y="454.70" width="0.8" height="0.8" fill="#5a80c8" opacity="0.5"/>
<rect x="450.15" y="451.55" width="0.8" height="0.8" fill="#5a80c8" opacity="0.5"/>
<rect x="449.94" y="460.05" width="0.8" height="0.8" fill="#5a80c8" opacity="0.5"/>
<rect x="447.20" y="444.57" width="0.8" height="0.8" fill="#5a80c8" opacity="0.5"/>
<rect x="451.76" y="446.91" width="0.8" height="0.8" fill="#5a80c8" opacity="0.5"/>
<rect x="468.33" y="455.18" width="0.8" height="0.8" fill="#5a80c8" opacity="0.5"/>
<rect x="470.82" y="451.96" width="0.8" height="0.8" fill="#5a80c8" opacity="0.5"/>
<rect x="443.06" y="457.32" width="0.8" height="0.8" fill="#5a80c8" opacity="0.5"/>
<rect x="449.53" y="444.23" width="0.8" height="0.8" fill="#5a80c8" opacity="0.5"/>
<rect x="456.16" y="462.76" width="0.8" height="0.8" fill="#5a80c8" opacity="0.5"/>
<rect x="454.46" y="447.56" width="0.8" height="0.8" fill="#5a80c8" opacity="0.5"/>
<rect x="455.10" y="442.25" width="0.8" height="0.8" fill="#5a80c8" opacity="0.5"/>
<rect x="453.19" y="457.97" width="0.8" height="0.8" fill="#5a80c8" opacity="0.5"/>
<rect x="454.80" y="445.89" width="0.8" height="0.8" fill="#5a80c8" opacity="0.5"/>
<rect x="463.14" y="456.80" width="0.8" height="0.8" fill="#5a80c8" opacity="0.5"/>
<rect x="458.56" y="458.64" width="0.8" height="0.8" fill="#5a80c8" opacity="0.5"/>
<rect x="440.54" y="450.98" width="0.8" height="0.8" fill="#5a80c8" opacity="0.5"/>
<rect x="454.84" y="440.56" width="0.8" height="0.8" fill="#5a80c8" opacity="0.5"/>
<rect x="475.67" y="442.44" width="0.8" height="0.8" fill="#5a80c8" opacity="0.5"/>
<rect x="448.02" y="460.08" width="0.8" height="0.8" fill="#5a80c8" opacity="0.5"/>
<rect x="453.33" y="461.34" width="0.8" height="0.8" fill="#5a80c8" opacity="0.5"/>
<rect x="445.53" y="456.15" width="0.8" height="0.8" fill="#5a80c8" opacity="0.5"/>
<rect x="476.88" y="443.62" width="0.8" height="0.8" fill="#5a80c8" opacity="0.5"/>
<rect x="445.29" y="455.28" width="0.8" height="0.8" fill="#5a80c8" opacity="0.5"/>
<rect x="477.02" y="449.89" width="0.8" height="0.8" fill="#5a80c8" opacity="0.5"/>
<rect x="454.52" y="441.88" width="0.8" height="0.8" fill="#5a80c8" opacity="0.5"/>
<rect x="450.65" y="461.53" width="0.8" height="0.8" fill="#5a80c8" opacity="0.5"/>
<rect x="442.79" y="443.44" width="0.8" height="0.8" fill="#5a80c8" opacity="0.5"/>
<rect x="453.55" y="440.18" width="0.8" height="0.8" fill="#5a80c8" opacity="0.5"/>
<rect x="451.97" y="443.39" width="0.8" height="0.8" fill="#5a80c8" opacity="0.5"/>
<rect x="444.79" y="451.65" width="0.8" height="0.8" fill="#5a80c8" opacity="0.5"/>
<rect x="461.07" y="452.62" width="0.8" height="0.8" fill="#5a80c8" opacity="0.5"/>
<rect x="469.73" y="451.64" width="0.8" height="0.8" fill="#5a80c8" opacity="0.5"/>
<rect x="476.94" y="440.96" width="0.8" height="0.8" fill="#5a80c8" opacity="0.5"/>
<rect x="448.69" y="440.84" width="0.8" height="0.8" fill="#5a80c8" opacity="0.5"/>
<rect x="452.07" y="457.26" width="0.8" height="0.8" fill="#5a80c8" opacity="0.5"/>
<rect x="476.04" y="451.09" width="0.8" height="0.8" fill="#5a80c8" opacity="0.5"/>
<rect x="446.25" y="446.93" width="0.8" height="0.8" fill="#5a80c8" opacity="0.5"/>
<rect x="462.17" y="446.07" width="0.8" height="0.8" fill="#5a80c8" opacity="0.5"/>
<rect x="457.93" y="453.47" width="0.8" height="0.8" fill="#5a80c8" opacity="0.5"/>
<rect x="472.99" y="450.16" width="0.8" height="0.8" fill="#5a80c8" opacity="0.5"/>
<rect x="447.44" y="461.66" width="0.8" height="0.8" fill="#5a80c8" opacity="0.5"/>
<rect x="469.75" y="448.61" width="0.8" height="0.8" fill="#5a80c8" opacity="0.5"/>
<rect x="442.02" y="442.91" width="0.8" height="0.8" fill="#5a80c8" opacity="0.5"/>
<rect x="446.75" y="456.67" width="0.8" height="0.8" fill="#5a80c8" opacity="0.5"/>
<rect x="448.25" y="439.47" width="0.8" height="0.8" fill="#5a80c8" opacity="0.5"/>
<rect x="448.57" y="458.18" width="0.8" height="0.8" fill="#5a80c8" opacity="0.5"/>
<rect x="459.47" y="454.67" width="0.8" height="0.8" fill="#5a80c8" opacity="0.5"/>
<rect x="458.14" y="443.38" width="0.8" height="0.8" fill="#5a80c8" opacity="0.5"/>
<rect x="440.59" y="446.30" width="0.8" height="0.8" fill="#5a80c8" opacity="0.5"/>
<rect x="441.62" y="445.25" width="0.8" height="0.8" fill="#5a80c8" opacity="0.5"/>
<rect x="464.13" y="447.86" width="0.8" height="0.8" fill="#5a80c8" opacity="0.5"/>
<rect x="458.44" y="453.97" width="0.8" height="0.8" fill="#5a80c8" opacity="0.5"/>
<rect x="452.37" y="447.56" width="0.8" height="0.8" fill="#5a80c8" opacity="0.5"/>
<rect x="474.47" y="452.94" width="0.8" height="0.8" fill="#5a80c8" opacity="0.5"/>
<rect x="456.26" y="451.96" width="0.8" height="0.8" fill="#5a80c8" opacity="0.5"/>
<rect x="457.95" y="446.98" width="0.8" height="0.8" fill="#5a80c8" opacity="0.5"/>
<rect x="475.63" y="444.60" width="0.8" height="0.8" fill="#5a80c8" opacity="0.5"/>
<rect x="474.40" y="442.90" width="0.8" height="0.8" fill="#5a80c8" opacity="0.5"/>
<rect x="459.85" y="462.63" width="0.8" height="0.8" fill="#5a80c8" opacity="0.5"/>
<rect x="451.26" y="443.10" width="0.8" height="0.8" fill="#5a80c8" opacity="0.5"/>
<rect x="468.21" y="444.64" width="0.8" height="0.8" fill="#5a80c8" opacity="0.5"/>
<rect x="462.76" y="442.78" width="0.8" height="0.8" fill="#5a80c8" opacity="0.5"/>
<rect x="476.95" y="445.82" width="0.8" height="0.8" fill="#5a80c8" opacity="0.5"/>
<rect x="443.78" y="455.50" width="0.8" height="0.8" fill="#5a80c8" opacity="0.5"/>
<rect x="453.54" y="452.42" width="0.8" height="0.8" fill="#5a80c8" opacity="0.5"/>
<rect x="459.39" y="461.14" width="0.8" height="0.8" fill="#5a80c8" opacity="0.5"/>
<rect x="460.05" y="448.09" width="0.8" height="0.8" fill="#5a80c8" opacity="0.5"/>
<rect x="440.06" y="450.92" width="0.8" height="0.8" fill="#5a80c8" opacity="0.5"/>
<rect x="450.49" y="452.78" width="0.8" height="0.8" fill="#5a80c8" opacity="0.5"/>
<rect x="464.64" y="450.09" width="0.8" height="0.8" fill="#5a80c8" opacity="0.5"/>
<rect x="443.51" y="450.94" width="0.8" height="0.8" fill="#5a80c8" opacity="0.5"/>
<rect x="458.79" y="454.39" width="0.8" height="0.8" fill="#5a80c8" opacity="0.5"/>
<rect x="477.83" y="445.72" width="0.8" height="0.8" fill="#5a80c8" opacity="0.5"/>
<rect x="457.27" y="441.03" width="0.8" height="0.8" fill="#5a80c8" opacity="0.5"/>
<rect x="471.20" y="444.63" width="0.8" height="0.8" fill="#5a80c8" opacity="0.5"/>
<rect x="449.93" y="460.67" width="0.8" height="0.8" fill="#5a80c8" opacity="0.5"/>
<rect x="459.65" y="449.23" width="0.8" height="0.8" fill="#5a80c8" opacity="0.5"/>
<rect x="461.65" y="461.70" width="0.8" height="0.8" fill="#5a80c8" opacity="0.5"/>
<rect x="459.11" y="450.57" width="0.8" height="0.8" fill="#5a80c8" opacity="0.5"/>
<rect x="451.33" y="459.19" width="0.8" height="0.8" fill="#5a80c8" opacity="0.5"/>
<rect x="459.62" y="447.22" width="0.8" height="0.8" fill="#5a80c8" opacity="0.5"/>
<rect x="447.66" y="444.16" width="0.8" height="0.8" fill="#5a80c8" opacity="0.5"/>
<rect x="466.72" y="458.14" width="0.8" height="0.8" fill="#5a80c8" opacity="0.5"/>
<rect x="467.75" y="458.43" width="0.8" height="0.8" fill="#5a80c8" opacity="0.5"/>
<rect x="471.25" y="443.23" width="0.8" height="0.8" fill="#5a80c8" opacity="0.5"/>
<rect x="471.77" y="446.28" width="0.8" height="0.8" fill="#5a80c8" opacity="0.5"/>
<rect x="449.52" y="461.07" width="0.8" height="0.8" fill="#5a80c8" opacity="0.5"/>
<rect x="440.89" y="451.28" width="0.8" height="0.8" fill="#5a80c8" opacity="0.5"/>
<rect x="453.38" y="458.00" width="0.8" height="0.8" fill="#5a80c8" opacity="0.5"/>
<rect x="463.81" y="460.87" width="0.8" height="0.8" fill="#5a80c8" opacity="0.5"/>
<rect x="476.37" y="454.46" width="0.8" height="0.8" fill="#5a80c8" opacity="0.5"/>
<rect x="442.52" y="455.01" width="0.8" height="0.8" fill="#5a80c8" opacity="0.5"/>
<rect x="444.27" y="462.57" width="0.8" height="0.8" fill="#5a80c8" opacity="0.5"/>
<rect x="473.98" y="446.46" width="0.8" height="0.8" fill="#5a80c8" opacity="0.5"/>
<rect x="447.25" y="455.66" width="0.8" height="0.8" fill="#5a80c8" opacity="0.5"/>
<rect x="469.57" y="462.64" width="0.8" height="0.8" fill="#5a80c8" opacity="0.5"/>
<rect x="464.29" y="442.01" width="0.8" height="0.8" fill="#5a80c8" opacity="0.5"/>
<rect x="462.20" y="461.64" width="0.8" height="0.8" fill="#5a80c8" opacity="0.5"/>
<rect x="464.93" y="450.81" width="0.8" height="0.8" fill="#5a80c8" opacity="0.5"/>
<rect x="454.99" y="447.48" width="0.8" height="0.8" fill="#5a80c8" opacity="0.5"/>
<rect x="440.89" y="442.86" width="0.8" height="0.8" fill="#5a80c8" opacity="0.5"/>
<rect x="471.03" y="444.49" width="0.8" height="0.8" fill="#5a80c8" opacity="0.5"/>
<rect x="465.49" y="457.61" width="0.8" height="0.8" fill="#5a80c8" opacity="0.5"/>
<rect x="467.08" y="451.38" width="0.8" height="0.8" fill="#5a80c8" opacity="0.5"/>
<rect x="452.32" y="445.55" width="0.8" height="0.8" fill="#5a80c8" opacity="0.5"/>
<rect x="447.31" y="454.55" width="0.8" height="0.8" fill="#5a80c8" opacity="0.5"/>
<rect x="466.76" y="461.61" width="0.8" height="0.8" fill="#5a80c8" opacity="0.5"/>
<rect x="452.89" y="461.25" width="0.8" height="0.8" fill="#5a80c8" opacity="0.5"/>
<rect x="475.55" y="445.97" width="0.8" height="0.8" fill="#5a80c8" opacity="0.5"/>
<rect x="477.13" y="453.86" width="0.8" height="0.8" fill="#5a80c8" opacity="0.5"/>
<rect x="453.00" y="445.70" width="0.8" height="0.8" fill="#5a80c8" opacity="0.5"/>
<rect x="460.38" y="450.71" width="0.8" height="0.8" fill="#5a80c8" opacity="0.5"/>
<rect x="441.38" y="459.70" width="0.8" height="0.8" fill="#5a80c8" opacity="0.5"/>
<rect x="460.88" y="450.35" width="0.8" height="0.8" fill="#5a80c8" opacity="0.5"/>
<rect x="469.04" y="444.99" width="0.8" height="0.8" fill="#5a80c8" opacity="0.5"/>
<rect x="447.77" y="452.94" width="0.8" height="0.8" fill="#5a80c8" opacity="0.5"/>
<rect x="449.41" y="446.86" width="0.8" height="0.8" fill="#5a80c8" opacity="0.5"/>
<rect x="442.73" y="440.25" width="0.8" height="0.8" fill="#5a80c8" opacity="0.5"/>
<rect x="453.86" y="451.65" width="0.8" height="0.8" fill="#5a80c8" opacity="0.5"/>
<rect x="477.01" y="454.35" width="0.8" height="0.8" fill="#5a80c8" opacity="0.5"/>
<rect x="456.16" y="448.76" width="0.8" height="0.8" fill="#5a80c8" opacity="0.5"/>
<rect x="449.18" y="450.37" width="0.8" height="0.8" fill="#5a80c8" opacity="0.5"/>
<rect x="477.40" y="441.93" width="0.8" height="0.8" fill="#5a80c8" opacity="0.5"/>
<rect x="456.89" y="455.46" width="0.8" height="0.8" fill="#5a80c8" opacity="0.5"/>
<rect x="469.73" y="452.32" width="0.8" height="0.8" fill="#5a80c8" opacity="0.5"/>
<rect x="465.01" y="461.52" width="0.8" height="0.8" fill="#5a80c8" opacity="0.5"/>
<rect x="475.20" y="445.03" width="0.8" height="0.8" fill="#5a80c8" opacity="0.5"/>
<rect x="461.11" y="462.94" width="0.8" height="0.8" fill="#5a80c8" opacity="0.5"/>
<rect x="460.58" y="443.54" width="0.8" height="0.8" fill="#5a80c8" opacity="0.5"/>
<rect x="445.86" y="452.23" width="0.8" height="0.8" fill="#5a80c8" opacity="0.5"/>
<rect x="450.63" y="456.27" width="0.8" height="0.8" fill="#5a80c8" opacity="0.5"/>
<rect x="468.34" y="446.66" width="0.8" height="0.8" fill="#5a80c8" opacity="0.5"/>
<rect x="469.91" y="454.55" width="0.8" height="0.8" fill="#5a80c8" opacity="0.5"/>
<rect x="467.53" y="449.96" width="0.8" height="0.8" fill="#5a80c8" opacity="0.5"/>
<rect x="456.87" y="441.56" width="0.8" height="0.8" fill="#5a80c8" opacity="0.5"/>
<rect x="458.52" y="461.91" width="0.8" height="0.8" fill="#5a80c8" opacity="0.5"/>
<rect x="442.77" y="445.47" width="0.8" height="0.8" fill="#5a80c8" opacity="0.5"/>
<rect x="467.08" y="449.50" width="0.8" height="0.8" fill="#5a80c8" opacity="0.5"/>
<rect x="444.99" y="449.21" width="0.8" height="0.8" fill="#5a80c8" opacity="0.5"/>
<rect x="462.35" y="456.86" width="0.8" height="0.8" fill="#5a80c8" opacity="0.5"/>
<rect x="455.72" y="454.59" width="0.8" height="0.8" fill="#5a80c8" opacity="0.5"/>
<rect x="466.57" y="453.78" width="0.8" height="0.8" fill="#5a80c8" opacity="0.5"/>
<rect x="441.81" y="456.05" width="0.8" height="0.8" fill="#5a80c8" opacity="0.5"/>
<rect x="445.01" y="440.31" width="0.8" height="0.8" fill="#5a80c8" opacity="0.5"/>
<rect x="442.84" y="448.38" width="0.8" height="0.8" fill="#5a80c8" opacity="0.5"/>
<rect x="458.27" y="441.53" width="0.8" height="0.8" fill="#5a80c8" opacity="0.5"/>
<rect x="458.98" y="453.11" width="0.8" height="0.8" fill="#5a80c8" opacity="0.5"/>
<rect x="452.31" y="462.61" width="0.8" height="0.8" fill="#5a80c8" opacity="0.5"/>
<rect x="444.68" y="446.30" width="0.8" height="0.8" fill="#5a80c8" opacity="0.5"/>
<rect x="448.62" y="459.78" width="0.8" height="0.8" fill="#5a80c8" opacity="0.5"/>
<rect x="459.84" y="448.85" width="0.8" height="0.8" fill="#5a80c8" opacity="0.5"/>
<rect x="455.55" y="460.29" width="0.8" height="0.8" fill="#5a80c8" opacity="0.5"/>
<rect x="450.04" y="457.99" width="0.8" height="0.8" fill="#5a80c8" opacity="0.5"/>
<rect x="467.62" y="449.76" width="0.8" height="0.8" fill="#5a80c8" opacity="0.5"/>
<rect x="454.27" y="449.48" width="0.8" height="0.8" fill="#5a80c8" opacity="0.5"/>
<rect x="457.67" y="446.57" width="0.8" height="0.8" fill="#5a80c8" opacity="0.5"/>
<rect x="464.33" y="448.87" width="0.8" height="0.8" fill="#5a80c8" opacity="0.5"/>
<rect x="451.84" y="457.55" width="0.8" height="0.8" fill="#5a80c8" opacity="0.5"/>
<rect x="457.75" y="450.37" width="0.8" height="0.8" fill="#5a80c8" opacity="0.5"/>
<rect x="474.30" y="449.91" width="0.8" height="0.8" fill="#5a80c8" opacity="0.5"/>
<rect x="454.66" y="460.55" width="0.8" height="0.8" fill="#5a80c8" opacity="0.5"/>
<rect x="455.66" y="455.11" width="0.8" height="0.8" fill="#5a80c8" opacity="0.5"/>
<rect x="468.90" y="446.11" width="0.8" height="0.8" fill="#5a80c8" opacity="0.5"/>
<rect x="468.24" y="461.79" width="0.8" height="0.8" fill="#5a80c8" opacity="0.5"/>
<rect x="465.58" y="455.05" width="0.8" height="0.8" fill="#5a80c8" opacity="0.5"/>
<rect x="456.97" y="454.68" width="0.8" height="0.8" fill="#5a80c8" opacity="0.5"/>
<rect x="448.81" y="457.49" width="0.8" height="0.8" fill="#5a80c8" opacity="0.5"/>
<rect x="461.03" y="462.52" width="0.8" height="0.8" fill="#5a80c8" opacity="0.5"/>
<rect x="453.33" y="456.08" width="0.8" height="0.8" fill="#5a80c8" opacity="0.5"/>
<rect x="440.65" y="448.99" width="0.8" height="0.8" fill="#5a80c8" opacity="0.5"/>
<rect x="469.89" y="445.23" width="0.8" height="0.8" fill="#5a80c8" opacity="0.5"/>
<rect x="463.93" y="444.30" width="0.8" height="0.8" fill="#5a80c8" opacity="0.5"/>
<rect x="455.54" y="462.85" width="0.8" height="0.8" fill="#5a80c8" opacity="0.5"/>
<rect x="447.67" y="460.91" width="0.8" height="0.8" fill="#5a80c8" opacity="0.5"/>
<rect x="442.33" y="452.99" width="0.8" height="0.8" fill="#5a80c8" opacity="0.5"/>
<rect x="455.26" y="453.17" width="0.8" height="0.8" fill="#5a80c8" opacity="0.5"/>
<rect x="467.77" y="457.28" width="0.8" height="0.8" fill="#5a80c8" opacity="0.5"/>
<rect x="469.12" y="452.89" width="0.8" height="0.8" fill="#5a80c8" opacity="0.5"/>
<rect x="449.81" y="455.93" width="0.8" height="0.8" fill="#5a80c8" opacity="0.5"/>
<rect x="461.89" y="452.06" width="0.8" height="0.8" fill="#5a80c8" opacity="0.5"/>
<rect x="478.50" y="442.28" width="0.8" height="0.8" fill="#5a80c8" opacity="0.5"/>
<rect x="470.45" y="446.79" width="0.8" height="0.8" fill="#5a80c8" opacity="0.5"/>
<rect x="468.34" y="461.81" width="0.8" height="0.8" fill="#5a80c8" opacity="0.5"/>
<rect x="450.70" y="452.61" width="0.8" height="0.8" fill="#5a80c8" opacity="0.5"/>
<rect x="460.60" y="450.88" width="0.8" height="0.8" fill="#5a80c8" opacity="0.5"/>
<rect x="446.52" y="454.01" width="0.8" height="0.8" fill="#5a80c8" opacity="0.5"/>
<rect x="474.85" y="454.92" width="0.8" height="0.8" fill="#5a80c8" opacity="0.5"/>
<rect x="451.28" y="458.34" width="0.8" height="0.8" fill="#5a80c8" opacity="0.5"/>
<rect x="456.38" y="442.49" width="0.8" height="0.8" fill="#5a80c8" opacity="0.5"/>
<rect x="463.63" y="450.05" width="0.8" height="0.8" fill="#5a80c8" opacity="0.5"/>
<rect x="460.66" y="462.79" width="0.8" height="0.8" fill="#5a80c8" opacity="0.5"/>
<rect x="462.21" y="461.88" width="0.8" height="0.8" fill="#5a80c8" opacity="0.5"/>
<rect x="453.75" y="457.21" width="0.8" height="0.8" fill="#5a80c8" opacity="0.5"/>
<rect x="442.94" y="446.21" width="0.8" height="0.8" fill="#5a80c8" opacity="0.5"/>
<rect x="466.99" y="455.57" width="0.8" height="0.8" fill="#5a80c8" opacity="0.5"/>
<rect x="472.31" y="448.12" width="0.8" height="0.8" fill="#5a80c8" opacity="0.5"/>
<rect x="450.67" y="447.60" width="0.8" height="0.8" fill="#5a80c8" opacity="0.5"/>
<rect x="454.61" y="454.77" width="0.8" height="0.8" fill="#5a80c8" opacity="0.5"/>
<rect x="445.80" y="446.47" width="0.8" height="0.8" fill="#5a80c8" opacity="0.5"/>
<rect x="449.74" y="443.27" width="0.8" height="0.8" fill="#5a80c8" opacity="0.5"/>
<rect x="444.59" y="441.06" width="0.8" height="0.8" fill="#5a80c8" opacity="0.5"/>
<rect x="450.31" y="450.74" width="0.8" height="0.8" fill="#5a80c8" opacity="0.5"/>
<rect x="448.24" y="455.88" width="0.8" height="0.8" fill="#5a80c8" opacity="0.5"/>
<rect x="467.27" y="447.09" width="0.8" height="0.8" fill="#5a80c8" opacity="0.5"/>
<rect x="474.26" y="444.24" width="0.8" height="0.8" fill="#5a80c8" opacity="0.5"/>
<rect x="458.48" y="446.53" width="0.8" height="0.8" fill="#5a80c8" opacity="0.5"/>
<rect x="457.23" y="458.50" width="0.8" height="0.8" fill="#5a80c8" opacity="0.5"/>
<rect x="462.23" y="453.62" width="0.8" height="0.8" fill="#5a80c8" opacity="0.5"/>
<rect x="478.49" y="444.36" width="0.8" height="0.8" fill="#5a80c8" opacity="0.5"/>
<rect x="448.69" y="453.87" width="0.8" height="0.8" fill="#5a80c8" opacity="0.5"/>
<rect x="445.86" y="462.14" width="0.8" height="0.8" fill="#5a80c8" opacity="0.5"/>
<rect x="453.31" y="449.56" width="0.8" height="0.8" fill="#5a80c8" opacity="0.5"/>
<rect x="456.82" y="458.86" width="0.8" height="0.8" fill="#5a80c8" opacity="0.5"/>
<rect x="446.68" y="447.52" width="0.8" height="0.8" fill="#5a80c8" opacity="0.5"/>
<rect x="467.55" y="444.19" width="0.8" height="0.8" fill="#5a80c8" opacity="0.5"/>
<rect x="448.83" y="447.74" width="0.8" height="0.8" fill="#5a80c8" opacity="0.5"/>
<rect x="448.92" y="456.25" width="0.8" height="0.8" fill="#5a80c8" opacity="0.5"/>
<rect x="441.84" y="455.70" width="0.8" height="0.8" fill="#5a80c8" opacity="0.5"/>
<rect x="442.44" y="459.19" width="0.8" height="0.8" fill="#5a80c8" opacity="0.5"/>
<rect x="461.19" y="453.00" width="0.8" height="0.8" fill="#5a80c8" opacity="0.5"/>
<rect x="443.71" y="440.06" width="0.8" height="0.8" fill="#5a80c8" opacity="0.5"/>
<rect x="453.77" y="462.63" width="0.8" height="0.8" fill="#5a80c8" opacity="0.5"/>
<rect x="463.40" y="459.69" width="0.8" height="0.8" fill="#5a80c8" opacity="0.5"/>
<rect x="442.44" y="441.44" width="0.8" height="0.8" fill="#5a80c8" opacity="0.5"/>
<rect x="440.82" y="455.73" width="0.8" height="0.8" fill="#5a80c8" opacity="0.5"/>
<rect x="446.88" y="445.54" width="0.8" height="0.8" fill="#5a80c8" opacity="0.5"/>
<rect x="466.01" y="455.69" width="0.8" height="0.8" fill="#5a80c8" opacity="0.5"/>
<rect x="452.57" y="450.22" width="0.8" height="0.8" fill="#5a80c8" opacity="0.5"/>
<rect x="451.27" y="452.47" width="0.8" height="0.8" fill="#5a80c8" opacity="0.5"/>
<rect x="453.88" y="447.64" width="0.8" height="0.8" fill="#5a80c8" opacity="0.5"/>
<rect x="449.71" y="446.01" width="0.8" height="0.8" fill="#5a80c8" opacity="0.5"/>
<rect x="452.11" y="453.21" width="0.8" height="0.8" fill="#5a80c8" opacity="0.5"/>
<rect x="450.48" y="441.71" width="0.8" height="0.8" fill="#5a80c8" opacity="0.5"/>
<rect x="472.99" y="450.26" width="0.8" height="0.8" fill="#5a80c8" opacity="0.5"/>
<rect x="459.96" y="446.49" width="0.8" height="0.8" fill="#5a80c8" opacity="0.5"/>
<rect x="464.28" y="454.83" width="0.8" height="0.8" fill="#5a80c8" opacity="0.5"/>
<rect x="467.00" y="451.01" width="0.8" height="0.8" fill="#5a80c8" opacity="0.5"/>
<rect x="456.11" y="448.36" width="0.8" height="0.8" fill="#5a80c8" opacity="0.5"/>
<rect x="459.66" y="450.25" width="0.8" height="0.8" fill="#5a80c8" opacity="0.5"/>
<rect x="460.63" y="451.79" width="0.8" height="0.8" fill="#5a80c8" opacity="0.5"/>
<rect x="448.73" y="439.53" width="0.8" height="0.8" fill="#5a80c8" opacity="0.5"/>
<rect x="451.74" y="439.76" width="0.8" height="0.8" fill="#5a80c8" opacity="0.5"/>
<rect x="471.06" y="453.89" width="0.8" height="0.8" fill="#5a80c8" opacity="0.5"/>
<rect x="451.14" y="443.59" width="0.8" height="0.8" fill="#5a80c8" opacity="0.5"/>
<rect x="466.66" y="455.60" width="0.8" height="0.8" fill="#5a80c8" opacity="0.5"/>
<rect x="469.04" y="449.91" width="0.8" height="0.8" fill="#5a80c8" opacity="0.5"/>
<rect x="455.50" y="452.27" width="0.8" height="0.8" fill="#5a80c8" opacity="0.5"/>
<rect x="453.09" y="479.86" width="0.8" height="0.8" fill="#5a80c8" opacity="0.55"/>
<rect x="453.67" y="477.37" width="0.8" height="0.8" fill="#5a80c8" opacity="0.55"/>
<rect x="440.19" y="467.95" width="0.8" height="0.8" fill="#5a80c8" opacity="0.55"/>
<rect x="454.54" y="472.70" width="0.8" height="0.8" fill="#5a80c8" opacity="0.55"/>
<rect x="447.24" y="468.96" width="0.8" height="0.8" fill="#5a80c8" opacity="0.55"/>
<rect x="452.79" y="472.27" width="0.8" height="0.8" fill="#5a80c8" opacity="0.55"/>
<rect x="454.85" y="465.21" width="0.8" height="0.8" fill="#5a80c8" opacity="0.55"/>
<rect x="454.89" y="464.21" width="0.8" height="0.8" fill="#5a80c8" opacity="0.55"/>
<rect x="441.37" y="470.23" width="0.8" height="0.8" fill="#5a80c8" opacity="0.55"/>
<rect x="449.23" y="465.77" width="0.8" height="0.8" fill="#5a80c8" opacity="0.55"/>
<rect x="448.00" y="479.03" width="0.8" height="0.8" fill="#5a80c8" opacity="0.55"/>
<rect x="445.97" y="476.20" width="0.8" height="0.8" fill="#5a80c8" opacity="0.55"/>
<rect x="448.47" y="473.32" width="0.8" height="0.8" fill="#5a80c8" opacity="0.55"/>
<rect x="441.77" y="471.42" width="0.8" height="0.8" fill="#5a80c8" opacity="0.55"/>
<rect x="453.41" y="474.79" width="0.8" height="0.8" fill="#5a80c8" opacity="0.55"/>
<rect x="442.47" y="471.15" width="0.8" height="0.8" fill="#5a80c8" opacity="0.55"/>
<rect x="447.70" y="469.39" width="0.8" height="0.8" fill="#5a80c8" opacity="0.55"/>
<rect x="448.24" y="474.11" width="0.8" height="0.8" fill="#5a80c8" opacity="0.55"/>
<rect x="439.29" y="467.52" width="0.8" height="0.8" fill="#5a80c8" opacity="0.55"/>
<rect x="449.51" y="467.43" width="0.8" height="0.8" fill="#5a80c8" opacity="0.55"/>
<rect x="440.16" y="476.19" width="0.8" height="0.8" fill="#5a80c8" opacity="0.55"/>
<rect x="444.34" y="479.32" width="0.8" height="0.8" fill="#5a80c8" opacity="0.55"/>
<rect x="447.94" y="465.62" width="0.8" height="0.8" fill="#5a80c8" opacity="0.55"/>
<rect x="449.19" y="468.20" width="0.8" height="0.8" fill="#5a80c8" opacity="0.55"/>
<rect x="452.03" y="475.59" width="0.8" height="0.8" fill="#5a80c8" opacity="0.55"/>
<rect x="451.13" y="464.92" width="0.8" height="0.8" fill="#5a80c8" opacity="0.55"/>
<rect x="439.55" y="476.77" width="0.8" height="0.8" fill="#5a80c8" opacity="0.55"/>
<rect x="441.25" y="467.23" width="0.8" height="0.8" fill="#5a80c8" opacity="0.55"/>
<rect x="439.48" y="466.62" width="0.8" height="0.8" fill="#5a80c8" opacity="0.55"/>
<rect x="446.58" y="479.33" width="0.8" height="0.8" fill="#5a80c8" opacity="0.55"/>
<rect x="444.14" y="468.15" width="0.8" height="0.8" fill="#5a80c8" opacity="0.55"/>
<rect x="452.25" y="466.95" width="0.8" height="0.8" fill="#5a80c8" opacity="0.55"/>
<rect x="449.16" y="473.84" width="0.8" height="0.8" fill="#5a80c8" opacity="0.55"/>
<rect x="453.97" y="464.70" width="0.8" height="0.8" fill="#5a80c8" opacity="0.55"/>
<rect x="448.01" y="470.13" width="0.8" height="0.8" fill="#5a80c8" opacity="0.55"/>
<rect x="452.18" y="468.04" width="0.8" height="0.8" fill="#5a80c8" opacity="0.55"/>
<rect x="450.44" y="466.96" width="0.8" height="0.8" fill="#5a80c8" opacity="0.55"/>
<rect x="446.92" y="479.49" width="0.8" height="0.8" fill="#5a80c8" opacity="0.55"/>
<rect x="442.84" y="468.46" width="0.8" height="0.8" fill="#5a80c8" opacity="0.55"/>
<rect x="453.68" y="474.79" width="0.8" height="0.8" fill="#5a80c8" opacity="0.55"/>
<rect x="440.05" y="466.98" width="0.8" height="0.8" fill="#5a80c8" opacity="0.55"/>
<rect x="442.79" y="468.64" width="0.8" height="0.8" fill="#5a80c8" opacity="0.55"/>
<rect x="452.51" y="475.21" width="0.8" height="0.8" fill="#5a80c8" opacity="0.55"/>
<rect x="454.68" y="474.71" width="0.8" height="0.8" fill="#5a80c8" opacity="0.55"/>
<rect x="449.05" y="470.13" width="0.8" height="0.8" fill="#5a80c8" opacity="0.55"/>
<rect x="450.48" y="471.90" width="0.8" height="0.8" fill="#5a80c8" opacity="0.55"/>
<rect x="439.94" y="471.87" width="0.8" height="0.8" fill="#5a80c8" opacity="0.55"/>
<rect x="445.15" y="472.50" width="0.8" height="0.8" fill="#5a80c8" opacity="0.55"/>
<rect x="439.78" y="464.45" width="0.8" height="0.8" fill="#5a80c8" opacity="0.55"/>
<rect x="454.73" y="469.94" width="0.8" height="0.8" fill="#5a80c8" opacity="0.55"/>
<rect x="444.28" y="466.37" width="0.8" height="0.8" fill="#5a80c8" opacity="0.55"/>
<rect x="448.48" y="478.64" width="0.8" height="0.8" fill="#5a80c8" opacity="0.55"/>
<rect x="441.89" y="472.00" width="0.8" height="0.8" fill="#5a80c8" opacity="0.55"/>
<rect x="447.00" y="476.25" width="0.8" height="0.8" fill="#5a80c8" opacity="0.55"/>
<rect x="448.04" y="467.82" width="0.8" height="0.8" fill="#5a80c8" opacity="0.55"/>
<rect x="442.03" y="475.59" width="0.8" height="0.8" fill="#5a80c8" opacity="0.55"/>
<rect x="440.25" y="477.84" width="0.8" height="0.8" fill="#5a80c8" opacity="0.55"/>
<rect x="439.54" y="467.03" width="0.8" height="0.8" fill="#5a80c8" opacity="0.55"/>
<rect x="446.48" y="477.50" width="0.8" height="0.8" fill="#5a80c8" opacity="0.55"/>
<rect x="448.91" y="475.93" width="0.8" height="0.8" fill="#5a80c8" opacity="0.55"/>
<rect x="451.18" y="475.56" width="0.8" height="0.8" fill="#5a80c8" opacity="0.55"/>
<rect x="439.83" y="477.20" width="0.8" height="0.8" fill="#5a80c8" opacity="0.55"/>
<rect x="441.36" y="466.60" width="0.8" height="0.8" fill="#5a80c8" opacity="0.55"/>
<rect x="439.60" y="464.45" width="0.8" height="0.8" fill="#5a80c8" opacity="0.55"/>
<rect x="453.03" y="470.10" width="0.8" height="0.8" fill="#5a80c8" opacity="0.55"/>
<rect x="440.38" y="464.75" width="0.8" height="0.8" fill="#5a80c8" opacity="0.55"/>
<rect x="452.54" y="473.63" width="0.8" height="0.8" fill="#5a80c8" opacity="0.55"/>
<rect x="453.66" y="464.60" width="0.8" height="0.8" fill="#5a80c8" opacity="0.55"/>
<rect x="440.80" y="468.59" width="0.8" height="0.8" fill="#5a80c8" opacity="0.55"/>
<rect x="442.06" y="465.79" width="0.8" height="0.8" fill="#5a80c8" opacity="0.55"/>
<rect x="442.21" y="474.25" width="0.8" height="0.8" fill="#5a80c8" opacity="0.55"/>
<rect x="441.69" y="466.70" width="0.8" height="0.8" fill="#5a80c8" opacity="0.55"/>
<rect x="447.57" y="470.01" width="0.8" height="0.8" fill="#5a80c8" opacity="0.55"/>
<rect x="441.39" y="473.09" width="0.8" height="0.8" fill="#5a80c8" opacity="0.55"/>
<rect x="447.13" y="470.21" width="0.8" height="0.8" fill="#5a80c8" opacity="0.55"/>
<rect x="446.59" y="464.64" width="0.8" height="0.8" fill="#5a80c8" opacity="0.55"/>
<rect x="448.84" y="467.09" width="0.8" height="0.8" fill="#5a80c8" opacity="0.55"/>
<rect x="444.37" y="464.15" width="0.8" height="0.8" fill="#5a80c8" opacity="0.55"/>
<rect x="453.20" y="473.40" width="0.8" height="0.8" fill="#5a80c8" opacity="0.55"/>
<rect x="445.27" y="472.67" width="0.8" height="0.8" fill="#5a80c8" opacity="0.55"/>
<rect x="454.04" y="466.11" width="0.8" height="0.8" fill="#5a80c8" opacity="0.55"/>
<rect x="445.13" y="475.33" width="0.8" height="0.8" fill="#5a80c8" opacity="0.55"/>
<rect x="444.95" y="475.31" width="0.8" height="0.8" fill="#5a80c8" opacity="0.55"/>
<rect x="453.53" y="464.65" width="0.8" height="0.8" fill="#5a80c8" opacity="0.55"/>
<rect x="443.55" y="468.69" width="0.8" height="0.8" fill="#5a80c8" opacity="0.55"/>
<rect x="451.00" y="476.55" width="0.8" height="0.8" fill="#5a80c8" opacity="0.55"/>
<rect x="450.19" y="478.80" width="0.8" height="0.8" fill="#5a80c8" opacity="0.55"/>
<rect x="441.97" y="470.29" width="0.8" height="0.8" fill="#5a80c8" opacity="0.55"/>
<rect x="452.65" y="476.25" width="0.8" height="0.8" fill="#5a80c8" opacity="0.55"/>
<rect x="440.80" y="479.68" width="0.8" height="0.8" fill="#5a80c8" opacity="0.55"/>
<rect x="450.85" y="477.85" width="0.8" height="0.8" fill="#5a80c8" opacity="0.55"/>
<rect x="444.79" y="473.69" width="0.8" height="0.8" fill="#5a80c8" opacity="0.55"/>
<rect x="454.34" y="478.37" width="0.8" height="0.8" fill="#5a80c8" opacity="0.55"/>
<rect x="448.23" y="478.24" width="0.8" height="0.8" fill="#5a80c8" opacity="0.55"/>
<rect x="454.98" y="477.43" width="0.8" height="0.8" fill="#5a80c8" opacity="0.55"/>
<rect x="449.49" y="479.37" width="0.8" height="0.8" fill="#5a80c8" opacity="0.55"/>
<rect x="441.30" y="470.46" width="0.8" height="0.8" fill="#5a80c8" opacity="0.55"/>
<rect x="448.03" y="466.11" width="0.8" height="0.8" fill="#5a80c8" opacity="0.55"/>
<rect x="451.49" y="464.99" width="0.8" height="0.8" fill="#5a80c8" opacity="0.55"/>
<rect x="449.06" y="468.48" width="0.8" height="0.8" fill="#5a80c8" opacity="0.55"/>
<rect x="444.17" y="473.71" width="0.8" height="0.8" fill="#5a80c8" opacity="0.55"/>
<rect x="442.06" y="471.16" width="0.8" height="0.8" fill="#5a80c8" opacity="0.55"/>
<rect x="452.72" y="479.79" width="0.8" height="0.8" fill="#5a80c8" opacity="0.55"/>
<rect x="443.20" y="469.85" width="0.8" height="0.8" fill="#5a80c8" opacity="0.55"/>
<rect x="450.10" y="467.04" width="0.8" height="0.8" fill="#5a80c8" opacity="0.55"/>
<rect x="452.59" y="467.18" width="0.8" height="0.8" fill="#5a80c8" opacity="0.55"/>
<rect x="447.91" y="469.43" width="0.8" height="0.8" fill="#5a80c8" opacity="0.55"/>
<rect x="439.02" y="464.02" width="0.8" height="0.8" fill="#5a80c8" opacity="0.55"/>
<rect x="439.03" y="469.25" width="0.8" height="0.8" fill="#5a80c8" opacity="0.55"/>
<rect x="443.40" y="479.86" width="0.8" height="0.8" fill="#5a80c8" opacity="0.55"/>
<rect x="449.20" y="465.04" width="0.8" height="0.8" fill="#5a80c8" opacity="0.55"/>
<rect x="450.46" y="467.72" width="0.8" height="0.8" fill="#5a80c8" opacity="0.55"/>
<rect x="446.70" y="475.56" width="0.8" height="0.8" fill="#5a80c8" opacity="0.55"/>
<rect x="452.71" y="478.96" width="0.8" height="0.8" fill="#5a80c8" opacity="0.55"/>
<rect x="445.74" y="469.08" width="0.8" height="0.8" fill="#5a80c8" opacity="0.55"/>
<rect x="445.36" y="469.00" width="0.8" height="0.8" fill="#5a80c8" opacity="0.55"/>
<rect x="450.87" y="471.41" width="0.8" height="0.8" fill="#5a80c8" opacity="0.55"/>
<rect x="449.97" y="466.43" width="0.8" height="0.8" fill="#5a80c8" opacity="0.55"/>
<rect x="451.52" y="479.47" width="0.8" height="0.8" fill="#5a80c8" opacity="0.55"/>
<rect x="442.25" y="473.87" width="0.8" height="0.8" fill="#5a80c8" opacity="0.55"/>
<rect x="441.59" y="464.57" width="0.8" height="0.8" fill="#5a80c8" opacity="0.55"/>
<rect x="445.62" y="466.93" width="0.8" height="0.8" fill="#5a80c8" opacity="0.55"/>
<rect x="450.69" y="473.16" width="0.8" height="0.8" fill="#5a80c8" opacity="0.55"/>
<rect x="449.79" y="479.49" width="0.8" height="0.8" fill="#5a80c8" opacity="0.55"/>
<rect x="439.93" y="465.57" width="0.8" height="0.8" fill="#5a80c8" opacity="0.55"/>
<rect x="439.57" y="471.35" width="0.8" height="0.8" fill="#5a80c8" opacity="0.55"/>
<rect x="452.19" y="474.94" width="0.8" height="0.8" fill="#5a80c8" opacity="0.55"/>
<rect x="447.77" y="477.70" width="0.8" height="0.8" fill="#5a80c8" opacity="0.55"/>
<rect x="444.95" y="465.81" width="0.8" height="0.8" fill="#5a80c8" opacity="0.55"/>
<rect x="449.27" y="464.41" width="0.8" height="0.8" fill="#5a80c8" opacity="0.55"/>
<rect x="442.67" y="464.48" width="0.8" height="0.8" fill="#5a80c8" opacity="0.55"/>
<rect x="441.59" y="465.02" width="0.8" height="0.8" fill="#5a80c8" opacity="0.55"/>
<rect x="447.50" y="466.05" width="0.8" height="0.8" fill="#5a80c8" opacity="0.55"/>
<rect x="448.65" y="477.19" width="0.8" height="0.8" fill="#5a80c8" opacity="0.55"/>
<rect x="444.51" y="465.93" width="0.8" height="0.8" fill="#5a80c8" opacity="0.55"/>
<rect x="449.74" y="475.66" width="0.8" height="0.8" fill="#5a80c8" opacity="0.55"/>
<rect x="453.14" y="472.87" width="0.8" height="0.8" fill="#5a80c8" opacity="0.55"/>
<rect x="448.31" y="477.81" width="0.8" height="0.8" fill="#5a80c8" opacity="0.55"/>
<rect x="449.84" y="479.60" width="0.8" height="0.8" fill="#5a80c8" opacity="0.55"/>
<rect x="443.59" y="476.39" width="0.8" height="0.8" fill="#5a80c8" opacity="0.55"/>
<rect x="464.49" y="462.03" width="0.7" height="0.7" fill="#8090d0" opacity="0.5"/>
<rect x="455.16" y="462.15" width="0.7" height="0.7" fill="#8090d0" opacity="0.5"/>
<rect x="458.95" y="464.02" width="0.7" height="0.7" fill="#8090d0" opacity="0.5"/>
<rect x="462.64" y="462.66" width="0.7" height="0.7" fill="#8090d0" opacity="0.5"/>
<rect x="455.88" y="456.97" width="0.7" height="0.7" fill="#8090d0" opacity="0.5"/>
<rect x="464.10" y="465.23" width="0.7" height="0.7" fill="#8090d0" opacity="0.5"/>
<rect x="469.86" y="466.89" width="0.7" height="0.7" fill="#8090d0" opacity="0.5"/>
<rect x="459.35" y="461.84" width="0.7" height="0.7" fill="#8090d0" opacity="0.5"/>
<rect x="462.59" y="467.06" width="0.7" height="0.7" fill="#8090d0" opacity="0.5"/>
<rect x="460.92" y="468.81" width="0.7" height="0.7" fill="#8090d0" opacity="0.5"/>
<rect x="462.26" y="460.97" width="0.7" height="0.7" fill="#8090d0" opacity="0.5"/>
<rect x="462.20" y="460.36" width="0.7" height="0.7" fill="#8090d0" opacity="0.5"/>
<rect x="469.99" y="455.70" width="0.7" height="0.7" fill="#8090d0" opacity="0.5"/>
<rect x="460.99" y="456.19" width="0.7" height="0.7" fill="#8090d0" opacity="0.5"/>
<rect x="465.17" y="457.26" width="0.7" height="0.7" fill="#8090d0" opacity="0.5"/>
<rect x="457.24" y="461.35" width="0.7" height="0.7" fill="#8090d0" opacity="0.5"/>
<rect x="464.03" y="466.45" width="0.7" height="0.7" fill="#8090d0" opacity="0.5"/>
<rect x="461.67" y="459.43" width="0.7" height="0.7" fill="#8090d0" opacity="0.5"/>
<rect x="460.52" y="468.33" width="0.7" height="0.7" fill="#8090d0" opacity="0.5"/>
<rect x="458.20" y="455.17" width="0.7" height="0.7" fill="#8090d0" opacity="0.5"/>
<rect x="468.29" y="462.24" width="0.7" height="0.7" fill="#8090d0" opacity="0.5"/>
<rect x="456.98" y="457.04" width="0.7" height="0.7" fill="#8090d0" opacity="0.5"/>
<rect x="468.36" y="466.24" width="0.7" height="0.7" fill="#8090d0" opacity="0.5"/>
<rect x="455.97" y="465.13" width="0.7" height="0.7" fill="#8090d0" opacity="0.5"/>
<rect x="458.21" y="461.69" width="0.7" height="0.7" fill="#8090d0" opacity="0.5"/>
<rect x="464.08" y="455.76" width="0.7" height="0.7" fill="#8090d0" opacity="0.5"/>
<rect x="469.03" y="460.03" width="0.7" height="0.7" fill="#8090d0" opacity="0.5"/>
<rect x="457.16" y="466.70" width="0.7" height="0.7" fill="#8090d0" opacity="0.5"/>
<rect x="456.64" y="455.56" width="0.7" height="0.7" fill="#8090d0" opacity="0.5"/>
<rect x="464.78" y="462.05" width="0.7" height="0.7" fill="#8090d0" opacity="0.5"/>
<rect x="468.51" y="466.86" width="0.7" height="0.7" fill="#8090d0" opacity="0.5"/>
<rect x="458.10" y="455.68" width="0.7" height="0.7" fill="#8090d0" opacity="0.5"/>
<rect x="464.05" y="462.06" width="0.7" height="0.7" fill="#8090d0" opacity="0.5"/>
<rect x="459.52" y="468.75" width="0.7" height="0.7" fill="#8090d0" opacity="0.5"/>
<rect x="458.13" y="464.65" width="0.7" height="0.7" fill="#8090d0" opacity="0.5"/>
<rect x="456.10" y="468.85" width="0.7" height="0.7" fill="#8090d0" opacity="0.5"/>
<rect x="469.23" y="464.27" width="0.7" height="0.7" fill="#8090d0" opacity="0.5"/>
<rect x="459.81" y="465.86" width="0.7" height="0.7" fill="#8090d0" opacity="0.5"/>
<rect x="468.55" y="466.92" width="0.7" height="0.7" fill="#8090d0" opacity="0.5"/>
<rect x="455.61" y="462.56" width="0.7" height="0.7" fill="#8090d0" opacity="0.5"/>
<g filter="url(#bl2)">
<path d="M440,441 L462,439.5 L478,441.5 L479,449 L466,456 L455,462 L440,463 Z" fill="#4c78c4" opacity="0.75"/>
<ellipse cx="448" cy="450" rx="9.5" ry="8.5" fill="#3cae8c"/>
</g><g filter="url(#bl1)">
<ellipse cx="445.8" cy="450.5" rx="5" ry="6.5" fill="#d8d040"/>
<ellipse cx="445" cy="449.8" rx="2.8" ry="4.2" fill="#f08a2a"/>
<ellipse cx="444.7" cy="449.3" rx="1.5" ry="2.3" fill="#e02818"/>
<ellipse cx="446" cy="472" rx="6" ry="6" fill="#5a80c8" opacity="0.55"/>
</g></g>
<rect x="437.5" y="426.2" width="55.2" height="54.7" fill="none" stroke="#333" stroke-width="0.7"/>
<line x1="452.90" y1="426.20" x2="452.90" y2="480.90" stroke="#333" stroke-width="1.2" />
<line x1="437.50" y1="466.10" x2="492.70" y2="466.10" stroke="#333" stroke-width="1.2" />
<text x="439.60" y="430.80" font-size="4.3" text-anchor="start" font-weight="normal" fill="#333" >Q1</text>
<text x="439.60" y="436.00" font-size="4.3" text-anchor="start" font-weight="normal" fill="#333" >61.3</text>
<text x="490.00" y="430.80" font-size="4.3" text-anchor="end" font-weight="normal" fill="#333" >Q2</text>
<text x="490.00" y="436.00" font-size="4.3" text-anchor="end" font-weight="normal" fill="#333" >28.1</text>
<text x="439.60" y="474.60" font-size="4.3" text-anchor="start" font-weight="normal" fill="#333" >Q4</text>
<text x="439.60" y="479.30" font-size="4.3" text-anchor="start" font-weight="normal" fill="#333" >8.05</text>
<text x="490.00" y="474.60" font-size="4.3" text-anchor="end" font-weight="normal" fill="#333" >Q3</text>
<text x="490.00" y="479.30" font-size="4.3" text-anchor="end" font-weight="normal" fill="#333" >0.54</text>
<line x1="436.10" y1="438.60" x2="437.50" y2="438.60" stroke="#333" stroke-width="0.6" />
<text x="435.50" y="440.10" font-size="4.3" text-anchor="end" font-weight="normal" fill="#333" >10<tspan dy="-1.4" font-size="3.01">5</tspan></text>
<line x1="436.10" y1="450.90" x2="437.50" y2="450.90" stroke="#333" stroke-width="0.6" />
<text x="435.50" y="452.40" font-size="4.3" text-anchor="end" font-weight="normal" fill="#333" >10<tspan dy="-1.4" font-size="3.01">4</tspan></text>
<line x1="436.10" y1="462.30" x2="437.50" y2="462.30" stroke="#333" stroke-width="0.6" />
<text x="435.50" y="463.80" font-size="4.3" text-anchor="end" font-weight="normal" fill="#333" >10<tspan dy="-1.4" font-size="3.01">3</tspan></text>
<line x1="436.10" y1="474.90" x2="437.50" y2="474.90" stroke="#333" stroke-width="0.6" />
<text x="435.50" y="476.40" font-size="4.3" text-anchor="end" font-weight="normal" fill="#333" >0</text>
<rect x="435.6" y="471.5" width="1.4" height="4" fill="#111"/>
<text x="0" y="0" font-size="5" text-anchor="middle" fill="#333" transform="translate(423.5 454) rotate(-90)">CD38 APC-A</text>
<text x="444.40" y="487.50" font-size="4.3" text-anchor="middle" font-weight="normal" fill="#333" >0</text>
<text x="454.20" y="487.50" font-size="4.3" text-anchor="middle" font-weight="normal" fill="#333" >10<tspan dy="-1.4" font-size="3.01">3</tspan></text>
<text x="469.00" y="487.50" font-size="4.3" text-anchor="middle" font-weight="normal" fill="#333" >10<tspan dy="-1.4" font-size="3.01">4</tspan></text>
<text x="481.20" y="487.50" font-size="4.3" text-anchor="middle" font-weight="normal" fill="#333" >10<tspan dy="-1.4" font-size="3.01">5</tspan></text>
<rect x="441.5" y="481" width="5" height="1.4" fill="#111"/>
<text x="0" y="0" font-size="6.2" text-anchor="middle" fill="#222" transform="translate(464 497.2) scale(0.8 1)">CD34 PE-Cy7-A</text>
<text x="463.00" y="423.80" font-size="5.6" text-anchor="middle" font-weight="normal" fill="#222" >gated on CD3−</text>
<path d="M359.60,567.30 L360.60,545.00 L361.50,524.00 L362.20,517.30 L362.90,526.00 L363.80,540.00 L365.00,549.00 L366.50,554.00 L368.50,557.50 L370.50,559.50 L373.00,561.50 L376.00,564.30 L379.00,566.20 L382.00,567.30 Z" fill="#c8c8c8" stroke="#222" stroke-width="0.6"/>
<rect x="355.0" y="512.4" width="54.30" height="55.10" fill="none" stroke="#333" stroke-width="0.7"/>
<line x1="353.40" y1="522.50" x2="355.00" y2="522.50" stroke="#333" stroke-width="0.6" />
<text x="352.70" y="524.00" font-size="4.3" text-anchor="end" font-weight="normal" fill="#333" >600</text>
<line x1="353.40" y1="537.20" x2="355.00" y2="537.20" stroke="#333" stroke-width="0.6" />
<text x="352.70" y="538.70" font-size="4.3" text-anchor="end" font-weight="normal" fill="#333" >400</text>
<line x1="353.40" y1="552.00" x2="355.00" y2="552.00" stroke="#333" stroke-width="0.6" />
<text x="352.70" y="553.50" font-size="4.3" text-anchor="end" font-weight="normal" fill="#333" >200</text>
<line x1="353.40" y1="566.60" x2="355.00" y2="566.60" stroke="#333" stroke-width="0.6" />
<text x="352.70" y="568.10" font-size="4.3" text-anchor="end" font-weight="normal" fill="#333" >0</text>
<text x="361.00" y="575.30" font-size="4.3" text-anchor="middle" font-weight="normal" fill="#333" >0</text>
<line x1="361.00" y1="567.50" x2="361.00" y2="568.80" stroke="#333" stroke-width="0.4" />
<text x="378.20" y="575.30" font-size="4.3" text-anchor="middle" font-weight="normal" fill="#333" >10<tspan dy="-1.4" font-size="3.01">3</tspan></text>
<line x1="378.20" y1="567.50" x2="378.20" y2="568.80" stroke="#333" stroke-width="0.4" />
<text x="391.30" y="575.30" font-size="4.3" text-anchor="middle" font-weight="normal" fill="#333" >10<tspan dy="-1.4" font-size="3.01">4</tspan></text>
<line x1="391.30" y1="567.50" x2="391.30" y2="568.80" stroke="#333" stroke-width="0.4" />
<text x="403.60" y="575.30" font-size="4.3" text-anchor="middle" font-weight="normal" fill="#333" >10<tspan dy="-1.4" font-size="3.01">5</tspan></text>
<line x1="403.60" y1="567.50" x2="403.60" y2="568.80" stroke="#333" stroke-width="0.4" />
<text x="368.40" y="525.00" font-size="4.3" text-anchor="start" font-weight="normal" fill="#333" >MDS</text>
<text x="368.40" y="529.70" font-size="4.3" text-anchor="start" font-weight="normal" fill="#333" >CD34+CD38+CD4+</text>
<text x="368.40" y="534.40" font-size="4.3" text-anchor="start" font-weight="normal" fill="#333" >21.9%</text>
<line x1="368.40" y1="538.90" x2="406.00" y2="538.90" stroke="#333" stroke-width="0.7" />
<line x1="368.40" y1="537.60" x2="368.40" y2="540.20" stroke="#333" stroke-width="0.7" />
<line x1="406.00" y1="537.60" x2="406.00" y2="540.20" stroke="#333" stroke-width="0.7" />
<text x="0" y="0" font-size="5.2" text-anchor="middle" fill="#333" transform="translate(340.00 540.5) rotate(-90) scale(0.85 1)">Count</text>
<text x="0" y="0" font-size="6.2" text-anchor="middle" fill="#222" transform="translate(382.65 583.6) scale(0.8 1)">CD4 FITC-A</text>
<text x="382.50" y="509.80" font-size="6.2" text-anchor="middle" font-weight="normal" fill="#222" >gated on CD34+CD38+</text>
<rect x="359.50" y="567.10" width="3.5" height="1.6" fill="#111"/>
<path d="M442.00,567.30 L443.00,545.00 L443.80,523.00 L444.40,516.80 L445.00,524.00 L445.80,540.00 L446.60,552.00 L447.80,560.00 L449.50,564.50 L452.00,566.70 L455.00,567.30 Z" fill="#c8c8c8" stroke="#222" stroke-width="0.6"/>
<rect x="437.0" y="512.4" width="54.00" height="55.10" fill="none" stroke="#333" stroke-width="0.7"/>
<line x1="435.40" y1="519.20" x2="437.00" y2="519.20" stroke="#333" stroke-width="0.6" />
<text x="434.70" y="520.70" font-size="4.3" text-anchor="end" font-weight="normal" fill="#333" >500</text>
<line x1="435.40" y1="528.70" x2="437.00" y2="528.70" stroke="#333" stroke-width="0.6" />
<text x="434.70" y="530.20" font-size="4.3" text-anchor="end" font-weight="normal" fill="#333" >400</text>
<line x1="435.40" y1="538.20" x2="437.00" y2="538.20" stroke="#333" stroke-width="0.6" />
<text x="434.70" y="539.70" font-size="4.3" text-anchor="end" font-weight="normal" fill="#333" >300</text>
<line x1="435.40" y1="548.00" x2="437.00" y2="548.00" stroke="#333" stroke-width="0.6" />
<text x="434.70" y="549.50" font-size="4.3" text-anchor="end" font-weight="normal" fill="#333" >200</text>
<line x1="435.40" y1="557.70" x2="437.00" y2="557.70" stroke="#333" stroke-width="0.6" />
<text x="434.70" y="559.20" font-size="4.3" text-anchor="end" font-weight="normal" fill="#333" >100</text>
<line x1="435.40" y1="567.00" x2="437.00" y2="567.00" stroke="#333" stroke-width="0.6" />
<text x="434.70" y="568.50" font-size="4.3" text-anchor="end" font-weight="normal" fill="#333" >0</text>
<text x="443.60" y="575.30" font-size="4.3" text-anchor="middle" font-weight="normal" fill="#333" >0</text>
<line x1="443.60" y1="567.50" x2="443.60" y2="568.80" stroke="#333" stroke-width="0.4" />
<text x="460.00" y="575.30" font-size="4.3" text-anchor="middle" font-weight="normal" fill="#333" >10<tspan dy="-1.4" font-size="3.01">3</tspan></text>
<line x1="460.00" y1="567.50" x2="460.00" y2="568.80" stroke="#333" stroke-width="0.4" />
<text x="473.00" y="575.30" font-size="4.3" text-anchor="middle" font-weight="normal" fill="#333" >10<tspan dy="-1.4" font-size="3.01">4</tspan></text>
<line x1="473.00" y1="567.50" x2="473.00" y2="568.80" stroke="#333" stroke-width="0.4" />
<text x="485.30" y="575.30" font-size="4.3" text-anchor="middle" font-weight="normal" fill="#333" >10<tspan dy="-1.4" font-size="3.01">5</tspan></text>
<line x1="485.30" y1="567.50" x2="485.30" y2="568.80" stroke="#333" stroke-width="0.4" />
<text x="450.60" y="525.00" font-size="4.3" text-anchor="start" font-weight="normal" fill="#333" >healthy</text>
<text x="450.60" y="529.70" font-size="4.3" text-anchor="start" font-weight="normal" fill="#333" >CD34+CD38+CD4+</text>
<text x="450.60" y="534.40" font-size="4.3" text-anchor="start" font-weight="normal" fill="#333" >2.3%</text>
<line x1="450.60" y1="538.90" x2="488.20" y2="538.90" stroke="#333" stroke-width="0.7" />
<line x1="450.60" y1="537.60" x2="450.60" y2="540.20" stroke="#333" stroke-width="0.7" />
<line x1="488.20" y1="537.60" x2="488.20" y2="540.20" stroke="#333" stroke-width="0.7" />
<text x="0" y="0" font-size="5.2" text-anchor="middle" fill="#333" transform="translate(422.00 540.5) rotate(-90) scale(0.85 1)">Count</text>
<text x="0" y="0" font-size="6.2" text-anchor="middle" fill="#222" transform="translate(464.50 583.6) scale(0.8 1)">CD4 FITC-A</text>
<text x="464.00" y="509.80" font-size="6.2" text-anchor="middle" font-weight="normal" fill="#222" >gated on CD34+CD38+</text>
<rect x="441.50" y="567.10" width="3.5" height="1.6" fill="#111"/>
<g shape-rendering="crispEdges"><rect x="0" y="0" width="520" height="1" fill="#666"/><rect x="0" y="590" width="520" height="1" fill="#666"/><rect x="0" y="0" width="1" height="591" fill="#666"/><rect x="519" y="0" width="1" height="591" fill="#666"/><rect x="1" y="1" width="1" height="589" fill="#b4b4b4"/><rect x="518" y="1" width="1" height="589" fill="#dcdcdc"/><rect x="1" y="1" width="518" height="1" fill="#e4e4e4"/><rect x="1" y="589" width="518" height="1" fill="#e8e8e8"/></g>
</svg></body></html>
